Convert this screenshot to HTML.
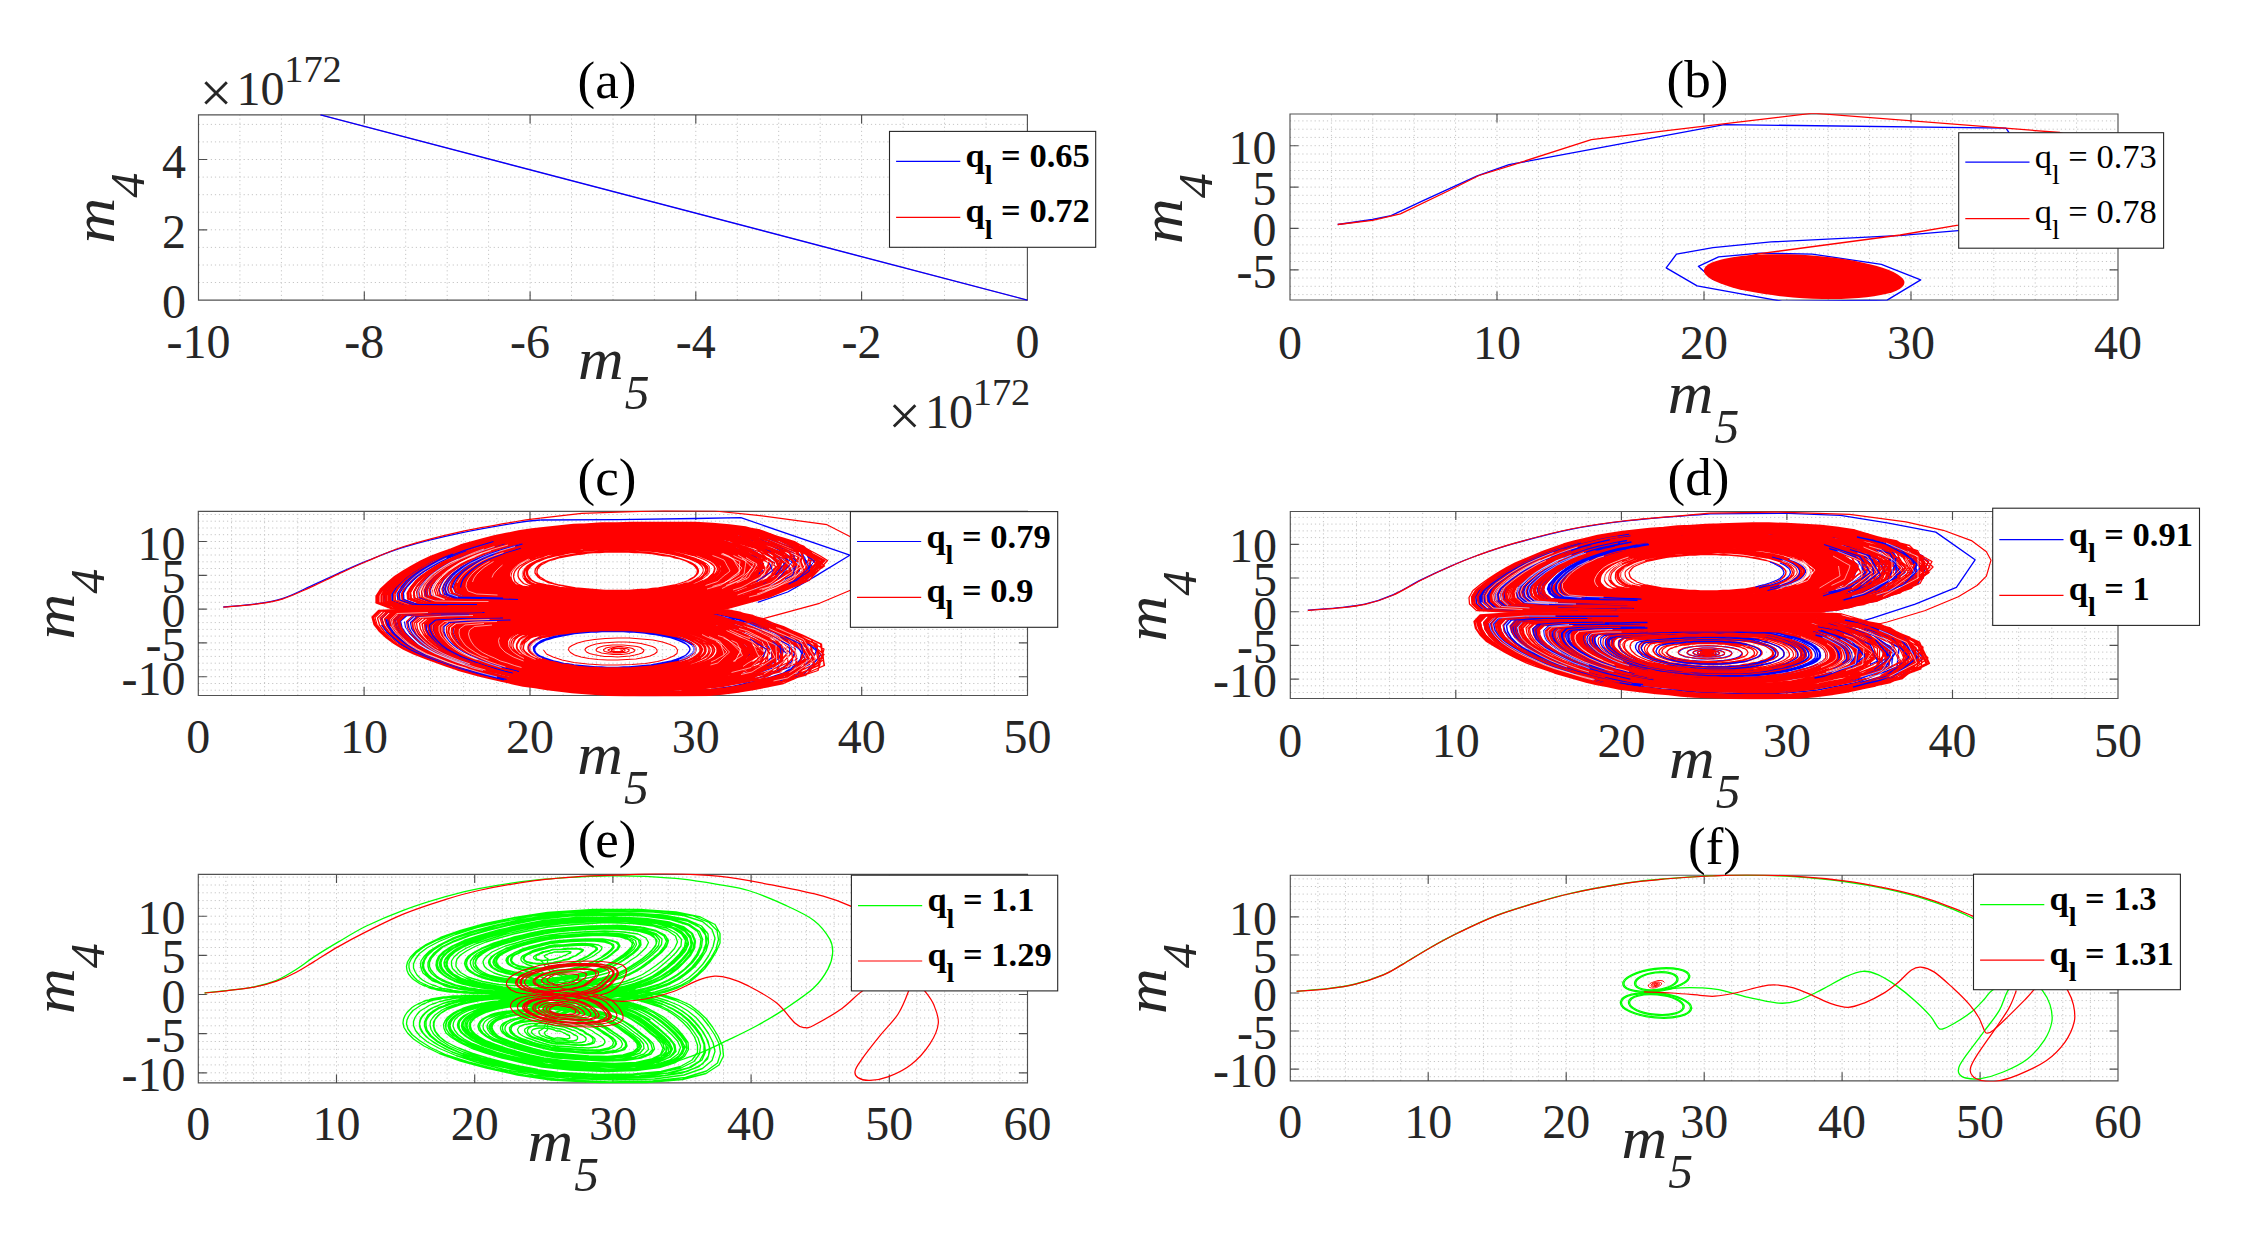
<!DOCTYPE html>
<html lang="en"><head><meta charset="utf-8"><title>Phase portraits m5-m4</title>
<style>html,body{margin:0;padding:0;background:#fff}svg{display:block}</style></head>
<body>
<svg width="2244" height="1252" viewBox="0 0 2244 1252" font-family="'Liberation Serif', serif">
<defs>
<clipPath id="cp-a"><rect x="198.5" y="114.1" width="829.7" height="186.8"/></clipPath>
<clipPath id="cp-b"><rect x="1290" y="113.2" width="828.8" height="187.6"/></clipPath>
<clipPath id="cp-c"><rect x="198.3" y="510.6" width="830" height="185.7"/></clipPath>
<clipPath id="cp-d"><rect x="1290.3" y="510.7" width="828.5" height="188.6"/></clipPath>
<clipPath id="cp-e"><rect x="198.3" y="873.6" width="830" height="210.1"/></clipPath>
<clipPath id="cp-f"><rect x="1290.3" y="874.4" width="828.5" height="207.2"/></clipPath>
</defs>
<rect width="2244" height="1252" fill="#fff"/>
<g id="ax-a">
<rect x="198.5" y="114.9" width="828.9" height="185.2" fill="#fff"/>
<path d="M239.9 300.1V114.9M281.4 300.1V114.9M322.8 300.1V114.9M364.3 300.1V114.9M405.7 300.1V114.9M447.2 300.1V114.9M488.6 300.1V114.9M530.1 300.1V114.9M571.5 300.1V114.9M613 300.1V114.9M654.4 300.1V114.9M695.8 300.1V114.9M737.3 300.1V114.9M778.7 300.1V114.9M820.2 300.1V114.9M861.6 300.1V114.9M903.1 300.1V114.9M944.5 300.1V114.9M986 300.1V114.9M198.5 282.5H1027.4M198.5 265H1027.4M198.5 247.4H1027.4M198.5 229.8H1027.4M198.5 212.2H1027.4M198.5 194.7H1027.4M198.5 177.1H1027.4M198.5 159.5H1027.4M198.5 141.9H1027.4M198.5 124.4H1027.4" stroke="#c6c6c6" stroke-width="1" stroke-dasharray="1.2 2.9" fill="none"/>
<path d="M198.5 114.9H1027.4V300.1H198.5ZM364.3 300.1v-8.5M364.3 114.9v8.5M530.1 300.1v-8.5M530.1 114.9v8.5M695.8 300.1v-8.5M695.8 114.9v8.5M861.6 300.1v-8.5M861.6 114.9v8.5M198.5 229.8h8.5M1027.4 229.8h-8.5M198.5 159.5h8.5M1027.4 159.5h-8.5" stroke="#262626" stroke-width="1.15" fill="none" stroke-opacity="0.8"/>
</g>
<g clip-path="url(#cp-a)">
<path d="M320.5 114.9L1027.4 300.1" stroke="#ff0000" stroke-width="0.6" fill="none" stroke-linejoin="round" />
<path d="M320.5 114.9L1027.4 300.1" stroke="#0000ff" stroke-width="1.4" fill="none" stroke-linejoin="round" />
</g>
<g font-size="48" fill="#262626">
<text x="198.5" y="358.2" text-anchor="middle">-10</text>
<text x="364.3" y="358.2" text-anchor="middle">-8</text>
<text x="530.1" y="358.2" text-anchor="middle">-6</text>
<text x="695.8" y="358.2" text-anchor="middle">-4</text>
<text x="861.6" y="358.2" text-anchor="middle">-2</text>
<text x="1027.4" y="358.2" text-anchor="middle">0</text>
<text x="186" y="318.1" text-anchor="end">0</text>
<text x="186" y="247.8" text-anchor="end">2</text>
<text x="186" y="177.5" text-anchor="end">4</text>
</g>
<g id="ax-b">
<rect x="1290" y="114" width="828" height="186" fill="#fff"/>
<path d="M1331.4 300V114M1372.8 300V114M1414.2 300V114M1455.6 300V114M1497 300V114M1538.4 300V114M1579.8 300V114M1621.2 300V114M1662.6 300V114M1704 300V114M1745.4 300V114M1786.8 300V114M1828.2 300V114M1869.6 300V114M1911 300V114M1952.4 300V114M1993.8 300V114M2035.2 300V114M2076.6 300V114M1290 294.6H2118M1290 286.3H2118M1290 278H2118M1290 269.8H2118M1290 261.5H2118M1290 253.2H2118M1290 244.9H2118M1290 236.7H2118M1290 228.4H2118M1290 220.1H2118M1290 211.9H2118M1290 203.6H2118M1290 195.3H2118M1290 187.1H2118M1290 178.8H2118M1290 170.5H2118M1290 162.2H2118M1290 154H2118M1290 145.7H2118M1290 137.4H2118M1290 129.2H2118M1290 120.9H2118" stroke="#c6c6c6" stroke-width="1" stroke-dasharray="1.2 2.9" fill="none"/>
<path d="M1290 114H2118V300H1290ZM1497 300v-8.5M1497 114v8.5M1704 300v-8.5M1704 114v8.5M1911 300v-8.5M1911 114v8.5M1290 269.8h8.5M2118 269.8h-8.5M1290 228.4h8.5M2118 228.4h-8.5M1290 187.1h8.5M2118 187.1h-8.5M1290 145.7h8.5M2118 145.7h-8.5" stroke="#262626" stroke-width="1.15" fill="none" stroke-opacity="0.8"/>
</g>
<g clip-path="url(#cp-b)">
<path d="M1337.7 224.5L1372.4 219.5L1391.1 215.7L1421 201.7L1477.2 175.9L1509 164.7L1533.3 160.2L1724.2 124.6L2005.9 128.2L2011.5 136.2L2070.5 184.9L2042.4 222.3L1958.2 230.7L1902 235.4L1771 241.9L1713 247.6L1676.5 254.1L1666.2 267.8L1697.1 285.9L1782.2 301.3L1887.1 300.2L1920.7 279.9L1881.4 264.4L1812.2 254.1L1759.8 253.2L1718.6 256.9L1698.4 266.3L1713 279.4L1752.3 289.7L1808.4 295.3" stroke="#0000ff" stroke-width="1.35" fill="none" stroke-linejoin="round" />
<ellipse cx="1804.1" cy="276.6" rx="100.5" ry="21.6" transform="rotate(3.6 1804.1 276.6)" fill="#ff0000"/>
<path d="M1337.7 224.5L1372.4 220.4L1400.4 213.9L1449.1 190.5L1479 175.5L1514.6 164.3L1591.3 139.6L1813.1 113.2L2060 132.5L2107.9 147.4L2098.5 194.2L1958.2 225.1L1900.2 235L1759.8 253.7L1733.6 259.7" stroke="#ff0000" stroke-width="1.3" fill="none" stroke-linejoin="round" />
</g>
<g font-size="48" fill="#262626">
<text x="1290" y="358.6" text-anchor="middle">0</text>
<text x="1497" y="358.6" text-anchor="middle">10</text>
<text x="1704" y="358.6" text-anchor="middle">20</text>
<text x="1911" y="358.6" text-anchor="middle">30</text>
<text x="2118" y="358.6" text-anchor="middle">40</text>
<text x="1276.5" y="287.8" text-anchor="end">-5</text>
<text x="1276.5" y="246.4" text-anchor="end">0</text>
<text x="1276.5" y="205.1" text-anchor="end">5</text>
<text x="1276.5" y="163.7" text-anchor="end">10</text>
</g>
<g id="ax-c">
<rect x="198.3" y="511.4" width="829.2" height="184.1" fill="#fff"/>
<path d="M231.5 695.5V511.4M264.6 695.5V511.4M297.8 695.5V511.4M331 695.5V511.4M364.1 695.5V511.4M397.3 695.5V511.4M430.5 695.5V511.4M463.6 695.5V511.4M496.8 695.5V511.4M530 695.5V511.4M563.1 695.5V511.4M596.3 695.5V511.4M629.5 695.5V511.4M662.7 695.5V511.4M695.8 695.5V511.4M729 695.5V511.4M762.2 695.5V511.4M795.3 695.5V511.4M828.5 695.5V511.4M861.7 695.5V511.4M894.8 695.5V511.4M928 695.5V511.4M961.2 695.5V511.4M994.3 695.5V511.4M198.3 690.2H1027.5M198.3 683.5H1027.5M198.3 676.7H1027.5M198.3 669.9H1027.5M198.3 663.2H1027.5M198.3 656.4H1027.5M198.3 649.7H1027.5M198.3 642.9H1027.5M198.3 636.1H1027.5M198.3 629.4H1027.5M198.3 622.6H1027.5M198.3 615.9H1027.5M198.3 609.1H1027.5M198.3 602.3H1027.5M198.3 595.6H1027.5M198.3 588.8H1027.5M198.3 582.1H1027.5M198.3 575.3H1027.5M198.3 568.5H1027.5M198.3 561.8H1027.5M198.3 555H1027.5M198.3 548.3H1027.5M198.3 541.5H1027.5M198.3 534.7H1027.5M198.3 528H1027.5M198.3 521.2H1027.5M198.3 514.5H1027.5" stroke="#c6c6c6" stroke-width="1" stroke-dasharray="1.2 2.9" fill="none"/>
<path d="M198.3 511.4H1027.5V695.5H198.3ZM364.1 695.5v-8.5M364.1 511.4v8.5M530 695.5v-8.5M530 511.4v8.5M695.8 695.5v-8.5M695.8 511.4v8.5M861.7 695.5v-8.5M861.7 511.4v8.5M198.3 676.7h8.5M1027.5 676.7h-8.5M198.3 642.9h8.5M1027.5 642.9h-8.5M198.3 609.1h8.5M1027.5 609.1h-8.5M198.3 575.3h8.5M1027.5 575.3h-8.5M198.3 541.5h8.5M1027.5 541.5h-8.5" stroke="#262626" stroke-width="1.15" fill="none" stroke-opacity="0.8"/>
</g>
<g clip-path="url(#cp-c)">
<path d="M223.3 607C228.4 606.5 244.3 605.6 254.1 604.2C264 602.8 272.9 601.5 282.2 598.6C291.6 595.6 300.9 590.6 310.3 586.4C319.7 582.2 329 577.5 338.4 573.3C347.7 569.1 355.5 565.5 366.4 561.1C377.4 556.8 388.3 551.8 403.9 547.1C419.5 542.4 441.3 537.1 460 533.1C478.7 529 502.8 525 516.2 522.8C529.6 520.6 536.4 520.4 540.5 520" stroke="#0000ff" stroke-width="1.3" fill="none" stroke-linejoin="round" />
<path d="M540.5 520L618 519.6L696 518.5L740.9 517.7L849.8 555.2L813.9 577.1L787.7 592L757.7 602.3" stroke="#0000ff" stroke-width="1.3" fill="none" stroke-linejoin="round" />
<path transform="scale(0.5)" d="M1519 1142l-1 7-11 6-11 7-11 6-11 6-16 5-15 4-16 5-16 5-17 4-24 1-23 0-20 1-20 0-19 1-19 0-18 0-17 0-18 0-18 0-19 0-19 0-20-1-21 0-23-1-25-1-28-1-33-1-38-1-48-1-20-7-3-9 3-10 6-9 7-8 8-8 11-7 11-7 12-7 14-6 15-6 14-5 16-5 17-5 17-4 18-4 19-3 20-3 20-2 21-2 20-2 21-1 21 0 22-1 21 0 22 0 22 0 23 1 23 1 23 1 23 3 23 3 18 4 18 5 19 5 13 6 14 6 13 7 14 6-1 7-2 7zM1504 1142l-7 6-6 7-7 6-13 5-14 5-13 5-13 5-16 4-15 4-16 4-22 1-21 1-20 1-18 0-18 1-18 0-17 0-16 0-17 0-17 0-18 0-17-1-19 0-19-1-21-1-23-1-25-1-28-1-33-2-42-1-17-7-4-8 2-8 4-8 5-8 7-7 8-7 10-6 11-6 12-6 13-5 14-5 14-5 16-4 15-4 17-4 18-3 18-2 19-2 19-2 19-2 19-1 20-1 20 0 20 0 20 0 21 0 21 0 22 1 21 2 22 2 21 3 19 3 15 6 15 5 15 5 15 5 8 7 7 6 7 7 8 6zM1558 1142l-2 8-13 7-13 7-13 7-13 7-18 5-18 5-18 6-17 5-19 4-29 1-25 0-24 1-22 0-21 0-20 0-20 1-19 0-20 0-20-1-20 0-21 0-22 0-24-1-25 0-29-1-32 0-38-1-46-1-58 0-23-9-2-11 5-10 8-11 9-9 11-9 13-8 13-8 15-7 15-7 17-7 16-5 18-6 18-5 19-5 20-4 21-4 22-3 22-3 23-2 23-2 24-2 24 0 24-1 24 0 25 0 25 0 26 0 27 1 27 2 26 2 26 4 21 5 21 6 21 5 15 7 16 7 15 8 15 7-2 8-2 8zM1598 1142l-13 8-13 8-13 8-12 9-19 6-19 6-19 6-19 6-20 5-20 5-32 1-28 0-26 0-24 0-23 0-22 1-21 0-21 0-21 0-22 0-22 0-23-1-24 0-26 0-29 0-32 0-37-1-44 0-53 0-69-1-25-9-2-12 7-13 11-11 12-11 13-10 15-9 16-9 17-8 18-7 18-7 18-7 20-6 20-5 21-6 22-4 23-5 24-3 25-3 25-3 25-2 26-1 26-1 27-1 26 0 27 0 29 0 29 0 29 1 30 2 30 2 28 4 25 6 25 5 18 8 18 7 19 8 18 7 3 10 3 9 3 9zM1555 1141l-9 8-9 8-9 8-16 5-16 6-15 6-16 6-18 5-18 5-18 4-28 1-25 1-23 0-22 0-21 1-20 0-19 0-19 0-20 0-19 0-20 0-21-1-22 0-23 0-25-1-29 0-32-1-37-1-45-1-56 0-23-9-2-10 5-11 7-10 10-9 11-9 12-8 13-8 14-7 16-7 16-6 16-6 18-5 18-5 18-5 20-4 21-4 21-3 23-3 22-2 23-2 23-1 23-1 24 0 23 0 25-1 24 0 26 1 26 1 26 1 26 3 26 3 23 5 18 6 17 6 18 6 18 7 8 7 9 8 8 8 9 8zM1566 1141l-9 8-10 8-9 8-16 6-17 7-16 6-17 6-18 5-18 5-19 4-29 1-26 0-24 1-23 0-21 0-21 0-20 0-19 0-20 0-20 0-21 0-21 0-22 0-24-1-26 0-29-1-33 0-38-1-47-1-58-1-23-8-1-11 5-11 9-10 9-10 12-9 13-8 13-8 15-7 16-7 16-7 17-5 18-6 18-5 19-5 20-4 21-4 22-3 23-3 22-2 23-2 24-1 24-1 24-1 24 0 25 0 25 0 26 0 27 1 27 2 27 2 26 3 25 5 18 6 19 6 18 7 18 6 9 8 9 8 9 8 9 8zM1502 1142l-6 6-7 7-6 6-13 5-13 5-13 5-13 5-15 4-16 5-15 4-23 0-21 1-19 1-19 1-18 0-17 0-17 0-17 0-17 0-17 0-18 0-18 0-19-1-19-1-21 0-23-1-25-2-29-1-33-1-42-2-17-6-3-9 1-8 5-8 5-8 8-7 9-7 9-6 12-6 12-6 13-5 14-5 15-5 15-4 16-4 17-3 17-3 18-3 19-2 19-2 18-1 20-1 19-1 20 0 19 0 20 0 21 0 21 0 21 1 21 2 21 2 21 3 19 3 15 5 15 5 15 5 15 5 8 7 7 6 8 7 7 6zM1563 1141l-7 9-7 8-15 6-15 7-15 7-15 6-19 5-18 5-18 5-19 5-29 0-26 1-23 0-23 0-21 1-20 0-20 0-19 0-20 0-20 0-20 0-21-1-22 0-24 0-26-1-29 0-32-1-38-1-47 0-58-1-23-8-2-11 5-11 8-10 9-10 11-9 13-8 13-8 14-8 16-6 16-7 17-6 18-5 18-6 19-4 20-5 21-4 22-3 23-3 23-2 23-2 24-2 24 0 25-1 24 0 25 0 26 0 27 0 27 1 27 2 27 2 27 3 20 6 20 6 20 6 20 6 13 8 13 7 13 8 13 8-6 8zM1621 1141l-9 10-9 10-18 7-18 8-18 7-18 8-21 6-21 6-22 6-21 5-35 1-31 0-28 0-26 0-24 0-24 0-22 0-22 0-23 0-22 0-24 0-24 0-26 0-28 0-31-1-35 0-40 0-48 0-59 0-76 0-28-10-1-14 9-13 12-13 14-11 15-11 17-10 17-9 18-9 20-8 20-7 19-7 21-7 22-6 22-5 23-5 25-5 25-4 27-3 27-3 27-2 28-2 28-1 29 0 28-1 30 0 30-1 32 1 32 1 32 2 33 2 31 4 24 7 23 7 24 7 23 7 16 10 16 9 15 9 16 9-9 9zM1613 1141l-12 9-11 9-11 9-19 7-19 7-19 7-19 7-21 5-20 6-21 6-34 0-30 0-27 0-26 0-24 0-22 0-23 0-21 0-22 0-22 0-23 0-24 0-25 0-28 0-30 0-33 0-39-1-47 0-56 0-73-1-26-9-1-13 8-13 12-12 13-12 15-10 16-10 16-9 18-8 19-8 19-7 19-6 20-7 21-6 22-5 22-5 24-4 25-4 26-3 26-3 26-2 27-2 27-1 28 0 27-1 29 0 29 0 31 0 31 1 31 2 31 2 31 4 28 5 21 8 20 7 21 8 20 7 10 9 10 10 10 9 10 9zM1599 1142l-13 8-13 8-12 9-13 8-19 6-19 6-19 6-19 6-20 5-20 5-32 1-29 0-26 0-24 0-23 1-22 0-21 0-21 0-21 0-22 0-22 0-23 0-24-1-26 0-29 0-32 0-37-1-44 0-53 0-69-1-25-9-2-12 7-13 11-11 12-11 13-10 15-9 16-9 17-8 18-7 18-7 18-7 20-6 20-5 21-6 21-4 24-5 24-3 24-3 26-3 25-2 26-2 26 0 27-1 26 0 28-1 28 0 29 1 30 1 29 1 30 3 29 4 25 5 25 6 18 8 19 7 18 8 18 7 3 10 4 9 3 9zM1516 1142l-8 6-7 7-8 7-14 5-14 5-14 6-14 5-16 4-16 4-16 4-24 1-21 0-21 1-19 0-18 1-18 0-17 0-17 0-18 0-17 0-18 0-18-1-19 0-20-1-22 0-23-1-26-1-31-1-35-2-44-1-19-7-4-8 2-9 4-9 6-7 7-8 9-7 10-7 12-6 12-6 14-6 14-5 15-5 16-4 16-4 17-4 19-4 19-2 19-3 20-2 20-1 21-2 21 0 21-1 21 0 21 0 22 0 23 1 23 1 23 1 22 2 22 3 21 4 16 6 15 5 16 6 15 5 7 7 8 7 7 7 7 7zM1615 1142l-3 9-16 9-16 8-16 8-16 8-21 6-21 6-20 6-21 6-22 5-34 0-31 0-28 1-25 0-24 0-23 0-22 0-22 0-22 0-23 0-22 0-24-1-26 0-27 0-31 0-34 0-39 0-47 0-57-1-73 0-28-10 0-13 8-13 11-12 13-11 15-11 16-10 16-9 18-8 19-8 19-7 19-7 21-7 21-6 22-5 22-5 25-5 25-4 26-3 26-2 27-3 28-2 27-1 29 0 28-1 29 0 30 0 31 0 32 1 32 2 32 2 32 4 24 7 25 6 24 7 18 9 19 8 18 8 18 9-4 10-3 10zM1617 1142l-14 9-13 8-14 9-14 8-20 7-20 6-19 6-20 7-21 5-21 6-34 0-30 0-27 0-26 0-24 0-22 0-23 0-21 0-22 0-22 0-23 0-24 0-25 0-28 0-30 0-34 0-39-1-46 0-57 0-73 0-27-10 0-13 8-13 11-12 13-12 15-10 16-10 16-9 18-8 19-8 19-7 20-7 20-6 21-6 22-5 22-5 24-5 25-3 26-3 26-3 27-2 27-2 27-1 28-1 27 0 29 0 29-1 31 1 31 1 31 1 32 3 30 4 26 6 27 6 19 8 19 8 19 8 20 8 3 9 3 10 3 9zM1525 1142l-9 7-9 6-10 7-9 6-15 5-15 5-16 5-15 5-16 4-17 5-25 0-22 1-21 1-20 0-19 0-18 1-18 0-17 0-18 0-18 0-18-1-19 0-20 0-21-1-22-1-25 0-27-1-32-1-37-2-47-1-19-7-4-9 3-9 5-9 7-8 8-8 10-7 11-7 12-7 14-6 14-5 14-6 16-5 16-4 17-4 18-4 19-3 19-3 20-3 20-1 21-2 20-1 21-1 22-1 21 0 22 0 22 0 23 1 23 1 23 1 24 3 22 3 20 4 20 4 14 6 15 6 15 6 15 6 3 7 3 7 3 8zM1583 1141l-7 9-7 9-17 7-16 7-16 7-16 7-19 5-20 5-19 5-19 6-32 0-27 0-26 1-23 0-23 0-21 0-21 0-20 0-21 0-21 0-21 0-22-1-23 0-25 0-28-1-31 0-34 0-42-1-49-1-64 0-24-9-1-12 6-11 9-11 11-11 13-9 13-9 15-8 16-8 17-7 17-7 17-6 19-6 19-5 20-5 21-5 22-4 23-3 24-3 24-2 24-3 25-1 25-1 26-1 25 0 27-1 27 0 28 1 29 0 29 2 29 3 28 3 21 6 22 7 21 6 21 6 15 8 14 8 14 9 14 8-7 8zM1505 1142l-8 6-8 6-9 7-8 6-14 5-14 4-14 5-14 5-16 4-15 3-23 1-21 1-19 1-19 0-18 1-17 0-17 0-17 0-17 0-18 0-17 0-18 0-19-1-19-1-21 0-23-1-26-1-28-2-34-1-42-2-18-6-3-9 1-8 5-8 5-8 8-7 9-7 9-6 12-6 12-6 13-5 14-5 15-5 16-4 16-4 16-3 18-4 18-2 19-2 19-2 19-2 19-1 20 0 20-1 19 0 21 0 20 1 21 0 21 1 22 2 21 2 21 2 18 4 18 4 14 6 14 5 14 6 14 5 3 7 3 7 4 6zM1521 1142l-9 7-10 6-9 7-9 6-15 5-16 5-15 5-15 4-16 4-17 4-23 1-22 1-21 0-19 1-19 0-18 1-17 0-17 0-18 0-17-1-18 0-18 0-20-1-20 0-21-1-24-1-26-1-30-1-36-1-44-2-19-7-4-8 2-9 5-8 6-8 7-8 9-7 10-7 12-6 13-6 13-6 14-5 15-5 16-4 17-4 17-4 18-3 19-3 20-2 20-2 20-2 20-1 21-1 21-1 21 0 21 0 22 0 23 1 23 1 23 1 22 2 23 3 19 5 20 4 14 6 15 6 14 6 15 5 3 8 3 7 3 7zM1537 1141l-5 8-6 8-14 6-14 6-13 6-14 6-17 5-17 4-17 5-17 5-27 0-23 1-23 0-20 1-20 0-19 0-19 0-18 1-19 0-19-1-19 0-20 0-21 0-22-1-24 0-27-1-30-1-35 0-42-1-53-1-22-8-3-10 4-10 6-10 8-9 10-8 11-8 12-7 14-7 15-7 15-6 15-5 17-6 18-5 18-4 19-4 20-4 21-3 21-2 22-2 22-2 22-2 23 0 23-1 23 0 23 0 24 0 24 1 25 1 25 1 25 3 24 3 19 5 18 6 19 5 18 6 12 7 12 7 12 7 12 7-6 8zM1525 1142l-10 7-9 6-9 7-10 6-15 5-15 5-15 5-15 5-17 4-17 4-24 1-22 1-21 0-20 1-19 0-18 1-18 0-17 0-18 0-18 0-18-1-19 0-20-1-20 0-23-1-24-1-27-1-32-1-37-1-47-1-19-7-3-9 2-9 6-9 6-8 9-8 9-7 11-7 12-7 13-6 14-5 15-6 15-4 17-5 17-4 17-4 19-3 19-3 20-2 20-2 21-2 20-1 21-1 22 0 21-1 22 0 22 0 23 1 23 1 23 1 23 3 23 3 19 4 20 4 15 6 14 6 15 6 15 6 3 7 3 8 3 7z" stroke="#0000ff" stroke-width="2.6" fill="none" stroke-linejoin="round"/>
<path transform="scale(0.5)" d="M1543 1299l0 8 1 8 0 8-15 7-16 6-15 7-16 7-22 4-23 5-22 4-25 3-24 2-25 1-24 1-24 1-23 0-23 0-22-1-21-1-21-2-21-2-19-2-20-2-20-2-18-3-19-4-17-3-17-4-17-4-18-5-17-5-16-5-15-6-16-7-16-7-14-8-11-8-8-9-8-9-4-10-1-11 12-9 46-3 46-1 37 0 33-1 28-1 26 0 24-1 22 0 21 0 20 0 20 0 19 0 20 0 19 0 21 0 21 0 22 1 23 0 26 1 25 1 19 4 17 6 17 5 17 5 16 5 14 7 14 7 13 7 14 6zM1599 1299l11 9-8 9-8 10-9 9-8 9-24 7-25 6-24 7-24 6-29 4-29 4-30 2-29 2-29 1-29 0-27 0-27-1-26-1-25-2-24-2-24-2-23-2-22-3-22-3-22-4-20-3-20-5-19-4-20-5-20-6-19-5-19-6-19-7-20-8-19-8-18-9-15-9-12-11-12-11-8-12-3-13 12-12 59-2 57-1 47 0 39-1 34 0 31 0 28 0 25 0 25-1 23 0 23 0 22 0 23 0 22 0 24 0 24 0 26 1 28 0 31 0 30 2 23 5 23 5 22 5 17 7 16 8 16 7 17 7 11 9 10 9zM1630 1299l12 10-8 10-9 10-9 10-9 10-26 7-27 7-26 7-27 7-31 5-32 3-32 3-32 2-32 0-30 1-30 0-29-1-28-2-27-2-26-2-25-2-24-3-24-3-24-3-23-4-22-4-21-5-20-5-21-5-21-6-21-6-20-6-21-8-21-7-22-9-20-10-17-10-14-11-14-13-9-13-5-14 13-13 65-2 63-1 51 0 43 0 37 0 33 0 30 0 28 0 26-1 25 0 24 0 24 0 24 0 24 0 26 0 26 0 28 0 30 0 34 0 33 2 24 5 25 6 24 6 18 8 18 7 17 8 18 8 12 10 12 10zM1542 1299l9 8-7 7-8 8-7 8-7 8-21 5-20 6-21 5-20 6-24 3-24 3-25 2-25 2-25 1-23 0-24 0-23 0-22-1-21-1-21-2-21-2-20-2-19-2-20-2-18-3-19-4-17-3-17-4-17-5-17-4-17-5-16-6-15-5-16-7-15-7-14-8-11-8-8-9-7-9-5-10 0-10 11-10 47-2 45-1 37-1 32-1 28 0 26-1 23 0 22 0 21-1 20 0 20 0 19 0 20 0 19 0 20 0 21 0 22 1 24 0 26 1 25 1 19 5 20 4 19 4 14 7 14 6 14 6 15 6 8 8 9 7zM1591 1298l-3 10-3 9-3 9-4 9-21 7-21 7-21 7-21 7-26 4-27 5-28 3-28 2-28 2-28 1-27 0-26 0-26-1-25-1-24-1-23-2-23-2-22-3-21-2-21-3-21-3-20-4-19-4-18-5-19-4-19-5-18-6-18-6-18-6-18-7-18-8-17-9-13-9-11-10-10-11-7-11-2-12 12-11 55-2 53-1 43 0 37-1 32 0 29-1 26 0 25 0 23 0 22 0 22-1 21 0 22 0 21 0 23 0 23 1 25 0 27 0 29 0 29 2 22 4 22 5 17 7 17 6 16 7 17 6 14 8 14 8 14 8zM1545 1299l4 8 4 8-11 7-12 8-11 7-12 8-22 5-22 5-22 5-22 4-25 3-25 3-25 1-25 1-24 1-24 0-23-1-23-1-22-1-21-1-21-2-20-2-20-3-20-2-19-3-19-3-17-4-18-4-17-5-18-4-16-5-17-6-16-6-16-7-15-7-14-8-11-8-9-9-7-10-5-10 0-10 12-10 48-2 46-1 38-1 33 0 28-1 26 0 24-1 22 0 22 0 20 0 20 0 19 0 20 0 19 0 21 0 21 0 22 0 24 1 25 0 26 2 18 5 19 4 19 5 18 5 15 6 14 7 15 6 15 7 4 8zM1568 1298l-3 9-3 9-3 8-3 9-20 6-20 7-19 6-20 7-25 4-25 4-26 3-26 2-27 2-25 1-26 0-24 0-24 0-24-1-22-2-22-1-22-2-21-2-20-3-20-2-20-4-19-3-18-4-18-4-17-5-18-4-18-6-17-5-16-7-17-6-17-8-15-8-12-8-9-10-9-10-5-10-2-11 12-10 50-3 49-1 40 0 34-1 30-1 27 0 25 0 23-1 22 0 21 0 21 0 20 0 21 0 20 0 21 0 23 0 23 0 25 1 27 0 27 2 21 4 21 5 16 6 16 6 16 6 15 6 13 8 13 7 13 8zM1507 1299l3 7 3 7-10 6-11 7-10 6-11 7-19 4-20 4-19 5-19 4-22 2-22 2-22 2-21 1-21 0-21 0-20 0-20-1-19-1-19-1-18-2-18-1-18-2-17-2-17-3-17-3-15-3-16-4-15-4-16-4-14-4-14-5-14-6-13-6-12-6-11-7-8-7-6-8-5-8-2-8 2-9 10-8 38-2 37-2 31-1 27-1 25 0 22-1 21-1 19 0 19-1 18 0 18 0 17 0 18 0 18 0 18 0 18 1 20 0 21 1 22 0 23 2 16 4 17 4 17 4 16 4 13 6 13 6 13 6 12 6 4 7zM1496 1299l7 6-7 7-7 7-7 6-7 7-17 4-17 5-18 4-17 5-20 3-20 3-21 2-21 1-21 1-20 0-19 1-20-1-19 0-18-1-18-1-18-2-18-1-17-2-17-2-17-2-16-3-16-3-15-4-15-3-16-4-14-5-14-5-13-5-13-6-13-6-10-7-8-7-6-7-5-8-2-9 1-8 11-8 37-3 36-1 30-1 27-1 24-1 22-1 21 0 19-1 18 0 18 0 18 0 17 0 18 0 17 0 18 0 18 1 19 0 21 1 21 1 22 1 16 4 17 4 17 4 12 5 12 5 12 6 12 5 6 7 7 6zM1602 1299l5 9 6 10-14 9-13 9-14 9-13 8-26 6-27 6-26 5-26 6-30 4-30 2-30 2-29 1-29 0-27 0-28-1-26-1-25-2-25-2-24-2-23-2-23-3-22-3-22-4-20-4-20-4-20-5-19-5-20-5-20-6-19-6-19-7-20-7-20-9-18-9-15-9-12-11-12-12-7-12-3-13 12-11 60-3 57 0 47-1 40 0 34 0 31 0 28-1 26 0 25 0 23 0 23 0 22 0 23 0 22 0 24 0 24 0 26 0 29 0 31 1 30 1 22 6 21 5 22 6 22 6 17 7 17 8 18 7 17 8 6 9zM1562 1299l0 8 0 9 1 8-17 7-16 7-17 8-17 7-24 4-23 5-24 4-26 3-26 2-26 2-26 1-25 0-24 0-24 0-23-1-22-2-22-1-21-2-21-2-20-2-20-3-20-3-18-4-19-3-17-5-18-4-18-5-18-5-17-5-16-7-17-6-17-8-15-8-13-8-10-10-9-10-5-10-2-12 12-10 50-2 48-1 41-1 34 0 30-1 27 0 25-1 24 0 22 0 21 0 21 0 20 0 21 0 20 0 22 0 22 0 23 0 25 1 28 0 26 2 21 4 18 6 17 5 18 6 17 5 15 7 14 8 15 7 14 7zM1584 1299l5 9 5 9-14 8-13 9-13 8-14 8-25 6-25 5-25 5-25 6-28 3-28 2-28 2-28 0-26 1-27 0-25-1-25-1-24-2-23-1-22-2-22-3-22-2-21-3-21-3-19-4-19-4-19-5-19-4-19-5-19-6-18-6-18-6-18-7-19-8-17-9-13-9-12-10-10-11-8-11-2-12 12-11 55-3 53-1 44 0 37-1 33 0 29 0 27-1 25 0 23 0 23 0 22 0 21 0 22 0 22 0 23 0 23 0 25 0 27 0 30 0 29 2 21 5 20 6 21 5 21 6 16 7 16 7 17 8 16 7 5 9zM1599 1299l5 9 6 10-14 9-13 8-13 9-14 9-26 6-26 5-26 6-26 6-29 3-30 2-30 2-29 1-28 1-28-1-27 0-26-1-25-2-24-2-24-2-23-3-23-3-22-3-22-3-21-4-19-4-20-5-19-5-20-5-20-6-19-6-19-7-19-8-20-8-18-9-14-9-12-11-12-11-7-13-3-12 13-12 59-2 57-1 46 0 40 0 34-1 30 0 28 0 26 0 24 0 23 0 23 0 22 0 22 0 23 0 23 0 25 0 25 0 28 0 31 0 30 2 22 5 21 6 21 6 22 5 17 8 18 7 17 8 17 7 6 10zM1551 1299l5 8 4 8-11 8-12 8-12 7-12 8-22 5-23 5-22 5-23 5-25 3-26 2-26 2-25 1-25 0-24 0-24 0-23-1-22-1-22-2-21-2-21-2-20-2-20-3-20-3-19-3-18-4-18-4-17-5-18-5-18-5-16-5-17-7-16-6-16-8-15-8-12-8-9-9-8-10-5-11-1-11 12-9 50-3 48-1 39 0 34-1 30 0 26-1 25 0 23 0 21-1 21 0 20 0 20 0 20 0 20 0 21 1 21 0 23 0 24 0 27 1 26 2 19 4 19 5 19 5 19 5 15 7 14 6 15 7 15 6 5 9zM1551 1299l0 8 1 8 0 8-16 7-16 7-16 7-16 7-24 4-23 5-23 4-25 3-25 2-25 1-25 1-24 1-24 0-22-1-23-1-21-1-21-1-21-2-20-2-20-3-19-2-19-3-18-3-18-4-17-4-17-4-17-5-17-5-16-5-16-6-16-7-16-7-14-8-11-8-9-9-8-10-5-10-1-10 11-10 47-2 46-1 38-1 32-1 29 0 26-1 24 0 23-1 21 0 20 0 20 0 20 0 20 0 20 0 21 0 21 0 23 0 24 1 26 0 26 2 20 4 18 5 17 6 17 5 17 5 14 7 14 7 14 7 14 7zM1525 1299l0 7 0 8 0 7-15 7-15 6-15 6-14 6-22 5-21 4-21 4-23 2-23 2-23 2-22 0-23 1-21 0-21-1-21 0-20-1-19-2-19-1-19-2-18-2-18-3-17-2-17-3-16-4-16-4-16-4-16-4-15-4-15-6-14-5-14-6-13-7-12-7-9-7-7-8-5-9-4-9 1-9 11-8 40-3 39-1 33-1 29-1 26-1 23-1 22 0 20-1 20 0 18 0 19 0 18 0 19 0 18 0 19 0 20 0 21 0 22 1 24 0 23 2 19 4 16 5 16 4 16 5 16 5 13 7 12 6 13 6 13 7zM1613 1299l2 10 1 10 2 9-19 9-19 8-19 8-19 9-28 5-28 5-28 6-30 3-30 3-31 1-30 1-29 1-29-1-27 0-27-2-26-1-24-3-24-2-24-3-23-2-22-4-22-3-21-4-20-5-20-4-19-6-20-5-20-6-19-6-19-7-20-7-19-9-19-9-15-9-12-11-12-12-8-12-3-13 13-12 60-2 58-1 47 0 40 0 34-1 31 0 28 0 27 0 24 0 24 0 23 0 22-1 23 0 23 0 24 0 24 0 27 0 29 1 31 0 31 1 24 5 20 6 20 7 20 6 20 6 18 8 17 9 18 8 18 8zM1615 1299l1 10 1 10 2 10-19 8-19 8-19 9-19 8-28 5-28 6-28 5-30 3-31 3-30 2-30 1-30 0-28 0-28-1-27-1-26-2-25-2-24-2-24-3-23-3-23-3-22-3-22-4-20-5-20-5-20-5-21-5-20-6-20-6-20-7-20-8-21-8-19-10-16-10-13-11-13-12-8-12-4-14 13-12 62-2 60-1 49 0 41 0 36 0 32 0 29-1 27 0 25 0 24 0 23 0 23 0 23 0 24 0 24 0 25 0 27 0 29 1 31 0 32 1 23 5 20 7 21 6 20 7 20 6 17 8 17 8 18 9 17 8zM1606 1298l-3 10-2 10-3 9-3 10-22 7-22 7-22 8-22 7-28 5-28 4-29 4-29 2-30 2-29 1-28 0-28 0-27-1-26-1-25-1-24-2-24-3-23-2-23-3-22-3-21-3-21-4-20-5-19-4-19-5-20-5-20-6-19-6-19-7-19-8-19-8-18-9-15-9-12-11-11-11-8-12-3-13 13-11 59-3 56-1 47 0 39 0 34 0 31-1 27 0 26 0 24 0 23 0 23 0 22 0 22 0 23 0 23 0 25 0 25 0 28 0 31 0 30 2 23 5 23 5 17 7 18 6 17 7 18 7 14 8 15 9 15 8zM1618 1299l11 10-8 9-9 10-8 10-9 10-25 7-26 6-25 7-26 7-30 4-31 4-31 2-31 2-31 1-29 0-29 0-29-1-27-1-26-2-26-2-24-2-24-3-24-3-23-3-22-3-22-5-21-4-20-5-20-5-21-6-20-5-20-7-21-7-20-8-21-8-20-10-16-10-14-11-13-12-9-13-3-14 12-12 64-3 61 0 49 0 42 0 37 0 32 0 29-1 27 0 26 0 24 0 24 0 23 0 24 0 23 0 25 0 25 0 28 0 29 0 32 0 32 2 24 6 24 5 23 6 17 7 18 8 17 7 17 8 12 9 11 10z" stroke="#0000ff" stroke-width="2.6" fill="none" stroke-linejoin="round"/>
<path transform="scale(0.5)" d="M1380 1298l-1 4-3 4-4 4-5 3-7 3-8 3-9 3-10 2-10 2-10 2-11 2-11 1-11 1-11 1-11 1-11 0-11 1-11 0-11 0-11-1-11 0-11-1-11-1-11-1-11-1-11-2-10-1-11-3-9-2-9-3-9-3-7-3-5-3-5-4-2-4-1-4 1-3 3-4 4-4 6-3 8-4 8-2 9-3 10-2 10-2 11-2 10-2 11-1 11-1 11-1 11 0 11-1 10 0 11 0 11 0 11 0 11 1 10 0 11 1 11 1 11 2 10 1 10 2 10 2 10 2 9 3 8 3 7 3 6 3 5 4 3 4zM1388 1298l-1 4-2 4-5 4-6 4-7 3-9 3-9 3-11 3-10 2-11 2-12 1-11 1-12 1-11 1-12 1-11 0-11 0-12 0-11 0-11 0-12-1-11 0-11-1-11-1-11-2-11-1-10-2-10-2-10-3-9-2-9-3-7-4-6-3-4-4-3-4-1-4 0-4 3-3 4-4 6-4 6-3 9-3 9-3 11-2 10-2 11-2 11-1 11-2 11-1 11-1 12 0 11-1 11 0 11 0 11 0 12 0 11 0 11 1 12 1 11 1 11 1 12 2 11 1 10 3 10 2 10 3 8 3 8 3 6 4 5 3 3 4zM1392 1298l-1 5-2 4-5 4-6 3-8 4-9 3-10 3-10 2-11 2-12 2-11 2-12 1-12 1-11 1-12 0-12 1-11 0-12 0-11 0-12 0-11-1-12-1-11 0-12-2-11-1-11-1-11-2-11-3-10-2-10-3-9-3-7-3-7-4-5-3-4-4-2-5-1-4 2-4 3-4 5-4 6-4 8-3 12-3 13-2 12-2 12-2 12-1 12-2 12-1 12 0 12-1 12-1 12 0 11 0 12 0 12 0 11 1 12 1 12 0 12 1 12 2 12 1 11 2 11 2 10 3 9 3 9 3 7 4 6 3 5 4 3 4z" stroke="#0000ff" stroke-width="2.8" fill="none" stroke-linejoin="round"/>
<path transform="scale(0.5)" d="M1441 1142l-3 5-5 5-7 5-8 4-10 4-11 4-12 3-13 3-12 3-14 2-15 2-15 1-15 1-14 0-13 1-14 0-13 0-13 0-14 0-13 0-14 0-13-1-14 0-15-1-15-1-15-2-17-1-18-2-20-2-23-2-13-4-7-5-3-6-1-5 0-6 3-5 4-5 6-5 7-5 9-4 10-4 11-4 12-4 13-3 13-2 13-3 14-2 14-1 15-2 14-1 14 0 14-1 14 0 15-1 14 0 14 1 15 0 15 0 15 1 15 1 15 2 16 1 14 3 14 3 13 3 12 4 11 4 10 4 8 5 6 5 1 5zM1496 1142l-5 6-6 7-7 6-9 6-10 5-11 5-12 5-13 5-13 5-15 5-23 2-21 1-21 1-20 1-19 1-20 0-19 0-18 1-19 0-19-1-20 0-19-1-21 0-21-1-23-1-24-1-27-2-31-1-35-2-44-2-16-8 0-9 4-9 6-8 7-8 9-8 8-7 10-7 10-6 12-6 12-6 13-6 13-5 15-5 15-5 17-4 18-4 19-4 20-3 21-2 22-2 22-2 23-1 23-1 23 0 23 0 24 1 24 1 23 2 23 2 22 4 20 4 18 5 14 6 12 6 10 6 11 6 9 6 7 7 4 7-1 6z" fill="#ff0000" fill-rule="evenodd" stroke="none"/>
<path transform="scale(0.5)" d="M1561 1142l-12 7-11 8-11 7-11 7-17 6-17 5-17 6-17 5-18 5-19 5-28 0-25 1-23 0-22 0-21 1-20 0-19 0-19 0-20 0-19 0-20 0-21-1-22 0-23 0-26-1-28 0-32-1-37-1-46 0-57-1-23-8-2-11 4-11 8-10 9-9 11-9 12-8 13-8 14-7 16-7 16-6 16-6 18-6 18-5 19-5 20-4 20-4 22-3 23-3 23-2 23-2 23-1 24-1 24 0 24-1 24 0 26 0 26 1 26 0 27 2 26 3 26 3 22 5 22 5 16 7 17 7 16 6 17 7 3 8 3 9 3 8zM1502 1142l-1 7-10 6-10 5-10 6-11 6-14 5-15 4-15 4-15 5-16 4-23 0-21 1-19 1-19 0-18 1-17 0-17 0-17 0-17 0-17 0-18 0-18 0-19-1-19-1-21 0-23-1-26-1-29-2-34-1-42-1-18-7-3-8 1-9 5-8 5-8 8-7 8-7 10-6 11-7 13-5 13-6 14-5 15-4 15-4 16-4 17-4 18-3 18-3 19-2 19-2 19-1 20-1 20-1 20 0 20 0 20 0 21 0 21 0 22 1 21 2 22 2 21 3 17 4 17 5 18 4 12 6 13 6 13 5 12 6 0 7-1 7zM1508 1142l-7 6-6 7-7 6-14 6-14 5-13 5-14 5-15 4-16 4-16 4-23 1-21 1-20 0-19 1-18 0-17 0-17 0-17 0-17 0-17 0-18 0-18-1-18 0-20-1-21-1-22-1-25-1-29-1-34-1-41-2-17-6-4-9 1-8 4-8 6-8 7-7 8-7 10-6 11-6 12-6 13-5 13-5 15-5 15-4 16-4 17-4 17-3 19-3 19-2 19-2 19-2 20-1 20-1 20 0 20 0 20 0 22 0 21 0 22 1 22 2 22 2 22 3 20 3 15 6 15 5 15 5 16 5 7 7 8 7 7 6 7 7zM1625 1141l-12 10-12 9-12 9-20 7-19 7-20 7-20 7-21 6-21 6-21 6-35 0-31 0-29 0-26 0-24 0-23 0-23 0-22 0-23 0-22 0-24 0-24 0-26 0-29 0-31 0-35 0-41 0-48 0-59-1-77 0-28-10 0-13 8-14 13-13 14-11 15-11 17-10 17-9 19-9 20-8 19-7 20-7 21-7 22-6 22-5 23-6 25-4 26-4 27-3 27-3 27-2 28-2 28-1 29-1 28 0 30-1 30 0 32 1 32 0 33 2 32 3 32 4 29 5 21 8 21 8 22 8 21 8 10 9 10 10 10 9 10 10zM1629 1141l-12 10-13 9-12 9-20 7-20 8-20 7-20 7-22 5-21 6-21 6-36 0-31 0-28 0-26 0-25 0-23 0-23 0-22 0-23 0-23 0-23 0-25 0-26 0-28 0-32 0-35 0-41 0-49 0-60 0-78 0-28-10-1-14 9-14 12-12 14-12 15-11 17-10 17-10 19-8 20-8 20-8 20-7 21-7 22-6 22-6 24-5 25-5 26-3 27-4 28-2 27-3 29-2 29-1 29 0 29-1 30 0 31 0 32 0 33 1 33 2 33 3 32 4 30 5 21 8 21 8 22 8 21 8 10 10 10 9 10 10 9 10zM1631 1141l-13 10-12 9-12 10-20 7-20 7-19 7-20 7-22 6-21 6-22 6-35 0-32 0-29 0-26 0-25 0-24 0-23 0-22 0-23 0-23 0-24 0-25 0-26 0-29 0-32 0-36 0-41 0-50 0-60 0-79 0-28-11 0-14 9-13 13-13 14-12 17-11 17-10 17-10 20-8 20-8 20-8 20-7 22-6 22-7 22-5 24-6 25-4 26-4 27-3 27-3 28-2 28-2 29-1 29-1 29 0 30-1 30 0 32 0 33 1 33 2 33 3 32 4 30 5 21 8 22 8 21 8 22 8 10 10 10 9 10 10 11 10zM1536 1141l-8 8-8 7-9 7-15 6-15 5-15 6-15 6-17 4-17 4-17 5-26 0-23 1-22 0-20 1-20 0-19 0-18 0-18 0-19 0-18 0-19 0-19 0-21-1-21 0-24-1-26 0-29-1-33-1-41-1-50-1-21-8-3-9 3-10 6-9 7-9 9-8 11-8 11-7 13-7 14-6 15-6 15-6 16-5 17-4 18-5 18-4 20-4 20-3 21-2 22-2 21-2 22-1 22-1 23-1 22 0 23 0 24 0 24 1 25 1 25 1 24 3 24 3 22 4 17 6 16 6 17 6 17 6 7 7 8 7 8 8 8 7zM1489 1142l-1 6-10 6-9 6-10 5-10 6-14 4-14 4-14 4-15 4-15 4-21 1-20 1-18 0-18 1-17 1-17 0-16 0-16 0-17 0-16 0-17 0-17-1-18 0-19-1-20-1-21-1-24-1-27-1-32-1-39-2-17-6-5-8 1-8 3-8 4-7 7-7 7-7 9-6 11-6 11-5 13-6 13-5 14-4 15-4 16-4 16-4 17-3 18-2 19-2 18-2 19-1 19-2 19 0 20 0 19-1 20 1 20 0 20 0 21 1 21 2 20 2 20 3 17 4 16 5 16 4 12 5 12 6 12 6 12 5-1 7-1 6zM1566 1141l-9 8-10 8-9 8-17 6-17 6-16 6-17 7-18 4-19 5-18 5-29 1-26 0-24 0-22 1-22 0-20 0-20 0-19 0-20 0-20 0-20 0-21 0-23-1-24 0-26 0-29-1-33-1-38 0-47-1-59-1-23-8-2-11 5-11 8-10 10-10 11-9 13-8 13-8 15-8 16-7 16-6 17-6 18-6 18-5 19-5 20-4 22-4 22-3 23-3 23-2 23-2 24-2 24-1 25 0 24 0 25-1 26 0 27 1 27 1 27 1 27 3 27 3 25 5 18 6 18 7 18 6 18 7 9 8 8 8 9 8 9 8zM1587 1142l-2 9-15 7-14 8-14 8-15 7-19 6-19 6-19 5-19 6-21 5-31 0-29 1-26 0-24 0-22 0-22 0-21 1-21 0-21 0-22 0-22 0-23-1-24 0-26 0-29 0-32 0-37-1-44 0-54 0-68-1-26-9-1-12 7-13 10-11 12-11 14-10 15-9 16-9 17-8 18-7 18-7 19-7 19-6 21-5 20-5 22-5 23-4 24-4 25-3 25-2 26-2 25-2 26-1 27 0 26 0 27-1 28 0 29 1 29 1 29 1 30 3 28 4 23 6 23 6 22 6 17 8 17 8 17 7 17 8-3 9-3 10zM1582 1142l-12 8-12 8-12 7-12 8-18 6-18 6-19 6-18 6-19 5-19 4-30 1-28 0-24 1-24 0-22 0-21 0-20 0-20 0-21 0-20 0-21 0-22 0-24 0-25 0-27-1-31 0-35-1-41 0-50-1-64 0-25-9-1-12 6-11 9-11 10-10 13-10 14-9 14-8 16-8 17-7 17-7 18-6 19-6 19-5 20-5 21-5 22-4 24-3 23-3 25-2 24-3 25-1 25-1 26 0 25-1 26 0 27 0 28 0 28 1 29 2 28 3 28 3 23 6 24 5 17 7 18 8 17 7 18 7 3 9 3 9 3 8zM1495 1142l-4 6-4 7-11 5-12 6-11 5-12 5-15 4-15 4-15 4-15 4-22 1-20 1-20 1-18 0-17 1-17 0-17 0-16 0-17 0-17 0-16-1-18 0-18-1-18-1-20 0-22-2-23-1-27-1-31-2-38-1-16-7-4-7 1-8 4-8 4-7 7-7 7-7 9-6 11-6 11-5 12-5 13-5 14-4 15-4 15-4 16-3 17-3 18-3 17-2 19-2 18-1 19-2 19 0 19-1 19 0 19 0 20 0 21 1 21 1 21 1 21 2 20 3 16 4 16 5 17 4 16 5 10 6 11 5 11 6 10 6-4 7zM1517 1141l-5 8-5 7-13 6-12 5-13 6-13 6-16 4-16 4-16 5-16 4-25 1-22 0-20 1-20 0-18 1-18 0-18 0-17 0-18 0-17 0-18 0-19-1-19 0-21-1-22-1-24 0-26-1-31-2-36-1-45-1-19-7-4-9 3-9 4-8 6-8 8-8 10-7 10-7 12-6 13-6 13-6 14-5 16-5 16-4 16-5 18-3 18-4 19-3 20-2 20-2 20-2 21-1 21-1 21 0 21 0 21 0 22 0 23 0 23 1 23 2 23 2 23 3 17 5 17 5 18 5 17 5 11 7 12 6 11 7 11 6-5 7zM1589 1141l-10 9-10 8-11 9-17 6-18 7-18 6-17 7-20 5-19 5-20 6-31 0-29 0-25 0-24 1-23 0-21 0-22 0-20 0-21 0-21 0-22 0-23 0-24 0-25-1-29 0-31 0-36-1-43 0-52-1-66 0-25-9-1-12 7-12 10-12 11-10 14-10 14-9 15-9 17-7 17-8 18-6 18-7 19-6 20-5 21-5 21-5 23-4 23-3 25-3 24-3 25-2 25-1 26-1 26-1 26 0 26 0 28-1 28 1 29 1 29 1 30 3 28 4 26 4 20 7 19 7 20 7 19 7 9 9 10 9 9 8 10 9zM1495 1142l-6 6-7 6-6 7-13 5-12 4-13 5-13 5-15 4-15 4-15 4-22 1-20 1-19 0-18 1-17 0-17 1-17 0-16 0-17 0-16 0-17-1-18 0-18-1-18-1-20 0-22-1-24-2-27-1-32-1-38-2-17-6-4-8 1-8 3-8 5-7 7-7 7-7 9-6 11-6 12-5 12-5 13-5 14-5 15-4 16-4 16-3 17-3 17-3 19-2 18-1 18-2 19-1 19-1 20 0 19 0 20 0 20 0 20 1 21 0 21 2 21 2 20 3 19 3 14 5 15 5 14 5 15 5 7 6 7 7 7 6 7 6zM1609 1142l-3 9-15 8-16 8-15 8-16 8-20 6-21 6-20 6-20 6-22 6-34 0-30 0-27 0-26 0-24 0-22 0-23 0-21 0-22 0-22 0-23 0-24 0-25 0-27 0-30-1-34 0-38 0-46 0-57-1-71 0-27-10-1-13 8-12 12-13 13-11 15-10 15-10 17-8 17-9 19-7 19-8 19-6 20-7 21-5 21-6 23-5 23-4 25-4 26-3 26-3 26-2 27-2 27-1 28 0 27-1 29 0 29 0 31 0 31 1 31 2 32 2 30 4 24 7 24 6 25 6 18 9 18 8 18 8 18 8-3 10-3 10zM1636 1141l-12 10-13 9-12 10-21 7-20 7-20 8-20 7-22 6-22 6-22 5-36 0-32 0-29 0-27 0-25 0-23 0-24 0-22 0-23 0-23 0-24 0-25 0-27 0-29 0-31 0-36 0-42 0-50 0-61 0-78 0-29-10 0-14 9-14 13-13 14-12 17-11 17-10 17-10 20-8 20-8 20-8 20-7 21-7 22-6 23-6 24-5 25-5 26-4 28-3 27-3 28-2 28-2 29-1 30-1 29 0 30-1 32 0 32 0 33 1 34 2 33 3 33 4 30 5 22 8 22 8 22 8 21 8 11 10 10 10 10 10 11 10zM1520 1142l-7 6-8 7-7 7-14 6-14 5-14 5-14 6-17 4-16 4-16 4-25 1-22 1-21 0-19 1-19 0-18 0-18 1-17 0-18 0-18-1-18 0-19 0-19-1-21 0-22-1-25-1-27-1-31-1-38-1-46-1-19-7-3-9 2-9 5-9 7-8 8-8 10-7 11-7 12-7 13-6 14-5 15-5 15-5 16-5 17-4 18-4 18-3 20-3 20-2 20-2 20-2 21-1 21-1 21 0 21 0 21 0 23 0 22 0 23 1 23 2 23 2 23 3 21 4 15 5 16 6 16 5 16 6 8 7 7 7 8 7 8 7zM1495 1142l-6 6-6 6-6 7-13 5-13 5-12 5-13 5-15 3-15 4-15 4-22 1-20 1-19 1-19 0-17 1-17 0-17 0-16 0-17 0-17 0-17 0-17-1-18 0-19-1-20-1-22-1-24-1-27-2-32-1-39-2-16-6-4-8 1-8 4-8 5-7 7-7 8-7 9-6 11-6 12-5 12-5 13-5 14-4 15-4 16-4 16-4 17-3 18-2 18-2 18-2 18-1 19-1 19-1 19 0 19 0 19 0 20 0 20 0 21 1 21 2 20 2 20 2 19 4 15 5 14 4 15 5 15 5 7 7 7 6 8 6 7 6zM1628 1141l-9 10-9 10-19 8-18 7-18 8-19 8-21 6-22 6-21 6-22 6-36 0-31 0-29 0-26 0-25 0-24 0-23 0-22 0-23 0-23 0-24 0-25 0-26 0-29 0-32 0-36 0-42 0-50 0-61 0-79 0-30-10 0-14 9-14 13-13 15-12 16-11 17-10 18-10 19-9 20-8 21-7 20-7 22-7 22-6 23-6 23-5 26-5 26-4 27-3 28-3 28-2 28-2 29-1 30-1 29 0 30-1 31 0 33 0 33 1 33 2 33 3 32 4 24 8 23 7 24 7 24 7 16 10 16 9 16 9 16 9-10 10zM1596 1142l-3 9-15 8-15 7-15 8-15 8-20 6-19 5-20 6-20 6-20 5-33 0-29 1-26 0-25 0-23 0-22 0-21 0-21 0-22 0-21 0-22 0-23 0-25 0-26 0-29-1-32 0-38 0-44-1-53 0-69 0-26-10-1-12 7-13 11-11 12-11 14-10 15-9 15-9 17-8 18-7 18-7 19-7 19-6 21-6 21-5 21-5 24-4 24-4 25-3 25-2 26-2 25-2 27-1 27-1 27 0 27 0 28 0 30 0 30 1 30 2 30 2 30 4 23 6 23 6 23 7 18 8 17 8 17 8 17 8-2 9-3 9zM1548 1141l-6 8-7 8-14 7-14 6-14 6-15 6-17 5-18 5-17 5-18 4-27 1-25 1-23 0-21 0-21 1-19 0-19 0-19 0-19 0-20 0-19 0-21-1-21 0-23 0-25-1-27-1-31 0-36-1-44-1-55-1-21-8-3-10 4-10 7-10 9-9 10-9 12-8 12-8 14-7 15-6 16-6 16-6 17-6 18-4 18-5 20-4 20-4 21-3 22-3 22-2 22-2 23-1 23-1 24 0 23-1 24 0 25 0 25 1 26 1 26 1 25 3 25 3 19 6 20 5 19 6 19 5 12 8 13 7 13 7 12 8-6 7zM1554 1141l-9 8-9 8-9 7-16 6-16 6-16 6-16 6-17 5-18 4-18 5-28 1-25 0-23 1-22 0-20 0-20 0-19 0-19 0-20 0-19 0-20 0-20 0-22 0-23-1-25 0-28-1-32 0-37-1-44-1-56-1-22-8-3-10 5-11 7-10 9-9 11-9 12-8 12-8 15-7 15-7 16-6 16-6 17-5 18-5 19-5 19-4 21-4 22-3 22-2 22-3 23-2 23-1 23-1 24 0 23 0 24-1 25 0 26 1 26 1 26 2 26 2 25 3 24 5 18 6 17 6 18 6 17 7 8 7 9 8 8 8 9 8zM1621 1141l-9 10-9 10-18 7-18 8-19 7-18 8-21 6-21 5-22 6-21 6-35 0-31 0-28 0-25 0-25 0-23 0-22 0-22 0-23 0-22 0-23 0-24 0-26 0-28 0-30 0-35 0-40 0-48-1-58 0-75 0-28-10 0-13 8-13 12-13 13-11 15-11 16-10 17-9 18-9 19-7 20-8 19-7 21-6 21-6 22-6 23-5 25-5 25-4 27-3 27-3 27-2 28-2 28-1 29-1 28 0 30-1 31 0 31 0 33 1 32 2 33 3 31 4 24 7 23 7 24 7 23 7 16 9 15 9 16 9 15 10-9 9zM1533 1141l-5 8-6 8-13 6-14 6-13 6-14 6-17 4-17 5-16 4-17 5-26 1-24 0-22 1-20 0-20 0-19 1-18 0-18 0-19 0-18 0-19-1-20 0-20 0-22-1-24 0-26-1-29-1-34-1-40-1-51-1-20-7-3-10 3-10 6-9 8-9 9-8 11-8 11-7 14-7 14-6 15-6 15-5 16-5 17-5 18-5 18-4 20-3 20-3 21-2 21-3 22-1 21-2 22 0 23-1 22 0 23 0 23 0 24 0 25 1 24 2 25 2 23 3 19 6 18 5 18 5 18 6 12 7 12 6 12 7 12 7-5 8zM1494 1142l-4 6-5 7-11 5-12 5-11 6-12 5-15 4-15 4-15 4-15 4-22 0-20 1-19 1-17 1-18 0-17 0-16 0-16 0-17 0-16 0-17 0-17-1-18 0-18-1-20-1-22-1-23-1-27-1-31-2-38-2-17-6-4-7 1-8 3-8 4-7 6-7 8-7 8-6 11-6 11-5 12-5 13-5 14-5 15-4 15-4 16-3 17-3 18-3 18-2 18-2 19-1 19-2 19 0 20-1 19 0 20 0 20 0 21 1 21 1 21 1 21 2 20 3 16 5 16 4 16 5 16 4 11 6 10 6 10 6 11 6-5 7zM1580 1142l-12 8-12 8-12 7-11 8-18 6-18 6-18 6-18 5-20 5-19 5-30 1-27 0-25 0-23 1-22 0-21 0-20 0-20 0-21 0-20 0-21 0-22-1-23 0-24 0-27-1-30 0-35-1-40 0-48-1-62-1-23-8-2-12 6-11 9-11 11-10 12-9 14-9 14-8 15-7 17-7 17-7 17-6 18-5 19-6 20-5 20-4 22-4 22-3 24-3 23-2 24-2 24-2 25-1 25 0 25-1 25 0 27 0 27 0 28 1 28 2 28 2 27 4 23 5 24 5 17 7 18 7 18 7 17 7 4 9 3 9 3 8zM1532 1142l-10 7-9 7-10 6-10 7-15 5-16 5-15 5-16 5-17 5-16 4-26 1-23 0-21 1-20 0-19 1-19 0-18 0-18 0-18 0-19 0-18 0-20-1-20 0-21-1-23 0-26-1-28-1-33-1-40-1-49-1-20-7-3-10 3-9 6-9 7-9 10-8 10-8 11-7 13-6 14-6 14-6 15-6 16-5 17-4 18-5 18-3 19-4 20-3 20-2 21-2 21-2 21-1 22-1 22 0 21 0 23 0 23 0 23 0 24 1 24 2 23 2 24 3 20 5 20 4 15 6 15 6 15 6 15 6 3 8 4 7 3 8zM1586 1141l-10 9-11 8-10 9-18 6-17 6-18 7-17 6-20 5-19 6-19 5-32 0-27 0-26 1-23 0-23 0-21 0-21 0-20 0-21 0-21 0-21 0-23 0-23 0-25-1-28 0-31 0-36-1-42 0-51-1-64 0-25-9-2-12 7-12 9-11 11-10 13-10 14-9 15-8 16-8 17-7 18-7 18-6 19-6 19-6 20-5 21-4 23-5 23-3 24-3 25-2 24-2 25-2 26-1 26 0 26-1 26 0 27 0 29 0 29 1 28 2 29 3 28 3 27 5 19 7 19 7 19 7 19 7 10 8 9 9 9 8 9 9zM1625 1141l-10 10-9 10-18 7-18 8-18 8-19 7-21 6-21 6-22 6-21 6-35 0-32 0-28 0-26 0-25 0-23 0-23 0-22 0-23 0-23 0-23 0-25 0-26 0-28 0-32 0-35 0-41 0-49 0-60 0-77 0-28-10-1-14 9-14 13-12 13-12 16-11 17-10 17-9 19-9 20-8 20-8 20-7 21-6 22-6 22-6 23-5 25-5 26-4 27-3 28-3 27-2 28-2 29-1 29-1 29 0 30 0 30-1 32 1 33 0 33 2 32 3 32 4 24 7 24 8 23 7 24 7 16 9 15 9 16 9 16 9-9 10zM1535 1142l-2 7-12 7-12 6-12 7-12 6-17 5-16 5-17 5-17 5-17 4-26 1-24 0-22 1-20 0-20 0-19 0-18 1-18 0-19 0-18-1-19 0-19 0-21-1-22 0-23-1-26 0-29-1-34-1-40-1-50-1-21-8-3-9 3-10 6-9 7-9 10-8 10-8 11-7 13-7 15-6 14-6 15-5 16-6 17-4 18-5 19-4 19-3 20-3 21-3 22-2 21-2 22-1 22-1 23 0 22-1 23 0 24 0 24 1 25 1 25 1 24 3 24 3 20 5 19 5 19 5 15 7 14 6 14 7 14 7-2 7-2 8zM1517 1142l-1 7-11 6-11 6-11 7-11 6-16 4-15 5-16 5-16 4-16 4-25 1-22 1-21 0-19 1-19 0-18 0-18 0-17 1-18-1-18 0-18 0-19 0-19-1-21 0-22-1-24-1-28-1-31-1-37-1-46-1-19-7-4-9 3-9 5-9 6-8 9-8 9-7 11-7 12-7 13-6 14-5 14-5 16-5 16-5 17-4 18-4 18-3 20-3 19-2 21-2 20-2 21-1 21-1 21 0 21 0 21 0 23 0 22 0 23 1 24 2 23 2 22 3 18 5 18 4 19 5 13 6 14 7 13 6 13 6-1 7-1 8zM1491 1142l-4 6-4 7-11 5-11 5-11 5-12 6-14 4-15 4-15 4-15 4-21 1-20 1-19 0-18 1-17 0-17 1-17 0-16 0-17 0-17 0-17-1-17 0-18-1-19 0-20-1-22-1-24-1-27-2-32-1-40-2-16-6-4-8 1-8 3-8 5-7 7-7 8-7 9-6 11-6 12-5 12-5 14-5 14-5 15-4 15-4 17-3 17-3 18-2 18-3 18-1 19-2 18-1 19 0 20-1 19 0 19 0 20 0 21 1 20 1 21 2 20 2 20 2 16 5 16 4 16 5 15 4 11 6 10 6 10 6 11 6-4 6zM1614 1142l-13 8-14 9-14 8-13 9-20 6-20 7-20 6-20 6-20 5-21 6-34 0-30 0-27 0-25 0-23 0-23 1-22 0-21 0-22 0-22-1-22 0-24 0-25 0-27 0-30 0-33 0-38-1-46 0-56 0-71 0-27-10-1-13 8-13 11-12 13-11 14-10 16-10 16-8 17-9 19-7 18-7 19-7 20-6 21-6 22-6 22-5 24-4 24-4 26-3 26-3 26-2 27-2 27-1 28 0 27-1 29 0 29 0 30 0 32 1 31 2 31 3 30 3 26 6 26 6 19 8 19 8 19 8 19 8 4 9 3 10 3 9zM1500 1142l-6 6-7 6-7 7-13 5-13 5-13 5-13 5-16 4-15 4-15 3-23 1-20 1-19 1-19 0-17 1-17 0-17 0-16 0-17 0-17 0-17-1-17 0-18-1-19 0-20-1-22-1-23-1-27-2-32-1-39-2-17-6-3-8 0-8 4-8 4-7 7-7 8-7 9-6 10-6 12-5 12-6 13-4 14-5 15-4 15-4 17-3 17-3 17-3 19-2 18-2 19-2 19-1 19-1 20 0 19 0 20 0 21 0 21 0 21 1 21 2 21 2 21 3 20 3 15 5 14 5 15 5 15 5 7 7 7 6 8 7 7 6zM1628 1141l-9 10-9 10-19 8-18 7-18 8-19 8-21 6-22 6-21 6-22 6-36 0-31 0-29 0-26 0-25 0-24 0-23 0-22 0-23 0-23 0-23 0-25 0-26 0-29-1-31 0-36 0-40 0-49 0-60 0-76 0-29-10 0-14 9-14 13-12 14-12 16-11 17-10 17-9 19-9 20-8 20-7 20-7 21-7 21-6 23-6 23-5 25-4 26-4 26-3 27-3 28-3 27-2 29-1 29 0 29-1 29 0 31 0 32 0 33 1 33 2 32 2 32 4 24 7 24 7 24 8 24 7 16 9 16 9 17 9 16 9-9 10zM1594 1142l-12 8-13 8-13 8-12 8-19 6-19 6-19 6-18 6-20 5-20 6-32 0-28 0-25 0-24 1-23 0-22 0-21 0-20 0-21 0-21 0-22 0-22-1-24 0-26 0-28 0-31-1-36 0-42-1-52 0-66-1-25-9-1-12 7-12 10-11 11-10 13-10 14-9 15-8 17-8 17-8 18-6 18-7 19-6 19-5 21-5 21-5 22-4 24-4 24-2 25-3 25-2 25-2 26-1 26 0 26-1 27 0 27 0 29 0 29 1 29 2 30 3 28 3 25 6 24 5 19 8 18 7 18 7 18 8 3 9 4 9 3 9zM1618 1141l-8 10-9 9-18 8-18 8-18 7-18 8-21 6-21 5-21 6-21 6-34 0-31 0-28 0-26 0-24 1-24 0-22 0-22 0-23 0-22 0-23 0-25 0-26-1-28 0-31 0-35 0-40 0-48 0-59 0-75 0-28-10-1-14 9-13 12-13 14-11 15-11 17-10 17-9 18-9 20-8 19-7 20-7 21-6 22-6 22-6 23-5 24-5 26-3 27-4 26-2 28-3 27-1 28-1 29-1 28 0 29-1 31 0 31 0 32 1 32 2 32 3 32 4 23 7 23 7 23 7 24 7 15 9 16 9 15 9 16 9-9 9zM1609 1142l-13 8-13 9-13 8-13 9-20 6-20 6-19 6-20 7-20 5-20 5-34 1-29 0-27 0-25 0-23 0-23 0-22 0-21 1-22 0-22-1-22 0-24 0-25 0-27 0-30 0-33 0-39 0-45-1-56 0-72 0-26-10-1-13 8-13 11-12 13-11 15-10 15-10 16-8 18-9 19-7 19-7 19-7 20-6 21-6 21-5 23-5 23-4 25-4 25-3 26-3 26-2 27-2 27 0 27-1 27 0 28-1 29 0 30 1 30 0 31 2 30 3 30 4 26 6 25 5 19 8 19 8 19 8 19 7 3 10 3 9 4 10zM1507 1142l-1 7-10 6-11 6-11 6-10 6-15 4-15 5-16 4-15 5-16 3-23 1-21 1-20 1-19 0-18 1-18 0-17 0-17 0-18 0-17 0-18 0-18-1-19 0-20-1-22 0-24-1-26-1-30-1-36-1-45-2-19-7-3-8 1-9 5-8 6-8 7-8 10-7 10-7 11-6 13-6 14-6 14-5 15-5 16-4 17-4 17-4 19-3 19-3 19-2 20-2 20-2 20-1 21 0 21-1 20 0 21 0 22 0 22 1 22 1 23 2 22 2 21 3 18 4 17 5 18 5 13 6 12 6 13 6 13 6-1 7-1 7zM1508 1142l-1 7-11 6-10 6-10 6-11 6-15 4-15 5-15 4-15 5-17 4-23 1-22 0-20 1-19 0-18 1-18 0-17 0-17 0-18 0-17 0-18 0-18 0-19-1-20-1-22 0-23-1-26-1-30-1-35-2-44-1-18-7-3-9 2-8 4-9 6-8 8-7 9-7 10-7 12-6 13-6 13-5 15-5 15-5 15-4 17-4 17-4 18-3 18-2 20-3 19-2 19-1 20-1 20-1 21 0 20 0 21 0 21 0 22 0 22 1 22 2 22 2 21 3 18 4 17 5 18 4 13 6 13 6 13 6 13 6-1 7-1 7zM1635 1142l-15 9-14 9-15 9-14 9-21 6-21 7-21 7-21 6-22 6-22 5-35 0-32 1-28 0-27 0-24 0-24 0-23 0-22 0-23 0-23 0-23 0-25 0-26-1-29 0-31 0-36 0-41 0-49 0-60 0-77 0-29-10 0-14 8-14 13-12 14-12 16-11 17-10 17-9 19-9 20-8 20-8 20-7 21-6 22-7 22-5 24-6 25-4 26-4 27-3 27-3 28-3 28-2 29-1 29 0 29-1 30 0 31 0 32 0 33 1 33 2 33 3 32 4 28 6 27 6 20 8 20 9 20 8 20 9 3 10 4 10 3 10zM1522 1142l-1 7-11 6-12 7-11 6-11 6-16 5-16 5-16 4-16 5-17 4-25 1-22 1-21 0-20 1-19 0-18 0-19 0-17 0-18 0-18 0-19 0-19 0-20-1-21 0-23-1-25-1-28 0-33-1-39-2-48-1-20-7-3-9 3-10 5-9 7-8 9-8 10-7 11-8 13-6 14-6 14-6 15-5 16-5 16-5 18-4 18-4 19-3 20-3 20-3 21-2 21-1 21-2 21 0 22-1 21 0 22 0 23 0 23 1 24 1 23 1 24 3 22 3 19 5 18 4 19 5 14 7 13 6 14 6 13 7-1 7-1 7zM1607 1142l-14 8-13 9-13 8-13 8-20 7-19 6-19 6-20 6-20 5-21 6-32 0-30 0-26 0-25 0-23 1-22 0-22 0-21 0-22 0-21 0-23 0-23-1-25 0-26 0-29 0-33 0-38-1-45 0-54 0-70-1-26-9-1-13 7-12 11-12 12-11 14-10 16-9 15-9 17-8 19-8 18-7 19-6 20-7 20-5 21-6 22-5 24-4 24-3 25-3 26-3 26-2 26-2 27-1 27 0 27-1 28 0 28 0 30 0 30 1 31 2 30 2 30 4 25 6 26 6 19 7 18 8 19 8 19 8 3 9 3 9 3 10zM1513 1142l-9 6-9 7-9 6-9 6-14 5-15 5-15 5-14 4-16 4-16 4-23 1-22 1-20 0-18 1-19 0-17 1-17 0-17 0-17 0-18-1-17 0-18 0-19-1-20 0-21-1-23-1-26-1-29-1-35-1-43-2-18-7-4-8 2-9 4-8 6-8 7-7 9-7 9-7 12-6 12-6 13-5 14-5 15-5 16-4 16-4 17-4 18-3 19-3 19-2 19-2 20-2 20-1 20-1 21 0 20 0 21 0 22 0 22 0 22 1 22 2 22 2 22 3 19 4 19 4 14 6 14 6 14 6 14 5 3 7 3 7 3 7zM1532 1142l-10 7-10 6-10 7-10 7-15 5-16 5-16 5-15 5-17 4-17 4-25 1-23 1-21 0-20 1-19 0-18 0-19 0-17 0-18 0-18 0-19 0-19 0-20-1-21 0-22-1-25-1-28-1-32-1-39-1-48-1-19-7-4-10 3-9 5-9 7-8 9-8 9-7 11-7 13-7 13-6 14-6 15-5 16-5 16-5 17-4 18-4 19-4 20-3 21-2 20-2 21-2 21-1 22-1 22 0 22-1 22 0 23 0 23 1 24 1 24 1 24 3 23 3 20 4 21 5 15 6 15 6 15 6 15 6 3 8 3 7 3 8zM1591 1142l-12 8-13 8-13 8-12 8-19 6-19 6-18 6-19 6-20 5-20 5-31 0-28 0-25 0-24 1-22 0-21 0-21 0-20 0-21 0-20 0-22-1-22 0-23 0-25 0-27-1-31 0-35-1-41 0-50-1-63 0-24-9-2-12 6-11 9-11 11-11 12-9 14-9 14-8 16-8 17-7 17-7 17-6 19-6 19-5 20-5 21-5 22-4 23-4 24-3 24-2 24-2 25-2 26-1 26 0 26-1 26 0 28 0 28 0 29 1 29 1 29 3 29 4 24 5 25 6 18 7 18 7 18 8 18 7 3 9 3 9 3 9zM1516 1141l-5 8-5 7-12 5-13 6-12 6-13 6-16 4-16 4-16 5-16 4-24 1-22 0-21 1-19 1-19 0-18 0-18 0-17 0-18 0-18 0-18 0-19 0-19-1-21 0-22-1-25-1-27-1-32-1-37-1-47-1-19-7-4-9 3-9 5-9 6-8 9-8 9-7 11-7 12-7 13-6 14-5 15-6 16-5 16-4 17-4 18-4 18-3 20-3 20-2 20-2 21-2 20-1 21-1 22 0 21-1 22 0 22 1 22 0 23 1 23 2 23 2 23 3 17 5 17 5 17 5 17 5 12 7 11 6 11 7 11 6-5 7zM1596 1141l-10 9-11 9-10 8-18 7-18 7-19 6-18 7-19 5-20 6-20 5-32 0-29 0-26 1-25 0-23 0-22 0-21 0-21 0-22 0-21 0-22 0-23 0-25 0-26 0-29-1-32 0-37 0-44-1-54 0-68-1-26-9-1-12 8-13 10-11 12-11 14-10 15-9 16-9 17-8 18-7 18-7 19-7 19-6 21-5 21-5 21-5 23-4 24-4 25-3 25-2 25-2 26-2 26-1 27 0 26-1 27 0 28 0 29 0 30 1 30 2 29 2 29 4 27 5 20 7 20 7 20 7 19 7 10 9 10 9 9 9 10 9zM1613 1142l-3 9-16 8-16 9-15 8-16 8-21 6-21 6-20 6-21 6-21 5-35 0-30 0-28 0-25 1-24 0-23 0-22 0-22 0-22 0-23 0-22 0-24-1-26 0-27 0-31 0-34 0-39 0-47 0-58-1-73 0-27-10-1-13 8-13 12-12 13-11 15-11 16-10 16-9 18-8 19-8 19-7 20-7 20-7 21-6 22-5 23-5 24-5 25-3 26-4 27-2 27-3 27-1 28-2 28 0 28 0 29-1 30 0 31 0 32 1 31 2 32 3 31 4 25 6 24 7 25 6 18 9 18 8 18 9 18 8-3 10-4 10zM1528 1141l-6 8-5 7-13 6-14 6-13 6-13 6-17 4-16 5-17 4-16 5-26 1-23 0-21 1-20 0-20 1-18 0-18 0-18 0-18 0-19 0-18 0-20-1-20 0-21-1-23 0-26-1-28-1-33-1-40-1-49-1-20-7-3-10 3-9 5-9 8-9 9-8 10-8 11-7 13-6 14-7 14-5 15-6 16-5 17-5 18-4 18-4 19-3 20-3 21-3 20-2 22-1 21-2 22 0 22-1 22 0 22 0 23 0 24 0 24 1 24 2 24 2 23 4 18 5 18 5 18 5 18 5 11 7 12 7 12 7 12 7-6 7zM1531 1142l-10 7-10 6-9 7-10 7-15 5-16 5-15 5-16 5-17 4-17 4-25 1-22 1-22 0-20 1-19 0-18 0-18 1-18 0-18 0-18-1-19 0-19 0-20-1-21 0-23-1-25-1-29 0-32-1-39-2-48-1-20-7-3-9 3-10 6-9 7-8 8-8 11-7 11-8 12-6 14-6 14-6 15-5 16-5 17-5 17-4 18-4 19-3 20-3 20-3 21-2 20-1 22-2 21-1 22 0 21 0 23 0 22 0 24 0 23 1 24 2 24 2 23 3 20 5 20 4 15 6 15 6 15 6 15 6 3 8 3 7 3 8zM1490 1142l-4 6-4 7-11 5-12 5-11 5-11 6-15 3-15 4-14 4-15 4-21 1-20 1-19 1-18 0-17 1-17 0-16 0-16 0-17 0-16 0-17 0-17-1-18 0-18-1-20-1-22-1-23-1-27-1-30-2-38-2-17-6-4-8 1-7 3-8 5-7 6-7 7-7 9-6 11-6 11-5 12-5 13-5 14-4 15-4 15-4 16-3 17-3 18-3 18-2 18-2 18-1 19-1 19-1 19 0 19 0 19 0 20 0 20 0 21 1 20 2 21 2 20 3 15 4 16 4 16 5 15 4 11 6 10 6 10 6 10 6-4 6zM1544 1141l-9 8-8 7-9 8-15 6-15 5-16 6-15 6-17 4-18 5-17 4-27 1-24 1-22 0-21 0-20 1-20 0-19 0-18 0-19 0-19 0-20 0-20 0-21-1-22 0-25-1-27 0-31-1-35-1-43-1-54-1-22-7-3-11 4-10 7-9 8-9 11-9 11-8 12-7 14-7 15-7 15-6 16-6 17-5 18-5 18-5 19-4 20-3 22-3 21-3 22-2 22-2 23-1 23-1 23 0 23-1 23 0 24 0 25 1 26 1 25 2 25 2 25 3 22 4 17 7 17 6 17 6 17 6 8 7 8 8 8 7 8 8zM1498 1142l-8 6-8 6-8 6-9 6-13 5-14 4-14 5-14 4-15 4-15 4-22 1-20 1-19 0-18 1-17 0-17 1-17 0-16 0-17 0-16 0-17-1-18 0-18-1-19 0-20-1-22-1-24-1-27-2-32-1-39-2-17-6-4-8 1-8 3-8 5-7 6-7 8-7 9-6 11-6 11-5 13-6 13-5 14-4 15-4 16-4 16-4 17-3 18-2 19-2 18-2 19-2 19-1 19 0 20-1 19 0 20 0 20 0 21 1 21 1 21 2 21 2 20 2 18 4 17 4 14 6 13 5 14 5 13 6 3 6 3 7 3 6zM1565 1142l-2 8-13 7-14 7-13 8-14 7-18 5-18 5-18 6-18 5-19 5-30 0-26 1-24 0-23 0-21 0-21 1-20 0-19 0-20 0-20 0-21-1-21 0-23 0-24 0-26-1-30 0-33-1-39 0-48-1-60-1-23-8-2-11 5-12 9-10 9-10 12-9 13-9 13-8 16-7 16-7 16-6 17-6 18-6 19-5 20-5 20-5 21-3 23-4 23-2 23-3 24-2 24-1 24-1 25-1 24 0 26 0 26 0 27 0 27 1 27 2 28 2 27 4 21 6 21 5 21 6 16 7 16 7 16 8 15 7-2 9-2 8zM1586 1141l-10 9-11 8-10 9-18 6-17 6-18 7-18 6-19 5-19 5-20 6-31 0-28 0-25 1-23 0-23 0-21 0-21 0-20 0-21 0-21 0-21 0-22 0-24 0-25-1-28 0-31 0-36-1-42 0-51-1-66 0-25-9-1-12 6-12 10-11 11-10 12-10 14-9 15-8 16-8 18-7 17-7 18-7 19-6 20-5 20-5 21-5 23-4 23-3 24-3 25-3 25-2 25-2 26-1 26 0 26 0 26-1 28 0 28 1 29 1 29 1 29 3 29 4 26 4 19 7 19 7 19 7 19 7 9 9 10 9 9 8 9 9zM1567 1142l-2 8-14 7-13 8-14 7-13 7-19 5-18 6-18 5-19 5-19 5-29 0-27 1-24 0-23 0-21 0-21 0-20 1-19 0-20-1-20 0-21 0-21 0-22 0-24-1-26 0-29-1-33 0-39-1-47-1-59-1-23-8-2-11 6-11 8-10 10-10 11-9 13-8 13-8 15-8 16-7 16-6 17-6 18-6 18-5 19-5 20-4 22-4 22-3 23-3 23-2 23-2 24-2 24-1 25 0 24-1 26 0 26 0 26 0 28 1 28 2 27 2 27 4 21 5 22 6 21 6 16 7 16 7 16 8 16 7-2 9-3 8zM1570 1142l-3 8-13 8-14 7-13 7-13 7-19 6-18 5-18 6-19 5-19 5-30 0-27 1-24 0-23 0-22 0-21 1-20 0-20 0-20 0-21 0-21-1-22 0-22 0-25 0-27-1-30 0-34-1-40 0-49-1-61-1-24-8-2-12 6-11 9-11 11-10 12-9 13-9 14-8 16-7 17-7 17-7 17-6 18-5 19-6 20-5 20-4 22-4 23-3 23-3 23-2 24-2 24-2 25-1 25 0 25 0 25-1 26 0 27 1 28 1 28 1 27 3 27 3 22 6 21 6 22 5 16 8 16 7 16 7 16 8-2 8-2 9zM1572 1142l-2 8-14 8-14 7-14 7-13 7-19 6-19 5-18 6-19 5-19 5-30 0-27 0-25 1-23 0-21 0-21 0-20 0-20 0-20 0-21 0-20 0-22 0-22-1-25 0-26 0-30-1-33-1-39 0-48-1-60-1-24-8-1-11 5-11 9-11 10-10 11-9 13-9 14-8 15-7 16-7 17-6 17-7 18-5 18-5 20-5 20-5 21-4 23-3 23-3 23-2 24-2 24-2 25-1 25-1 25 0 25 0 27 0 27 0 28 1 28 2 28 2 27 3 22 6 22 6 22 6 16 7 16 8 17 7 16 8-3 8-2 9zM1624 1141l-12 10-12 9-12 9-20 7-20 7-20 7-19 7-22 6-21 5-21 6-35 0-31 0-28 0-26 0-24 0-23 0-22 0-22 0-22 0-23 0-23 0-24 0-25 0-28 0-30-1-35 0-39 0-47 0-58 0-73-1-28-9-1-14 8-13 12-12 13-11 15-11 16-10 16-9 18-8 19-8 19-8 20-6 20-7 21-6 22-6 23-5 24-4 26-4 26-3 27-3 27-3 27-2 28-1 29 0 28-1 30 0 30 0 32 0 32 1 32 2 33 2 32 4 29 5 21 8 21 8 21 8 22 8 10 9 9 10 10 9 10 10zM1559 1141l-7 9-7 8-15 6-15 7-14 6-15 7-18 4-18 5-19 5-18 5-28 1-26 0-23 1-22 0-21 0-20 0-20 0-19 0-20 0-19 0-21 0-21 0-22 0-23-1-26 0-29-1-32 0-39-1-46-1-58 0-23-9-2-10 4-11 8-10 9-10 12-9 12-8 13-8 15-8 16-6 16-7 16-6 18-5 18-5 20-5 20-5 21-4 22-3 22-2 23-3 24-2 23-1 24-1 25 0 24-1 25 0 25 0 27 1 27 0 27 2 26 3 26 3 20 6 20 6 20 6 19 6 13 7 13 8 13 7 13 8-7 8zM1615 1142l-14 9-13 8-14 9-13 8-20 6-20 7-20 6-20 6-21 6-20 5-34 0-30 1-27 0-25 0-24 0-23 0-22 0-21 0-22 0-22 0-23 0-24 0-26 0-27 0-30 0-35 0-39 0-47 0-58-1-73 0-28-10-1-13 8-13 12-12 13-11 15-11 16-10 16-9 18-8 20-8 19-7 19-7 21-7 21-6 22-5 23-5 24-5 26-3 26-3 26-3 27-2 27-2 28-1 28 0 28-1 28 0 30 0 31 0 31 1 31 2 32 3 30 4 26 6 26 6 19 8 19 8 19 8 19 8 3 9 3 10 3 9zM1533 1142l-2 7-12 7-11 6-12 7-12 6-17 5-16 5-17 5-16 5-18 4-26 0-23 1-22 0-20 1-20 0-19 0-18 0-18 1-19-1-18 0-19 0-19 0-21-1-21 0-24-1-25 0-29-1-34-1-40-1-50-1-21-8-3-9 3-10 6-9 8-9 9-8 10-8 12-7 12-7 15-6 14-6 15-5 16-5 17-5 18-5 18-4 20-3 20-3 21-3 21-2 21-2 22-1 22-1 23 0 22 0 23 0 23 0 25 0 24 1 25 2 24 2 24 3 19 5 20 5 19 5 14 7 14 6 14 7 15 7-2 7-2 8zM1506 1142l-7 6-7 7-7 6-13 5-13 5-14 6-13 5-16 4-16 4-15 3-23 1-21 1-20 1-18 0-18 1-17 0-18 0-16 0-17 0-17 0-18 0-17-1-19 0-20-1-20-1-23-1-25-1-29-1-34-1-41-2-18-6-4-9 1-8 4-8 5-8 8-7 8-7 9-6 12-7 12-5 13-6 13-5 15-4 15-5 16-4 17-3 18-3 18-3 19-2 19-2 20-2 19-1 20-1 21 0 20 0 20 0 22 0 21 0 22 1 22 2 22 2 21 3 20 4 15 5 15 5 15 5 15 6 7 6 8 7 7 6 7 7zM1515 1142l-1 7-11 6-11 6-11 6-11 6-16 5-15 5-16 4-15 5-17 4-24 0-22 1-21 1-19 0-18 0-18 1-18 0-17 0-18 0-17 0-18-1-19 0-19 0-20-1-22-1-24-1-27-1-30-1-36-1-45-1-19-7-3-9 2-9 5-8 6-8 8-8 9-7 10-7 12-6 13-6 13-6 15-5 15-5 16-4 16-4 18-4 18-3 19-3 20-2 19-2 21-2 20-1 21-1 21 0 21-1 21 0 22 0 23 1 22 1 23 1 23 3 22 2 18 5 19 5 18 5 13 6 13 6 14 6 13 6-1 7-2 8zM1606 1142l-13 8-13 9-13 8-13 8-20 7-19 6-19 6-20 6-20 5-20 6-33 0-29 0-27 0-25 1-23 0-22 0-22 0-21 0-22 0-22 0-22 0-23 0-25 0-27-1-29 0-33 0-38 0-45-1-55 0-70 0-27-10 0-12 7-13 11-12 13-11 14-10 15-9 16-9 17-8 19-8 18-7 19-7 20-6 21-5 21-6 22-5 24-4 24-3 25-3 26-3 26-2 26-2 27-1 27 0 27-1 28 0 28 0 30 0 30 1 30 2 31 3 29 3 26 6 25 6 19 8 19 7 18 8 19 8 3 9 3 9 4 10zM1515 1142l-5 7-5 7-12 5-13 6-12 6-13 6-16 4-16 4-16 4-16 5-24 1-22 0-20 1-20 0-18 1-18 0-18 0-17 0-18 0-18 0-18 0-18-1-20 0-20-1-22 0-24-1-27-1-31-1-37-2-45-1-19-7-3-9 2-9 5-8 6-8 8-8 10-7 10-7 12-6 13-6 14-6 14-5 16-5 16-4 16-5 18-3 18-4 20-2 19-3 20-2 20-1 21-2 21 0 21-1 21 0 21 0 22 0 23 1 22 1 23 1 23 3 22 3 17 4 18 5 17 5 17 5 11 7 12 6 11 7 11 6-5 7zM1605 1142l-14 8-13 9-13 8-14 8-19 6-20 6-19 6-19 7-21 5-20 5-32 0-29 0-27 0-24 1-23 0-22 0-21 0-21 0-21 0-22 0-22 0-23 0-24-1-26 0-29 0-32 0-37-1-44 0-54 0-68-1-26-9-2-12 7-13 10-11 12-11 13-10 15-9 15-9 17-8 18-8 18-7 18-6 20-6 20-6 21-5 22-5 23-5 24-3 25-3 26-3 26-2 26-2 27-1 27 0 27-1 28 0 28 0 30 0 31 1 30 2 30 2 30 4 25 6 26 6 18 7 19 8 18 8 19 8 3 9 3 9 3 10zM1620 1141l-9 10-8 10-19 7-18 8-18 7-18 8-21 6-21 6-21 5-22 6-34 0-31 0-28 0-26 0-25 0-23 0-22 0-22 0-23 0-22 0-23 0-24 0-26 0-28 0-30 0-34 0-40-1-47 0-58 0-74 0-28-10 0-14 8-13 12-12 13-11 16-11 16-10 16-9 19-8 19-8 19-7 19-7 21-7 21-6 22-5 23-6 24-4 25-4 26-3 27-3 27-2 27-2 28-1 29-1 28 0 29-1 31 0 31 0 32 1 33 2 32 3 31 4 24 7 23 7 24 7 23 7 16 9 16 9 16 9 15 9-9 9zM1558 1142l-2 8-13 7-13 7-13 7-13 7-18 5-18 5-18 6-17 5-19 4-29 1-25 0-24 1-22 0-21 0-20 1-20 0-19 0-20 0-20 0-20 0-21-1-22 0-24 0-26-1-29 0-33-1-39 0-47-1-59-1-24-8-2-11 5-11 8-10 9-10 12-9 12-8 13-8 15-8 16-7 17-6 17-6 18-6 18-5 20-5 20-4 21-4 22-3 23-3 24-2 23-2 24-2 24-1 25 0 24 0 25 0 26 0 26 0 27 1 27 2 27 2 26 4 21 6 21 5 21 6 15 7 15 7 15 7 16 8-3 8-2 8zM1504 1142l-7 6-7 7-6 6-14 5-13 5-13 5-14 5-15 4-16 4-15 4-23 1-21 1-19 1-18 0-18 1-18 0-17 0-16 0-17 0-17 0-18 0-18-1-18 0-20-1-21-1-23 0-25-2-29-1-34-1-43-1-18-7-4-8 1-9 4-8 5-8 8-7 8-7 10-7 11-6 12-5 13-6 14-5 15-5 16-4 16-4 17-4 18-3 18-3 19-2 20-2 19-1 20-1 20-1 21 0 20 0 21 0 21 0 21 0 22 1 22 2 22 2 21 3 20 4 14 5 15 5 15 6 15 5 7 6 7 7 7 6 7 7zM1576 1141l-10 9-10 8-10 8-17 6-17 6-17 7-17 6-19 5-19 5-19 5-30 0-27 1-24 0-23 0-22 0-21 1-20 0-20 0-20 0-21 0-21-1-22 0-23 0-24 0-27-1-30 0-35 0-40-1-49-1-63 0-24-9-2-11 6-12 9-11 10-10 12-9 14-9 14-8 15-8 17-7 17-6 17-6 19-6 19-6 20-5 20-4 22-4 23-3 24-3 24-3 24-2 24-1 25-1 26-1 25 0 26 0 27 0 27 0 28 1 28 2 28 3 28 3 25 5 19 6 18 7 19 7 19 7 8 8 9 8 9 9 9 8zM1537 1141l-5 8-6 8-13 6-14 6-13 6-14 6-17 5-17 5-17 4-17 5-27 1-24 0-22 1-21 0-20 0-19 1-19 0-18 0-19 0-19 0-19-1-20 0-21 0-22-1-24 0-26-1-30-1-35-1-41-1-51-1-21-8-2-10 4-10 6-9 8-9 10-8 11-8 12-7 14-7 14-6 15-6 16-6 16-5 18-4 17-5 19-4 20-3 20-3 21-3 21-2 22-1 21-2 22-1 23 0 22 0 23 0 23 0 25 0 24 1 25 2 25 2 24 3 18 5 19 6 18 5 19 5 12 7 13 7 12 7 13 7-6 8zM1625 1142l-14 9-14 8-14 9-14 9-21 6-20 7-21 6-20 7-21 5-22 6-34 0-31 0-28 0-26 0-24 0-23 0-22 0-22 0-23 0-22 0-23 0-24 0-26 0-28 0-31 0-34 0-40 0-48 0-58-1-76 0-28-10 0-13 8-13 12-13 13-11 16-11 16-10 17-9 18-9 19-7 20-8 19-7 21-6 21-6 22-6 24-5 24-5 26-4 26-3 27-3 27-2 28-2 28-1 29 0 28-1 30 0 30 0 31 0 33 1 32 2 32 3 32 4 26 6 27 6 20 8 19 8 20 8 19 9 3 9 3 10 3 10zM1518 1142l-8 6-7 7-7 7-14 5-14 6-14 5-14 5-17 4-16 4-16 5-24 0-22 1-20 1-20 0-18 1-18 0-18 0-17 0-18 0-17 0-18 0-19-1-19 0-21-1-22-1-24-1-26 0-31-2-36-1-45-1-19-7-3-9 2-9 5-8 6-8 8-8 9-7 11-7 11-6 13-6 14-6 14-5 16-5 16-4 16-4 18-4 18-3 19-3 20-2 20-2 20-2 20-1 21-1 21 0 21-1 21 0 22 0 22 1 23 1 23 1 23 3 22 3 21 3 16 6 15 5 16 6 15 5 8 7 8 7 7 7 8 7zM1517 1142l-5 7-4 7-13 6-13 5-12 6-13 6-16 4-16 4-16 5-17 4-24 1-22 1-21 0-19 1-19 0-18 0-18 0-17 0-18 0-18 0-18 0-18-1-20 0-20-1-22 0-24-1-27-1-31-1-37-2-45-1-19-7-3-9 3-9 5-8 6-8 8-8 10-7 10-7 12-6 13-6 14-6 14-5 15-5 16-4 17-4 17-4 19-3 19-3 20-3 19-1 21-2 20-1 21-1 21-1 21 0 21 0 22 0 23 1 23 1 23 1 23 2 22 3 17 5 18 5 17 5 17 5 12 7 11 6 12 7 11 6-5 7zM1559 1142l-11 7-11 8-11 7-11 7-17 6-17 5-17 6-17 5-18 5-18 4-28 1-25 0-24 1-21 0-21 0-20 0-19 1-19 0-20 0-19-1-20 0-20 0-22 0-23-1-25 0-28-1-32-1-36 0-44-1-56-1-22-8-2-11 4-10 7-10 9-9 11-9 12-8 12-8 15-7 15-7 16-6 16-6 17-5 18-5 18-5 20-4 20-4 22-3 22-2 22-3 23-1 23-2 23-1 24 0 23-1 25 0 25 0 25 1 26 1 27 1 26 3 25 3 23 5 22 5 16 6 17 7 16 7 16 6 4 9 3 8 3 8zM1552 1141l-6 8-6 8-15 7-14 6-14 7-15 6-17 5-18 5-18 5-18 5-28 0-25 1-23 0-22 0-21 1-20 0-19 0-19 0-20 0-19 0-20 0-21 0-22-1-24 0-25 0-28-1-33-1-37 0-45-1-58-1-22-8-2-11 5-11 8-10 9-9 11-9 12-8 13-8 15-7 16-7 16-6 16-6 18-5 18-5 19-5 20-4 20-4 22-3 22-3 23-2 23-2 23-1 23-1 24 0 23-1 25 0 24 0 26 1 26 1 26 1 26 3 26 3 19 6 19 6 20 5 19 6 13 7 13 8 13 7 12 7-6 8zM1513 1142l-7 6-7 7-7 7-14 5-14 5-14 5-14 6-16 4-16 4-16 4-23 1-22 0-20 1-19 0-18 1-18 0-17 0-17 0-18 0-17 0-18 0-18-1-19 0-20-1-21-1-23-1-26-1-30-1-35-1-43-2-18-6-4-9 2-8 4-9 6-8 7-7 9-7 10-7 11-6 13-6 13-5 14-5 15-5 16-5 16-4 17-3 18-4 19-2 19-3 20-1 20-2 20-1 20-1 21 0 20-1 21 0 22 0 22 1 23 1 22 1 23 3 22 2 20 4 16 6 15 5 15 5 16 6 7 7 8 6 7 7 7 7zM1414 1142l-2 4-3 5-5 4-6 4-8 4-9 3-10 3-10 3-12 3-11 2-14 2-13 1-13 2-13 0-13 1-13 1-13 0-12 0-13 0-13 0-13-1-13 0-13-1-13-1-14-2-13-1-14-2-14-2-14-3-16-2-9-4-6-5-4-4-2-5-1-4 1-5 3-5 4-4 6-4 7-4 8-4 9-3 10-3 11-3 11-3 12-2 12-2 13-2 12-1 13-1 13-1 13-1 13 0 14 0 13 0 13 0 13 1 14 0 13 1 13 2 13 1 13 2 12 2 12 3 10 3 10 3 9 4 8 4 7 4 4 4 3 5zM1428 1142l-2 5-5 4-5 5-8 4-9 4-9 4-11 3-12 3-11 3-13 2-14 2-14 1-14 1-14 1-13 1-14 0-13 0-13 0-14 0-13 0-13 0-14-1-13-1-14-1-14-1-15-2-15-2-15-1-17-3-19-2-11-4-5-5-4-5-2-5 0-5 1-5 3-5 5-5 6-4 7-4 9-4 9-4 11-3 11-4 12-2 12-3 13-2 14-2 14-2 14-1 14-1 14-1 14 0 15 0 14 0 15 0 14 0 15 1 15 1 15 1 14 2 15 2 13 3 13 3 11 3 10 4 10 4 8 4 7 4 5 5 1 5zM1419 1142l-2 5-4 4-5 4-6 4-8 4-10 4-10 3-11 3-11 3-12 2-14 2-13 1-14 1-13 1-13 1-13 0-13 1-13 0-13 0-13-1-14 0-13-1-13-1-13-1-14-1-14-2-14-2-15-2-15-2-17-2-10-4-5-5-4-5-2-5 0-4 1-5 3-5 4-4 6-4 7-4 8-4 10-4 10-3 11-3 11-2 12-3 13-2 13-2 13-1 13-1 13-1 14-1 13 0 14 0 13 0 14 0 13 0 14 1 14 1 14 1 13 2 13 2 13 2 12 3 11 3 10 4 9 3 8 4 7 4 5 5 2 4zM1397 1142l-1 4-3 4-4 4-6 4-7 3-8 3-9 3-10 3-10 2-11 2-11 2-12 1-12 2-12 0-12 1-11 1-12 0-12 0-12 0-12 0-12-1-12-1-12 0-12-2-11-1-12-2-11-2-11-2-11-3-10-2-8-4-7-3-5-4-3-4-3-4 0-4 1-4 3-4 4-4 6-4 7-3 8-3 9-3 10-3 10-2 11-2 11-2 12-2 12-1 11-1 12-1 12 0 13-1 12 0 12 0 12 1 12 0 12 1 12 1 12 1 11 2 12 2 11 2 10 2 10 3 9 3 8 3 7 3 6 4 4 4 2 4zM1417 1142l-2 5-3 4-5 4-7 4-8 4-9 4-10 3-11 3-11 2-12 3-14 1-13 2-14 1-13 1-13 0-13 1-13 0-12 0-13 0-13 0-13-1-13 0-13-1-13-2-13-1-14-1-13-2-14-2-15-3-15-2-10-4-6-5-4-4-2-5-1-4 1-5 2-5 4-4 6-4 7-4 8-4 9-3 10-4 11-2 11-3 12-2 12-2 13-2 12-2 13-1 14-1 13 0 13-1 14 0 13 0 14 0 13 1 14 0 14 1 13 2 14 1 13 2 12 2 12 3 11 3 10 4 9 3 8 4 7 4 4 5 2 4zM1415 1142l-2 4-3 5-5 4-7 4-8 4-9 3-10 3-11 3-11 3-12 2-13 2-13 1-13 1-13 1-13 1-13 0-13 1-12 0-13 0-13 0-13-1-13-1-13 0-13-2-13-1-14-1-14-2-14-2-15-3-16-2-10-4-6-4-4-5-2-5-1-4 1-5 2-5 4-4 6-4 7-4 8-4 9-4 10-3 11-3 11-3 12-2 13-2 12-2 14-1 13-1 13-1 14-1 13 0 14 0 13 0 14 0 13 0 14 1 14 1 13 2 14 1 13 2 12 3 12 2 10 3 10 4 9 3 8 4 6 5 5 4 1 4zM1419 1142l-2 5-4 4-5 4-7 4-9 4-9 4-10 3-11 3-12 2-11 3-14 1-13 2-14 1-13 1-13 0-13 1-13 0-12 0-13 0-13 0-13-1-13-1-13-1-13-1-13-1-14-2-13-1-14-2-15-3-16-2-10-4-6-4-4-5-2-5-1-4 0-5 3-5 4-4 5-4 7-4 8-4 9-4 10-3 11-3 11-3 12-2 12-2 13-2 13-1 13-2 14-1 13 0 14-1 14 0 13 0 14 0 14 1 14 0 14 1 14 2 14 1 13 2 13 3 12 3 10 3 10 3 10 4 8 4 6 4 5 5 1 4zM1395 1142l-1 4-2 4-4 4-6 3-6 4-8 3-9 3-10 3-10 2-11 2-11 2-12 1-12 2-12 1-12 0-11 1-12 0-12 0-12 0-12 0-12-1-12-1-12-1-11-1-12-1-11-2-11-2-11-2-10-3-9-3-8-3-6-4-5-3-4-4-2-4 0-4 1-4 3-4 4-4 6-3 7-4 8-3 8-2 10-3 10-2 11-2 11-2 11-1 11-2 12-1 12 0 11-1 12 0 12 0 11 0 12 0 12 1 11 0 12 1 12 1 11 2 11 2 11 1 10 3 10 2 9 3 8 3 7 4 6 3 4 4 3 4zM1406 1142l-1 4-4 4-4 4-6 4-8 4-9 3-9 3-10 3-11 3-11 2-12 1-13 2-12 1-13 1-12 1-13 0-12 1-12 0-13 0-12-1-13 0-12-1-13-1-13-1-13-1-13-2-13-1-13-2-14-3-14-2-10-4-7-4-4-4-3-5-1-4 0-5 2-4 4-5 5-4 7-4 8-4 9-3 9-3 11-3 11-3 12-2 12-2 13-2 12-1 13-1 13-1 13 0 14-1 13 0 13 0 13 1 13 0 13 1 13 1 13 1 12 2 13 2 11 2 11 3 10 3 9 3 9 4 7 3 6 4 4 4 2 5zM1438 1142l-3 5-5 5-6 5-7 4-10 4-10 4-11 3-12 4-12 3-13 2-15 2-16 1-14 1-15 1-14 0-14 1-14 0-13 0-14 0-14 0-14 0-14-1-15-1-15-1-15-1-16-1-17-2-18-2-19-2-23-2-12-5-6-5-2-6-1-5 1-6 2-5 4-5 6-5 7-5 8-4 9-5 11-4 11-3 12-3 13-3 13-3 14-2 14-2 15-2 14-1 15-1 15-1 15-1 16 0 15 0 15 1 16 0 15 1 16 1 15 1 16 2 15 2 14 3 13 3 12 4 10 4 10 4 9 4 8 5 5 5 1 5zM1434 1142l-3 5-5 5-6 4-7 5-9 4-10 3-11 4-12 3-12 3-12 3-15 1-15 1-14 1-14 1-14 1-14 0-14 1-13 0-14 0-14-1-14 0-14-1-14 0-15-1-15-1-15-2-17-1-18-2-19-2-22-3-13-4-5-5-3-6-1-5 0-6 3-5 3-5 6-5 7-5 8-4 9-5 10-3 12-4 12-3 12-3 13-3 14-2 14-2 15-2 15-1 15-1 14-1 16 0 15 0 15 0 15 0 15 0 16 1 15 1 15 2 15 1 15 3 14 2 13 4 11 3 10 4 10 4 9 4 7 5 4 5 2 5zM1437 1142l-3 5-5 5-6 5-8 4-9 4-10 4-11 3-12 4-12 2-12 3-16 2-15 1-14 1-15 1-14 0-14 1-14 0-13 0-14 0-14 0-14 0-14-1-15-1-15-1-15-1-16-1-17-2-18-2-20-2-23-2-12-5-5-5-3-6-1-5 1-6 3-5 4-5 5-5 7-5 9-4 9-5 10-4 12-3 12-3 13-3 13-3 14-2 14-2 15-2 14-1 15-1 15-1 15 0 16-1 15 0 15 1 15 0 16 1 16 1 15 1 15 2 15 2 14 3 13 3 12 4 10 4 10 4 9 4 8 5 4 5 2 5zM1429 1142l-2 5-4 5-5 4-8 4-8 4-10 4-11 4-11 3-12 3-12 2-15 2-14 1-15 1-14 1-13 1-14 0-14 0-13 1-14 0-14-1-14 0-14-1-14-1-14-1-15-1-15-1-16-2-17-2-19-2-21-2-11-5-6-5-2-5-1-6 1-5 2-5 4-5 5-5 7-4 8-5 9-4 10-3 11-4 12-3 12-3 13-2 14-2 13-2 14-2 14-1 15-1 14-1 14 0 15 0 14 0 14 0 15 1 15 0 14 1 15 2 15 1 14 2 13 3 12 3 12 3 10 4 10 4 9 4 7 5 5 4 2 5zM1417 1142l-2 5-3 4-5 4-7 4-8 4-9 4-10 3-11 3-11 2-12 3-14 1-13 2-13 1-14 1-13 0-13 1-12 0-13 0-13 0-13 0-13-1-13 0-13-1-14-1-13-2-14-1-13-2-15-2-15-2-16-3-10-4-5-4-4-5-2-5-1-4 1-5 3-5 4-4 5-4 7-4 9-4 9-4 10-3 11-3 11-2 12-3 12-2 13-1 13-2 13-1 13-1 14-1 13 0 14 0 13 0 14 0 13 1 14 0 14 1 13 2 14 1 13 2 12 2 12 3 11 3 10 4 9 3 8 4 7 4 4 5 2 4zM1440 1142l-3 5-5 5-6 5-8 4-10 4-10 4-11 4-12 3-13 3-12 2-16 2-15 1-15 1-15 1-14 0-14 1-14 0-13 0-14 0-14 0-14-1-14 0-14-1-15-1-15-1-16-2-16-1-18-2-19-2-22-3-12-4-5-5-3-6-1-5 1-6 2-5 4-5 5-5 7-5 8-4 9-4 11-4 11-4 12-3 12-3 13-3 14-2 14-2 14-2 15-1 15-1 14-1 15 0 16-1 15 0 15 1 16 0 15 1 16 1 16 1 15 2 15 2 15 2 13 4 12 3 11 4 10 4 9 5 8 5 4 5 2 5zM1411 1142l-2 4-3 5-5 4-7 4-7 3-9 4-10 3-11 3-11 2-11 2-13 2-13 1-12 2-13 0-13 1-12 1-13 0-12 0-13 0-12 0-13-1-13-1-12 0-13-2-13-1-13-2-12-1-13-3-14-2-14-3-9-3-7-4-4-5-3-4-1-5 0-4 2-4 4-5 5-4 6-4 8-3 9-4 9-3 11-3 11-2 12-3 12-2 12-1 13-2 12-1 13-1 13-1 13 0 14 0 13 0 13 0 13 1 14 0 13 1 13 2 13 1 13 2 12 3 11 2 10 3 10 4 9 3 7 4 7 4 4 4 2 5zM1637 1141l-10 10-9 10-19 8-19 8-19 8-19 8-22 6-22 6-22 6-22 6-36 0-33 0-29 0-27 0-25 0-24 0-23 0-23 0-23 0-24 0-23 0-25 0-27 0-29 0-32-1-36 0-42 0-49 0-61 0-79 0-29-10 1-14 9-14 13-13 15-12 16-11 17-10 18-10 19-8 20-8 20-8 21-7 21-7 22-6 22-6 24-5 25-5 26-4 28-3 27-3 28-2 28-2 29-2 30 0 29-1 31 0 31 0 33 0 33 0 34 2 34 3 32 4 25 7 24 8 25 7 24 7 17 10 16 9 17 9 16 10-9 10zM1631 1141l-9 10-10 10-18 8-19 8-18 7-18 8-22 6-22 6-21 6-22 6-36 0-32 0-29 0-27 0-25 0-23 0-24 0-22 0-23 1-23 0-24 0-25 0-27 0-29 0-32 0-36 0-42 0-51 0-61 0-80 0-29-11 0-14 9-14 14-13 14-12 17-11 17-10 18-10 19-9 21-8 20-7 20-8 22-6 22-6 23-6 24-5 25-5 27-4 27-3 28-3 28-3 28-1 29-2 30 0 29 0 30-1 32 0 32 0 33 1 34 2 33 3 32 4 24 7 24 7 24 8 24 7 16 9 16 10 17 9 16 9-10 10z" stroke="#ff0000" stroke-width="2.6" fill="none" stroke-linejoin="round"/>
<path transform="scale(0.5)" d="M1435 1298l-1 6-2 5-5 5-8 5-10 4-12 4-14 3-14 3-14 2-15 2-16 2-14 1-15 1-15 1-14 0-14 0-13 0-14 0-13 0-13-1-13 0-14-1-13-1-13-1-13-2-14-2-13-2-12-2-13-3-12-3-11-3-11-4-9-4-8-5-7-5-6-5-2-5-1-5 2-6 3-5 6-5 11-5 21-2 21-2 19-1 17-2 16-1 15 0 14-1 14-1 13 0 13 0 13-1 13 0 13 0 13 1 13 0 14 0 13 1 15 1 15 0 15 2 14 2 13 2 13 3 12 3 11 4 10 4 9 5 9 4 5 5zM1494 1298l1 7 0 7-2 7-5 7-9 6-12 6-13 6-15 6-17 5-19 4-20 4-21 3-23 2-23 2-23 1-23 1-22-1-23 0-22-2-20-1-21-2-19-3-19-2-18-3-18-4-16-3-16-4-14-5-15-4-14-5-14-5-12-5-13-5-12-6-12-7-11-7-9-7-7-8-7-8-4-9-2-10 7-8 38-4 37-1 32-2 28-1 26-2 24-1 22-1 21 0 21-1 20 0 20-1 19 0 20 0 20 1 19 0 21 1 21 1 21 1 23 1 21 3 16 5 15 4 13 5 11 6 9 6 8 6 10 5 11 6 7 7z" fill="#ff0000" fill-rule="evenodd" stroke="none"/>
<path transform="scale(0.5)" d="M1532 1299l8 7-7 8-7 7-7 8-7 8-20 5-19 5-20 6-20 5-23 3-24 3-24 2-24 2-23 1-23 0-23 0-22 0-22-1-21-1-20-2-20-1-20-2-19-2-19-3-18-3-18-3-17-3-17-4-16-5-17-4-16-5-15-5-15-6-15-6-15-7-13-8-10-8-8-8-6-9-4-10 0-10 12-9 44-2 43-1 36-1 30-1 28 0 24-1 23 0 21-1 21 0 19 0 19 0 19 0 19 0 19 0 20 0 20 0 21 1 23 0 25 1 24 1 19 4 19 5 18 4 14 6 14 6 14 6 14 6 8 7 8 8zM1565 1299l10 8-8 9-8 8-8 8-8 9-22 6-22 5-22 6-22 6-25 4-27 3-26 2-27 2-26 1-26 0-25 0-24 0-24-1-23-2-22-2-21-2-22-2-20-2-21-3-19-3-20-3-18-4-18-5-18-4-18-5-18-5-17-6-17-6-17-7-17-7-15-9-13-8-10-10-9-10-6-11-1-11 12-10 51-3 49-1 41 0 35-1 31 0 27-1 25 0 24 0 22-1 22 0 21 0 20 0 21 0 21 0 21 0 23 0 23 1 26 0 27 0 28 2 20 5 21 4 21 5 15 7 15 6 15 7 15 7 9 8 10 8zM1602 1299l11 9-9 9-8 10-9 9-8 10-25 6-24 6-25 7-24 6-29 5-30 3-29 2-30 2-29 1-28 0-28 0-27-1-26-1-25-2-24-2-24-2-23-2-22-3-22-3-22-3-21-4-20-5-19-4-19-5-20-5-20-6-19-6-19-7-20-8-20-8-18-9-15-9-13-11-12-12-8-12-3-13 12-11 59-3 58 0 46-1 40 0 35 0 31-1 28 0 26 0 24 0 24 0 23 0 22 0 23 0 23 0 23 0 25 0 26 0 29 0 31 0 30 2 23 5 23 5 23 6 16 7 16 7 17 8 16 7 11 9 11 9zM1622 1299l2 10 1 10 2 10-19 9-20 8-19 9-19 8-29 6-28 5-29 6-31 3-31 3-31 2-31 0-30 1-29 0-28-1-28-1-26-2-26-2-24-3-24-3-24-3-23-3-22-3-22-5-20-4-20-5-20-5-21-6-20-6-20-6-20-7-20-8-21-8-19-10-16-10-13-11-12-12-9-13-3-13 13-12 62-3 60 0 49 0 42 0 36-1 31 0 29 0 27 0 25 0 25 0 23 0 23 0 23 0 24 0 24 0 26 0 27 0 29 0 32 0 32 1 24 5 21 7 20 6 21 7 20 6 18 9 18 8 19 8 18 9zM1517 1299l4 7 3 7-11 7-10 7-11 7-11 7-20 4-20 4-21 5-20 4-22 3-23 2-22 1-23 1-22 1-21 0-21-1-21 0-20-1-19-2-19-1-19-2-18-2-18-2-18-3-17-3-16-4-16-3-16-4-16-5-16-4-14-5-15-6-14-6-13-6-12-8-9-7-7-8-5-9-3-9 1-9 11-9 40-2 40-1 33-1 29-1 26-1 23 0 22-1 20 0 20-1 19 0 18 0 18 0 18 0 19 0 19 0 19 1 20 0 22 1 23 0 24 2 17 4 17 4 17 5 17 4 13 6 14 6 13 6 13 6 4 7zM1635 1299l2 10 2 11 1 10-20 9-20 9-20 9-20 8-29 6-30 6-29 5-32 4-32 3-33 1-31 1-31 1-30 0-30-1-28-2-27-1-26-3-26-2-25-3-24-3-24-3-23-4-23-4-21-5-21-5-21-5-21-6-22-6-20-7-21-7-22-8-22-9-21-10-17-10-15-12-14-12-10-14-4-14 13-13 67-3 64 0 52 0 44 0 38 0 34 0 30 0 28 0 27 0 25 0 24 0 24 0 24 0 25 0 25 0 26 0 28 0 31 0 34 0 33 2 25 5 21 7 21 6 21 7 21 7 18 8 19 9 18 9 19 8zM1548 1299l8 8-7 8-8 8-8 7-7 8-21 6-21 5-21 6-21 5-24 4-25 3-25 2-26 1-24 1-24 1-24 0-23-1-22-1-21-1-21-2-21-2-20-2-19-2-20-2-18-3-18-4-18-3-17-4-17-5-17-4-17-5-16-6-16-5-16-7-15-7-14-8-11-8-9-9-8-9-5-10-1-11 12-9 46-3 45-1 38-1 32 0 29-1 26-1 24 0 22 0 21-1 21 0 19 0 20 0 20 0 20 0 21 0 21 0 22 1 25 0 26 0 26 2 19 4 20 5 20 4 14 7 14 6 15 6 14 7 9 7 8 8zM1499 1299l3 7 3 6-10 7-11 6-10 6-10 7-19 4-19 4-19 4-18 4-21 3-21 1-22 2-20 1-21 0-20 0-20 0-19 0-19-1-18-2-18-1-17-2-18-2-17-2-17-2-16-3-15-3-16-4-15-3-15-4-14-5-14-5-13-5-13-6-12-6-10-7-8-7-6-7-4-8-2-8 2-9 10-8 37-2 36-2 30-1 26-1 24 0 22-1 20-1 19 0 19-1 18 0 17 0 17 0 17 0 18 0 18 0 18 1 19 0 21 1 21 0 22 2 16 4 16 4 17 4 16 4 12 6 12 6 13 5 12 6 3 7zM1510 1298l-3 7-3 8-3 7-3 7-17 5-16 5-16 6-16 5-21 4-20 3-21 3-22 2-22 1-21 1-21 0-20 1-20-1-20 0-19-1-18-2-19-1-17-2-18-2-17-2-17-2-17-3-15-4-16-3-15-4-15-4-15-5-14-5-13-5-13-6-12-6-10-7-8-7-6-7-5-8-1-9 1-8 11-8 37-3 36-1 31-1 27-1 24-1 22-1 20 0 20-1 18 0 18 0 18 0 17 0 18 0 17 0 18 0 19 0 19 1 21 0 22 1 22 1 17 4 18 4 14 5 13 5 14 5 14 5 9 6 10 7 10 6zM1555 1298l-4 9-3 8-3 8-4 8-19 6-19 7-18 6-19 6-24 4-24 4-25 3-25 2-25 1-25 1-24 1-24 0-22-1-23-1-21-1-21-1-21-2-20-2-20-3-19-2-19-3-18-3-18-4-17-4-17-4-17-5-17-5-16-5-16-6-16-7-15-7-14-8-11-8-9-9-8-9-5-11 0-10 11-9 47-3 45-1 38-1 32-1 29 0 26-1 24 0 22 0 21-1 21 0 19 0 20 0 20 0 20 0 20 0 22 0 22 1 24 0 27 0 25 2 20 4 20 5 16 5 15 6 15 6 16 6 12 7 12 8 12 7zM1609 1299l6 10 5 9-13 9-14 9-14 9-14 9-27 6-27 6-26 6-27 6-30 3-31 2-30 2-30 1-29 0-29 0-27 0-27-2-26-1-24-2-25-3-23-2-23-3-23-3-22-4-21-4-20-4-20-5-20-5-20-6-20-5-19-7-20-7-20-7-20-8-19-10-15-10-13-10-12-12-8-13-3-13 12-12 61-2 59-1 48 0 40 0 36 0 31-1 28 0 27 0 25 0 23 0 23 0 23 0 23 0 23 0 24 0 25 0 27 0 28 0 32 0 31 2 22 6 22 5 22 6 22 6 18 7 18 8 17 8 18 8 6 9zM1491 1299l7 6-7 7-6 6-7 7-7 6-17 5-17 4-16 5-17 4-20 3-20 3-21 2-20 1-21 1-20 0-19 1-19-1-19 0-18-1-18-1-17-2-17-1-17-2-17-2-16-2-16-3-15-3-15-4-15-3-15-4-14-5-13-4-12-6-12-5-12-6-9-7-7-6-5-8-4-7-1-8 2-8 10-8 35-2 34-2 28-1 26-1 22-1 21 0 20-1 18-1 18 0 18 0 16 0 17 0 17 0 17 0 17 0 18 0 19 1 19 0 21 1 21 2 17 3 16 4 16 4 13 5 12 5 12 5 12 6 6 6 7 6zM1511 1299l8 7-7 7-7 7-7 7-6 7-19 5-18 5-18 5-19 5-21 3-22 3-22 2-22 1-22 1-22 1-21 0-21-1-20 0-19-1-20-2-18-1-19-2-18-2-18-2-17-3-17-3-16-3-16-4-16-4-16-4-15-5-14-5-14-5-13-6-13-7-12-7-8-7-7-8-5-8-2-9 1-9 11-8 40-3 38-1 33-1 28-1 25-1 23 0 21-1 20 0 19 0 18-1 18 0 18 0 18 0 18 0 18 1 19 0 20 0 21 1 23 1 23 1 17 4 18 4 17 4 13 6 13 5 13 6 13 5 7 7 8 7zM1608 1299l11 9-9 10-8 9-9 10-8 9-25 7-25 6-25 7-25 7-29 4-30 3-30 3-31 1-29 1-29 1-28-1-27 0-27-1-25-2-25-2-24-3-23-2-23-3-23-3-21-3-21-4-20-5-20-5-20-5-20-5-20-6-19-6-20-7-20-7-20-9-18-9-16-10-13-10-12-12-8-12-4-14 13-11 60-3 59 0 47-1 41 0 35 0 31 0 28-1 27 0 25 0 23 0 23 0 23 0 23 0 23 0 24 0 25 0 27 0 28 0 32 0 31 2 23 5 23 6 23 5 17 7 17 8 16 7 17 8 11 9 11 9zM1614 1299l2 10 1 10 1 9-19 9-19 8-19 9-18 8-28 5-28 6-28 5-30 3-31 3-31 2-30 0-29 1-28 0-28-1-27-1-26-2-25-2-24-2-24-3-23-3-23-3-22-4-21-4-20-4-20-5-20-5-20-5-20-6-20-7-19-7-21-7-20-8-19-10-15-10-13-11-12-11-9-13-3-13 13-12 61-3 59 0 48 0 41-1 36 0 31 0 29 0 26 0 25 0 24 0 23 0 23 0 23 0 23 0 24 0 25 0 27 0 29 0 32 0 31 2 24 5 20 6 20 6 20 7 20 6 17 8 18 8 17 9 18 8zM1515 1298l-3 8-4 7-3 7-3 7-17 6-16 5-17 5-17 6-20 3-21 4-21 3-22 1-22 2-22 1-21 0-21 0-20 0-20-1-19-1-19-1-18-1-18-2-18-2-18-2-17-3-17-3-16-3-16-3-15-4-16-4-15-5-14-5-14-5-13-6-13-7-12-7-8-7-7-8-5-8-3-9 1-9 11-8 39-3 38-1 32-1 28-1 25-1 23 0 21-1 20 0 19 0 18-1 18 0 18 0 18 0 18 0 18 1 19 0 20 0 22 1 22 0 23 2 17 4 18 4 14 5 14 5 13 5 14 5 10 7 10 6 10 7zM1487 1299l3 6 3 7-10 6-9 6-10 6-10 6-18 4-18 4-17 4-18 4-20 3-20 1-21 2-20 1-20 0-19 1-19-1-19 0-18-1-18-1-17-1-18-2-17-2-16-2-17-2-16-3-15-3-15-4-15-3-14-4-14-5-13-4-13-6-12-5-11-6-10-7-7-6-4-8-4-7-1-8 3-8 10-7 35-3 34-1 28-2 26-1 22 0 21-1 20-1 18 0 18 0 17-1 17 0 16 0 17 0 17 0 17 1 17 0 18 1 20 0 20 1 21 2 15 3 16 4 15 4 16 4 12 5 12 6 11 5 12 5 3 7zM1582 1299l11 9-8 8-8 9-8 9-7 9-24 6-23 7-23 6-23 6-27 4-28 3-28 3-29 1-28 1-27 1-26 0-26-1-25-1-24-2-23-2-23-2-22-2-22-3-21-3-21-3-20-4-19-4-18-4-19-5-19-5-19-6-18-6-17-6-19-7-18-8-16-9-13-9-11-10-10-11-7-11-2-12 13-11 55-2 53-1 43 0 37-1 32 0 29 0 26-1 25 0 23 0 22 0 22 0 21 0 22 0 21 0 23 0 23 0 24 0 27 0 29 0 29 2 22 5 21 5 22 5 16 7 16 7 15 7 16 6 11 9 10 9zM1606 1299l11 9-8 10-9 9-9 10-8 9-25 7-25 6-25 7-25 6-29 4-30 4-30 2-30 2-29 0-29 1-28 0-27-1-26-1-25-2-25-2-23-2-23-3-23-3-22-3-22-3-21-4-20-4-19-5-20-5-20-5-20-6-20-6-19-7-20-7-20-9-19-9-15-10-13-10-13-12-8-12-4-13 12-12 60-3 59 0 47-1 40 0 35 0 32-1 28 0 26 0 25 0 24 0 23 0 23 0 23 0 23 0 24 0 25 0 27 0 29 0 31 0 31 2 23 5 23 6 23 5 17 7 16 8 17 7 17 8 11 9 10 9zM1487 1298l0 7 0 7-1 6-12 6-13 5-13 6-13 5-18 4-18 4-19 3-19 3-20 2-20 1-20 1-19 1-20 0-18 0-19-1-18-1-17-1-18-1-17-2-17-1-16-2-17-3-16-2-15-3-15-4-15-3-14-4-15-5-13-4-12-6-13-5-11-6-10-7-7-7-5-7-4-7-1-8 2-8 10-8 35-2 34-2 29-1 26-1 22-1 21 0 20-1 19 0 17-1 18 0 16 0 17 0 17 0 17 0 17 0 17 1 19 0 19 1 21 1 20 1 17 4 14 4 14 4 14 5 14 4 11 6 11 5 10 6 11 6zM1564 1299l1 8 0 9 1 8-17 8-16 7-17 7-17 7-24 5-24 4-24 5-26 3-26 2-27 2-26 1-25 0-25 0-23 0-24-1-22-2-22-2-22-1-20-3-21-2-20-3-19-3-19-3-18-4-18-4-18-5-18-5-17-5-17-5-17-7-16-6-17-8-15-8-12-8-10-10-8-10-6-10-1-11 12-10 49-3 49-1 40 0 34-1 30-1 27 0 25 0 23-1 22 0 21 0 21 0 20 0 21 0 20 0 22 0 22 0 23 0 25 1 28 0 27 2 20 4 18 5 18 6 18 6 18 5 14 7 15 8 15 7 15 7zM1501 1299l4 7 3 7-11 6-10 6-10 7-11 6-19 4-19 4-19 5-18 4-22 2-21 2-21 2-22 0-20 1-21 0-19 0-20-1-19-1-18-1-18-2-18-1-17-2-18-2-16-3-17-3-15-3-15-3-16-4-15-4-14-5-14-5-13-5-13-6-12-6-10-7-8-7-5-7-5-8-1-9 1-8 11-8 37-2 36-2 30-1 26-1 24 0 22-1 20-1 19 0 19-1 17 0 18 0 17 0 17 0 18 0 18 0 18 1 20 0 20 1 22 0 22 2 16 4 16 4 17 4 16 4 13 6 12 5 13 6 12 6 3 7zM1572 1299l10 8-8 9-8 9-7 8-8 9-23 6-22 6-23 6-22 6-27 4-27 3-27 2-27 2-27 1-26 0-26 0-25-1-24-1-23-1-23-2-22-2-22-2-21-3-21-2-20-4-19-3-19-4-19-5-18-4-19-5-18-5-17-6-18-7-18-7-17-7-17-9-12-9-11-9-10-11-6-11-2-12 12-10 53-3 52-1 42 0 36-1 32 0 28 0 26-1 24 0 23 0 22 0 21 0 21 0 21 0 22 0 21 0 23 0 24 0 26 0 29 1 28 1 21 5 21 5 21 5 15 7 16 7 15 6 15 7 10 8 10 9zM1497 1299l3 7 3 6-10 7-11 6-10 6-10 6-19 5-18 4-19 4-19 4-20 2-21 2-21 1-21 1-20 1-20 0-20 0-19-1-18-1-19-1-17-1-18-2-17-2-17-2-17-3-16-2-15-4-15-3-15-4-15-4-14-4-14-5-13-5-12-6-12-6-10-7-8-7-5-7-4-8-2-8 2-8 11-8 35-3 36-1 29-1 26-1 24-1 21-1 20 0 19-1 18 0 18 0 17 0 17 0 17 0 18 0 17 0 18 0 19 1 21 0 21 1 22 2 16 4 16 4 16 4 16 4 12 5 13 6 12 5 12 6 3 7zM1506 1298l-3 7-4 7-3 7-4 7-16 5-16 6-16 5-16 5-20 4-20 3-21 2-21 2-21 2-21 1-20 0-20 0-20 0-19-1-18-1-19-1-18-1-17-2-17-2-17-2-17-2-16-3-16-3-15-4-15-4-15-4-15-4-13-5-13-5-13-6-12-6-11-7-8-7-5-7-5-8-2-8 2-9 10-8 37-2 35-2 31-1 26-1 24-1 22 0 20-1 19 0 19-1 17 0 18 0 17 0 18 0 17 0 18 0 18 1 20 0 20 0 22 1 22 2 17 3 17 4 14 5 13 5 13 5 14 5 9 6 10 7 9 6zM1565 1299l9 8-7 9-8 8-8 8-7 9-22 6-22 6-22 5-22 6-26 4-26 3-27 3-27 1-26 1-26 0-25 0-24 0-24-1-23-2-22-1-22-2-21-3-20-2-21-3-19-3-19-4-19-3-17-5-18-4-18-5-18-5-17-6-16-6-17-7-17-8-15-8-11-8-10-10-9-10-5-11-1-11 12-10 50-2 49-1 40-1 35 0 30-1 27 0 25 0 23-1 22 0 21 0 21 0 20 0 21 0 20 0 22 0 22 0 23 0 25 1 28 0 27 1 21 5 20 5 21 4 15 7 15 7 15 6 16 7 9 8 10 8zM1634 1299l7 10 6 11-15 9-15 10-14 10-15 9-29 6-29 6-28 7-29 6-32 3-33 3-33 1-31 1-31 1-30-1-30 0-28-2-27-2-26-2-26-3-24-2-24-3-24-4-23-4-22-4-21-5-21-5-20-5-22-5-21-7-20-6-21-7-21-8-22-9-20-10-17-10-15-12-13-12-10-13-5-15 13-12 66-3 63 0 52 0 43 0 37-1 34 0 30 0 28 0 26 0 25 0 24 0 24 0 24 0 25 0 25 0 26 0 29 0 30 0 34 0 34 1 23 6 24 6 23 6 23 7 19 8 19 8 20 8 19 8 6 11zM1485 1299l6 6-6 6-7 7-6 6-6 6-17 5-16 4-17 5-16 4-19 3-20 3-20 2-20 1-20 1-19 1-19 0-19 0-19-1-18-1-17-1-18-1-17-2-17-1-16-2-16-3-16-3-15-3-15-3-14-4-15-4-14-4-13-5-12-5-12-5-11-6-9-7-6-6-5-8-3-7-1-8 3-8 10-7 34-2 33-2 28-1 25-1 22-1 21 0 19-1 18 0 17-1 17 0 17 0 16 0 17 0 16 0 17 0 17 1 18 0 19 1 21 1 20 1 16 4 16 3 16 4 12 5 12 5 12 5 12 5 6 6 6 7zM1494 1299l6 6-6 7-7 6-6 7-7 7-17 4-17 5-17 4-17 5-20 3-20 3-21 2-21 1-20 1-20 1-20 0-20 0-19-1-18-1-19-1-17-1-18-2-17-2-17-2-17-2-16-3-15-3-16-4-15-4-15-4-14-4-13-5-13-5-13-6-11-6-10-7-8-7-5-7-4-8-1-8 2-8 11-8 36-2 35-2 29-1 26-1 24 0 21-1 20-1 19 0 18 0 17-1 17 0 17 0 17 0 17 0 18 1 18 0 18 0 20 1 21 1 21 1 17 4 16 4 17 3 12 6 12 5 12 5 13 5 6 7 7 6zM1507 1299l4 7 3 7-11 6-10 7-10 7-11 6-19 4-20 5-19 4-19 4-22 3-22 2-22 1-21 1-22 1-20 0-21 0-20-1-19-1-19-1-19-2-18-1-18-2-18-3-17-2-17-3-16-3-16-4-16-4-15-4-15-5-15-5-14-5-13-6-13-7-11-7-9-7-6-8-5-8-3-9 1-9 11-8 40-3 38-1 32-1 28-1 25 0 23-1 21-1 20 0 19 0 18 0 18-1 18 0 18 0 18 1 18 0 19 0 20 1 21 0 22 1 22 2 17 4 17 4 16 4 17 4 13 6 12 6 13 6 13 6 3 7zM1610 1299l11 9-8 10-8 10-9 9-8 10-25 6-25 7-25 7-25 6-30 5-30 3-31 3-30 1-30 1-29 1-29-1-27 0-27-2-26-1-24-2-25-3-23-2-23-3-23-3-22-4-21-4-20-4-20-5-20-5-20-6-20-5-19-7-20-7-20-7-20-8-19-10-15-10-13-10-12-12-8-13-3-13 12-12 61-2 59-1 48 0 40 0 35 0 32-1 28 0 27 0 24 0 24 0 23 0 23 0 23 0 23 0 24 0 25 0 27 0 29 0 31 0 32 2 23 5 23 5 23 6 17 7 17 8 17 7 17 8 11 9 12 9zM1524 1298l-3 8-4 7-3 8-4 7-17 6-17 5-17 6-17 5-22 4-21 4-22 2-23 2-23 1-22 1-22 1-21 0-21-1-20 0-19-1-20-2-18-1-19-2-18-2-17-2-18-3-17-3-16-3-16-4-15-4-16-4-15-5-15-5-13-5-14-6-13-7-12-7-9-7-7-8-5-9-3-8 1-10 10-8 40-2 39-2 32-1 29-1 25 0 23-1 22-1 20 0 19 0 19-1 18 0 18 0 18 0 19 0 19 0 19 1 21 0 21 0 24 1 23 2 18 3 19 4 14 6 14 5 14 5 14 6 11 6 10 7 10 7zM1520 1299l7 7-6 7-7 7-7 8-7 7-19 5-18 5-19 5-19 5-22 4-23 3-23 2-23 1-22 1-23 1-22 0-21-1-21 0-20-1-20-2-19-1-19-2-19-2-18-3-18-2-17-3-17-4-16-4-16-4-16-4-15-5-15-5-14-6-14-6-14-6-12-8-9-7-6-8-6-9-3-9 1-9 12-9 41-2 40-2 34 0 29-1 26-1 23 0 22-1 20 0 20-1 19 0 18 0 18 0 18 0 19 0 19 0 19 1 20 0 22 1 24 0 23 2 18 4 18 4 18 4 13 6 13 5 14 6 13 6 8 7 8 7zM1551 1298l-2 9-3 8-3 8-3 8-19 6-18 7-19 6-18 6-24 4-23 4-25 3-25 2-25 2-25 1-24 0-24 0-23 0-23-1-22-1-21-2-21-2-20-2-20-2-19-3-19-2-19-4-17-4-17-4-17-4-18-5-16-5-16-5-16-6-16-7-15-7-14-8-10-8-9-9-7-9-4-10 0-11 11-9 47-3 46 0 37-1 32-1 29 0 25-1 24 0 22-1 21 0 20 0 20 0 19 0 20 0 19 0 20 0 21 0 23 1 23 0 26 1 25 1 20 4 20 4 15 6 15 6 16 6 15 5 12 8 12 7 12 7zM1616 1299l6 10 6 10-14 9-14 9-14 9-14 10-28 5-27 6-27 6-28 6-31 4-31 2-31 2-30 1-30 0-29 0-28-1-27-1-26-2-25-2-25-2-24-3-23-3-23-3-23-4-21-4-20-4-21-5-20-5-20-6-21-6-20-6-20-7-20-8-21-8-19-10-16-10-14-11-12-12-9-13-4-13 13-12 63-3 60 0 49 0 42-1 36 0 32 0 29 0 27 0 25 0 24 0 24 0 23 0 23 0 24 0 24 0 26 0 27 0 29 0 33 0 31 1 23 6 22 6 23 6 22 6 18 8 18 8 18 7 19 8 5 10zM1519 1299l4 7 3 8-10 6-11 7-11 7-11 7-20 4-21 5-20 4-20 5-23 2-22 2-23 2-23 1-22 0-22 0-21 0-21-1-20-1-20-1-19-2-19-1-18-2-19-3-18-2-17-3-17-4-16-4-16-4-16-4-16-5-15-5-15-6-14-6-14-6-12-8-9-7-8-9-6-8-3-10 1-9 11-9 42-2 41-1 34-1 30-1 26-1 24 0 22-1 20 0 20 0 19-1 19 0 18 0 19 0 18 1 19 0 20 0 20 1 22 0 24 1 23 1 17 5 18 4 17 4 17 5 13 6 14 6 13 6 13 6 4 7zM1560 1298l-3 9-3 8-3 9-3 8-19 6-20 7-19 6-19 6-24 4-25 5-25 2-26 3-26 1-25 1-24 0-25 0-23 0-23-1-22-1-21-2-21-2-21-2-20-2-19-3-20-3-18-3-18-4-17-4-17-5-18-4-17-5-16-6-16-6-16-7-16-7-14-8-12-8-9-9-8-10-5-10 0-11 11-9 48-3 46-1 39-1 33 0 29-1 26 0 25-1 22 0 22 0 20-1 20 0 20 0 20 0 20 0 21 0 22 1 22 0 25 0 27 1 26 1 20 5 21 4 15 6 16 6 15 6 16 6 12 7 13 8 12 7zM1558 1298l-2 9-3 8-3 9-3 8-19 6-19 7-19 6-19 6-24 5-24 4-25 3-26 2-26 2-25 1-25 0-24 0-24 0-23-1-22-2-22-1-21-2-21-2-20-3-20-2-19-3-19-4-18-4-17-4-18-4-17-5-18-5-16-6-16-6-16-6-16-8-15-8-11-8-9-9-7-10-5-10 0-11 12-10 48-2 47-1 39-1 33 0 29-1 27 0 24-1 22 0 22 0 20 0 20 0 20 0 20 0 20 0 21 0 21 0 22 1 25 0 26 0 26 2 20 4 20 4 16 6 15 6 16 6 16 6 12 7 12 8 13 7zM1560 1299l1 8 0 9 1 8-16 7-17 7-16 8-16 7-24 4-24 5-24 5-25 3-26 2-27 1-25 1-25 1-25 0-24-1-23-1-22-1-22-2-21-2-21-2-20-2-20-3-20-3-19-4-18-3-17-5-18-4-17-5-18-5-16-6-17-6-16-6-16-8-15-8-11-8-10-9-8-10-5-11-1-11 12-9 49-3 48-1 39 0 34-1 29-1 27 0 24 0 23-1 22 0 21 0 20 0 20 0 20 0 21 0 21 0 21 0 23 0 25 1 27 0 26 2 21 4 18 5 17 6 18 5 18 6 14 7 15 7 15 7 14 7zM1548 1299l4 8 5 8-12 8-12 7-12 8-12 7-22 5-23 5-22 5-23 5-25 2-25 3-25 1-25 1-24 0-24 0-23 0-23-1-22-1-21-2-21-2-20-2-20-2-19-3-19-3-18-3-18-4-17-4-17-4-18-5-17-5-16-5-16-6-16-7-15-7-14-8-11-8-9-9-8-10-5-10 0-10 11-10 48-2 45-1 38-1 33-1 29 0 26-1 24 0 22 0 21-1 21 0 19 0 20 0 20 0 20 0 20 0 22 0 22 1 24 0 26 0 26 2 19 5 19 5 19 5 18 4 15 7 15 6 15 7 15 7 4 8zM1608 1299l11 9-8 10-9 9-8 10-8 9-25 7-25 7-25 6-25 7-29 4-30 4-31 2-30 2-30 1-29 0-28 0-27-1-27-1-25-2-25-2-24-2-24-3-23-2-22-4-22-3-21-4-20-5-20-4-20-5-20-6-20-5-19-7-20-7-20-7-20-8-19-10-15-10-12-10-12-12-9-13-3-13 13-11 60-3 59 0 47-1 41 0 35 0 31 0 29-1 26 0 25 0 23 0 23 0 23 0 23 0 23 0 24 0 25 0 26 0 29 0 31 0 32 2 23 5 23 6 23 5 16 7 17 8 17 7 17 8 11 9 11 9zM1508 1299l4 7 3 7-11 7-10 6-11 7-10 6-20 4-19 5-20 4-19 4-22 3-22 2-22 1-21 1-22 1-21 0-20-1-20 0-19-1-19-2-19-1-18-2-18-2-17-2-18-2-16-3-16-4-16-3-16-4-15-4-15-5-15-5-13-5-14-6-13-7-11-7-8-7-7-8-5-8-2-9 1-9 11-8 39-2 38-2 32-1 28-1 25 0 22-1 21-1 20 0 19 0 18 0 18-1 18 0 18 0 18 1 18 0 19 0 20 1 21 0 23 1 22 1 17 5 16 4 17 4 17 4 13 6 12 6 13 6 13 5 3 8zM1562 1299l0 8 1 9 0 8-17 7-16 7-17 8-17 7-24 4-24 5-24 4-25 3-26 2-26 2-26 1-25 0-24 0-24-1-23-1-22-1-22-2-21-1-20-3-20-2-20-3-20-3-18-3-18-4-18-4-17-4-18-5-17-5-17-6-17-6-16-6-17-8-14-8-12-8-10-9-9-10-5-11-2-11 12-10 49-2 48-1 39-1 34-1 30 0 27-1 24 0 23 0 22-1 21 0 21 0 20 0 21 0 20 0 21 0 22 0 24 0 25 1 27 0 27 2 21 4 17 6 18 5 18 6 17 5 15 8 14 7 15 7 14 7zM1503 1299l7 7-7 6-7 7-7 7-7 7-18 4-18 5-17 5-18 4-21 4-21 2-21 2-22 1-21 1-21 1-20 0-20-1-19 0-19-1-18-2-18-1-17-2-17-2-17-2-17-2-16-3-15-3-16-4-14-4-15-4-14-4-14-5-13-5-12-6-12-6-10-7-8-7-5-7-4-8-2-8 2-8 10-8 36-3 35-1 30-1 26-1 23-1 22-1 20 0 19-1 18 0 18-1 17 0 17 0 17 0 18 0 18 0 18 1 20 0 20 1 22 0 22 2 17 4 17 3 17 4 13 6 13 5 12 5 13 6 7 6 7 7zM1619 1299l6 10 6 10-14 9-15 9-14 10-14 9-28 6-27 6-28 6-27 6-31 3-31 3-32 1-30 1-30 1-29-1-28 0-28-2-26-1-26-3-24-2-24-3-24-2-23-4-23-3-21-4-21-5-20-5-20-5-21-6-21-5-20-7-20-7-21-8-20-8-20-10-16-10-14-11-12-12-9-13-4-14 13-12 63-2 61-1 49 0 42 0 37 0 32 0 29-1 27 0 26 0 24 0 24 0 23 0 24 0 23 0 25 0 25 0 28 0 29 0 33 0 32 2 22 6 23 6 22 6 23 6 18 7 18 8 18 8 19 8 6 10zM1548 1299l0 8 1 8 0 8-16 7-16 7-15 7-16 7-23 4-23 4-23 5-25 3-25 2-25 1-24 1-24 0-24 0-23 0-22-1-21-1-21-2-21-2-20-2-19-2-20-2-18-3-19-4-17-3-17-4-17-5-17-4-17-5-16-6-16-5-15-7-16-7-14-8-10-8-9-9-8-9-4-10-1-11 12-9 46-3 45-1 37 0 33-1 28-1 26 0 23-1 22 0 22 0 20 0 20-1 19 0 20 0 20 0 20 1 21 0 23 0 23 0 26 1 26 2 20 4 17 5 17 5 17 6 17 5 14 7 14 7 14 6 14 7zM1648 1298l-3 11-3 11-3 10-3 11-24 8-25 8-24 8-25 8-31 6-31 5-32 4-33 2-33 2-32 1-32 0-30 0-30-1-29-1-28-2-26-2-26-3-26-3-24-3-25-3-23-4-23-4-21-5-22-5-21-6-22-5-22-6-21-7-22-8-22-8-23-9-21-10-18-11-15-11-15-13-11-14-4-15 13-13 69-3 66 0 53 0 45 0 39 0 34 0 31 0 29 0 27 0 26 0 25 0 24 0 25 0 25 0 25 0 27 0 29 0 31 0 35 0 33 2 26 6 25 5 19 8 19 7 19 8 19 7 16 10 17 9 16 9zM1589 1299l1 9 1 9 1 10-17 7-18 8-18 8-17 8-27 5-26 5-26 5-28 3-28 2-29 2-28 1-27 0-27 0-26-1-25-1-24-1-24-2-22-2-22-3-22-3-22-2-20-4-20-4-19-4-19-4-18-5-19-5-19-6-18-6-17-6-18-7-18-8-17-9-13-9-11-10-10-11-7-11-2-12 13-11 54-2 53-1 44 0 37-1 32 0 29-1 26 0 25 0 23 0 22 0 22-1 21 0 22 0 21 0 23 0 23 0 25 1 27 0 29 0 29 2 23 4 19 6 19 6 19 6 19 6 16 7 16 8 16 8 17 7zM1515 1298l-4 8-3 7-3 7-4 7-16 6-17 5-16 5-17 6-20 3-21 4-22 2-22 2-21 2-22 1-21 0-21 0-20 0-20-1-19-1-19-1-18-1-19-2-17-2-18-2-17-3-17-3-16-3-16-3-16-4-15-4-15-5-15-5-14-5-13-6-13-7-12-7-9-7-6-8-6-8-3-9 1-9 11-8 39-3 39-1 32-1 28-1 25-1 23 0 22-1 20 0 19-1 18 0 18 0 18 0 18 0 18 0 19 0 19 1 20 0 21 1 23 0 22 2 18 4 18 4 13 5 14 5 14 5 13 5 10 7 10 6 10 7zM1633 1299l1 10 2 11 1 10-19 9-20 8-20 9-20 9-29 6-30 5-29 6-32 3-32 3-32 2-31 1-31 0-30 0-29-1-28-1-27-2-26-3-25-2-25-3-24-3-23-3-23-4-22-4-21-5-21-5-20-5-22-6-20-6-21-6-20-8-22-7-21-9-20-10-17-10-14-11-13-13-10-13-4-14 13-13 65-2 63 0 51-1 43 0 37 0 33 0 30 0 27 0 26 0 25 0 24 0 24 0 24 0 24 0 25 0 26 0 28 0 30 0 34 0 33 1 24 6 21 6 21 7 21 7 21 6 19 9 18 8 18 9 19 8zM1525 1299l0 7 0 8 0 7-14 7-15 6-15 6-14 7-22 4-21 4-21 4-23 3-23 2-23 1-23 1-22 1-22 0-21-1-21 0-20-1-20-2-19-1-19-2-19-2-18-3-18-2-17-3-17-4-16-4-17-4-16-4-16-5-15-5-14-6-15-6-14-6-12-8-10-7-7-9-6-9-4-9 1-9 11-9 42-3 41-1 35-1 29 0 27-1 24-1 22 0 21 0 20-1 19 0 19 0 18 0 19 0 18 0 20 0 19 1 21 0 22 0 24 1 24 2 19 3 15 5 16 5 16 5 16 5 13 7 13 6 12 6 13 7zM1583 1299l1 9 1 9 0 9-17 8-17 7-18 8-17 7-26 5-25 5-26 5-28 3-28 3-27 1-28 1-27 1-26 0-25-1-25-1-24-2-23-1-22-3-22-2-22-2-21-3-20-4-20-3-19-4-19-5-18-5-19-4-19-6-17-6-18-6-18-7-18-8-17-9-13-9-11-10-10-10-7-12-2-12 13-10 54-3 52-1 44 0 36-1 32 0 29 0 27-1 24 0 23 0 22 0 22 0 21 0 22 0 21 0 22 0 24 0 24 0 27 0 29 1 28 1 22 5 19 6 18 6 19 5 19 6 16 8 15 7 16 8 16 7zM1609 1298l-3 10-3 10-3 9-3 10-22 7-22 8-22 7-22 7-28 5-28 5-30 3-30 3-29 1-30 1-28 1-28-1-27 0-26-1-25-2-24-2-24-2-23-3-23-3-22-3-22-3-20-4-20-4-20-5-19-5-20-5-20-6-19-6-19-7-19-7-20-9-18-9-15-9-12-11-12-11-7-13-3-12 12-12 59-3 57 0 47 0 40-1 34 0 31 0 28 0 25 0 25-1 23 0 23 0 22 0 23 0 22 0 24 0 24 0 26 0 28 1 31 0 31 1 23 5 23 5 17 7 18 7 17 7 18 7 15 8 14 9 15 8zM1496 1298l0 7 0 7-1 7-13 6-13 5-13 6-14 6-19 4-18 3-19 4-21 3-21 1-20 2-21 1-20 0-20 0-19 0-19 0-18-1-18-1-18-2-18-1-17-2-17-2-16-3-16-2-16-4-15-3-15-4-15-4-15-4-13-5-13-5-13-6-12-6-10-7-7-7-6-7-4-8-2-8 2-9 11-7 36-3 35-1 30-1 26-1 24-1 21-1 20 0 19-1 18 0 18 0 17 0 17 0 17 0 17 0 18 0 18 1 19 0 20 1 21 0 21 2 17 3 15 5 15 4 14 5 15 4 11 6 11 6 11 6 11 6zM1504 1299l4 7 3 7-10 6-11 7-10 6-10 7-19 4-19 4-19 4-19 5-22 2-22 2-21 2-22 1-21 0-21 1-20-1-20 0-19-1-19-1-19-2-18-2-18-2-18-2-17-2-16-3-17-4-15-3-16-4-15-4-15-5-15-5-13-5-14-6-12-7-11-7-9-7-6-8-4-8-3-9 2-9 11-7 39-3 38-1 32-1 27-1 25-1 22 0 21-1 20 0 19-1 18 0 18 0 17 0 18 0 17 0 18 1 19 0 20 0 20 1 22 1 22 1 17 4 16 5 17 4 16 4 13 6 12 5 13 6 13 6 3 7zM1548 1299l5 8 4 8-12 8-12 7-12 8-12 7-22 5-23 5-22 5-23 4-25 3-25 2-26 2-24 1-25 0-23 0-23 0-23-1-22-2-21-1-20-2-20-2-20-3-19-2-19-3-18-4-17-3-17-4-17-5-17-4-16-5-16-6-15-6-16-6-15-7-13-8-10-8-9-9-7-9-4-10-1-10 12-9 45-3 45-1 37-1 31-1 28 0 26-1 23 0 22-1 21 0 20 0 20 0 19 0 20 0 20 0 20 0 21 0 22 0 24 0 26 1 26 1 19 5 19 5 19 5 19 4 15 7 15 6 15 7 15 7 4 8zM1535 1299l0 7 0 8 1 8-15 7-15 6-15 7-15 7-22 4-22 4-22 4-23 3-24 2-24 2-24 1-23 0-23 0-22 0-22-1-21-1-20-1-20-2-20-2-19-2-19-3-19-2-17-4-18-3-16-4-17-4-17-5-16-5-16-5-15-6-15-6-15-7-13-8-10-8-8-8-6-9-4-10 0-10 11-9 45-3 43-1 36 0 31-1 28-1 25 0 23-1 21 0 20 0 20 0 19 0 19 0 19 0 19 0 20 0 20 0 22 1 22 0 25 0 24 2 20 4 16 5 16 5 17 5 16 5 13 7 14 6 13 7 13 7zM1533 1298l-3 8-3 8-3 7-4 8-17 6-18 6-18 5-17 6-22 4-22 4-24 3-23 2-23 1-24 1-22 0-22 0-22 0-21-1-20-1-20-1-20-2-19-2-18-2-19-2-18-3-17-3-17-3-17-4-16-4-16-5-16-4-15-6-15-5-15-7-14-6-13-8-10-7-7-9-7-9-3-9 0-10 11-9 43-2 42-1 34-1 31-1 26-1 25 0 22-1 21 0 20 0 20-1 18 0 19 0 19 0 19 0 19 1 20 0 21 0 23 1 24 0 24 2 19 4 19 4 14 5 15 6 14 5 15 6 11 7 11 7 10 7zM1521 1299l8 7-7 7-6 8-7 7-7 7-19 5-19 5-19 6-19 5-22 3-23 3-23 2-24 1-22 1-23 1-22 0-21-1-21 0-20-1-20-2-19-2-19-1-18-3-18-2-18-3-17-3-17-3-16-4-16-4-15-4-16-5-14-5-15-6-13-6-14-6-11-8-9-7-7-8-5-9-3-9 1-9 11-8 41-3 40-1 33-1 29-1 25-1 24 0 21-1 21 0 19-1 19 0 18 0 18 0 18 0 19 0 19 0 19 1 21 0 21 0 24 1 23 2 19 4 18 4 18 4 13 5 14 6 13 6 14 6 8 7 8 7zM1539 1298l-3 8-2 8-3 8-3 8-18 6-18 6-18 6-18 6-22 4-23 4-24 3-24 2-24 1-24 1-23 1-23 0-22-1-22 0-21-2-20-1-21-2-19-2-19-2-19-2-19-3-18-3-17-4-17-4-16-4-17-5-16-5-16-5-15-6-15-6-15-7-13-8-10-8-8-8-6-9-4-10 0-10 12-9 45-3 43 0 36-1 31-1 27-1 25 0 23-1 21 0 21 0 19 0 19 0 19 0 19 0 19 0 20 0 20 0 21 1 23 0 25 1 24 1 19 4 20 4 14 6 15 5 15 6 15 5 11 7 12 7 11 7zM1636 1299l12 10-9 10-9 10-9 11-9 10-27 7-26 7-27 7-27 7-31 5-33 4-32 2-33 2-32 1-31 0-30 0-29-1-29-1-27-2-27-2-25-3-25-2-25-3-24-4-24-3-22-5-22-5-21-5-21-5-22-6-22-6-21-6-21-8-23-8-22-9-22-10-18-10-15-12-14-13-11-14-5-14 13-13 68-3 66 0 53 0 45 0 39 0 34 0 31-1 28 0 27 0 26 0 25 0 24 0 25 0 25 0 25 1 27 0 29 0 31 0 34 0 33 1 25 6 25 6 24 6 18 8 18 8 17 8 18 8 12 10 12 9zM1556 1299l1 8 0 8 1 9-16 7-16 7-17 7-16 7-23 5-24 4-24 5-25 2-26 3-26 1-25 1-25 0-24 0-23 0-23-1-22-2-21-1-21-2-20-2-20-3-20-2-19-3-18-4-17-4-18-4-17-4-17-5-17-5-16-5-15-6-16-7-15-7-14-8-11-8-9-9-7-9-5-11-1-10 12-9 47-3 45-1 38-1 32 0 29-1 26-1 24 0 22 0 21-1 21 0 19 0 20 0 20 0 20 0 21 0 21 0 23 0 24 1 27 0 26 2 20 4 18 5 17 5 18 6 17 5 15 7 14 7 15 7 14 7zM1554 1298l-3 9-4 8-3 8-3 8-19 6-19 7-19 6-18 6-24 4-24 4-24 3-26 2-25 2-24 1-25 0-23 0-23 0-23-1-22-1-21-2-21-2-20-2-20-2-20-2-19-3-18-4-18-3-18-4-17-5-18-4-17-5-17-6-16-6-17-7-16-7-14-8-12-8-9-9-9-10-5-10-1-11 12-10 49-3 47 0 39-1 33-1 29 0 27-1 24 0 23 0 21 0 21-1 20 0 20 0 20 0 20 1 21 0 21 0 23 0 24 1 26 0 26 2 20 4 20 4 15 6 15 6 15 6 16 6 11 7 12 8 12 7zM1522 1299l0 7 0 8 0 7-15 6-14 7-15 6-15 6-21 4-21 4-21 4-22 3-23 2-23 1-22 1-22 0-22 0-20 0-21-1-20-1-19-1-19-2-18-2-18-2-18-2-17-3-17-3-16-3-16-4-16-4-15-4-16-5-14-5-14-5-14-6-13-7-12-7-9-7-6-8-6-9-3-8 1-10 10-8 40-3 39-1 33-1 28-1 26-1 23 0 21-1 20 0 20-1 19 0 18 0 18 0 18 0 19 0 19 0 19 0 21 1 22 0 24 1 23 1 19 4 16 5 15 5 16 5 16 4 13 7 12 6 13 7 12 6zM1507 1299l7 7-6 7-7 7-6 6-7 7-18 5-18 5-18 5-18 5-21 3-21 3-22 2-22 1-22 1-21 1-21 0-21 0-20-1-19-1-19-1-19-2-18-1-18-2-18-3-17-2-17-3-16-4-16-3-15-4-16-4-15-5-14-5-13-5-13-6-13-7-11-7-8-7-6-8-4-8-2-9 1-8 11-8 39-3 38-1 31-1 28-1 24-1 23 0 21-1 19 0 19 0 18-1 18 0 17 0 18 0 17 0 18 1 19 0 20 0 20 1 23 1 22 1 17 4 17 4 18 4 12 5 13 6 13 5 13 6 7 6 8 7zM1517 1299l3 7 4 7-11 7-10 7-11 7-11 7-20 4-20 4-20 5-20 4-22 3-23 2-23 1-22 1-22 1-22 0-21 0-21-1-20-1-19-1-20-2-18-2-19-2-18-2-18-3-17-3-16-3-16-4-16-4-16-4-16-5-14-5-15-6-14-6-13-6-12-8-9-7-6-8-6-9-2-9 0-9 12-8 41-3 39-1 34-1 29-1 25-1 24 0 21-1 21 0 19 0 19-1 18 0 18 0 18 0 19 0 18 1 20 0 20 0 22 1 23 0 23 2 17 4 17 5 17 4 17 4 14 6 13 6 13 6 14 6 3 7zM1624 1299l1 10 2 10 2 10-20 9-19 8-19 9-19 9-29 5-29 6-28 5-31 4-32 2-31 2-31 1-30 1-30-1-28 0-28-2-26-1-26-3-25-2-25-3-23-3-24-3-23-4-21-4-21-4-20-5-21-6-21-5-21-6-20-7-20-7-21-8-21-8-20-10-16-10-13-11-13-12-9-13-4-14 14-12 64-3 61 0 50 0 42 0 37-1 33 0 29 0 27 0 26 0 24 0 24 0 23 0 24 0 23 0 25 0 25 0 28 0 29 0 33 0 32 2 24 5 20 7 21 6 20 7 21 6 18 8 18 9 18 8 18 8zM1619 1299l11 10-8 9-8 10-8 10-9 10-25 7-26 7-25 7-26 6-30 5-31 4-31 2-32 2-31 1-30 0-29 0-28-1-28-1-26-2-26-2-25-2-25-3-23-3-24-3-23-4-21-4-21-4-21-5-20-5-21-6-21-6-20-7-21-7-21-8-21-8-20-10-16-10-14-11-13-13-9-13-4-13 13-13 65-2 62-1 50 0 42 0 37 0 33 0 29 0 28 0 25 0 25 0 24 0 23 0 24 0 23 0 25 0 25 0 28 0 29 0 33 0 32 2 23 6 24 5 23 6 18 7 17 8 17 7 17 8 12 9 12 10zM1504 1299l7 7-7 6-7 7-7 7-7 7-18 5-17 4-18 5-18 5-21 3-21 3-21 2-22 1-21 1-21 0-20 1-20-1-20 0-19-1-19-1-18-2-18-2-17-1-18-3-17-2-16-3-16-3-16-4-16-4-15-4-15-4-14-5-14-6-13-5-12-7-11-7-9-7-6-8-5-8-2-8 1-9 11-8 38-3 38-1 31-1 28-1 24-1 22 0 21-1 20 0 19-1 18 0 18 0 17 0 18 0 17 0 19 0 18 1 20 0 21 1 22 0 22 2 17 4 17 4 17 4 13 5 12 6 13 5 12 6 7 6 7 7zM1543 1299l4 8 4 8-12 7-12 8-12 7-12 7-22 5-22 5-22 4-22 5-24 3-25 2-25 1-24 1-24 1-23 0-23-1-22-1-21-1-21-2-20-1-19-2-20-3-19-2-18-3-18-3-17-4-17-4-17-4-16-5-17-5-15-5-16-6-15-6-15-7-13-8-10-8-9-8-7-10-4-9 0-10 11-10 45-2 43-1 37-1 31-1 28-1 25 0 23-1 22 0 20 0 20-1 20 0 19 0 20 0 19 0 20 0 21 1 22 0 24 0 26 1 25 1 19 5 18 5 19 4 18 5 15 6 15 7 14 6 15 7 4 8zM1573 1299l1 8 1 9 1 9-17 8-17 7-17 7-17 8-25 5-25 4-25 5-27 3-27 3-27 1-27 1-26 0-25 0-25 0-24-1-23-2-23-1-21-2-22-3-21-2-20-3-20-3-20-4-18-4-18-4-19-5-18-4-18-6-17-6-17-6-18-7-17-7-16-9-12-9-11-9-9-11-6-11-2-11 12-10 52-3 51-1 41 0 36-1 31 0 28-1 25 0 24 0 23 0 21-1 21 0 21 0 21 0 21 0 22 0 23 1 24 0 25 0 29 0 27 2 22 4 18 6 18 6 18 6 18 5 16 8 15 7 15 7 16 8zM1564 1299l10 8-8 9-7 8-8 8-7 9-22 6-22 6-22 6-22 5-25 4-27 4-26 2-27 1-27 1-25 1-25 0-25-1-24-1-23-1-22-2-22-2-21-2-21-2-21-3-20-3-19-4-19-4-18-4-18-5-18-5-18-5-17-6-17-6-17-7-17-7-15-9-12-8-10-10-9-10-5-11-2-11 13-10 51-3 50-1 41 0 35-1 30 0 28-1 25 0 23 0 23 0 21 0 21-1 20 0 21 0 20 1 22 0 22 0 23 0 26 0 27 1 27 1 21 5 20 5 21 4 15 7 15 7 15 6 15 7 10 8 10 8zM1510 1299l7 7-7 7-7 7-7 7-7 7-18 4-18 5-18 5-19 5-21 3-22 3-22 2-22 1-21 1-22 1-20 0-21-1-20 0-19-1-19-2-19-1-18-2-18-2-17-2-18-2-16-3-16-4-16-3-15-4-16-4-15-5-14-5-14-5-13-6-13-7-11-7-9-7-6-8-5-8-3-9 1-9 11-8 39-2 38-2 32-1 28-1 25 0 22-1 21-1 20 0 19 0 18-1 18 0 18 0 18 0 18 0 18 1 19 0 20 0 21 1 23 1 22 1 18 4 17 4 18 4 13 6 13 5 12 6 13 5 7 7 8 7zM1497 1298l-3 7-4 7-3 7-4 6-16 5-15 5-16 5-16 5-19 3-19 4-20 2-21 2-20 1-20 1-19 0-20 1-18-1-19 0-18-1-17-1-17-2-17-1-17-2-16-2-16-2-16-3-15-3-15-3-15-4-14-4-14-4-13-5-13-5-12-5-11-6-10-7-7-6-5-8-5-7-1-8 2-8 9-8 35-2 33-2 29-1 25-1 23-1 21-1 19 0 19-1 18 0 17-1 17 0 17 0 17 0 17 0 18 0 18 1 19 0 19 1 22 1 21 1 17 4 16 3 13 5 13 5 13 5 13 5 9 6 9 6 9 6zM1618 1298l-3 10-3 10-3 10-3 10-23 7-23 8-23 7-23 8-29 4-28 5-30 4-31 2-30 1-30 1-29 1-28-1-27 0-27-2-25-1-25-2-24-3-23-2-23-3-22-3-22-4-20-4-20-4-20-5-19-5-20-5-20-6-19-6-19-7-20-7-19-9-19-9-15-9-12-11-12-12-8-12-4-13 13-11 59-3 58-1 47 0 39 0 35-1 31 0 28 0 26 0 25-1 23 0 23 0 23 0 23 0 23 0 24 0 25 0 27 0 28 0 32 0 31 2 24 5 24 5 18 7 18 7 18 7 18 7 15 8 15 9 15 9zM1501 1299l7 6-7 7-7 7-7 7-7 6-18 5-17 5-18 4-18 5-20 3-21 3-21 2-21 1-21 1-21 0-20 0-20 0-19-1-19-1-18-1-18-1-17-2-17-2-17-2-17-2-16-3-16-3-15-4-15-4-15-4-14-4-14-5-13-5-12-6-12-6-11-7-7-7-6-7-4-8-2-8 2-9 10-7 36-3 36-1 30-1 26-1 24-1 21-1 20-1 19 0 19-1 18 0 17 0 17 0 17 0 18 0 18 0 18 1 20 0 20 1 22 0 21 2 18 4 17 3 17 4 12 6 13 5 12 5 12 6 7 7 7 6zM1543 1299l1 8 0 8 0 8-15 7-16 6-15 7-16 7-23 4-22 4-23 5-24 3-25 2-24 1-24 1-24 1-23 0-23-1-22-1-21-1-21-1-20-2-20-2-19-2-19-3-19-3-18-3-17-4-17-4-17-4-17-4-16-5-16-6-16-6-15-6-15-7-14-8-10-8-8-9-8-9-4-10 0-10 11-9 46-3 44-1 37 0 31-1 28-1 25 0 24-1 22 0 20 0 20-1 20 0 19 0 20 0 19 0 20 0 21 1 22 0 24 0 25 1 25 1 20 4 17 6 17 5 16 5 17 5 14 7 14 7 13 7 14 6zM1608 1298l-3 10-3 10-3 9-3 10-22 7-22 8-22 7-22 7-28 5-28 5-29 3-30 2-30 2-29 1-28 0-28 0-27 0-26-2-25-1-24-2-24-3-23-2-23-3-22-3-21-3-21-4-20-5-19-4-20-5-20-5-19-6-19-6-19-7-20-8-19-8-19-9-14-9-13-11-11-11-8-13-3-12 12-12 60-3 57 0 46 0 40-1 34 0 31 0 28 0 25 0 25-1 23 0 23 0 22 0 23 0 22 0 24 0 24 0 26 0 28 1 31 0 31 1 23 5 23 5 17 7 18 7 17 7 18 7 14 8 15 9 15 8zM1590 1299l2 9 1 9 1 10-18 7-18 8-18 8-17 8-27 5-26 5-26 5-28 3-29 3-28 1-28 1-28 1-27-1-26 0-25-1-24-2-24-2-23-2-22-2-22-3-22-3-21-3-20-4-19-4-19-5-19-5-19-5-19-5-18-6-19-7-18-7-19-8-17-9-13-9-12-10-10-11-7-12-3-12 13-11 56-3 54 0 45-1 37 0 33 0 30-1 26 0 25 0 24 0 23 0 22 0 21 0 22 0 22 0 23 0 23 0 25 0 27 0 30 0 29 2 22 5 19 6 19 6 19 6 19 6 17 7 16 8 16 8 16 7zM1545 1299l0 8 1 8 0 8-16 7-16 6-15 7-16 7-23 4-22 5-23 4-24 3-25 2-25 1-24 1-24 1-23 0-23-1-22-1-21-1-21-1-20-2-20-2-19-2-20-3-18-3-18-3-18-4-17-4-17-4-17-4-16-5-16-6-16-6-15-6-16-7-13-8-11-8-9-9-7-9-5-10 0-10 11-10 46-2 45-1 37-1 32-1 28 0 25-1 24 0 22-1 21 0 20 0 20 0 19 0 20 0 19 0 21 0 21 0 22 1 23 0 26 0 26 2 19 4 17 5 17 6 17 5 17 5 14 7 13 7 14 7 14 6zM1428 1298l0 5-2 5-5 5-7 5-9 4-11 4-12 4-13 3-14 2-14 3-15 2-15 1-14 1-15 1-14 1-15 0-14 0-14 0-14-1-13 0-13-1-14-1-13-2-13-1-13-2-12-2-12-2-12-3-12-2-11-4-10-3-9-4-8-4-8-4-5-5-5-5-2-5 0-5 1-5 3-5 5-5 9-4 19-3 18-2 17-2 16-1 15-2 15-1 14-1 14-1 13 0 14 0 13-1 13 0 13 0 14 0 13 1 14 0 14 1 14 1 15 1 15 1 13 3 13 2 13 3 11 4 9 4 9 4 8 4 8 5 5 4zM1434 1298l0 6-2 5-4 5-7 5-10 4-11 4-13 4-13 3-14 3-15 2-15 2-15 2-15 1-16 1-15 0-15 1-14 0-15 0-14-1-14-1-14 0-14-2-14-1-13-1-13-2-13-2-13-3-12-2-12-3-12-3-11-4-10-4-9-4-8-5-6-5-5-5-3-5-1-5 1-6 2-5 5-6 9-5 21-2 21-2 19-2 17-1 16-1 16-1 14-1 15-1 14-1 14 0 14 0 13 0 14 0 14 0 13 0 15 1 14 1 15 0 16 1 15 2 13 3 13 2 13 3 11 4 10 4 9 4 9 5 8 4 5 5zM1412 1298l-1 5-3 5-4 4-7 4-9 4-10 4-11 3-12 2-13 3-13 2-13 2-13 1-13 1-13 1-13 0-13 1-13 0-13 0-12-1-13 0-12-1-13-1-12-1-12-1-12-1-12-2-12-2-11-3-11-2-10-3-10-3-9-4-7-4-7-4-5-4-3-5-2-4 1-5 2-5 3-4 5-5 9-4 15-3 16-2 15-2 15-1 13-2 14-1 13-1 13-1 13 0 13-1 13 0 12 0 13 0 13 0 12 1 13 0 13 1 14 1 14 1 13 2 12 2 12 2 11 3 11 4 9 3 8 4 7 4 6 4 4 5zM1429 1298l0 5-3 6-4 4-7 5-9 4-11 4-12 4-13 3-14 3-14 2-15 2-15 2-14 1-15 1-15 0-14 1-15 0-14-1-14 0-14-1-13 0-14-1-13-2-14-1-13-2-13-2-12-2-12-3-12-3-12-3-10-3-10-4-9-4-7-5-7-5-4-5-3-5-1-5 1-5 3-6 5-5 9-5 20-2 20-2 18-2 17-1 16-2 15-1 15-1 14 0 14-1 13 0 14 0 13 0 14 0 13 0 14 0 14 1 14 0 14 1 15 1 15 2 13 2 13 3 12 3 11 4 10 4 9 4 8 4 8 4 5 5zM1409 1298l0 5-3 5-4 4-6 4-9 4-9 4-11 3-12 3-12 2-12 2-13 2-14 2-13 1-13 1-13 0-14 1-13 0-13 0-13 0-13-1-12 0-13-1-13-1-13-2-12-1-12-2-12-2-12-3-11-2-11-3-10-4-9-3-8-4-7-4-5-5-4-5-1-4 0-5 2-5 4-5 6-5 9-4 17-2 17-2 16-2 14-2 15-1 14-1 13-1 13-1 13 0 13 0 13-1 12 0 13 1 12 0 13 0 13 1 12 1 14 1 13 1 13 1 12 3 12 2 11 3 10 3 9 4 8 3 7 4 7 4 4 5zM1405 1298l-1 5-2 4-4 5-7 4-8 3-9 4-11 3-11 3-12 2-13 2-12 2-13 1-13 2-13 0-13 1-12 0-13 1-13 0-12-1-13 0-12-1-13-1-12-1-12-1-12-1-12-2-11-2-12-3-10-2-11-3-9-3-9-4-7-4-6-4-5-4-3-5-1-4 1-5 3-4 4-5 6-4 9-4 15-2 15-3 14-1 14-2 13-1 14-2 12-1 13 0 12-1 13 0 12 0 12-1 12 1 13 0 12 0 12 1 13 1 13 1 13 1 12 1 12 2 12 3 11 3 10 3 8 3 8 4 7 4 7 4 3 4zM1435 1298l0 6-3 5-4 5-8 5-10 4-11 4-13 4-13 3-14 3-15 2-15 2-15 1-15 1-15 1-15 1-15 0-15 0-14 0-14-1-14 0-14-1-13-1-14-1-13-2-13-2-13-2-13-2-12-3-12-3-12-3-11-3-9-4-9-4-8-5-7-5-5-5-3-5-1-5 0-6 2-5 5-6 8-5 21-2 21-2 19-2 17-2 16-1 16-1 15-1 14 0 15-1 14 0 13-1 14 0 14 0 14 1 14 0 14 0 15 1 15 1 16 1 15 2 14 2 13 3 13 3 11 4 9 4 9 4 9 5 8 4 5 5zM1425 1298l0 5-2 5-4 5-6 5-9 4-11 4-12 4-13 3-13 2-14 3-15 2-14 1-15 1-15 1-14 1-15 0-14 0-14 0-14 0-13-1-14-1-13-1-14-1-13-2-13-1-12-2-12-3-12-2-12-3-11-3-10-4-9-4-8-4-7-4-6-5-4-5-2-5 0-5 2-5 3-5 6-5 9-4 19-3 18-2 17-1 16-2 15-1 14-1 14-1 14-1 13 0 13-1 13 0 13 0 13 0 13 0 13 1 14 0 14 1 14 1 14 1 15 1 13 2 12 3 12 3 11 3 10 4 9 4 8 4 8 5 5 4zM1392 1298l-1 5-2 4-5 4-6 3-8 4-8 3-10 3-11 2-11 2-11 2-12 2-11 1-12 1-12 1-12 1-12 0-11 0-12 0-11 0-12 0-11-1-12 0-11-1-12-1-11-2-11-2-11-1-11-3-10-2-9-3-9-3-8-3-6-4-5-4-4-4-1-4 0-4 2-4 3-4 5-4 7-3 8-4 12-2 11-3 12-2 12-1 12-2 12-1 11-1 12-1 12 0 11-1 12 0 11 0 12 0 11 0 12 0 11 1 12 1 12 1 12 1 12 2 11 2 10 2 11 2 9 3 9 3 7 4 7 3 5 4 3 4zM1410 1298l0 5-3 5-4 4-7 4-8 4-10 4-11 3-11 3-13 2-12 2-13 2-14 2-13 1-13 1-14 0-13 1-13 0-13 0-13 0-13-1-12 0-13-1-13-1-13-2-12-1-12-2-12-2-12-3-11-2-11-3-10-4-9-3-8-4-7-4-6-5-4-5-1-4 0-5 2-5 3-5 6-5 9-4 17-3 17-2 16-1 15-2 15-1 14-1 14-1 13-1 13 0 13-1 13 0 12 0 13 0 13 0 12 1 13 0 13 1 13 1 14 1 13 2 12 2 12 3 11 3 10 3 9 3 8 4 7 4 7 4 4 5zM1403 1298l0 5-3 4-4 4-6 5-8 3-9 4-11 3-11 3-12 2-12 2-12 2-13 1-13 1-13 1-13 1-12 0-13 1-13 0-12-1-13 0-12-1-13 0-12-1-12-2-12-1-12-2-12-2-11-2-11-3-11-3-9-3-9-4-7-4-6-4-5-4-3-5 0-4 1-5 2-4 5-5 6-4 9-4 15-3 15-2 14-1 14-2 14-1 13-1 13-1 12-1 13-1 12 0 12 0 12 0 12 0 12 0 13 1 12 0 12 1 13 1 13 1 12 2 12 2 11 2 11 3 10 3 9 3 8 4 7 4 6 4 4 4zM1412 1298l0 5-2 5-4 4-6 5-9 4-10 3-11 3-12 3-12 3-13 2-14 2-13 1-14 1-13 1-14 1-13 0-14 0-13 0-13 0-13-1-12 0-13-1-13-1-12-2-12-1-12-2-12-3-11-2-11-3-11-3-9-3-9-4-7-4-6-4-5-4-3-5-1-4 1-5 3-4 4-5 6-4 9-4 15-3 16-2 15-2 14-1 13-2 14-1 13-1 12-1 13 0 12-1 13 0 12 0 13 0 12 0 12 1 13 0 13 1 13 1 14 1 13 1 12 3 12 2 12 3 10 3 9 3 9 4 7 4 7 4 5 5zM1420 1298l0 5-2 5-4 5-7 4-9 4-10 4-12 4-12 3-13 2-14 3-13 2-15 1-14 1-14 1-14 1-14 0-14 0-14 0-13 0-14 0-13-1-14-1-13-1-13-2-13-1-13-2-13-3-12-2-11-3-12-3-10-4-10-3-8-5-8-4-6-5-5-5-2-5 0-5 1-5 3-5 6-5 9-5 19-3 19-2 18-1 16-2 16-1 15-1 14-1 14 0 14-1 13 0 13 0 13 0 13 0 13 0 14 0 13 1 14 1 13 1 15 1 14 1 12 3 13 2 11 3 11 4 9 3 9 4 7 5 8 4 4 5zM1403 1298l-1 5-2 4-5 4-6 4-8 4-10 3-10 4-11 2-12 3-12 2-13 1-12 2-13 1-13 1-12 0-13 1-12 0-13 0-12 0-12-1-13 0-12-1-12-1-12-2-12-1-11-2-12-2-11-2-10-3-11-3-9-3-8-3-8-4-5-4-5-4-3-5 0-4 1-5 2-4 5-4 6-5 8-3 14-3 15-2 14-2 13-2 13-1 13-1 13-1 12-1 13-1 12 0 12 0 12 0 12 0 12 0 13 1 12 0 12 1 13 1 13 1 12 2 12 2 12 2 10 3 10 3 9 3 8 4 7 4 6 4 3 4zM1417 1298l0 5-2 5-5 5-6 4-9 4-10 4-11 3-12 3-13 3-14 2-13 2-14 1-14 1-14 1-14 1-14 0-13 0-14 0-13 0-13-1-13-1-13 0-13-2-13-1-12-2-13-2-11-2-12-2-11-3-11-3-10-4-9-3-7-4-7-4-5-5-4-5-1-4 0-5 3-5 3-5 6-4 9-5 17-2 17-2 16-2 14-2 15-1 13-1 14-1 13-1 13 0 13-1 13 0 12 0 13 0 13 0 12 1 13 0 14 1 13 1 14 1 14 1 12 3 12 2 12 3 11 3 9 4 8 4 8 4 7 4 5 5zM1400 1298l0 5-3 4-5 4-6 4-8 4-10 3-10 3-11 3-12 2-12 2-12 1-13 2-12 1-12 0-13 1-12 0-12 0-12 0-12 0-11 0-12-1-12-1-12-1-11-1-12-1-11-2-11-2-10-2-11-3-9-2-9-3-8-4-7-3-5-4-4-4-2-5 0-4 1-4 3-4 5-4 6-4 8-4 12-2 13-3 13-2 12-1 12-2 12-1 13-1 12-1 12-1 11 0 12 0 12-1 12 1 12 0 12 0 12 1 13 0 12 1 13 2 12 1 12 2 11 2 11 3 10 3 8 3 8 4 7 4 6 4 3 4zM1643 1299l2 10 2 11 1 11-20 9-20 9-20 9-21 9-30 6-30 5-30 6-32 4-33 3-33 1-33 1-31 1-31 0-30-1-29-2-28-2-27-2-26-2-25-3-25-3-24-4-24-3-23-5-21-5-22-5-21-5-22-6-22-6-21-7-22-8-22-8-23-9-21-10-18-11-15-11-14-13-11-14-4-15 13-13 69-2 66 0 54 0 45 0 38 0 35 0 31 0 28 0 27 0 26 0 25 0 24 0 25 0 24 0 26 0 27 0 29 0 31 0 34 0 34 1 25 6 21 6 22 7 21 7 21 7 19 9 19 9 19 8 19 9zM1644 1299l2 10 1 11 2 11-21 9-20 9-21 9-21 9-30 5-30 6-30 6-33 3-33 3-33 2-32 1-31 0-31 0-29-1-29-2-27-2-27-2-26-2-25-3-24-3-24-4-24-3-22-5-22-5-21-5-21-5-22-6-21-6-21-7-22-7-22-8-23-9-21-10-18-10-15-12-14-13-11-14-5-14 13-13 68-3 65 0 53 0 45 0 38 0 35-1 31 0 28 0 27 0 26 0 25 0 24 0 25 0 25 0 26 0 27 0 28 0 32 0 34 0 34 2 26 5 21 7 22 7 21 7 21 7 19 9 19 8 19 9 19 9z" stroke="#ff0000" stroke-width="2.6" fill="none" stroke-linejoin="round"/>
<path transform="scale(0.5)" d="M921 1175l2-9 4-9 6-7 8-8 9-7 10-7 11-6 13-6 14-5 14-6 15-4 15-5M904 1176l3-9 5-9 7-8 8-8 10-7 11-7 12-7 14-6 14-6M954 1209l-53 0-68-1-25-9-1-13 7-12 10-11 12-11 14-10 15-9 15-9 17-8 18-7 18-7M964 1196l-51-1-20-8-3-9 3-10 7-9 7-9 10-8 10-8 12-7 13-7 14-6 15-6 15-5M862 1203l-24-8-2-12 6-11 9-11 10-10 12-9 13-9 14-8 16-7 16-7 17-7 17-6M1006 1196l-39-1-50-1-20-7-3-10 3-9 6-9 7-9 10-8 10-8 11-7 13-6 14-7 15-5 15-6M796 1200l-2-12 8-13 10-12 13-11 14-10 15-9 16-9 17-9 19-7M1036 1199l-35-1-40-1-52-1-20-8-3-10 3-10 7-9 7-9 10-8 11-8 12-7 13-7 14-6 15-6 16-6 16-5 17-4 18-5M895 1210l-69-1-26-9-1-13 8-12 11-12 12-11 14-10 15-9 16-9 17-8 18-8 18-7 19-6 20-6 20-6M933 1202l-59-1-23-8-2-11 5-11 9-10 9-10 12-9 12-8 14-8 15-8 16-6 16-7 17-6 18-5 18-6" stroke="#0000ff" stroke-width="2.4" fill="none" stroke-linejoin="round"/>
<path transform="scale(0.5)" d="M1040 1208l-35-1-42 0-51-1-65 0-25-9-1-12 6-12 10-11 11-10 13-10 14-9 14-8 17-8 17-7 17-7 18-6 19-6 20-6 20-5 21-5M1025 1213l-39 0-47 0-57-1-73 0-27-10-1-13 8-13 12-12 13-12 15-10 16-10 17-9 18-8 19-8 19-7 20-7 20-6 21-6 22-6M973 1204l-48 0-61-1-24-9-2-11 6-11 9-11 10-10 12-9 13-9 14-8 15-7 17-7 17-7 17-6 18-6 19-5 20-5M934 1214l-58 0-75-1-28-10 0-13 8-13 12-13 14-11 15-11 17-10 17-9 18-9 20-7 19-8 20-7M936 1202l-59-1-22-9-2-10 5-11 8-10 9-10 11-9 13-8 13-8 15-7 16-7 16-7 17-6 17-5 19-5M796 1214l-28-10-1-14 9-13 12-13 14-11 16-11 16-10 17-9 19-9 20-8 19-7 20-7 21-7 22-6 22-5 23-6M907 1207l-67 0-25-9-1-12 7-12 10-12 11-10 14-10 14-9 15-9 16-7 18-8 18-7 18-6 19-6 20-5 20-6M874 1214l-75 0-28-10 0-14 8-13 12-13 14-11 15-11 17-10 17-9 18-9 20-8 19-7 20-7M980 1193l-46-2-19-7-3-9 2-9 5-8 7-8 8-8 10-7 10-7 12-6 13-6 14-6 15-5 15-5 16-5 17-4M986 1201l-45 0-57-1-23-8-2-11 4-11 8-10 9-9 11-9 12-8 13-8 15-7 15-7 16-6 17-6 17-5M1021 1214l-40 0-48 0-59 0-75 0-28-10-1-14 9-13 12-13 14-11 15-11 17-10 17-9 18-9 20-8 19-7 20-7 21-6 22-6 22-6 23-5M901 1197l-22-8-2-10 4-10 6-10 9-9 10-8 11-8 12-7 14-7 14-7 15-6 16-5 17-6 17-5M917 1205l-63 0-25-9-1-12 6-11 9-11 11-11 13-9 13-9 15-8 16-8 17-7 17-6 18-7 18-5 20-6M933 1202l-59-1-23-8-2-11 5-11 8-10 10-10 11-9 13-8 13-8 15-8 16-7 17-6" stroke="#ff0000" stroke-width="2.2" fill="none" stroke-linejoin="round"/>
<path transform="scale(0.5)" d="M888 1199l-22-8-3-10 4-11 8-10 9-9 10-9 12-8 13-8 14-7 15-7 16-6M809 1175l10-12 12-11 14-10 15-9 16-9 17-8M945 1164l3-8 5-7 7-7 8-7 9-6 10-6M995 1190l-42-2-17-6-4-9 1-8 4-8 6-8 7-7 9-7 9-6 11-6M837 1195l-1-12 5-11 10-11 10-10 12-9 14-9 14-8 16-7M839 1183l5-11 9-11 10-10 12-9 14-9 13-8 16-7 16-7 17-7 17-6M890 1199l-22-8-2-11 4-10 8-10 9-9 10-9 12-8 13-8 14-7 15-6M977 1203l-47 0-60-1-23-8-2-12 5-11 8-10 10-10 12-9 13-9 13-7 15-8 17-7 16-6 17-6 18-6M865 1191l-2-10 5-11 7-10 9-9 11-9 11-8 13-8 14-7 16-7 15-6 17-6 17-5 18-5M866 1180l5-10 7-10 9-9 10-9 12-8 12-8 14-7 16-6 15-7 16-5M916 1194l-20-7-3-10 3-9 6-9 7-9 10-8 10-8 11-7 13-6 14-7 15-6 15-5 16-5 17-5M914 1166l5-8 6-8 8-8 10-7 10-7 12-7 13-6 14-5 15-5" stroke="#fff" stroke-width="1.2" fill="none" stroke-linejoin="round"/>
<path transform="scale(0.5)" d="M1027 1163l-2-5-1-5 1-6 2-5 4-5 5-5 7-5 8-4 9-4M1048 1156l-3-5 0-4 1-5 2-5 4-4M1043 1152l-1-5 2-5 2-5 5-4M984 1155l3-7 5-6 6-6 7-6M1072 1159l-5-4-3-4-2-5 1-4 1-4 4-4 4-4 6-4M1021 1153l0-6 3-5 4-5 5-5 7-5 8-4 9-5" stroke="#fff" stroke-width="1.2" fill="none" stroke-linejoin="round"/>
<path transform="scale(0.5)" d="M1531 1120l12 6-5 8-6 7-6 8-5 7-14 6M1442 1108l13 5 12 5 3 6 3 6 4 6 3 6-7 6-8 5-7 6-7 6-13 4-13 4M1547 1126l-2 8-2 8-2 8-12 6-13 7M1484 1116l7 6 7 7 7 6-7 7-6 6-7 6-6 7-14 5-13 5M1583 1106l17 8-2 9-3 9-3 10-3 9-15 8-14 7-15 8-15 8M1445 1107l12 6 11 5 12 5-1 6 0 7-1 6 0 6-9 6-9 5-9 5-9 6-14 4-14 4M1563 1117l9 8 9 8-10 8-10 8-9 9-10 8-17 6-16 6-17 6-17 6M1445 1107l13 5 7 6 6 6 7 6 6 6-5 6-6 6-6 6-5 5-12 5M1492 1115l11 7 11 6-4 7-4 7-5 6-4 7-12 6-12 5M1476 1110l10 6 11 6 11 6-5 7-4 7-4 6-4 7-12 5-11 6-12 5-12 6M1467 1111l13 6 12 5-1 7-1 6-1 7-1 6-9 6-10 6-10 5M1576 1116l3 8 3 9 4 9-12 8-13 8-12 8-12 8-18 5M1592 1124l10 9-11 8-10 9-11 8-10 9-18 6-18 7M1619 1123l-8 9-9 9-8 9-8 10-17 7-17 7-17 8-17 7-20 5M1599 1123l3 10 4 9-13 8-14 9-13 8-13 8-19 6-20 7M1535 1119l-1 8-2 7-2 8-1 7-12 7-11 6-12 7-12 6-16 5" stroke="#fff" stroke-width="1.2" fill="none" stroke-linejoin="round"/>
<path transform="scale(0.5)" d="M1571 1125l-7 8-6 8-7 9M1591 1132l-3 10-3 9-15 7M1614 1113l15 9-8 10-9 9-9 10-8 9-18 8M1609 1113l3 10 4 9 3 10-13 9-14 8-14 9M1571 1117l13 7-7 9-7 8-7 9-7 8M1539 1126l3 8 3 8-11 7-10 7-11 7" stroke="#0000ff" stroke-width="2.0" fill="none" stroke-linejoin="round"/>
<path transform="scale(0.5)" d="M1391 1126l6 3 4 5 2 4 1 4-2 4-3 4-4 4M1425 1111l11 4 12 5 3 5 3 6 3 5 3 6-6 5-7 5-6 6-6 5-12 4-12 4M1376 1119l8 3 8 4 6 3 4 5 2 4 0 4-1 4-3 4-5 4-6 4-7 4-9 3M1412 1128l5 5 1 4 0 5-2 5-4 4-5 4M1394 1116l10 3 8 4 7 5 5 4 2 5-1 5-2 5-4 4-6 5-7 4M1401 1134l3 4 0 4-2 4-3 4-5 4-6 4" stroke="#fff" stroke-width="1.2" fill="none" stroke-linejoin="round"/>
<path transform="scale(0.5)" d="M941 1328l-18-6-18-7-17-8-17-9-13-9-11-10-10-10-6-12M1038 1343l-16-4-17-4-16-5-16-5-15-6-14-6-15-7-13-8-10-8-8-8-6-9-4-10 0-10 11-8 44-3 42-1 36-1M934 1329l-19-7-18-7-19-8-17-9-14-9-11-10-11-11-7-12-3-12 13-11 56-3 54 0M959 1342l-20-5-19-7-20-7-20-7-20-8-19-10-15-10-13-10-12-12-8-13-3-13 12-11 61-3 58 0 48-1M1013 1359l-20-5-21-5-21-5-20-6-20-7-20-7-21-8-21-8-19-10-16-10-13-11-13-12-9-13-3-14M953 1327l-17-6-16-7-17-8-15-8-12-8-9-10-9-10-5-10-1-11M949 1335l-18-6-19-7-19-7-19-8-18-9-14-9-12-11-11-11-8-12-2-12M1026 1346l-17-4-18-5-17-5-17-6-16-6-16-6-16-8-15-8-11-8-9-9-9-10-5-11-1-10 12-10 49-3 47-1 39 0M992 1354l-21-5-20-5-21-6-20-7-20-7-21-8-22-8-19-10-16-10-14-11-13-12-9-13-4-14M1008 1360l-21-5-21-5-21-5-21-6-21-7-21-7-21-8-22-9-21-10-17-10-14-12-14-12-10-14" stroke="#0000ff" stroke-width="2.4" fill="none" stroke-linejoin="round"/>
<path transform="scale(0.5)" d="M1031 1345l-17-4-17-5-17-5-16-5-15-6-16-7-15-7-14-8-10-8-9-9-7-9-4-10-1-10 12-10 47-2 44-1M957 1343l-20-6-20-7-20-6-20-8-21-8-19-10-16-10-13-11-13-12-9-12-4-14 13-12M1015 1349l-19-5-18-5-19-5-18-6-17-7-19-6-17-8-17-9-13-9-11-10-10-10-7-12-2-12 12-10M1034 1344l-17-4-17-4-16-5-16-6-15-6-16-6-14-7-14-8-10-8-8-8-7-10-4-10 0-10M979 1331l-16-5-16-6-16-7-15-7-14-8-11-8-8-9-8-9-4-10-1-11M956 1343l-20-6-20-6-19-7-21-8-20-8-20-10-15-10-13-11-13-12-9-12-4-14 13-12 62-2 59-1 49 0M1064 1345l-16-4-16-4-15-4-15-5-15-5-14-5-13-6-13-7-11-7-9-7-6-8-5-8-2-9 1-9 11-8M996 1344l-18-5-19-5-17-6-18-7-18-7-18-7-16-9-13-9-11-10-10-10-7-12-2-11 12-11M939 1336l-19-6-19-7-21-7-20-8-18-10-16-10-13-10-12-12-8-13-3-13 12-11 61-3M1004 1362l-21-6-21-5-22-6-21-6-21-7-21-7-23-8-22-9-21-10-17-10-15-12-14-13-11-14-4-14 13-13M933 1337l-20-6-20-7-20-8-21-8-20-10-16-10-13-11-13-12-9-13-4-13 13-12 63-3M961 1342l-20-6-19-6-19-7-20-7-20-9-18-9-15-9-13-11-11-12-8-12-3-13 12-12M987 1338l-18-6-17-5-16-6-17-7-17-8-15-8-12-8-10-10-9-10-6-11-1-11 11-10 51-3 48 0 41-1M989 1346l-19-5-19-6-19-6-18-7-19-7-19-8-17-9-14-9-12-10-11-11-7-12-2-13 12-11 57-2" stroke="#ff0000" stroke-width="2.2" fill="none" stroke-linejoin="round"/>
<path transform="scale(0.5)" d="M953 1319l-16-6-15-7-13-8-11-8-8-9-8-9-4-10 0-10 11-9 46-3 44-1M994 1354l-20-5-21-6-20-6-20-6-20-7-21-8-21-8-19-10-16-10-13-11-13-12-9-13M966 1341l-20-5-19-7-18-6-19-8-20-8-17-9-15-9-12-11-11-11M1011 1334l-16-5-15-5-14-6-14-6-14-6-12-8-9-7-8-9-6-8-3-9 1-10 11-8 41-3 41-1M1043 1335l-14-4-14-5-14-4-12-6-12-5-12-6-10-7-7-7-5-7-4-8-2-8 2-8 10-7 35-3M935 1337l-20-6-20-7-20-8-21-8-19-10-16-10-13-11-12-12-9-12-4-14 13-12 62-2M929 1329l-18-7-19-7-20-8-17-9-15-9-12-11-11-11-7-12M956 1319l-15-6-14-7-13-8-10-8-8-8-7-9M940 1328l-18-6-18-7-18-8-17-9-13-9-11-10-10-10-6-12-2-12 12-10 54-3 53-1M977 1317l-14-5-12-7-11-7-9-7-6-8-5-8-2-9 1-8 11-8 38-3M1003 1335l-16-5-15-5-16-6-15-6-14-7-14-8-10-8-8-8-7-9-4-10 0-10 12-9M971 1340l-19-5-18-6-18-7-18-7-19-8-17-9-13-9-12-10-10-11-7-12-2-12 12-11" stroke="#fff" stroke-width="1.2" fill="none" stroke-linejoin="round"/>
<path transform="scale(0.5)" d="M1047 1322l-10-4-10-4-9-5-8-5-6-6-4-5-2-6-1-6 2-6M1071 1314l-7-3-5-4-4-4-3-5 0-4 1-4 3-5 5-4 6-4 8-3M1051 1307l-5-4-3-5-1-4 0-5M1048 1317l-8-4-8-5-7-5-4-5-3-5-1-5 1-5 3-6M1084 1317l-8-3-6-4-5-4-3-4-2-4 0-4 2-4 4-4 5-4 7-3M1071 1319l-9-4-8-4-6-4-5-4-4-5-1-4 1-5 2-5 4-4 6-5" stroke="#fff" stroke-width="1.2" fill="none" stroke-linejoin="round"/>
<path transform="scale(0.5)" d="M1436 1271l13 4 8 6 9 6 8 6 8 5-3 7-3 6-3 6-4 7M1524 1259l16 7 17 7 10 9 11 8 10 9 10 9-7 9-8 9-8 9M1560 1282l5 8 4 9 5 9 5 8-13 8-12 8-13 8-13 8M1577 1281l6 9 5 9 5 9 6 9-14 9M1489 1246l17 6 16 7 17 7 14 8 14 8 14 8 14 8-3 10-3 9-3 9-4 10-21 7M1552 1255l18 8 19 8 18 8 6 10 6 10 6 10 6 10-14 9-14 9-14 10-14 9-28 6M1459 1260l13 6 14 6 13 5 8 8 8 7 7 7 8 7-7 7-7 8-7 7-7 7-19 5-20 5M1538 1257l18 8 17 7 17 8 6 9 6 10 5 9 6 10M1490 1264l15 6 14 6 15 7 4 8 4 8 4 8 4 8-11 7-12 8-12 7-11 7-22 5M1478 1257l17 5 14 7 14 7 14 7 15 7 0 9 1 8 0 8 1 9M1447 1276l11 5 6 6 6 6 6 6 6 6-7 6M1581 1272l18 8 6 9 5 10 6 10 5 9-14 9-14 9-14 9M1494 1254l18 6 15 8 15 7 15 7 16 8 0 9 1 8 1 9M1524 1283l4 8 4 8 4 8 3 7M1463 1281l11 5 3 6 3 7 2 6 3 6-10 6-9 6M1453 1261l13 6 12 6 13 5 13 6 4 8 3 7 3 7 4 7-11 7-11 6-10 7" stroke="#fff" stroke-width="1.2" fill="none" stroke-linejoin="round"/>
<path transform="scale(0.5)" d="M1617 1289l16 9-3 11M1560 1290l1 9 1 8M1562 1282l16 8 1 9 1 9M1500 1278l11 7 11 7 11 6-4 8-3 8M1545 1283l10 8 9 8 9 8M1569 1273l17 8 17 8 1 10 1 9" stroke="#0000ff" stroke-width="2.0" fill="none" stroke-linejoin="round"/>
<path transform="scale(0.5)" d="M1418 1273l11 5 10 4 5 6 5 5 5 6 5 5-6 6-6 5-6 6-6 5-14 4M1404 1269l10 5 10 4 11 4 4 6 5 5 5 6 5 5-6 5M1432 1283l10 4 1 6 2 6 2 5 1 6-9 5-8 5-9 4M1410 1289l4 5 2 4-1 5-2 5-4 4-7 5M1388 1290l3 4 1 4-1 5-2 4-4 4-6 3M1384 1290l3 4 1 4-1 4-2 4-4 4-6 4-8 3-9 3" stroke="#fff" stroke-width="1.2" fill="none" stroke-linejoin="round"/>
<path d="M428 607.6L470 606.5L520 605.5V612L470 611L428 610.2Z" fill="#ff0000"/>
<path d="M223.3 607.2C228.4 606.7 244.3 605.7 254.1 604.4C264 603 272.9 602 282.2 599.1C291.6 596.3 300.9 591.5 310.3 587.4C319.7 583.2 329 578.4 338.4 574.1C347.7 569.8 355.5 566.1 366.4 561.5C377.4 556.9 388.3 551.5 403.9 546.5C419.5 541.6 441.3 535.9 460 531.8C478.7 527.6 502.8 523.7 516.2 521.5C529.6 519.2 536.4 518.7 540.5 518.1" stroke="#ff0000" stroke-width="1.2" fill="none" stroke-linejoin="round" />
<path d="M540.5 518.1L581.7 513.4L618 512.1L664.1 510.6L714.7 511L757.7 515.3L827 524.7L850.4 536.8L907.5 561.1L888.7 579.9L850.4 590.2L819.5 603.3L765.2 618.2L739 624.8" stroke="#ff0000" stroke-width="1.2" fill="none" stroke-linejoin="round" />
<path transform="scale(0.5)" d="M1245 1300l0 1-1 0-1 1-1 0-2 1-3 0-2 0-3 0-2 0-2-1-2 0-2 0-1-1 0-1 1-1 1 0 2-1 2 0 3-1 3 0 3 0 3 1 3 0 2 0 2 1 2 1 0 1-1 1-2 1-2 0-3 1-3 0-4 0-4 0-4 0-3-1-3 0-2-1-2-1-1-1 1-1 1 0 2-1 3-1 3-1 4 0 5 0 5 0 4 0 4 1 4 0 3 1 2 1 1 1 0 2-2 1-2 1-4 1-4 0-5 1-6 0-6 0-5 0-6-1-4-1-4-1-2-1-1-2 0-1 2-1 3-2 4-1 6-1 6 0 7-1 7 0 7 1 6 1 6 1 4 1 3 2 2 1-1 2-2 2-4 1-5 2-7 1-8 1-8 0-9 0-8-1-8-1-7-1-5-2-4-1-2-3 1-2 2-2 5-2 7-2 8-1 10-1 10 0 11 0 10 1 10 1 8 1 7 2 4 3 3 2-1 3-3 3-6 2-8 2-10 2-12 1-13 1-13-1-13 0-12-2-10-2-8-2-6-3-3-4 1-3 4-3 7-3 10-3 13-2 14-1 16-1 16 0 16 1 15 2 12 3 11 3 6 3 3 4 0 4-5 4-9 4-12 3-16 3-18 1-19 1-20 0-19-1-18-2-16-3-13-4-8-5-4-5 1-5 6-4 11-5 15-4 19-3 22-2 24-1 24 0 24 2 23 2 19 4 15 5 11 5 4 6-1 7-7 5-14 6-18 5-24 4-27 2-29 1-30 0-30-2-27-3-24-5-18-6-13-6-6-8" stroke="#ff0000" stroke-width="2.2" fill="none" stroke-linejoin="round"/>
</g>
<g font-size="48" fill="#262626">
<text x="198.3" y="753.2" text-anchor="middle">0</text>
<text x="364.1" y="753.2" text-anchor="middle">10</text>
<text x="530" y="753.2" text-anchor="middle">20</text>
<text x="695.8" y="753.2" text-anchor="middle">30</text>
<text x="861.7" y="753.2" text-anchor="middle">40</text>
<text x="1027.5" y="753.2" text-anchor="middle">50</text>
<text x="185.5" y="694.7" text-anchor="end">-10</text>
<text x="185.5" y="660.9" text-anchor="end">-5</text>
<text x="185.5" y="627.1" text-anchor="end">0</text>
<text x="185.5" y="593.3" text-anchor="end">5</text>
<text x="185.5" y="559.5" text-anchor="end">10</text>
</g>
<g id="ax-d">
<rect x="1290.3" y="511.5" width="827.7" height="187" fill="#fff"/>
<path d="M1323.4 698.5V511.5M1356.5 698.5V511.5M1389.6 698.5V511.5M1422.7 698.5V511.5M1455.8 698.5V511.5M1488.9 698.5V511.5M1522.1 698.5V511.5M1555.2 698.5V511.5M1588.3 698.5V511.5M1621.4 698.5V511.5M1654.5 698.5V511.5M1687.6 698.5V511.5M1720.7 698.5V511.5M1753.8 698.5V511.5M1786.9 698.5V511.5M1820 698.5V511.5M1853.1 698.5V511.5M1886.2 698.5V511.5M1919.4 698.5V511.5M1952.5 698.5V511.5M1985.6 698.5V511.5M2018.7 698.5V511.5M2051.8 698.5V511.5M2084.9 698.5V511.5M1290.3 692.5H2118M1290.3 685.8H2118M1290.3 679.1H2118M1290.3 672.3H2118M1290.3 665.6H2118M1290.3 658.8H2118M1290.3 652.1H2118M1290.3 645.4H2118M1290.3 638.6H2118M1290.3 631.9H2118M1290.3 625.2H2118M1290.3 618.4H2118M1290.3 611.7H2118M1290.3 605H2118M1290.3 598.2H2118M1290.3 591.5H2118M1290.3 584.8H2118M1290.3 578H2118M1290.3 571.3H2118M1290.3 564.6H2118M1290.3 557.8H2118M1290.3 551.1H2118M1290.3 544.4H2118M1290.3 537.6H2118M1290.3 530.9H2118M1290.3 524.1H2118M1290.3 517.4H2118" stroke="#c6c6c6" stroke-width="1" stroke-dasharray="1.2 2.9" fill="none"/>
<path d="M1290.3 511.5H2118V698.5H1290.3ZM1455.8 698.5v-8.5M1455.8 511.5v8.5M1621.4 698.5v-8.5M1621.4 511.5v8.5M1786.9 698.5v-8.5M1786.9 511.5v8.5M1952.5 698.5v-8.5M1952.5 511.5v8.5M1290.3 679.1h8.5M2118 679.1h-8.5M1290.3 645.4h8.5M2118 645.4h-8.5M1290.3 611.7h8.5M2118 611.7h-8.5M1290.3 578h8.5M2118 578h-8.5M1290.3 544.4h8.5M2118 544.4h-8.5" stroke="#262626" stroke-width="1.15" fill="none" stroke-opacity="0.8"/>
</g>
<g clip-path="url(#cp-d)">
<path d="M1307.8 610.2C1312.6 609.8 1327.3 608.9 1336.8 607.9C1346.3 606.9 1355.5 606.4 1364.9 604.2C1374.2 602 1383.6 598.9 1392.9 594.8C1402.3 590.8 1411.7 584.5 1421 579.9C1430.4 575.2 1439.7 570.8 1449.1 566.8C1458.4 562.7 1466.2 559.4 1477.2 555.5C1488.1 551.6 1499 547.7 1514.6 543.4C1530.2 539 1552 533.1 1570.7 529.3C1589.5 525.6 1603.7 523.5 1626.9 520.9C1650.1 518.3 1696.1 515 1710 513.8" stroke="#0000ff" stroke-width="1.3" fill="none" stroke-linejoin="round" />
<path d="M1710 513.8L1788 513.4L1840.4 515.3L1887.2 522.8L1935.8 532.1L1975.1 559.8L1956.4 587.4L1915.2 604.2L1872.2 618.2L1849.7 624.8" stroke="#0000ff" stroke-width="1.3" fill="none" stroke-linejoin="round" />
<path transform="scale(0.5)" d="M3741 1145l-7 8-7 8-7 8-17 6-17 6-17 6-17 6-22 4-21 4-22 4-27 1-25 0-23 1-22 0-20 0-20 0-19 0-19 0-19 0-19 0-20 0-20 0-22 0-23-1-25 0-27-1-31-1-36-1-44 0-42-3-11-9-3-10 3-10 9-9 10-9 10-8 11-7 12-7 13-7 14-6 14-5 15-6 16-5 16-4 18-4 18-4 19-3 19-3 21-3 20-2 21-1 20-2 21-1 22-1 22-1 23 0 23 0 24 0 25 1 25 1 26 2 25 3 24 3 20 6 20 6 21 5 20 6 9 8 10 7 9 8 10 8zM3695 1145l-8 7-9 6-8 7-8 6-16 5-15 5-16 5-15 4-19 3-19 3-23 1-21 1-19 1-19 0-17 1-17 0-17 0-17 0-17 0-17 0-17 0-18 0-19-1-20 0-21-1-24-1-26 0-30-1-36-2-35-2-11-8-4-8 1-8 6-8 6-8 8-7 8-6 10-7 11-5 11-6 13-5 13-5 15-4 15-4 15-4 17-3 17-3 17-3 19-2 18-1 18-2 19-1 19-1 19-1 19 0 20 0 21 0 21 0 21 1 21 1 22 2 21 3 19 4 19 3 16 6 15 5 15 5 16 6 4 7 4 7 5 6zM3710 1145l-7 7-6 7-7 8-15 5-16 6-15 5-16 6-20 3-19 3-20 4-24 1-22 0-21 1-19 0-18 0-18 1-18 0-17 0-17 0-18 0-17-1-19 0-19-1-20 0-22-1-24 0-27-1-31-1-36-2-36-2-11-8-4-8 2-9 5-8 7-7 8-8 8-6 10-7 11-6 12-5 13-6 13-5 14-4 15-4 16-4 17-4 17-3 18-2 19-3 18-2 19-1 20-1 19-1 20-1 20-1 21 0 22-1 22 1 23 0 23 2 23 2 22 2 22 4 18 5 19 5 18 5 18 5 8 7 9 8 8 7 8 7zM3836 1145l-14 10-13 10-14 9-14 10-24 7-23 7-24 6-23 7-29 4-29 4-35 1-32 0-29 0-26 0-25 0-24 0-23 0-23 0-23 0-23 0-24 0-25 0-27 0-29 0-31 0-36 0-42 0-49 0-61-1-59-3-14-12-1-12 7-13 14-12 15-11 15-11 16-9 16-9 17-8 18-7 18-8 19-6 19-7 21-5 21-6 22-5 24-4 24-4 26-3 25-2 26-2 27-2 27-2 27-1 28-2 29-1 31 0 31 0 32 1 33 1 33 3 32 4 30 5 29 5 24 9 23 8 23 8 24 8 5 10 6 11 6 10zM3724 1145l1 8-12 7-12 7-12 7-13 7-18 5-18 4-18 5-18 5-25 2-26 1-23 1-22 0-21 1-19 0-19 0-19 0-18 0-18 0-19 0-19 0-20 0-21 0-22-1-24 0-27-1-30 0-36-1-42-1-41-3-11-9-4-9 3-9 8-9 9-9 10-8 10-7 11-7 13-6 13-6 14-6 15-5 16-5 16-5 17-4 18-3 19-4 19-2 20-3 20-1 21-2 20-1 21-1 21-1 22-1 22 0 22 0 24 0 24 1 24 1 24 2 24 3 21 5 21 4 20 5 16 6 15 7 16 6 15 7 1 8 1 7zM3771 1145l-12 9-11 8-11 8-12 8-19 6-20 6-20 6-20 6-24 3-24 4-30 0-27 0-24 1-23 0-21 0-21 0-20 1-20 0-20 0-20 0-21-1-22 0-22 0-25 0-27-1-30 0-34-1-40 0-48-1-48-3-12-9-3-11 4-10 11-11 10-9 12-9 12-8 13-7 14-7 15-7 15-6 16-6 17-5 18-5 18-5 20-4 20-4 21-3 22-2 22-2 23-2 23-2 23-1 23-1 24-1 25-1 25 0 27 0 27 1 28 1 27 3 27 3 25 4 25 5 20 7 19 7 20 6 20 7 5 9 5 9 5 9zM3683 1145l-8 7-8 6-7 6-8 6-15 5-14 5-15 4-15 5-18 3-18 3-22 1-20 0-19 1-18 0-17 1-16 0-17 0-16 0-16 0-17 0-16 0-17 0-18-1-19-1-20 0-22-1-24-1-28-1-32-2-31-3-10-7-4-7 0-8 5-7 5-7 7-7 8-6 9-6 10-5 11-5 12-5 12-5 14-4 14-4 15-3 15-3 16-3 17-2 17-2 17-2 17-1 17-1 18-1 18-1 18 0 19 0 19 0 20 0 20 1 20 1 20 2 20 2 19 4 18 3 15 5 15 5 15 5 15 5 4 7 5 6 4 7zM3768 1145l-8 9-8 8-8 9-18 6-19 7-19 6-18 7-24 4-23 4-23 4-30 1-27 0-25 0-23 1-22 0-20 0-21 0-20 0-20 0-21 0-20 0-22 0-23 0-25-1-27 0-30-1-34 0-41-1-49 0-47-3-12-10-3-11 5-10 10-11 11-9 12-9 12-8 13-7 14-7 16-7 15-6 16-6 17-5 18-5 18-5 20-4 20-4 22-3 21-2 23-2 22-2 23-2 23-1 23-1 24-1 25-1 26 0 26 0 27 1 28 1 28 2 27 4 26 4 22 6 22 6 22 6 22 6 10 9 10 8 10 9 9 8zM3846 1145l0 11-18 10-18 9-18 9-17 10-26 6-25 7-25 7-25 6-35 3-38 0-33 0-30 0-28 0-25 0-25 0-24 0-24 0-24 0-24 0-24 0-26 0-28 0-30 0-33-1-37 0-43 0-52 0-63 0-62-3-13-12-1-14 8-13 15-13 16-11 17-11 16-9 17-9 18-9 19-7 18-8 19-7 20-6 21-6 22-5 23-5 24-5 25-4 26-3 26-3 27-2 27-2 28-2 28-1 29-2 30 0 31-1 33 0 34 0 34 2 34 3 34 3 29 7 29 6 29 6 22 9 22 9 22 9 21 9 1 11 0 11zM3828 1145l0 11-17 9-17 9-18 9-17 9-24 6-24 6-24 7-24 6-34 2-35 0-32 1-29 0-26 0-25 0-24 0-23 0-23 0-23 0-23 0-24 0-25 0-26 0-29 0-32 0-36-1-41 0-49 0-60 0-59-3-13-12-2-13 7-12 14-12 15-11 15-11 16-9 16-9 17-8 18-7 18-7 18-7 19-6 21-6 21-5 22-5 24-5 24-3 25-3 26-3 26-2 26-2 27-2 27-1 28-1 29-1 30-1 32 0 32 1 33 1 33 3 32 4 28 6 28 6 28 6 20 9 21 8 21 9 21 9 0 10 0 11zM3728 1145l0 8-12 7-13 7-12 7-13 7-18 5-18 5-19 5-18 4-25 3-26 0-24 1-22 0-21 0-19 1-19 0-19 0-18 0-18 0-19 0-19 0-19-1-21 0-21 0-24-1-26-1-29 0-34-1-41-1-40-3-11-9-3-9 2-9 8-9 8-8 9-8 10-7 11-7 12-6 13-6 14-5 14-6 15-4 16-5 17-4 17-4 19-3 19-3 19-2 20-2 20-2 20-1 21-1 21-1 21-1 23 0 22 0 24 0 24 0 25 2 24 2 24 3 21 4 21 5 22 4 15 7 16 6 16 7 15 6 1 8 1 8zM3699 1145l-3 7-3 8-13 5-13 6-14 6-13 6-19 4-18 3-19 4-18 4-24 1-21 0-20 1-19 0-18 0-18 1-17 0-17 0-17 0-17 0-18-1-18 0-18 0-20-1-22-1-23-1-26 0-30-2-35-1-34-3-11-7-4-8 1-8 6-8 6-8 8-7 8-6 9-6 11-6 12-6 12-5 13-5 14-4 15-4 16-4 16-3 17-3 17-3 18-2 19-2 18-1 19-2 19-1 19 0 20-1 20 0 21 0 21 0 22 1 22 1 23 2 22 2 18 5 19 4 19 4 19 5 12 6 11 7 12 6 12 7-3 7zM3764 1145l-5 9-4 9-17 7-16 7-17 7-17 7-23 4-22 5-23 4-23 4-29 1-27 0-24 1-23 0-21 0-21 0-20 0-20 0-20 0-20 0-20 0-22 0-22-1-25 0-26 0-30-1-33 0-40-1-47-1-47-3-12-9-3-10 4-11 10-10 10-9 11-9 12-8 13-7 13-7 15-7 15-6 16-6 16-5 18-5 18-4 20-5 20-3 21-3 22-3 22-2 22-2 23-2 23-1 23-1 24-1 25-1 26 0 26 0 28 1 27 1 28 2 27 4 23 5 24 5 23 6 23 5 14 8 14 8 14 8 14 8-4 9zM3759 1145l1 9-14 8-14 7-14 8-13 7-21 6-20 5-20 6-20 5-28 2-29 1-26 0-24 0-23 1-21 0-21 0-20 0-20 0-20 0-20 0-21 0-21 0-23 0-24-1-27 0-30 0-33-1-40-1-48 0-47-3-11-10-3-10 4-11 11-10 10-9 12-9 12-8 13-7 14-7 15-6 15-7 16-5 17-6 17-4 19-5 19-4 20-3 21-3 21-3 22-2 22-2 22-1 23-2 23-1 24-1 24 0 25 0 26 0 27 0 27 2 26 2 27 3 23 5 24 5 23 5 17 7 17 8 18 7 17 7 1 9 0 9zM3810 1145l-12 9-13 10-12 9-13 9-21 6-22 7-22 6-22 7-28 4-27 4-33 0-30 0-27 0-26 0-23 1-23 0-22 0-22 0-22 0-22 0-23-1-23 0-25 0-27 0-30 0-33-1-38 0-45-1-55 0-53-3-12-11-2-12 6-12 13-11 13-10 15-10 14-8 14-8 16-8 17-7 17-7 17-6 18-6 19-5 20-5 21-4 22-4 23-4 23-2 24-3 24-2 24-2 25-1 25-1 26-1 27-1 28-1 29 0 30 1 30 1 30 3 31 3 27 5 28 5 22 7 22 8 22 7 23 7 6 10 5 10 6 10zM3666 1145l-7 6-7 6-7 6-7 6-14 4-14 5-14 4-14 4-17 3-17 3-20 1-19 1-17 0-17 1-16 0-16 1-16 0-15 0-15 0-16 0-16-1-16 0-17-1-18 0-19-1-20-1-22-1-25-1-30-2-28-3-10-6-4-7-1-7 4-7 4-6 6-7 6-6 8-5 10-5 10-5 11-5 12-4 13-4 13-4 14-3 15-3 16-3 15-2 17-2 16-1 17-1 16-1 17-1 17-1 17 0 18 0 18 0 19 0 19 1 19 1 19 2 18 2 18 4 17 3 14 5 14 4 14 5 13 5 5 6 4 6 4 6zM3797 1145l-12 9-13 9-12 9-12 8-21 7-22 6-21 6-21 7-26 3-26 4-32 0-29 1-26 0-24 0-23 0-22 0-22 1-21 0-21 0-22 0-22-1-23 0-24 0-27 0-29 0-32-1-37 0-44 0-53-1-53-3-12-10-2-12 5-11 12-11 13-10 13-10 13-8 14-8 16-8 16-7 17-6 17-6 18-6 19-5 19-5 21-5 22-4 22-3 23-3 24-2 24-2 24-2 24-1 25-1 26-1 26-1 27 0 29 0 29 0 30 2 29 2 29 4 27 5 26 5 22 7 21 7 21 7 21 8 5 9 6 10 5 9zM3847 1145l-6 11-5 11-21 8-21 9-21 9-21 9-28 5-28 5-28 6-28 5-37 0-34 0-30 0-28 0-26 0-25 0-24 0-24 0-24 0-24 0-25 0-26 0-28 0-30 0-33 0-38 0-43 0-52 0-64 0-62-3-14-13 0-13 8-14 16-12 16-12 17-11 16-9 17-9 19-9 18-8 19-7 19-7 20-6 22-6 22-6 23-5 24-4 25-4 26-3 26-3 27-2 27-2 28-2 28-1 29-2 30-1 32 0 32 0 34 0 34 2 34 3 34 3 29 7 29 6 28 7 29 7 18 9 18 10 18 10 17 10-5 11zM3682 1145l-3 7-2 7-13 5-12 6-13 5-12 6-18 3-17 4-17 3-18 4-22 1-20 0-19 1-18 0-17 1-16 0-17 0-16 0-16 0-16 0-17 0-17-1-18 0-19-1-20-1-21 0-24-1-28-2-32-1-31-3-10-7-5-7 1-8 4-7 5-7 7-7 7-6 8-6 10-5 11-6 12-4 12-5 14-4 14-4 15-4 15-3 16-3 17-2 17-2 17-2 18-1 18-1 18-1 18-1 19-1 19 0 19 0 21 0 20 1 21 1 21 2 20 3 18 4 18 4 18 4 17 4 11 6 11 6 11 6 11 7-3 6zM3727 1145l1 8-13 7-12 7-12 7-12 7-18 5-19 5-18 5-18 5-25 2-26 1-24 0-22 1-21 0-20 1-19 0-18 0-19 0-19 0-18 0-20 0-20 0-21-1-22 0-25 0-27-1-31-1-35 0-43-1-42-3-11-9-3-10 3-9 8-9 9-9 10-8 11-7 11-7 13-6 14-6 14-6 15-5 16-5 16-5 18-4 18-4 18-3 20-3 20-2 20-2 21-1 20-2 21-1 21-1 22 0 22-1 23 0 23 1 24 0 25 2 24 2 24 3 21 4 21 5 21 4 15 7 16 6 15 7 16 7 1 7 1 8zM3745 1145l-7 8-7 8-7 8-18 6-17 7-17 6-17 6-22 4-22 4-22 4-28 0-25 1-23 0-22 1-20 0-20 0-20 0-19 0-19 0-20 0-20 0-20 0-22-1-24 0-25 0-28-1-32 0-38-1-45-1-44-3-11-9-3-10 4-10 9-10 10-8 10-9 12-7 12-7 13-7 14-6 15-6 15-6 16-5 18-4 17-5 19-4 19-3 20-3 21-2 21-2 21-2 21-1 22-1 22-1 23-1 23-1 24 0 24 0 26 1 25 1 26 3 25 3 25 3 21 6 20 6 21 5 20 6 9 8 10 8 9 8 9 8zM3825 1145l-6 10-5 11-20 8-19 8-20 8-20 9-27 5-26 5-27 5-27 5-35 0-32 0-28 0-27 0-25 0-23 1-23 0-23-1-23 0-23 0-23 0-25 0-26 0-29 0-31 0-35 0-41-1-48 0-58 0-58-3-13-12-1-12 7-13 14-12 14-11 15-10 15-9 16-8 17-8 17-8 18-7 18-6 19-6 20-6 21-5 22-5 23-4 24-4 24-3 26-3 25-2 26-2 26-1 27-2 28-1 28-1 30-1 31 0 32 1 33 1 32 3 32 4 28 6 27 6 27 6 28 7 17 9 16 9 17 10 17 9-5 10zM3675 1145l1 7-10 6-10 6-10 5-10 6-15 4-15 5-16 4-15 4-20 2-22 1-19 1-19 0-18 1-16 0-17 0-16 1-16 0-16 0-16-1-17 0-16 0-18-1-18 0-20-1-22-1-23-1-27-1-31-2-31-3-9-6-5-8 1-7 4-7 5-7 6-7 8-6 8-6 10-5 11-5 11-5 13-4 13-4 14-4 14-4 16-3 15-2 17-3 16-2 17-1 18-2 17-1 17 0 18-1 18-1 19 0 19 0 19 1 20 0 20 2 20 1 20 3 17 3 18 4 17 4 13 5 13 6 14 5 13 6 1 6 1 7zM3652 1145l-4 6-5 6-5 6-12 4-12 5-13 4-12 5-16 3-16 3-16 2-18 1-18 1-17 1-16 1-15 0-15 0-15 0-15 1-15-1-15 0-15 0-15-1-16 0-16-1-18-1-19-1-20-1-23-1-26-2-26-3-9-6-5-6-1-6 2-7 3-6 4-6 6-5 7-6 8-5 10-4 10-5 11-4 12-4 13-3 13-3 15-3 14-3 15-2 16-2 16-1 15-1 16-1 17-1 16-1 17 0 17 0 17 0 18 0 18 1 19 1 18 2 18 2 17 3 15 4 15 4 14 4 15 4 7 6 7 6 6 6 7 5zM3711 1145l-3 8-3 7-14 6-13 6-14 7-14 6-19 4-19 3-20 4-19 4-25 1-22 1-21 0-20 1-19 0-18 0-18 0-18 0-18 0-18 0-18 0-19 0-20-1-21 0-23-1-25 0-29-1-32-1-39-1-39-3-10-8-4-9 2-9 7-8 8-8 9-8 9-7 11-6 11-6 13-6 14-5 13-5 15-5 16-4 16-4 18-4 17-3 19-3 19-2 19-2 19-1 20-1 20-1 20-1 21-1 21 0 21 0 23 0 23 1 23 1 23 2 23 3 19 4 20 5 20 5 19 4 12 7 13 7 12 6 12 7-3 8zM3820 1145l-5 10-5 10-19 9-20 8-19 8-20 8-26 5-27 5-26 5-26 6-35 0-31 0-29 0-26 0-25 0-23 0-23 0-23 1-23 0-23 0-24 0-24 0-27-1-29 0-31 0-36 0-41 0-49 0-60 0-59-3-13-12-2-13 7-12 15-12 14-11 16-11 15-9 16-9 17-8 18-7 18-7 19-7 19-6 20-6 21-5 23-5 23-4 24-4 25-3 26-2 26-2 26-2 26-2 27-1 28-1 28-1 30-1 31 0 32 1 32 2 32 2 32 4 27 6 27 7 27 6 27 6 16 9 17 10 16 9 17 9-5 11zM3694 1145l-6 7-6 7-5 7-15 5-14 5-15 5-14 6-19 3-18 4-19 3-23 1-21 1-19 0-19 1-18 0-17 0-17 0-17 1-17 0-17-1-17 0-18 0-19 0-20-1-22-1-23 0-27-1-30-1-35-2-35-2-11-8-4-8 1-8 6-8 7-8 7-7 9-6 9-6 11-6 12-6 13-5 13-5 14-4 15-4 16-4 16-3 17-3 18-3 18-2 18-1 19-2 18-1 19-1 19-1 19 0 20 0 21 0 21 0 21 1 22 1 21 2 21 3 21 3 17 5 17 5 18 4 17 5 8 7 8 7 7 6 8 7zM3679 1145l-3 7-2 7-12 5-12 6-12 5-13 6-17 3-17 4-17 3-17 4-22 1-20 0-19 1-18 0-17 1-16 0-17 0-16 0-16 0-17 0-16 0-17-1-18 0-19-1-20 0-22-1-24-1-27-2-33-1-31-3-10-7-4-7 0-8 5-7 5-7 7-7 7-6 9-6 10-5 11-5 12-5 12-5 14-4 14-4 15-3 15-4 16-2 17-3 17-2 17-1 18-1 17-2 18 0 18-1 18-1 19 0 20 0 19 0 21 1 20 1 21 2 20 3 17 4 18 4 17 4 18 4 11 6 10 6 11 6 11 6-2 6z" stroke="#0000ff" stroke-width="3.0" fill="none" stroke-linejoin="round"/>
<path transform="scale(0.5)" d="M3828 1305l9 11-13 9-12 10-13 10-13 9-26 7-26 7-27 6-26 7-30 4-30 4-31 2-31 2-31 0-29 0-29-1-27 0-27-1-26-2-25-2-24-2-24-3-23-2-24-3-23-3-22-4-21-4-20-5-20-6-20-5-20-6-20-7-20-7-19-7-18-9-19-9-18-10-16-11-13-12-9-13-3-14 11-12 57-4 62 0 51 0 43 0 36 0 33 0 30 0 27 0 26 0 24 0 24 0 23 0 23 0 24 0 24 0 26 0 27 0 29 0 32 0 37 0 28 5 27 5 28 5 20 8 21 8 20 8 21 7 8 10 9 10zM3678 1305l1 7-1 6-7 7-10 5-13 6-14 5-16 4-17 4-18 4-19 2-19 3-19 1-19 2-20 0-18 0-18 0-18 0-17-1-17-1-16-1-15-1-16-2-15-1-16-2-15-2-14-3-14-3-13-3-13-3-13-4-13-4-12-4-12-5-11-5-11-5-10-6-9-6-8-7-5-8-3-7 0-8 8-7 33-3 36-1 29 0 26 0 22-1 20 0 18 0 17 0 16-1 16 0 15 0 15 0 15 0 15 0 15 1 17 0 16 0 19 0 19 0 22 1 22 1 15 4 15 4 15 4 14 5 12 5 11 5 10 6 6 7zM3773 1305l0 9-1 9-1 9-19 7-19 8-18 7-19 7-25 5-25 4-25 5-26 3-27 2-27 2-27 0-26 0-25 0-24-1-23-1-23-1-22-2-21-2-21-2-20-2-21-3-20-3-20-3-18-4-18-4-17-5-17-5-18-5-17-6-17-6-16-7-15-7-16-8-14-9-14-9-10-11-6-11-2-11 10-11 48-3 53 0 43 0 36-1 32 0 28 0 25 0 24 0 22 0 21 0 21 0 20 0 20 0 21 0 21 0 22 0 23 0 26 0 28 0 31 1 31 1 20 6 20 6 20 6 20 6 14 7 14 8 13 8 14 8zM3720 1305l-1 8 0 7-1 8-16 6-16 6-16 7-16 6-21 4-21 4-21 4-23 2-22 2-23 1-23 1-22 0-22-1-20 0-20-1-19-1-19-1-18-2-18-2-18-2-17-2-18-2-16-3-16-4-15-3-15-4-15-4-14-5-15-5-14-5-13-6-13-6-12-7-11-7-10-8-8-9-4-9-1-9 9-9 39-3 44-1 35 0 30 0 26 0 23-1 22 0 20 0 18 0 18 0 18 0 17 0 17 0 18 0 18 0 19 0 19 0 22 0 23 0 27 1 26 1 17 5 17 5 17 5 18 5 12 6 11 7 12 7 12 6zM3716 1305l-5 7-5 8-5 7-4 7-18 6-17 5-17 5-17 6-21 3-21 4-21 3-22 2-23 1-22 0-22 0-20 0-20 0-20-1-19-1-19-1-18-2-17-1-18-2-18-2-17-3-16-3-16-3-16-3-15-4-14-4-15-5-15-5-14-5-13-6-13-6-12-7-11-7-11-8-7-9-4-9-1-10 9-8 40-3 43 0 35-1 30 0 26 0 24 0 21-1 20 0 19 0 18 0 17 0 17 0 17 0 17 0 18 1 18 0 20 0 21 0 23 0 25 1 21 3 21 3 16 5 16 5 16 5 16 5 9 7 8 7 9 7zM3609 1305l0 5-1 5-5 4-7 5-9 4-11 3-12 4-12 3-13 2-13 2-14 2-14 1-14 1-15 1-13 0-14 0-13 0-13 0-13 0-12-1-12-1-12-1-12-1-13-2-11-1-12-2-11-2-11-3-10-2-11-3-10-3-9-3-9-4-9-4-7-4-7-5-6-5-5-5-3-6 0-5 1-6 7-5 24-3 26 0 21-1 19 0 17-1 15 0 14 0 13-1 13 0 12 0 11 0 12 0 12 0 11 0 12 1 12 0 13 0 13 1 15 0 16 1 15 1 11 3 11 3 11 3 10 3 9 4 8 4 7 5 4 4zM3675 1305l1 7-1 6-7 6-11 6-13 5-14 5-16 5-17 3-18 4-18 2-19 3-18 1-19 1-19 1-19 0-17-1-17 0-17 0-16-1-16-1-15-2-15-1-15-2-15-2-14-2-15-2-13-3-13-3-13-3-12-4-13-3-12-5-11-4-11-5-10-5-10-6-9-6-8-7-6-7-3-8 0-7 8-7 32-3 35-1 28 0 25-1 22 0 19 0 18-1 17 0 16 0 15 0 15 0 15 0 15 0 15 0 15 0 16 0 17 0 18 0 20 1 22 0 21 2 15 3 15 4 14 4 14 5 12 5 11 6 9 5 6 7zM3744 1305l6 8-10 8-10 8-10 8-10 7-21 5-21 6-21 5-21 5-23 4-24 2-25 2-24 2-25 0-23 0-23 0-22-1-21-1-21-1-19-1-20-2-18-2-19-3-19-2-18-2-17-3-17-4-16-4-16-4-15-4-16-5-15-5-15-6-14-6-14-7-13-7-13-8-11-8-9-10-5-9-1-10 9-10 42-3 47 0 38-1 32 0 28 0 25 0 23-1 21 0 20 0 19 0 19 0 18 0 18 0 19 0 19 0 21 0 21 0 23 0 26 0 28 0 22 4 22 4 22 4 17 6 16 6 17 6 16 6 7 8 7 8zM3639 1305l0 6-1 5-7 5-9 5-11 5-13 4-13 4-15 3-15 3-16 2-16 2-16 1-16 1-16 1-15 0-15-1-15 0-14 0-14-1-13-1-13-1-13-1-13-1-13-2-13-2-12-2-12-2-11-3-11-2-11-3-11-4-11-3-10-4-9-4-8-5-8-5-8-5-6-6-4-6-2-7 0-6 7-6 26-3 29 0 24-1 21-1 18 0 17 0 16-1 14 0 14 0 14 0 13-1 13 0 13 0 13 1 14 0 14 0 14 0 16 0 17 1 19 0 18 2 13 3 13 3 12 4 12 4 10 4 9 5 8 5 5 6zM3695 1305l2 7-1 7-8 7-12 6-13 6-16 5-17 5-18 4-19 4-20 2-20 3-20 2-21 1-20 0-20 0-19 0-19 0-18-1-18 0-17-2-17-1-16-2-16-1-17-2-16-2-16-3-14-3-15-3-14-4-14-4-14-4-14-4-13-5-12-6-12-6-12-6-10-7-10-7-7-9-4-8 0-9 8-8 37-3 39 0 33-1 28 0 25 0 22 0 20-1 19 0 17 0 17 0 17 0 16 0 16 0 17 0 16 0 18 1 18 0 20 0 21 1 24 0 23 2 16 4 16 4 15 5 15 5 13 5 12 6 9 6 7 7zM3676 1305l1 7 0 6-8 6-10 6-13 6-14 5-16 4-16 4-18 3-19 3-18 3-19 1-19 1-20 1-18 0-18 0-18 0-17-1-17 0-16-2-16-1-15-1-16-2-16-2-15-2-15-2-14-3-14-3-13-4-13-3-13-4-13-5-12-4-12-5-11-6-10-6-9-7-9-7-6-7-3-8 0-8 9-7 34-3 36-1 31 0 26 0 23-1 20 0 19 0 17 0 17 0 16 0 15 0 15 0 15 0 15 0 16 0 16 0 17 1 18 0 20 0 22 1 21 1 15 4 15 4 14 4 14 5 12 5 11 6 9 5 6 7zM3728 1305l3 8 3 8-14 7-14 7-13 7-14 6-21 5-22 4-21 4-21 5-23 2-23 2-23 2-24 0-22 0-22-1-21 0-20-1-20-1-19-1-18-2-18-2-18-2-18-2-18-3-16-2-16-4-16-4-15-4-15-4-15-4-15-5-14-6-14-6-13-6-12-7-12-8-11-8-8-9-5-9-1-10 9-8 40-4 44 0 37 0 30-1 27 0 24 0 22 0 21-1 19 0 18 0 18 0 18 0 18 0 18 0 18 0 20 0 20 0 22 0 24 1 28 0 20 4 20 4 20 4 20 4 14 6 15 7 14 6 14 7 3 7zM3651 1305l1 6 0 6-7 6-9 5-11 5-13 4-15 4-15 4-16 3-16 2-17 3-18 1-17 1-17 1-17 0-17 0-16-1-15 0-15-1-15-1-14-1-14-1-14-2-14-1-14-2-13-2-13-3-12-3-12-3-11-3-12-4-11-4-11-4-9-5-10-5-8-5-8-6-6-6-5-6-1-7 1-7 7-7 29-2 31-1 27 0 22-1 20 0 18 0 16-1 15 0 15 0 14 0 14 0 13 0 13 0 14 0 14 0 15 0 15 1 16 0 18 0 19 1 19 1 14 3 14 4 13 4 12 4 11 4 10 5 9 6 6 5zM3767 1305l8 9-11 8-10 9-11 8-10 8-22 6-23 6-22 5-22 6-26 4-25 3-27 2-26 2-27 0-26 0-24 0-24-1-23 0-22-2-22-1-21-2-21-3-21-2-20-2-20-3-19-3-19-4-17-4-18-5-17-5-17-5-17-6-17-6-15-7-16-7-15-8-14-9-13-9-10-10-6-11-1-11 10-11 48-3 52 0 42 0 36-1 31 0 28 0 25 0 23 0 22 0 21 0 20 0 20 0 20 0 20 0 21 0 21 0 23 1 25 0 27 0 31 0 23 4 24 4 23 4 18 7 18 7 17 6 18 7 7 8 8 9zM3695 1305l2 7-1 7-8 7-11 6-14 6-15 5-17 5-19 4-19 4-20 3-20 2-20 2-21 1-21 0-20 0-19 0-18-1-18 0-17-1-17-1-17-2-15-2-16-2-16-1-16-3-14-2-14-3-14-4-13-3-13-4-13-4-13-4-12-5-11-5-11-6-10-6-9-7-9-7-6-7-3-8 0-8 8-8 34-2 37-1 31 0 26-1 22 0 21-1 19 0 17 0 17 0 16 0 16 0 15-1 15 0 16 0 16 0 17 1 18 0 19 0 21 0 24 0 23 2 16 4 16 4 16 4 15 5 13 5 13 6 10 7 7 6zM3617 1305l1 5-1 5-5 5-8 5-10 4-11 4-12 3-13 3-14 3-14 2-15 2-14 1-15 1-15 0-14 0-14 0-14 0-13 0-13-1-13-1-12-1-12-1-12-1-12-1-12-2-11-2-11-2-11-3-10-2-10-3-10-3-9-4-9-3-8-4-7-4-7-5-6-5-4-5-3-5-1-6 2-6 7-5 23-2 25-1 21-1 19 0 16-1 15 0 14 0 13-1 12 0 13 0 11 0 12 0 12 0 11 0 13 0 12 0 13 1 14 0 15 0 16 1 17 1 11 3 12 3 12 3 10 4 10 4 8 4 8 4 4 5zM3838 1306l9 10-13 10-12 10-13 10-12 10-27 7-27 6-27 7-27 7-31 4-31 4-31 3-33 1-31 1-31 0-30-1-28-1-27-1-27-1-25-3-25-2-24-3-24-3-23-3-24-3-22-4-21-5-20-5-20-5-20-6-20-6-20-6-19-7-19-8-18-9-18-9-17-10-17-11-12-12-8-13-3-13 11-13 57-4 63 0 50 0 43 0 36 0 33 0 29 0 27 0 26 0 24 0 24 0 23 0 23 0 24 0 24 0 26 0 27 0 30 0 33 0 37 0 28 5 29 4 28 5 21 8 22 8 21 8 21 8 9 10 10 10zM3791 1305l-6 9-6 9-7 9-6 9-22 7-22 7-21 6-22 7-26 4-27 5-27 3-27 2-28 1-28 1-26 0-26-1-24-1-24 0-23-2-22-1-22-3-21-2-21-2-21-3-21-3-19-3-19-4-18-4-18-5-18-5-17-5-18-6-17-6-17-7-16-8-16-8-15-9-14-10-11-10-7-12-3-11 10-11 50-4 54 0 44 0 38-1 32 0 29 0 26 0 24 0 23 0 22 0 21 0 21 0 21 0 21 0 22 0 23 0 24 0 26 0 29 0 33 0 27 4 26 3 20 7 20 7 20 6 19 7 11 8 11 9 11 8zM3775 1305l0 9-1 9-1 9-18 8-19 7-19 7-19 8-25 4-24 5-25 5-27 3-27 2-27 2-27 0-27 0-25 0-24-1-24 0-23-1-23-2-21-2-21-3-22-2-21-2-21-3-19-4-19-4-19-4-17-5-18-5-18-5-18-6-17-6-16-7-16-8-16-8-15-9-14-10-10-10-6-12-2-11 10-11 50-3 54-1 44 0 38 0 32 0 29 0 26 0 24 0 22 0 22 0 21 0 20 0 20 0 21 0 21 0 23 1 23 0 26 0 28 0 31 0 31 2 20 6 20 6 21 6 20 5 13 8 14 8 14 8 14 8zM3797 1305l-1 10-1 9-1 10-20 8-20 7-20 8-20 8-26 5-27 5-26 5-28 3-29 2-28 2-29 0-28 0-27 0-25-1-25-1-24-1-24-2-22-2-23-2-22-3-22-2-22-3-21-4-19-4-20-5-18-5-19-5-19-5-19-6-18-7-18-7-17-8-17-9-16-9-15-11-12-11-7-12-3-13 11-11 53-4 58 0 47 0 40 0 34 0 30 0 28 0 25 0 24 0 23 0 22 0 22 0 22 0 22 0 22 0 24 0 25 0 27 1 30 0 34 0 33 2 21 6 21 6 22 7 21 6 15 8 14 9 14 8 15 8zM3640 1305l1 6-2 5-6 6-10 5-10 4-13 4-14 4-14 3-16 3-16 2-16 2-16 2-16 1-16 0-16 0-15 0-15 0-14-1-14 0-14-1-13-1-13-2-13-1-13-1-13-2-12-2-12-3-11-2-12-3-11-3-11-3-10-4-10-4-10-4-8-5-8-5-8-5-6-6-4-6-2-7 0-6 7-6 27-3 29-1 24 0 21-1 19 0 17-1 15 0 15 0 14 0 14-1 13 0 13 0 13 0 13 0 14 0 14 1 15 0 15 0 17 1 19 0 19 1 13 4 13 3 12 4 12 4 10 4 10 5 7 5 5 5zM3634 1305l1 5-1 6-6 5-9 5-11 5-12 4-13 3-14 4-15 2-15 3-16 2-16 1-16 1-16 1-15 0-15 0-15-1-14 0-14 0-14-1-13-1-13-2-13-1-14-1-13-2-12-2-12-2-12-3-11-3-12-3-11-3-11-4-10-4-10-4-8-5-9-5-7-5-6-6-5-7-2-6 1-7 7-6 28-2 29-1 25-1 21 0 19 0 17-1 16 0 15 0 14 0 14-1 13 0 13 0 13 1 13 0 13 0 14 0 15 0 15 1 17 0 18 1 18 1 13 3 12 4 12 3 12 4 10 5 9 4 7 5 5 6zM3617 1305l1 5-2 5-6 5-8 4-10 4-11 4-13 3-13 3-14 3-14 2-14 1-15 2-14 1-15 0-14 0-13 0-13 0-13-1-12 0-13-1-11-1-12-1-12-1-11-2-12-1-11-2-10-2-11-3-10-2-10-3-9-3-10-3-8-4-8-3-8-5-7-4-5-5-5-5-4-5-1-6 1-5 7-6 22-2 25-1 20-1 19 0 16-1 15 0 13-1 14 0 12 0 12 0 12-1 12 0 12 0 12 0 12 0 13 1 13 0 14 0 15 1 17 0 17 1 12 3 11 3 12 4 10 3 10 4 8 5 7 4 4 5zM3665 1305l1 6-1 7-7 6-10 5-12 5-14 5-15 4-16 4-17 3-18 3-18 2-18 1-18 2-19 0-17 0-17 0-17 0-16-1-16-1-15-1-15-1-15-1-14-2-15-2-14-2-14-2-13-3-13-3-12-3-13-3-12-4-12-4-11-4-11-5-10-5-9-6-9-6-7-7-6-7-2-7 0-7 8-7 31-3 33 0 28-1 24 0 22-1 19 0 17 0 17-1 15 0 15 0 15 0 14 0 14 0 15 0 15 0 15 1 16 0 18 0 19 0 21 1 20 1 15 4 14 4 14 4 13 4 12 5 10 5 9 6 6 6zM3779 1305l-1 9 0 9-1 10-19 7-19 7-19 8-19 7-26 5-25 4-25 5-27 3-27 3-28 1-27 0-27 0-25 0-24-1-24-1-23-1-22-2-22-2-21-2-21-2-20-3-21-3-19-3-19-4-18-5-17-4-18-5-17-6-17-5-17-7-16-6-16-8-15-8-15-9-13-10-11-10-6-11-2-11 10-11 49-3 53-1 44 0 36 0 32 0 28 0 26 0 23 0 23-1 21 0 21 0 20 0 20 0 21 0 21 0 23 0 23 1 26 0 28 0 32 0 31 2 21 5 20 6 21 6 21 6 14 8 14 8 14 8 14 8zM3640 1305l1 6-1 5-6 6-9 5-11 4-13 5-13 3-15 4-15 2-16 3-16 2-17 1-16 1-16 1-16 0-16 0-15-1-14 0-14-1-14-1-13-1-13-1-14-2-13-1-13-2-12-2-12-2-11-3-12-3-11-3-10-3-11-4-10-4-9-4-8-5-8-5-7-5-6-6-4-6-2-7 1-6 7-6 27-2 29-1 24-1 21 0 18-1 17 0 15-1 15 0 14 0 13 0 13 0 13 0 13 0 13 0 13 0 14 0 15 0 15 1 17 0 19 0 18 2 13 3 13 3 13 4 12 4 10 4 10 5 8 5 5 5zM3828 1305l9 11-13 9-12 10-13 10-12 9-27 7-26 7-26 6-27 7-29 4-31 4-30 2-31 2-31 0-30 0-29 0-27-1-27-1-26-1-25-2-24-3-24-2-24-3-23-3-23-3-23-4-21-4-20-5-20-5-20-6-20-6-20-6-20-8-19-7-18-9-19-9-18-10-16-11-13-12-9-13-3-14 11-12 57-4 63 0 51 0 42 0 37 0 33 0 30 0 27 0 26 0 24 0 24 0 23 0 23 0 24 0 24 0 26 0 27 0 29 0 32 0 37 0 28 5 27 5 28 5 20 8 21 8 20 8 21 7 8 10 9 10zM3720 1305l-5 7-5 8-5 7-5 8-17 5-18 5-18 6-17 5-21 4-22 3-22 3-22 2-22 1-23 0-22 0-20 0-21 0-19-1-19-1-18-1-18-2-18-2-17-2-17-2-17-2-17-3-15-3-15-4-15-4-15-4-14-4-14-5-14-5-13-6-13-6-12-7-11-7-11-8-7-9-4-9-1-9 9-9 38-3 43 0 35 0 29-1 26 0 23 0 21-1 20 0 19 0 18 0 17 0 17 0 17 0 18 0 17 0 19 0 20 0 21 1 23 0 26 0 22 3 21 3 16 5 17 6 16 5 16 5 9 7 9 7 8 7z" stroke="#0000ff" stroke-width="3.0" fill="none" stroke-linejoin="round"/>
<path transform="scale(0.5)" d="M3626 1145l-3 6-4 5-7 5-9 4-10 5-11 3-12 4-13 3-13 3-16 2-16 1-16 1-15 1-14 1-14 0-14 0-13 1-14 0-14 0-13-1-14 0-14 0-14-1-15-1-16-1-16-1-18-1-19-2-21-2-21-2-9-5-5-6-2-5 0-6 2-5 3-6 4-5 6-4 7-5 9-4 9-4 10-4 11-4 12-3 12-2 13-3 14-2 13-2 14-2 14-1 15-1 14-1 14 0 15-1 15 0 15 0 15 0 16 1 15 1 16 1 16 1 15 2 15 3 14 3 13 3 13 4 12 4 9 5 7 5 6 5 2 5zM3711 1145l-4 8-7 7-9 7-12 6-13 6-15 6-15 5-17 5-16 5-23 3-25 1-23 1-22 1-21 0-19 1-20 0-19 0-19 0-19 0-19 0-20 0-20-1-20 0-22-1-23-1-25-1-28-2-32-1-37-2-35-3-8-9-1-8 4-9 8-9 7-7 9-8 9-6 9-7 10-6 11-6 12-5 12-6 13-5 15-4 15-5 16-4 17-4 18-3 20-3 19-2 21-2 21-2 21-1 22-1 22-1 23 0 24 0 24 1 24 1 24 2 23 2 23 4 21 4 18 5 16 6 17 6 15 6 11 7 8 7 6 7 2 8z" fill="#ff0000" fill-rule="evenodd" stroke="none"/>
<path transform="scale(0.5)" d="M3748 1145l0 9-13 7-14 7-13 8-14 7-19 5-20 5-19 6-20 5-26 2-29 0-25 1-23 0-22 1-20 0-20 0-20 0-19 0-19 0-20 0-20 0-21 0-21 0-24-1-26 0-28-1-32 0-38-1-46-1-45-3-12-9-3-10 3-10 10-9 9-9 11-9 11-7 12-8 14-6 14-7 15-6 15-5 16-6 17-4 18-5 19-4 20-3 20-3 21-3 22-2 21-2 22-1 22-1 23-1 23-1 24-1 24 0 26 0 26 1 26 2 26 2 26 3 22 5 23 5 22 5 17 7 16 7 17 7 16 7 1 8 0 9zM3754 1145l-4 9-3 8-16 7-16 7-16 7-15 7-22 5-22 4-22 4-22 5-30 0-26 1-24 0-22 1-22 0-20 0-20 0-20 0-20 0-20 0-21 0-21 0-23-1-24 0-26 0-29-1-34 0-39-1-47-1-46-3-11-9-2-11 4-10 10-10 11-9 11-9 12-7 13-8 14-7 15-6 15-6 16-6 17-5 17-4 18-5 19-4 20-3 21-3 21-3 21-2 22-1 21-2 23-1 22-1 23-1 24 0 24-1 26 0 26 1 26 2 27 2 26 3 22 5 23 5 22 5 23 5 14 8 14 8 14 7 14 8-3 8zM3745 1145l1 9-13 7-13 7-14 8-13 7-19 5-20 5-19 5-19 6-27 2-28 0-25 1-23 0-22 0-21 1-19 0-20 0-19 0-19 0-20 0-19 0-21 0-22-1-23 0-25-1-29 0-31-1-38 0-44-1-44-3-12-9-3-10 4-10 9-10 9-8 11-9 11-7 12-7 13-7 14-6 15-6 15-6 16-5 17-4 18-5 18-4 20-3 20-3 20-2 21-3 22-1 21-2 22-1 22-1 23-1 23 0 24-1 25 1 26 0 26 2 26 2 25 3 22 5 23 5 22 4 17 7 16 7 17 7 16 7 1 8 1 9zM3820 1145l0 11-16 8-17 9-17 9-16 9-24 6-24 6-23 7-24 6-33 2-35 0-31 1-28 0-27 0-24 0-24 0-22 0-23 0-23 0-22 0-24 0-24 0-27 0-28 0-31-1-35 0-40 0-48 0-59 0-57-4-13-11-2-13 7-12 14-12 14-11 15-10 15-9 16-8 17-8 17-8 18-7 18-6 19-6 20-6 21-5 21-5 23-4 24-4 25-3 25-2 25-2 26-2 26-2 27-1 28-1 28-1 30-1 30 0 32 1 32 1 32 3 32 3 27 6 27 6 28 6 20 9 21 8 20 9 21 8 0 11 0 10zM3732 1145l-7 8-7 7-7 8-17 6-17 6-17 6-16 6-21 3-21 4-21 4-27 0-24 1-22 0-20 1-20 0-19 0-19 0-18 0-18 0-19 0-19 0-20 0-20 0-23-1-24 0-26-1-30-1-35 0-42-1-41-3-11-9-4-9 2-9 8-9 9-9 9-8 10-7 11-7 12-6 14-6 14-6 14-5 16-5 16-5 17-4 18-4 18-3 20-3 20-2 20-2 21-2 21-1 21-2 21-1 22 0 23-1 23 0 24 0 24 1 25 1 25 3 24 3 24 3 20 6 19 5 20 6 19 5 9 8 9 8 8 8 9 7zM3743 1145l-8 8-7 8-7 8-18 6-17 6-18 6-17 6-22 4-21 4-22 4-27 0-25 1-23 0-21 0-21 1-19 0-19 0-19 0-19 0-19 0-19 0-21-1-21 0-23 0-24-1-28 0-31-1-36-1-44-1-42-3-11-9-4-9 3-10 9-9 9-9 10-8 10-7 12-7 12-7 14-6 14-6 15-5 16-5 17-5 17-4 18-4 19-3 20-3 21-3 20-2 21-2 22-1 21-1 22-1 23-1 23-1 24 0 24 0 26 1 25 1 26 3 25 3 25 3 20 6 21 6 20 5 20 6 9 8 9 8 9 8 9 8zM3787 1145l-12 9-11 8-12 9-12 9-21 6-20 6-21 6-21 6-25 4-26 4-31 0-28 0-25 1-24 0-23 0-21 0-21 0-21 0-21 0-21 0-21 0-23 0-23-1-26 0-27 0-31-1-36 0-41-1-51 0-49-4-12-10-2-11 5-11 11-10 12-10 12-9 13-8 14-8 15-7 15-6 16-7 16-6 17-5 19-5 19-5 19-4 21-4 22-3 22-3 23-2 22-2 24-1 23-2 24-1 25-1 25-1 27 0 27 0 28 0 29 2 28 2 28 3 26 5 26 5 21 7 21 7 21 7 21 7 5 9 6 9 5 9zM3774 1145l-12 9-11 8-11 8-11 8-20 6-20 6-20 6-20 6-25 4-24 3-30 1-27 0-25 0-23 1-22 0-20 0-21 0-20 0-20 0-21 0-21 0-21 0-23 0-25-1-27 0-30-1-35 0-40-1-49 0-47-3-12-10-3-11 5-10 10-11 11-9 12-9 12-8 13-7 15-7 15-7 15-6 16-6 17-5 18-5 19-5 19-4 20-4 22-3 21-2 23-2 22-2 23-2 23-1 23-1 24-1 25-1 26 0 26 0 27 1 28 1 28 2 27 4 25 4 25 5 20 7 20 6 20 7 20 7 5 9 5 9 5 9zM3765 1145l-4 9-4 9-16 7-17 7-16 7-17 7-23 5-22 4-23 5-23 5-30 0-27 0-24 1-23 0-22 0-21 0-21 1-20 0-20 0-21 0-21-1-22 0-23 0-25 0-27-1-31 0-34 0-41-1-50-1-48-3-11-10-3-10 5-11 11-10 11-10 12-9 13-8 13-7 15-7 15-7 16-6 16-6 17-5 18-5 19-5 19-4 21-3 21-4 22-2 22-2 22-2 23-2 23-1 23-1 24-1 25 0 25-1 27 1 27 0 27 2 28 2 27 3 23 5 23 6 23 5 24 5 14 8 14 8 15 8 14 8-4 9zM3711 1145l-6 7-6 8-7 7-15 5-16 6-15 6-15 5-20 4-20 3-19 4-25 1-22 0-21 1-20 0-18 1-19 0-17 0-18 0-18 0-17 0-19 0-18-1-20 0-21-1-23 0-25-1-28-1-32-1-38-1-37-3-11-8-4-8 2-9 7-8 8-8 8-8 9-7 11-6 11-6 13-6 13-5 14-5 14-5 16-4 16-4 17-3 18-3 18-3 19-2 19-2 19-1 19-2 20-1 20-1 20 0 21 0 22-1 22 1 23 0 23 2 22 2 23 2 22 4 18 5 19 5 18 5 18 5 9 7 8 8 9 7 8 7zM3766 1145l-4 9-4 9-16 7-17 7-17 7-16 8-23 4-23 5-23 4-22 5-30 0-27 1-25 0-23 0-22 0-21 1-21 0-20 0-20 0-21 0-21 0-22-1-23 0-26 0-27 0-31-1-35 0-41-1-50 0-48-3-12-10-3-11 5-11 11-10 11-10 12-9 13-8 13-7 15-8 15-6 16-6 16-6 17-6 19-5 18-4 20-4 21-4 21-3 22-3 23-2 22-2 23-1 23-2 24-1 24-1 25 0 26 0 27 0 27 0 28 2 27 2 28 3 23 6 23 5 24 6 23 5 14 8 15 8 14 8 14 8-4 9zM3830 1145l-13 10-14 9-13 10-14 9-23 7-23 7-23 7-23 7-28 4-29 4-35 0-31 0-29 0-26 0-25 0-23 0-23 1-23 0-23 0-23 0-24 0-24 0-27 0-29-1-31 0-36 0-41 0-49 0-60 0-59-3-13-12-1-13 7-12 14-12 15-11 15-11 15-9 16-9 18-8 18-7 18-7 18-7 19-6 21-6 21-5 22-5 23-4 25-4 25-3 25-2 26-2 26-2 26-2 27-1 28-1 28-1 30 0 31 0 32 0 32 2 32 2 32 4 29 5 29 6 23 8 23 8 23 7 23 8 6 11 5 10 6 10zM3838 1145l-6 11-5 10-21 9-20 8-21 9-20 8-28 6-27 5-28 5-27 5-37 0-32 0-30 1-27 0-26 0-24 0-24 0-23 0-23 0-24 0-25 0-25 0-27 0-30 0-33 0-37 0-42-1-51 0-62 0-62-3-13-12-1-13 7-13 15-13 16-11 16-11 16-9 17-9 17-8 19-8 18-7 19-7 20-7 21-6 22-5 22-5 24-4 25-4 26-3 26-3 27-2 27-2 27-2 28-1 29-2 30-1 31 0 32 0 33 0 34 2 33 3 33 3 29 7 28 7 28 6 28 7 17 9 18 10 17 10 17 9-6 11zM3822 1145l-10 10-10 10-10 10-21 7-22 7-22 8-21 7-27 5-27 4-27 5-35 0-31 0-28 0-26 0-24 1-24 0-23 0-22 0-22 0-23 0-24 0-24 0-26 0-29-1-31 0-35 0-40 0-48 0-59 0-58-4-13-11-2-12 7-13 14-12 14-11 15-10 15-9 15-8 17-8 18-8 17-7 18-6 19-7 20-5 21-5 22-5 23-4 24-4 25-3 26-3 25-2 26-2 26-1 27-2 28-1 28-1 30 0 31 0 31 1 32 1 32 3 32 3 31 5 25 7 25 7 26 7 25 7 11 10 11 10 11 10 11 10zM3757 1145l-8 8-8 9-7 8-18 6-18 7-18 6-18 6-23 4-23 4-22 4-29 1-26 0-24 0-22 1-21 0-21 0-19 0-20 0-20 0-19 0-20 0-21 0-23-1-23 0-26-1-28 0-33-1-38-1-45 0-45-3-11-10-3-10 4-10 9-9 10-9 11-9 12-7 12-8 13-6 15-7 14-6 16-5 16-5 17-5 18-4 18-4 20-4 20-3 21-2 21-2 22-2 21-2 22-1 23-1 23-1 24-1 25 0 25 0 26 1 27 1 27 2 26 3 26 4 21 6 21 6 21 6 22 6 9 8 10 8 10 8 9 9zM3803 1145l-9 9-9 10-10 9-20 7-21 7-21 7-20 8-26 4-26 4-26 5-33 0-29 0-27 0-25 0-23 0-23 1-22 0-21-1-21 0-22 0-22 0-24 0-24 0-27 0-29-1-33 0-37 0-44-1-54 0-52-3-13-11-2-12 6-11 12-11 13-10 13-10 14-8 14-8 15-8 17-7 16-6 17-7 18-5 19-6 19-5 21-4 22-4 22-4 24-3 23-2 25-2 24-2 25-1 25-2 26-1 27-1 28 0 29 0 30 0 31 2 30 2 30 4 30 4 24 7 24 6 24 7 25 7 10 9 11 10 11 9 10 9zM3753 1145l-7 8-8 9-7 8-18 6-17 6-18 7-18 6-22 4-22 4-23 4-28 1-26 0-24 1-22 0-21 0-20 0-20 1-20 0-20 0-20 0-20 0-22-1-22 0-24 0-27 0-29-1-34 0-39-1-48-1-46-3-12-9-3-11 4-10 10-10 11-9 11-9 12-8 13-7 14-7 15-6 15-6 16-6 17-5 18-5 18-4 19-4 20-4 21-3 22-2 21-2 22-2 22-1 22-2 23-1 23 0 24-1 25 0 25 0 26 1 27 1 26 3 26 3 25 4 21 5 21 6 21 6 21 6 9 8 9 8 10 9 9 8zM3770 1145l-8 9-8 8-8 9-19 7-18 6-19 7-19 6-23 4-24 4-23 5-31 0-27 0-24 1-23 0-22 0-21 0-21 1-20 0-20 0-21 0-21-1-22 0-23 0-25 0-28 0-30-1-35 0-41-1-50 0-48-4-12-9-3-11 5-11 10-10 12-10 12-9 12-8 13-7 15-8 15-6 16-6 16-6 17-6 18-5 19-4 20-5 21-3 21-3 22-3 23-2 22-2 23-2 23-1 24-1 24-1 25 0 26-1 27 0 27 1 28 2 28 2 27 3 27 4 22 6 22 6 22 7 22 6 10 8 10 9 9 9 10 8zM3846 1145l1 11-18 10-18 9-18 9-18 10-25 6-25 7-25 7-25 6-36 3-37 0-33 0-30 0-28 0-26 0-25 0-24 0-24 0-24 0-24 0-25 0-26 0-28 0-30 0-33 0-38 0-44 0-52 0-64 0-62-3-14-13-1-13 8-14 16-12 16-12 17-11 16-9 17-9 19-9 19-8 19-7 19-7 20-6 21-6 22-6 23-5 25-4 25-4 26-3 27-3 27-2 27-2 28-2 28-2 29-1 30-1 32 0 32-1 34 1 34 2 34 2 34 4 29 6 30 7 29 6 22 9 21 9 22 9 22 9 0 11 0 11zM3786 1145l-12 9-12 8-11 9-12 8-21 7-20 6-21 6-20 6-26 4-25 3-31 1-28 0-26 0-23 1-23 0-21 0-21 0-21 0-21 0-21 0-21 0-22 0-24-1-26 0-27 0-31-1-36 0-41-1-51 0-49-3-12-11-2-11 5-11 11-10 12-10 12-9 13-8 13-8 15-7 16-6 16-7 16-6 17-5 19-5 19-5 19-4 21-4 22-3 22-3 23-2 22-2 24-1 23-2 24-1 25-1 25-1 26 0 28 0 28 1 28 1 29 2 28 4 26 4 26 5 20 7 21 7 21 7 20 7 6 9 5 9 6 9zM3799 1145l1 10-16 9-16 8-15 8-16 9-22 6-23 6-22 6-23 6-31 2-33 0-29 0-27 1-25 0-24 0-22 0-22 0-22 0-22 0-22 0-22 0-24 0-25 0-27 0-30 0-34 0-38-1-46 0-56 0-54-4-13-11-2-11 6-12 13-12 13-10 14-10 14-8 15-9 16-7 17-8 17-6 18-7 18-5 20-6 20-5 21-4 22-4 23-4 24-3 24-2 25-2 24-2 25-1 26-1 26-1 27-1 29-1 29 0 30 1 30 2 30 2 30 4 26 5 26 6 26 6 19 8 20 8 19 8 19 8 1 10 0 9zM3770 1145l-4 9-5 9-17 7-17 7-17 8-16 7-24 4-23 5-23 4-23 5-30 0-27 1-25 0-23 0-22 0-21 0-21 0-20 0-20 0-21 0-21 0-22 0-23 0-24-1-28 0-30 0-34-1-41 0-49-1-48-3-11-10-3-11 4-10 11-10 11-10 12-9 12-8 13-7 14-7 15-7 16-6 16-6 17-5 18-5 18-5 20-4 20-4 22-3 21-3 23-2 22-2 23-2 23-1 24-1 24-1 25-1 26 0 27 0 28 1 28 1 28 2 28 4 23 5 24 6 24 5 23 6 15 8 14 8 15 8 14 8-4 9zM3794 1145l-5 10-5 9-18 8-18 7-18 8-18 8-25 5-25 4-24 5-25 5-32 0-29 1-27 0-24 0-24 0-22 0-22 0-21 0-21 0-22 0-22 0-24 0-25 0-26 0-29 0-33-1-38 0-45 0-54-1-53-3-13-11-2-11 6-12 12-11 13-10 13-10 14-8 15-8 15-8 17-7 17-7 17-6 18-6 19-5 20-5 21-4 21-4 23-4 24-3 24-2 24-2 24-2 25-1 25-1 26-1 27-1 28-1 28 1 30 0 30 2 30 2 30 4 25 5 25 6 25 6 25 6 16 9 15 8 15 9 16 9-5 9zM3784 1145l-5 9-4 10-18 7-18 8-17 7-18 8-24 4-24 5-24 5-24 4-31 1-29 0-25 0-24 0-23 1-22 0-21 0-21 0-21 0-21 0-22 0-23-1-24 0-26 0-28 0-32 0-37-1-43 0-52-1-51-3-13-10-2-12 5-11 12-11 12-9 13-10 13-8 14-8 15-7 16-7 16-7 17-6 18-5 18-6 20-5 20-4 22-4 22-3 23-3 23-2 23-2 24-2 24-1 25-1 25-1 26-1 28 0 28 0 28 0 30 2 29 2 28 4 25 5 25 6 24 6 25 6 15 8 15 8 15 9 15 8-5 10zM3705 1145l-3 7-3 8-13 6-14 6-14 6-13 6-19 4-19 3-19 4-19 4-24 1-22 0-20 1-20 0-18 1-18 0-18 0-17 0-17 0-18 0-18 0-19 0-19-1-21 0-23-1-24 0-28-1-32-1-38-1-38-3-11-8-4-8 2-9 6-8 7-8 9-8 9-7 10-6 12-6 12-6 13-5 14-5 15-5 15-4 16-4 17-4 18-3 19-2 18-2 20-2 19-2 19-1 20-1 20-1 20 0 21-1 22 0 22 1 23 0 23 2 22 2 23 3 19 4 19 5 19 4 19 5 12 6 12 7 12 7 11 6-3 8zM3741 1145l-7 8-7 8-8 8-17 6-17 6-17 6-17 6-22 4-22 4-21 3-28 1-24 1-23 0-21 0-21 0-19 1-19 0-19 0-19 0-19 0-19-1-20 0-21 0-23-1-24 0-27-1-31-1-35 0-43-1-42-3-11-9-3-10 3-9 8-9 9-9 10-8 10-7 12-7 12-6 14-7 14-5 15-6 15-5 17-4 17-4 18-4 19-4 19-2 20-3 21-2 20-2 21-1 21-1 22-1 22-1 23-1 24 0 24 0 25 1 26 1 25 2 25 3 25 4 20 6 20 5 20 6 21 5 9 8 9 8 9 8 9 8zM3808 1145l-10 9-9 10-9 10-21 7-20 7-21 7-21 7-26 5-26 4-26 5-33 0-30 1-28 0-25 0-24 0-23 0-22 0-22 0-22 0-22 0-24 0-24 0-25 0-28 0-30 0-35 0-39 0-47-1-57 0-56-3-13-11-2-13 6-12 14-11 14-11 14-10 15-9 15-8 17-8 17-7 17-7 18-6 19-6 20-6 20-5 22-4 22-4 24-4 24-3 25-2 24-2 26-2 25-1 26-2 27-1 27-1 29 0 29 0 31 1 31 1 30 3 31 3 29 5 25 7 24 7 24 6 25 7 10 10 11 9 11 10 11 9zM3777 1145l-4 9-4 9-17 8-18 7-17 7-17 8-24 4-23 5-24 5-23 4-32 1-27 0-26 0-23 1-23 0-21 0-21 0-21 0-21 0-21 0-21 0-23 0-23-1-26 0-28 0-31-1-36 0-42-1-51 0-49-3-12-10-3-11 5-11 11-11 12-10 13-9 13-8 13-8 15-7 16-7 16-6 16-6 18-5 18-6 19-4 20-5 21-3 22-4 22-2 23-2 23-2 23-2 24-1 24-2 25-1 25 0 27-1 27 1 28 0 29 2 29 2 28 3 24 6 24 5 24 6 24 6 15 8 15 8 15 8 15 9-4 9zM3822 1145l-5 10-5 11-20 8-20 8-19 8-20 8-26 6-27 5-26 5-26 5-36 0-31 0-29 0-26 0-25 0-23 0-23 0-23 0-23 0-23 0-23 0-25 0-26 0-29 0-31 0-35 0-41-1-48 0-59 0-57-3-13-12-1-12 6-13 15-12 14-11 15-10 15-9 16-8 17-8 18-8 18-7 18-6 19-6 20-6 21-5 22-5 22-4 24-4 25-3 25-2 26-2 25-2 26-2 27-1 27-1 29-1 30-1 30 0 32 1 32 1 32 3 32 3 27 7 27 6 28 6 27 6 16 9 17 10 17 9 17 9-5 11zM3734 1145l-10 8-10 7-10 7-10 8-18 5-18 5-17 6-18 5-22 3-22 3-26 1-24 0-21 1-21 0-20 1-18 0-19 0-18 0-18 0-19 0-18-1-20 0-20 0-22-1-24 0-26-1-29-1-34 0-41-1-39-3-11-9-4-9 2-9 8-9 8-8 9-8 10-7 11-7 12-6 13-6 13-5 15-6 15-4 16-5 16-4 18-4 18-3 19-3 20-2 20-2 20-2 20-1 21-1 21-1 22-1 22 0 23-1 23 1 25 0 24 2 24 2 25 3 22 4 22 4 18 6 17 6 18 6 18 6 4 8 5 8 5 8zM3710 1145l-3 8-3 7-14 6-14 6-14 6-14 6-19 4-19 4-19 4-20 4-24 0-23 1-20 1-20 0-19 0-18 0-17 1-18 0-18 0-17 0-18-1-19 0-20 0-21-1-22 0-25-1-28-1-32-1-38-1-38-3-11-8-4-8 2-9 6-8 8-8 8-8 9-7 10-6 12-6 12-6 13-5 14-5 15-5 15-4 17-4 17-4 17-3 19-3 19-2 19-2 19-1 20-1 20-2 20 0 21-1 21 0 22-1 22 1 23 1 23 1 23 2 23 3 20 4 19 5 20 4 20 5 11 7 12 7 12 6 12 7-3 8zM3801 1145l-8 9-9 10-9 9-20 7-20 8-21 7-20 7-26 4-25 5-26 4-33 1-29 0-27 0-26 0-23 1-23 0-22 0-22 0-22 0-22 0-23 0-24 0-25 0-28-1-30 0-33 0-39 0-46-1-56 0-55-3-12-11-2-12 6-12 14-12 13-10 15-10 14-8 15-9 17-7 17-7 17-7 18-6 18-6 20-6 20-5 21-4 22-4 23-3 24-3 24-2 24-2 25-2 25-1 25-2 26-1 27 0 28-1 29 0 29 1 31 1 30 3 30 3 29 5 24 6 24 7 24 6 24 7 10 9 11 10 11 9 11 9zM3792 1145l-9 9-9 9-8 9-20 7-20 7-20 7-20 7-25 5-25 4-25 4-32 1-29 0-26 0-24 0-23 0-22 1-22 0-21 0-21 0-22 0-22-1-23 0-24 0-27 0-28 0-33-1-37 0-43 0-54-1-52-3-12-11-2-11 5-11 12-11 13-10 13-10 14-8 14-8 15-8 17-7 16-6 17-6 18-6 19-5 19-5 21-4 21-4 23-4 23-2 23-3 24-2 24-1 24-2 25-1 26-1 26-1 27 0 29 0 29 1 29 1 30 3 29 3 28 4 24 7 23 6 23 7 24 6 10 9 11 9 10 10 11 9zM3796 1145l-9 9-9 9-9 10-20 7-20 7-20 7-20 7-25 4-26 5-25 4-32 0-29 0-27 1-24 0-24 0-22 0-22 0-21 0-21 0-22 0-22 0-24 0-24 0-27 0-29-1-33 0-37 0-44-1-54 0-53-3-12-11-2-12 6-11 12-11 13-10 13-10 14-8 14-8 16-8 16-7 17-6 17-6 18-6 19-6 20-4 20-5 22-4 23-3 23-3 23-2 24-2 24-2 25-1 25-2 26-1 26 0 28-1 28 0 30 1 30 1 29 3 30 3 29 4 23 7 24 7 24 6 23 7 11 9 10 9 11 9 11 10zM3827 1145l-13 10-14 9-13 10-13 9-23 7-23 7-23 6-23 7-28 4-28 4-35 0-31 1-28 0-26 0-25 0-24 0-22 0-23 0-23 0-23 0-23 0-25 0-26 0-29 0-31 0-36 0-41 0-48 0-60-1-58-3-14-11-1-13 7-13 14-12 14-11 16-10 15-9 16-9 17-8 18-7 18-7 18-7 19-6 20-5 22-6 22-4 23-5 24-3 25-3 25-3 26-2 26-2 26-1 27-2 28-1 28-1 30 0 30 0 32 1 32 1 32 3 31 4 29 5 29 5 23 8 23 8 22 8 23 8 6 10 6 10 5 10zM3732 1145l-3 8-4 8-14 7-15 6-15 7-15 6-20 4-21 5-21 4-20 4-27 1-24 0-23 1-21 0-20 0-19 1-19 0-19 0-19 0-19 0-20 0-20 0-21-1-23 0-25-1-28 0-31-1-37 0-44-1-43-3-11-9-3-10 3-9 9-10 9-9 10-8 11-7 12-7 13-7 14-6 15-6 15-5 16-5 16-5 18-4 18-4 20-3 19-3 21-2 20-2 21-2 21-1 21-1 22-1 22-1 23 0 23 0 24 0 25 1 25 1 25 2 24 3 21 5 21 5 21 5 21 5 13 7 13 7 13 8 13 7-4 8zM3855 1145l-15 10-15 10-14 10-15 10-25 7-24 8-25 7-24 7-31 4-30 4-37 0-33 0-30 0-27 0-26 0-25 0-24 0-23 0-23 0-24 0-25 0-26 0-27 0-30 0-32 0-37 0-43 0-51 0-63 0-62-4-13-12-2-13 8-13 15-13 15-11 16-11 16-9 17-9 18-9 18-7 19-8 19-7 19-6 21-6 22-6 23-5 24-4 25-4 26-3 27-3 27-2 27-3 28-1 28-2 29-1 31-1 31-1 33 0 34 1 34 1 34 3 34 4 31 5 31 6 24 9 25 8 24 8 25 9 5 11 6 11 6 10zM3836 1145l-5 11-5 10-20 9-21 8-20 9-20 8-27 6-27 5-28 5-27 6-37 0-33 0-29 0-27 0-26 0-25 0-24 0-23 0-23 0-24 0-25 0-26 0-27 0-30 0-32 0-37 0-43 0-50-1-62 0-61-3-13-12 0-13 8-13 15-13 16-11 16-11 17-9 16-9 18-8 19-8 18-7 19-7 20-6 21-6 21-5 23-5 23-4 25-4 25-3 26-2 26-3 27-1 27-2 27-2 28-1 29-1 31 0 31 0 33 0 33 2 33 2 33 4 28 6 29 7 28 6 28 6 17 10 18 9 17 10 18 10-5 10zM3838 1145l-5 11-6 10-20 9-21 8-20 9-21 8-27 6-28 5-27 5-28 5-36 1-33 0-29 0-28 0-25 0-25 0-24 0-23 0-23 0-24 0-25 0-25 0-28 0-29 0-33 0-37 0-43 0-50-1-63 0-61-3-13-12-2-13 8-13 15-13 16-11 16-11 16-9 17-9 18-8 18-8 19-7 19-7 19-7 21-5 22-6 23-5 24-4 25-4 25-3 27-3 26-2 27-2 27-2 28-1 29-1 29-1 31-1 32 0 34 1 33 1 34 3 33 4 28 6 28 7 29 6 28 7 17 9 17 10 18 10 17 9-6 11zM3822 1145l-9 10-10 10-9 10-22 7-22 8-21 7-22 7-27 5-27 5-27 4-35 1-31 0-28 0-26 0-25 0-24 0-22 0-23 0-23 0-22 0-24 0-25 0-26 0-28 0-31 0-35-1-41 0-48 0-58 0-58-4-12-11-2-13 7-12 14-12 15-11 15-10 15-9 15-8 17-8 18-8 18-6 18-7 19-6 20-6 21-5 21-5 23-4 24-3 25-3 25-3 25-2 25-2 26-1 27-2 27-1 29-1 29 0 31 0 31 0 32 2 32 2 31 4 31 4 26 7 25 7 25 7 26 7 11 10 11 10 12 10 11 10zM3740 1145l-8 8-7 8-8 8-17 6-17 6-17 6-17 6-22 4-21 3-22 4-27 1-24 0-23 1-21 0-20 0-19 1-19 0-19 0-19 0-19 0-19 0-21-1-21 0-23 0-25-1-27 0-32-1-36-1-44 0-43-3-12-9-4-10 3-9 9-10 9-8 10-9 10-7 12-7 13-7 14-6 14-6 15-5 16-6 17-4 18-5 18-3 19-4 20-3 21-2 21-2 21-2 21-1 22-2 22-1 23 0 23-1 24 0 24 0 26 1 25 2 26 2 25 3 24 4 20 5 20 6 20 6 20 5 9 8 8 8 9 8 9 8zM3831 1145l0 11-17 9-18 9-17 9-17 9-24 6-24 7-25 6-24 7-34 2-36 0-32 0-29 0-26 0-26 1-24 0-23 0-23 0-23 0-23 0-25 0-25 0-27 0-29-1-32 0-36 0-42 0-49 0-62 0-59-3-14-12-1-13 7-13 15-12 15-11 16-11 15-9 17-9 17-8 18-8 19-7 18-6 20-7 20-5 22-6 22-5 24-4 24-4 25-3 26-2 26-3 27-1 27-2 27-2 28-1 29-1 31 0 31 0 33 0 33 2 33 3 32 3 28 6 28 6 28 7 21 8 21 9 21 9 21 8 0 11 0 11zM3856 1145l-14 10-15 10-14 11-15 10-24 7-25 7-24 7-25 7-30 5-31 4-37 0-33 0-30 0-28 0-26 0-25 0-24 0-24 0-24 0-24 0-25 0-26 0-28 0-30 0-33 0-38 0-43 0-52 0-64 0-62-4-13-12-1-13 8-14 16-12 16-12 16-11 17-9 17-9 18-9 19-8 19-7 19-7 20-6 21-6 22-6 23-5 24-4 25-4 27-3 26-3 27-2 27-2 28-2 28-2 29-1 30-1 32 0 32 0 34 0 34 2 35 2 33 4 31 6 31 5 25 9 24 8 25 8 24 9 7 11 6 11 6 10zM3845 1145l-6 11-5 11-21 8-21 9-21 9-21 8-28 5-28 6-28 5-28 5-37 1-33 0-30 0-28 0-26 0-24 0-24 0-24 0-24 0-24 0-25 0-26 0-27 0-31 0-33 0-38 0-43 0-52 0-65 0-63-3-13-13-2-13 8-14 16-12 16-12 16-11 17-9 17-10 18-8 19-8 19-7 19-7 20-7 21-6 23-5 23-6 24-4 26-4 26-3 27-3 27-2 28-2 27-2 29-1 29-2 31-1 31 0 33 0 34 0 35 2 34 3 34 4 28 6 29 7 29 7 28 6 18 10 17 10 17 10 18 10-6 11zM3836 1145l-5 11-6 10-20 9-20 8-20 9-20 8-28 6-27 5-27 5-28 5-36 1-33 0-29 0-28 0-25 0-25 0-24 0-23 0-23 0-24 0-25 0-25 0-28 0-29 0-33 0-37 0-42-1-51 0-62 0-61-3-13-12-1-13 8-13 15-13 16-11 16-11 16-9 17-9 18-8 18-8 19-7 19-7 20-6 20-6 22-5 23-5 23-5 25-3 26-3 26-3 26-2 26-2 27-2 28-1 28-1 30-1 30-1 32 0 33 1 33 1 34 3 33 3 28 7 28 6 28 7 28 6 17 10 18 9 17 10 17 10-5 10zM3815 1145l-5 10-5 10-19 8-19 8-19 9-19 8-26 5-26 5-26 5-26 5-35 0-31 0-28 0-26 1-24 0-24 0-22 0-23 0-23 0-22 0-24 0-25 0-26 0-28 0-31 0-36-1-40 0-48 0-59 0-58-3-12-12-2-12 7-13 14-12 14-11 16-10 15-9 16-8 17-8 17-8 18-7 18-6 19-6 20-6 21-5 22-5 23-4 24-3 25-3 25-3 25-2 26-2 26-1 26-1 27-2 28 0 30-1 30 0 31 1 32 1 31 3 31 4 27 6 27 6 26 6 27 6 16 9 17 9 16 10 16 9-4 10zM3740 1145l-10 8-10 7-10 8-10 7-18 6-18 5-18 6-18 5-22 3-23 4-27 0-24 1-22 0-21 1-20 0-20 0-18 0-19 0-19 0-19 0-19 0-20 0-21-1-23 0-24 0-27-1-31-1-35-1-43 0-41-3-12-9-3-10 3-9 8-9 9-9 10-8 11-7 11-7 13-6 13-6 15-6 14-5 16-5 16-5 18-4 18-4 18-3 20-3 20-2 20-2 21-2 21-1 21-2 21-1 22 0 22-1 24 0 24 0 24 1 25 1 25 3 25 2 22 5 23 4 18 6 18 6 18 6 18 6 5 8 5 8 5 8zM3724 1145l-3 8-4 8-14 6-15 7-14 6-14 6-21 4-20 4-20 4-20 4-26 1-23 1-22 0-21 0-19 1-19 0-19 0-18 0-18 0-19 0-19 0-19 0-21-1-22 0-24-1-26 0-29-1-35-1-41-1-40-3-11-8-3-10 3-9 7-9 9-8 9-8 10-7 11-7 12-6 14-6 13-5 15-6 15-4 16-5 17-4 18-4 18-3 19-2 20-3 19-2 20-1 21-2 20-1 21-1 21 0 22-1 23 0 23 0 24 1 24 1 24 3 24 2 21 5 20 5 21 5 20 4 13 7 13 7 12 7 13 7-3 8zM3781 1145l1 10-15 8-15 8-15 8-14 8-22 6-21 5-22 6-21 6-30 2-31 0-28 1-26 0-24 0-22 0-22 1-21 0-21 0-21 0-21 0-22-1-23 0-24 0-25 0-29 0-31-1-37 0-42-1-52 0-51-3-12-11-2-11 5-11 12-11 12-10 13-9 13-8 14-8 15-7 16-7 16-6 17-6 18-6 18-5 19-5 21-4 21-4 22-3 22-3 23-2 24-2 23-1 24-2 24-1 25-1 26-1 26 0 28 0 28 1 29 1 29 3 28 3 25 5 25 5 24 6 19 7 18 8 19 8 18 7 1 10 0 9zM3838 1145l1 11-18 9-17 9-18 10-17 9-25 6-25 7-25 6-24 7-35 2-37 0-32 1-30 0-27 0-25 0-25 0-24 0-23 0-23 0-24 0-25 0-25 0-27 0-30 0-32-1-37 0-43 0-50 0-63 0-61-3-13-12-1-13 8-13 15-13 15-11 17-11 15-9 17-9 18-8 18-8 19-7 19-7 19-6 21-6 22-6 22-5 24-4 25-4 26-3 26-2 26-3 27-2 27-1 28-2 29-1 29-1 31-1 32 0 33 1 34 1 33 3 33 4 29 6 29 6 28 6 22 9 21 9 21 9 22 9 0 11 0 10zM3775 1145l-4 9-5 9-17 8-17 7-17 7-17 8-24 4-23 5-23 4-24 5-30 0-28 1-25 0-24 0-22 0-22 1-20 0-21 0-21 0-21 0-21 0-23 0-23-1-26 0-28 0-31 0-36-1-43 0-51-1-51-3-12-10-2-11 5-11 11-11 12-10 12-9 13-8 14-8 15-7 16-7 16-6 16-6 18-6 18-5 20-5 20-4 21-4 22-3 22-3 23-2 24-2 23-1 24-2 24-1 25-1 25 0 27-1 27 0 29 1 28 2 28 2 28 3 24 6 24 6 24 5 24 6 15 8 14 8 15 8 15 9-5 9zM3784 1145l-9 9-8 9-8 9-20 7-20 7-19 6-20 7-24 4-24 5-25 4-31 0-28 0-26 1-24 0-23 0-21 0-21 0-21 0-21 0-21 0-21 0-23 0-23-1-26 0-28 0-31-1-35 0-42-1-51 0-49-3-12-11-2-11 5-11 11-10 12-10 13-9 12-8 14-8 15-7 15-7 16-6 17-6 17-5 18-5 19-5 20-4 21-4 21-3 23-3 22-2 23-2 23-2 24-1 24-1 25-1 25-1 27-1 27 0 29 1 28 2 29 2 29 3 27 4 23 6 23 7 23 6 23 6 11 9 10 9 11 9 10 9zM3817 1145l-13 10-13 9-12 9-13 9-22 7-22 7-23 6-22 7-28 4-27 4-34 0-31 0-27 0-26 1-24 0-23 0-23 0-22 0-22 0-23 0-23 0-24-1-25 0-28 0-30 0-34 0-39-1-47 0-56 0-55-4-12-11-2-12 7-12 13-11 14-11 15-10 14-9 15-8 17-7 17-8 17-6 18-7 18-6 20-5 20-5 22-4 22-4 23-4 24-3 24-2 24-2 25-2 25-2 26-1 26-1 28-1 28 0 30 0 30 0 31 2 31 2 30 4 29 5 28 5 22 7 23 8 22 7 23 8 6 10 6 10 6 10zM3722 1145l-9 7-9 8-10 7-9 7-17 5-17 5-17 5-17 6-21 3-21 3-25 1-23 0-21 1-20 0-19 1-19 0-18 0-18 0-18 0-18 0-19 0-19 0-21-1-21 0-24 0-26-1-29-1-34-1-41-1-40-2-11-9-4-9 3-9 7-9 8-8 9-8 10-7 11-7 12-6 13-6 14-5 14-5 16-5 16-5 17-4 17-3 19-4 19-2 19-2 20-2 20-2 20-1 20-1 21-1 21-1 22 0 22 0 23 0 23 1 24 2 24 2 23 3 21 4 21 4 17 5 17 6 17 6 17 6 4 8 5 7 5 8zM3769 1145l-8 9-8 8-8 9-19 6-19 7-18 6-19 7-24 4-23 4-24 4-30 1-26 0-25 0-23 1-22 0-21 0-20 0-20 0-20 0-20 0-21 0-22 0-23-1-25 0-27 0-30-1-34 0-40-1-49 0-48-3-12-10-3-11 4-10 11-11 11-9 11-9 12-8 13-7 15-7 15-7 15-6 16-6 17-5 18-5 18-5 20-4 20-4 22-3 22-3 22-2 22-2 23-1 23-2 24-1 24-1 25 0 26-1 27 0 27 1 28 2 28 2 27 3 27 4 22 6 22 6 22 7 22 6 10 8 9 9 10 9 10 8zM3746 1145l-3 8-4 9-16 7-15 6-16 7-16 7-21 4-22 5-21 4-21 4-29 1-25 0-23 1-22 0-21 0-20 1-20 0-19 0-19 0-20 0-20 0-21 0-23-1-23 0-26 0-29-1-33 0-39-1-46-1-46-3-12-9-3-10 4-10 9-10 11-9 11-9 11-7 13-8 13-7 15-6 15-6 16-6 16-5 18-5 18-4 19-4 20-3 20-3 21-3 22-2 22-2 21-1 22-1 23-1 23-1 24 0 24-1 25 1 26 0 26 2 26 2 26 3 22 5 22 6 22 5 22 5 13 7 14 8 13 8 14 7-4 9zM3746 1145l-10 8-10 8-10 7-10 8-18 6-19 5-18 6-18 5-23 4-23 3-27 1-25 0-23 1-22 0-20 0-20 0-19 1-19 0-19 0-19-1-20 0-21 0-21 0-23-1-25 0-28-1-31 0-37-1-44-1-43-3-11-9-3-10 3-9 9-10 10-9 10-8 11-7 12-7 13-7 14-6 15-6 15-5 16-5 16-5 18-4 18-4 19-3 20-3 20-2 21-2 21-2 21-1 21-1 22-1 22-1 23-1 24 0 24 0 25 1 26 1 25 3 25 2 23 5 23 4 18 6 19 6 18 7 19 6 5 8 5 8 5 8zM3730 1145l-3 8-3 8-15 7-15 6-15 7-14 6-21 4-20 4-21 4-20 5-27 0-24 1-22 0-21 1-20 0-19 0-19 0-19 1-19 0-19 0-19-1-21 0-21 0-23 0-24-1-28 0-31-1-36-1-44-1-43-3-11-8-3-10 3-10 8-9 10-9 10-8 11-7 11-7 13-7 14-6 15-6 15-5 16-5 16-4 18-5 18-3 19-4 20-2 20-3 21-2 20-1 21-2 22-1 21-1 22 0 23-1 23 0 24 0 24 1 25 2 25 2 24 3 21 5 21 5 21 4 20 5 13 7 13 8 13 7 13 7-3 8zM3821 1145l-5 10-5 10-20 9-19 8-20 8-19 8-26 5-27 6-26 5-26 5-36 0-31 0-28 0-27 1-24 0-24 0-23 0-23 0-23 0-23 0-24 0-25 0-26 0-29 0-32 0-36 0-41-1-49 0-60 0-59-3-13-12-2-13 7-12 15-12 15-11 15-11 16-9 16-9 17-8 18-7 18-7 19-7 19-6 21-6 21-5 22-5 23-4 25-3 25-3 25-3 26-2 26-2 26-2 27-1 28-1 28-1 30 0 31 0 31 0 33 2 32 3 31 3 27 6 27 7 27 6 27 6 17 10 16 9 17 9 17 9-5 11zM3858 1145l-14 10-15 11-15 10-15 10-24 7-25 7-25 7-25 8-30 4-30 4-38 0-33 0-30 0-28 0-26 0-25 0-24 0-24 0-24 0-24 0-25 0-26 0-28 0-30 0-34 0-38 0-44 0-52 0-64 0-64-3-14-12-1-14 8-13 16-13 16-12 17-11 16-9 17-10 19-8 19-8 18-7 20-7 20-7 21-6 23-6 23-5 24-4 26-4 26-3 27-3 28-3 27-2 28-1 29-2 30-1 30-1 32-1 33 0 34 1 35 2 34 2 34 4 31 6 32 6 24 8 25 9 24 8 25 8 6 11 5 11 6 11zM3823 1145l-14 10-13 9-13 9-13 10-23 6-23 7-22 7-23 6-28 4-28 4-34 0-31 1-28 0-26 0-24 0-23 0-23 0-22 0-22 0-23 0-23 0-25 0-26 0-28 0-31 0-34 0-41 0-47-1-59 0-57-3-13-11-2-13 7-12 14-12 14-11 14-10 15-9 16-8 16-8 18-8 18-7 18-6 18-6 20-6 21-5 22-5 23-4 24-3 24-3 26-3 25-2 25-2 26-1 27-2 27-1 29-1 29 0 30 0 32 1 31 1 32 3 31 3 29 6 28 5 23 8 22 7 23 8 22 8 6 10 6 10 5 10zM3849 1145l-10 10-11 11-10 10-23 8-23 8-23 8-24 8-28 5-29 5-29 5-37 0-33 0-30 0-28 0-26 0-25 0-24 0-24 0-24 0-24 0-25 0-26 0-28 0-30 0-33 0-38 0-44 0-52 0-64 0-62-3-14-13-1-13 8-14 16-12 16-12 17-11 16-9 17-9 19-9 19-8 19-7 19-7 20-6 21-6 22-6 23-5 25-4 25-4 26-3 27-3 27-2 27-2 28-2 28-2 29-1 30-1 32 0 32-1 34 1 34 2 35 2 33 4 33 5 27 7 27 8 27 8 27 7 12 11 12 10 12 11 12 10zM3781 1145l-9 9-8 9-9 9-19 6-19 7-20 7-19 7-24 4-24 4-25 4-31 1-28 0-25 0-24 0-22 1-21 0-21 0-21 0-21 0-21 0-21 0-22-1-24 0-26 0-27 0-32-1-35 0-42-1-51 0-50-3-12-10-2-11 5-11 11-11 12-10 12-9 13-8 13-8 15-7 16-7 16-6 16-6 17-6 19-5 19-4 20-5 21-3 22-4 22-2 23-3 23-1 23-2 24-2 24-1 25-1 25 0 27-1 27 0 29 1 28 2 29 2 28 3 28 4 22 7 23 6 23 6 23 7 10 8 10 9 10 9 10 9zM3751 1145l1 9-14 7-13 8-14 7-13 7-20 6-20 5-19 5-20 5-27 3-29 0-25 1-24 0-22 0-21 1-20 0-20 0-19 0-19 0-20 0-20 0-21-1-22 0-24 0-26-1-29 0-32-1-39 0-46-1-45-3-11-9-3-10 3-11 10-9 10-9 11-9 11-7 12-8 14-7 14-6 15-6 16-5 16-6 17-4 18-5 19-4 20-3 20-3 21-3 22-2 21-2 22-1 22-1 23-2 23 0 24-1 25 0 25 0 26 1 27 1 26 2 26 4 23 4 23 5 22 5 17 7 17 7 17 7 17 8 0 8 1 9zM3852 1145l-6 11-6 11-21 9-21 9-21 8-22 9-28 5-28 6-29 5-28 6-38 0-34 0-30 0-28 0-27 0-25 0-24 0-24 0-24 0-24 0-26 0-26 0-28 0-31 0-34 0-38 0-45 0-53 0-66 0-64-3-14-13-1-13 8-14 16-13 17-12 17-11 17-10 17-9 19-8 19-8 19-8 20-7 20-7 22-6 22-5 24-6 24-4 26-4 27-3 27-3 28-2 28-3 28-1 29-2 30-1 31-1 32-1 33 0 35 1 35 2 35 2 34 4 29 7 29 7 29 7 30 6 17 11 18 10 17 10 18 10-6 11zM3855 1145l-11 10-11 11-11 11-24 8-23 8-24 8-23 8-29 4-29 5-30 5-37 0-34 0-30 0-28 0-26 0-25 0-24 0-24 0-24 0-24 0-25 0-26 0-28 0-30 0-34 0-38 0-44 0-52 0-65 0-64-3-13-12-2-14 8-13 16-13 16-12 17-11 16-9 17-10 19-8 19-8 19-8 19-7 20-6 21-6 23-6 23-5 25-5 25-4 27-3 27-3 27-2 28-2 28-2 29-1 30-2 31-1 32 0 33 0 34 0 35 2 35 3 34 3 34 5 27 8 27 8 27 8 28 7 11 11 12 11 12 10 12 11zM3622 1145l1 6-7 4-8 5-7 5-8 5-12 3-12 3-12 4-13 3-15 2-17 1-15 1-15 1-14 1-15 1-14 0-13 0-14 0-14 0-14 0-14 0-14-1-15 0-15-1-16-1-17-1-19-1-20-2-23-1-22-3-9-5-5-6-2-6 1-6 2-5 4-6 4-5 7-5 7-4 9-5 10-4 10-4 12-3 12-3 13-3 13-3 14-2 14-2 14-1 14-2 15-1 15 0 14-1 15 0 15 0 15 0 15 0 16 1 16 0 16 2 15 1 16 2 13 3 14 3 14 3 10 5 10 4 11 4 10 5 1 5 1 5zM3585 1145l-2 5-3 4-6 4-6 4-8 3-9 3-10 3-11 3-10 2-12 2-13 1-12 1-12 1-12 1-12 1-12 0-11 0-12 1-12-1-11 0-12 0-12-1-12-1-12 0-12-2-13-1-13-2-13-1-14-2-13-3-8-4-6-4-5-4-2-4-1-4 1-5 2-4 4-4 5-4 6-3 8-4 8-3 10-3 10-3 10-2 12-2 11-2 12-1 12-2 11-1 13 0 12-1 12 0 12-1 12 0 13 0 12 1 13 0 12 1 13 1 12 2 12 2 12 2 12 2 10 3 10 3 9 3 7 4 7 4 4 4 2 4zM3572 1145l-1 4-3 4-4 4-6 4-7 3-8 3-10 3-9 2-11 2-11 2-11 2-12 1-11 1-11 1-11 0-12 1-11 0-11 0-11 0-11-1-11 0-11-1-12-1-11-1-11-1-11-1-10-2-11-2-11-2-9-3-8-3-6-4-5-3-3-4-1-4-1-4 2-3 3-4 4-4 6-3 7-3 8-3 8-3 10-2 9-2 10-2 11-2 11-1 10-1 11-1 11-1 11 0 11-1 11 0 11 0 11 0 11 1 12 0 11 1 11 1 12 1 11 2 11 2 10 2 10 2 9 3 9 3 7 3 6 4 4 4 3 3zM3607 1145l-2 5-3 5-6 4-8 5-9 4-10 3-11 4-12 3-12 2-14 2-15 1-14 2-14 0-13 1-13 1-13 0-13 0-13 0-13 0-13 0-13 0-13-1-13-1-14-1-14-1-14-1-16-2-16-1-18-2-17-3-8-4-5-5-3-5-1-5 1-5 2-5 4-4 5-5 6-4 8-4 8-3 10-4 10-3 11-3 11-2 12-3 13-2 12-1 13-1 13-2 13 0 13-1 13-1 13 0 13 0 14 0 14 0 13 1 14 0 15 2 14 1 13 2 14 2 13 3 12 3 11 3 11 4 9 4 7 4 5 5 3 5zM3623 1145l-4 5-3 6-4 5-11 4-10 4-11 4-10 4-14 3-14 2-14 3-16 1-16 1-15 1-14 1-14 0-14 1-13 0-14 0-14 0-13 0-14-1-14 0-15-1-15-1-15-1-17-1-17-1-19-2-22-2-21-2-8-5-6-6-2-5 1-6 1-5 4-6 4-5 6-4 7-5 8-4 10-4 10-4 11-4 12-3 12-3 13-2 14-2 13-2 14-2 14-1 15-1 14-1 14 0 15-1 15 0 15 0 15 0 16 1 15 1 16 1 16 1 15 2 15 3 13 3 13 4 13 4 12 3 7 5 6 5 6 5 6 5zM3602 1145l-2 5-4 5-5 4-8 4-8 4-10 4-11 3-11 3-12 2-14 2-14 1-14 2-13 0-13 1-13 1-13 0-12 0-13 0-12 0-13 0-13-1-12 0-13-1-13-1-14-1-13-1-15-2-15-2-16-2-15-3-8-4-5-4-3-5-1-4 0-5 1-5 3-4 5-4 6-4 7-4 8-4 9-3 10-3 11-3 11-2 11-2 12-2 12-2 12-1 13-1 12-1 13-1 12 0 13 0 13-1 13 0 13 1 13 0 14 1 14 1 13 1 14 2 13 2 12 3 12 3 11 3 10 3 9 4 7 5 5 4 3 5zM3595 1145l-2 5-4 4-5 5-8 4-8 3-10 4-10 3-11 2-12 3-13 2-13 1-13 1-13 1-12 1-13 0-12 1-12 0-12 0-12 0-12 0-12-1-13 0-12-1-13-1-13-1-13-2-14-1-14-2-15-2-15-3-8-3-6-5-4-4-2-5 0-4 1-5 3-4 4-4 5-4 7-4 8-4 9-3 10-3 10-3 11-2 11-2 12-2 12-2 12-1 13-1 12-1 13-1 12 0 13 0 13 0 13 0 13 0 13 1 13 0 14 2 13 1 13 2 12 2 12 2 11 3 11 3 10 4 8 4 6 4 5 4 2 5zM3609 1145l-2 5-4 5-6 5-8 4-9 4-10 3-12 4-12 3-12 2-14 2-15 1-14 1-14 1-13 1-13 1-13 0-13 0-13 0-13 0-13 0-13 0-13-1-13-1-14 0-14-2-15-1-16-1-16-2-19-2-17-3-9-4-5-5-4-5 0-5 1-5 2-5 3-4 5-5 7-4 7-4 9-4 9-3 11-4 11-3 11-2 13-3 12-2 13-1 13-2 13-1 14-1 13 0 13-1 14 0 14 0 14 0 14 0 14 0 14 1 15 1 14 2 14 2 14 2 13 3 12 3 11 3 11 4 9 4 7 5 5 5 2 4zM3599 1145l-2 5-4 5-6 4-7 4-9 4-10 3-11 3-11 3-12 2-13 2-14 1-13 1-13 1-13 1-12 1-13 0-12 0-12 0-12 0-12 0-12-1-13 0-12-1-13-1-12-1-13-2-14-1-14-2-15-2-14-3-8-4-6-4-3-4-2-5-1-4 1-5 3-4 4-4 5-4 7-4 7-3 9-4 9-3 11-2 10-3 12-2 11-2 12-2 12-1 13-1 12-1 13-1 12 0 13-1 13 0 13 0 13 1 14 0 13 1 14 1 13 1 14 2 13 2 12 3 11 3 11 3 11 3 8 4 7 5 4 4 3 5zM3604 1145l-2 5-3 5-6 4-7 4-9 4-10 4-11 3-12 3-12 3-13 2-15 1-14 1-13 1-13 1-14 0-12 1-13 0-13 0-13 0-13 0-13 0-13-1-13-1-14 0-14-2-15-1-16-1-17-2-18-2-18-2-8-5-6-5-3-5 0-5 1-5 2-5 4-4 5-5 6-4 8-4 9-4 9-3 11-3 11-3 12-3 12-2 12-2 13-2 13-1 13-1 13-1 13-1 14 0 13 0 13 0 14 0 14 0 14 1 13 0 14 2 14 1 14 2 13 2 13 3 11 3 12 3 10 4 8 4 7 4 5 5 3 5zM3588 1145l-1 5-4 4-5 4-7 4-8 4-9 3-10 3-11 2-11 3-12 2-13 1-13 1-12 1-12 1-12 1-12 0-12 0-12 0-12 0-12 0-12 0-12-1-12-1-13-1-12-1-13-1-13-2-14-2-15-2-14-2-8-4-6-4-4-4-2-5-1-4 1-5 3-4 4-4 5-4 7-4 8-3 8-3 10-3 10-3 11-2 11-3 12-1 12-2 12-1 12-1 12-1 12-1 13 0 12 0 12 0 13 0 13 0 12 1 13 1 13 1 13 1 12 2 12 2 12 2 10 3 11 3 9 4 8 3 6 4 5 5 2 4zM3572 1145l-1 4-2 4-5 4-5 4-7 3-9 3-9 3-9 2-11 3-11 2-11 1-12 1-11 1-12 1-11 1-11 0-12 0-11 1-11 0-12-1-11 0-12-1-11-1-12-1-12-1-11-1-12-2-12-2-13-2-11-2-8-4-6-4-4-3-3-5-1-4 0-4 2-4 4-3 5-4 6-4 7-3 9-3 9-3 10-2 10-2 10-2 11-2 11-1 12-1 11-1 11-1 11 0 12 0 11-1 11 0 12 1 11 0 11 1 12 1 11 1 11 1 11 2 11 1 11 3 9 2 10 3 8 3 7 3 6 4 5 4 2 3zM3607 1145l-3 5-4 5-6 4-7 5-9 3-11 4-11 3-11 3-12 3-14 2-15 1-14 1-13 1-14 1-13 0-13 1-12 0-13 0-13 0-12 0-13-1-13 0-14-1-13-1-14-1-15-1-15-2-17-1-18-2-17-3-9-4-5-5-3-5-1-5 0-5 2-5 4-4 5-5 6-4 7-4 9-4 9-3 11-3 11-3 11-3 12-2 13-2 13-2 13-1 13-1 13-1 13-1 14-1 13 0 14 0 13 0 14 0 14 1 15 1 14 1 14 1 14 2 14 3 12 2 12 3 11 4 11 4 8 4 7 4 5 5 3 5zM3613 1145l-2 5-4 5-6 5-9 4-9 4-11 4-11 3-12 3-12 3-15 2-15 1-15 1-14 1-13 1-14 0-13 1-13 0-13 0-13 0-13 0-14 0-13-1-14-1-14 0-15-1-16-2-16-1-18-2-20-1-20-3-9-5-5-5-3-5 0-5 1-6 3-5 4-4 5-5 7-5 8-4 9-4 10-3 10-4 12-3 12-2 13-3 13-2 13-2 14-1 13-1 14-1 14-1 14 0 14-1 14 0 15 0 14 0 15 1 15 1 15 1 14 2 15 2 14 2 13 3 12 3 12 4 11 4 8 4 7 5 5 4 3 5z" stroke="#ff0000" stroke-width="2.6" fill="none" stroke-linejoin="round"/>
<path transform="scale(0.5)" d="M3658 1305l1 6-1 6-7 6-10 5-11 5-14 5-15 4-15 4-17 3-17 2-17 2-18 2-18 1-17 0-18 0-16 0-16 0-16 0-15-1-15-1-15-2-14-1-14-1-14-2-14-2-13-2-13-3-12-3-12-3-12-3-12-4-11-4-11-4-10-5-9-5-9-5-8-6-7-6-5-7-2-7 0-7 8-6 29-3 32-1 27 0 23-1 20 0 18 0 17-1 16 0 15 0 14 0 14 0 14 0 14 0 14 0 14 0 15 0 16 0 17 1 18 0 20 0 20 2 14 3 14 4 14 4 12 4 12 5 10 5 9 5 5 6zM3675 1305l2 7 0 6-5 7-9 6-10 6-13 5-14 5-15 5-17 4-17 4-19 3-20 2-20 2-21 1-21 1-21 0-20-1-19 0-19-1-18-2-18-2-16-2-17-2-16-3-15-2-14-4-13-3-12-4-12-4-11-4-11-4-10-5-11-5-9-5-10-5-9-6-10-6-9-7-7-7-5-8-3-9 5-8 30-3 35-1 29-1 25-1 23-1 21-1 19-1 19 0 17-1 18 0 17-1 17 0 17 0 17 1 18 0 17 1 19 0 19 1 21 1 23 1 21 2 14 4 13 5 13 5 12 5 10 6 9 5 8 6 5 7z" fill="#ff0000" fill-rule="evenodd" stroke="none"/>
<path transform="scale(0.5)" d="M3766 1305l-1 9-1 9 0 9-19 7-18 7-18 7-18 7-25 4-24 5-25 5-25 3-27 2-26 1-27 1-25 0-25-1-23-1-23 0-22-1-22-2-20-2-21-3-20-2-20-2-20-3-19-3-17-4-18-4-17-5-16-5-17-5-17-5-16-6-15-7-15-7-14-8-14-9-13-9-9-10-6-10-2-11 10-10 47-4 51 0 41 0 35 0 30-1 27 0 25 0 23 0 21 0 20 0 20 0 20 0 20 0 20 0 20 0 22 0 22 0 25 0 27 0 31 0 30 2 20 6 19 5 20 6 20 6 14 7 13 8 14 8 13 7zM3833 1306l9 10-12 10-13 9-12 10-13 10-26 7-27 7-27 6-26 7-30 5-31 3-31 3-32 2-31 0-31 0-29-1-28 0-27-1-27-1-25-3-25-2-24-3-24-2-24-3-24-3-23-4-21-5-21-5-20-5-20-6-21-6-20-7-20-7-20-8-18-9-19-9-18-10-17-12-13-12-8-13-4-14 12-12 58-4 64 0 52 0 43 0 38 0 33 0 30 0 28 0 26 0 25 0 23 0 24 0 23 0 24 0 25 0 25 0 28 1 29 0 33 0 37 0 28 5 28 5 28 4 20 8 21 8 21 8 21 8 9 10 8 10zM3826 1306l5 10 5 10-18 9-18 9-18 9-18 9-28 6-28 6-28 6-28 5-30 4-31 3-31 1-31 1-30-1-29 0-27-1-27-1-26-1-25-3-24-2-23-3-24-2-23-3-23-4-21-4-21-4-20-5-19-5-19-6-20-6-19-6-19-7-18-8-18-8-17-9-17-10-16-11-12-11-7-13-3-13 11-12 55-4 61 0 49 0 41 0 36 0 32 0 28 0 27 0 24 0 24 0 23 0 23 0 23 0 23 0 24 0 25 0 26 0 29 0 32 0 36 0 27 5 27 5 26 5 27 5 19 9 19 8 19 8 18 9 5 10zM3737 1305l-5 8-5 8-5 7-5 8-19 6-18 6-19 6-19 5-22 4-23 4-23 3-23 2-24 1-24 0-23 0-22 0-21-1-21 0-20-1-20-2-19-2-18-1-19-2-18-3-18-2-17-3-17-4-16-3-15-5-16-4-15-5-16-5-14-5-14-6-14-7-13-7-12-8-11-8-9-9-5-10-1-10 10-9 41-3 46-1 38 0 31 0 28 0 25-1 22 0 21 0 20 0 19 0 18 0 18 0 18 0 18 0 19 0 20 0 21 0 22 1 25 0 27 0 23 3 23 3 17 6 17 5 17 6 17 6 9 7 9 7 10 8zM3743 1305l-5 8-6 8-5 8-6 8-19 6-19 5-19 6-19 6-23 4-23 3-24 3-24 2-24 1-24 1-23-1-22 0-21-1-21 0-20-1-20-2-18-2-19-2-18-2-18-2-18-2-18-3-16-4-16-4-15-4-16-4-15-5-15-5-15-5-14-6-14-7-13-7-13-8-11-8-9-9-5-10-2-10 9-9 42-3 46-1 37 0 32-1 28 0 25 0 22 0 21-1 20 0 19 0 19 0 18 0 18 0 19 0 19 0 20 0 21 0 23 0 26 1 28 0 23 3 23 3 18 6 17 6 17 5 18 6 9 7 9 8 10 7zM3712 1305l2 7-1 8-8 7-12 7-14 6-17 6-18 5-20 4-20 4-21 3-22 2-21 2-22 1-22 1-21 0-21-1-19 0-19-1-18-1-18-1-17-2-17-2-17-2-16-2-17-2-15-3-15-3-14-4-14-3-14-4-14-5-13-4-13-5-12-6-12-6-11-6-11-7-9-7-7-8-3-9-1-9 9-8 36-3 40 0 32-1 28 0 25 0 22-1 20 0 18 0 18 0 17 0 17-1 16 0 16 0 17 0 17 0 18 0 19 1 21 0 22 0 25 0 25 2 17 4 17 4 17 5 16 5 14 6 13 6 11 7 7 7zM3829 1305l5 11 5 10-19 9-18 9-18 10-18 9-29 5-28 6-28 6-28 6-30 3-31 3-32 1-31 1-30 0-29-1-27-1-27-1-26-1-25-2-24-3-24-2-24-3-23-3-23-3-22-4-21-4-20-5-20-6-19-5-20-6-20-7-19-7-19-7-18-9-18-9-17-10-17-11-12-12-8-13-4-13 12-12 56-4 62 0 50 0 42 0 36 0 33 0 29 0 27 0 25 0 24 0 24 0 23 0 23 0 24 0 24 0 25 0 27 0 29 0 33 0 36 0 27 5 27 5 26 6 27 5 19 8 19 9 19 8 18 9 5 10zM3716 1305l0 8-1 7-1 8-15 6-16 6-16 6-15 6-21 4-21 4-21 4-22 3-23 2-22 1-23 0-22 0-21 0-20-1-20 0-19-1-19-2-18-1-18-2-17-2-18-2-17-3-17-2-15-4-16-3-15-4-14-4-15-5-14-5-14-5-13-6-13-6-12-7-11-7-11-8-7-9-4-9-1-9 9-9 39-3 43 0 36-1 29 0 27 0 23 0 21-1 20 0 19 0 17 0 18 0 17 0 17 0 18 0 17 0 19 0 20 0 21 1 23 0 26 0 26 2 17 5 17 4 17 5 17 5 11 7 12 6 11 7 12 6zM3849 1305l5 11 5 11-20 10-19 9-19 10-20 9-29 6-30 6-29 6-30 6-32 4-32 2-33 2-32 0-32 0-30-1-28-1-28-1-27-1-26-2-25-3-24-3-24-3-24-3-24-3-22-4-22-5-20-5-21-5-20-6-20-6-20-7-20-7-19-8-19-9-19-9-18-10-17-12-14-12-8-13-4-14 11-13 58-4 64 0 52 0 43 0 38 0 33 0 31 0 27 0 27 0 25 0 24 0 24 0 24 0 24-1 26 0 26 0 28 0 31 0 34 0 39 0 28 6 28 5 28 6 28 5 19 9 20 9 20 9 20 9 5 11zM3681 1305l2 7-1 6-7 7-11 6-13 5-15 5-16 5-18 4-18 3-19 3-19 2-20 2-19 1-20 0-19 0-18 0-17-1-17 0-16-1-16-1-16-2-15-2-15-1-15-2-14-2-14-3-14-2-13-4-12-3-13-4-12-3-12-5-11-4-11-5-10-5-9-6-9-6-7-7-6-7-2-7 0-8 8-7 31-3 34 0 29-1 24 0 22-1 19 0 18 0 16-1 16 0 15 0 15 0 15 0 15 0 15 0 15 0 16 0 17 0 19 0 20 0 22 1 22 1 16 4 15 4 15 4 14 5 13 5 11 5 10 6 7 6zM3842 1306l5 10 5 11-18 9-19 10-18 9-19 10-29 6-29 6-29 6-28 6-32 4-32 3-32 1-33 1-31 0-30-1-29-1-28-1-27-1-27-2-25-3-25-2-25-3-25-3-24-3-23-5-22-4-21-5-21-6-21-6-20-6-21-7-21-7-19-8-19-9-19-10-19-11-17-11-13-13-9-13-3-14 12-13 60-4 65 0 54 0 44 0 38 0 34 1 31 0 28 0 27 0 25 0 24 0 24 0 24 0 24 0 25 0 26 0 28 0 30 0 33 0 38 0 27 6 28 5 27 6 28 5 19 9 20 9 19 8 20 9 5 11zM3724 1305l-5 7-5 8-5 7-5 8-18 5-18 6-17 5-18 6-22 4-21 3-23 3-22 2-23 1-23 0-22 0-21 0-20-1-20 0-19-1-19-2-18-1-18-2-17-2-18-2-17-3-16-3-16-3-15-3-15-4-15-5-14-4-15-5-14-5-13-6-12-6-13-7-11-7-11-8-7-9-4-9-1-9 9-9 39-3 43 0 35-1 30 0 26-1 23 0 22 0 20 0 18 0 18 0 18 0 17 0 17 0 18 0 18 0 19 0 20 0 21 0 23 0 27 1 22 3 21 3 17 5 16 5 17 5 16 6 9 7 9 7 9 7zM3715 1305l1 8 0 7-9 7-12 7-15 6-16 6-19 5-19 4-21 4-21 3-22 3-22 1-22 2-22 0-21 0-20 0-20-1-19-1-18-1-18-1-18-2-17-2-16-1-17-2-17-3-15-3-15-3-15-3-14-4-14-4-14-4-13-5-14-5-12-6-12-6-11-6-11-7-10-8-7-8-4-8 0-9 8-8 37-3 40-1 34 0 28-1 25 0 22 0 20-1 19 0 18 0 18 0 16 0 17 0 17 0 17 0 17 0 18 0 19 0 21 0 23 0 25 0 25 2 18 4 17 5 16 4 16 6 14 6 13 6 11 7 7 7zM3683 1305l1 7-1 6-8 7-11 6-13 5-15 5-17 5-17 4-19 3-18 3-19 2-20 2-19 1-20 0-18 0-19 0-17-1-17 0-17-1-16-1-15-1-16-2-15-1-16-2-15-2-14-3-14-2-14-4-13-3-14-4-13-3-13-5-12-4-12-5-11-6-10-6-10-7-9-7-7-7-3-8-1-8 8-8 34-3 37 0 30-1 26 0 23-1 21 0 19 0 18 0 17-1 16 0 15 0 16 0 16 0 15 0 16 1 17 0 18 0 19 0 20 1 23 0 22 2 16 3 15 5 15 4 14 5 12 5 11 6 9 6 6 6zM3809 1305l9 10-12 9-11 10-12 9-12 9-25 7-25 6-25 6-25 7-29 4-29 3-29 3-30 1-30 1-29 0-27-1-26-1-26-1-25-1-24-2-23-2-23-3-22-2-22-3-22-3-21-4-20-4-19-5-19-5-18-5-19-6-19-6-18-7-17-7-17-8-17-9-16-10-15-10-11-11-7-12-2-12 10-12 53-4 58 0 47 0 40 0 34 0 30 0 28 0 25 0 24 0 23 0 22 0 22 0 22 0 22 0 23 0 24 0 25 0 28 0 31 0 34 0 26 4 27 5 26 4 20 8 20 7 20 7 20 8 8 9 9 10zM3742 1305l0 8-1 9 0 8-17 6-17 7-17 7-18 6-22 5-23 4-23 4-24 3-24 2-25 1-25 1-24 0-23-1-22 0-21-1-21-1-20-2-19-2-20-2-19-2-19-2-18-2-18-4-17-3-16-4-16-4-16-5-15-5-16-5-15-6-14-6-14-7-13-7-13-8-11-9-9-9-4-10-2-10 10-9 43-3 47-1 38 0 33 0 28-1 25 0 23 0 22 0 20 0 19 0 19 0 18 0 18 0 19 0 19 0 20 0 22 0 23 0 25 0 28 1 28 1 19 5 18 6 19 5 18 5 13 7 13 7 12 8 13 7zM3771 1305l-1 9 0 9 0 9-19 7-18 7-19 8-18 7-25 5-25 4-25 5-26 3-27 2-27 2-27 0-26 0-25-1-24 0-23-1-23-1-21-2-21-2-21-3-20-2-21-2-20-3-19-4-18-4-17-4-17-4-17-5-16-6-17-5-16-6-15-7-15-7-14-8-14-9-13-9-9-10-6-10-1-11 10-11 46-3 51 0 42 0 35-1 31 0 27 0 24 0 23 0 22 0 20 0 20 0 20 0 20 0 20 0 20 0 22 0 23 0 25 0 27 0 31 0 31 1 20 6 20 6 20 5 21 6 14 8 13 8 14 7 14 8zM3736 1305l-1 8-1 8-1 8-17 7-16 6-17 7-17 6-23 4-22 4-22 4-24 3-23 2-25 1-23 1-24 0-22-1-21 0-21-1-20-1-20-1-19-2-18-2-19-2-18-2-19-3-17-3-17-3-16-4-16-4-15-5-16-4-15-5-15-6-15-6-13-7-14-7-13-8-11-8-9-10-5-9-2-11 9-9 43-3 46 0 38-1 32 0 29 0 25-1 23 0 21 0 20 0 19 0 19 0 18 0 18 0 19 0 19 0 20 0 21 0 23 1 25 0 28 0 28 2 18 5 18 5 18 5 18 6 12 7 12 7 12 7 12 7zM3822 1306l8 9-12 10-12 10-12 9-12 10-26 6-25 7-26 7-26 6-29 5-30 3-31 3-30 1-31 1-30 0-28-1-28-1-26 0-26-2-25-2-24-2-23-3-24-2-23-3-23-3-22-4-21-5-20-5-20-5-19-5-20-6-19-7-19-7-19-8-18-8-18-9-17-10-16-11-12-12-8-12-3-13 12-12 56-4 61 0 50 0 42 0 36 0 32 0 29 0 26 0 25 0 24 0 23 0 23 0 23 0 23 0 23 0 25 0 27 0 28 0 32 0 36 0 27 5 27 5 27 4 21 8 20 8 20 7 21 8 8 10 9 10zM3782 1305l-6 9-5 9-6 9-6 9-21 6-21 7-21 6-21 7-26 4-26 5-26 3-27 2-27 2-28 0-26 0-25-1-25 0-23-1-23-1-22-2-21-2-21-2-21-3-21-2-20-3-20-4-18-3-18-5-18-4-17-5-17-6-17-5-17-7-16-7-16-7-15-8-15-9-13-9-10-11-6-11-2-11 10-11 49-3 53 0 43-1 36 0 32 0 28 0 25 0 24 0 22 0 21 0 21 0 20 0 20 0 21 0 21 0 22 0 24 0 25 0 28 0 32 0 26 4 26 3 19 7 19 6 20 6 19 6 11 9 11 8 11 9zM3821 1305l-7 10-6 10-6 10-7 9-23 8-23 7-24 7-23 7-29 5-28 5-30 3-29 3-31 1-30 1-29 0-28-1-26-1-26-1-25-1-24-2-24-2-23-3-22-2-23-3-22-3-21-4-21-5-19-4-19-5-19-6-19-6-19-6-18-7-18-7-17-8-17-9-17-10-15-10-12-12-8-12-2-13 11-11 53-4 59 0 48 0 41 0 35 0 31 0 28 0 26-1 24 0 23 0 23 0 22 0 22 0 23 0 23 0 25 0 25 0 29 0 31 0 35 1 29 3 28 4 22 7 21 7 22 7 21 7 12 9 12 9 12 10zM3725 1305l3 8 4 8-14 7-13 7-14 6-14 7-21 4-21 5-21 4-21 4-22 3-23 2-24 1-23 1-22 0-22-1-21 0-20-1-20-1-19-1-18-2-18-2-18-2-18-2-18-3-16-2-16-4-16-4-15-4-15-4-15-4-15-5-14-6-14-6-13-6-12-7-12-8-11-8-8-9-4-9-1-9 9-9 40-3 44-1 36 0 31 0 27-1 24 0 22 0 20 0 19 0 19-1 17 0 18 0 18 0 18 0 18 1 19 0 20 0 22 0 24 0 27 0 20 4 20 4 20 4 20 4 14 7 14 6 14 6 15 7 3 8zM3809 1306l8 9-11 9-12 10-11 9-12 9-25 7-25 6-25 7-25 6-28 4-29 4-30 2-30 2-29 0-29 0-28-1-26 0-26-1-25-1-24-2-23-3-23-2-23-3-22-3-22-3-21-4-20-4-19-5-19-5-18-5-19-6-18-6-19-7-17-7-17-8-16-9-16-10-15-10-11-11-7-12-2-12 11-12 53-3 58-1 47 0 39 0 35 0 30 0 27 0 26 0 24 0 22 0 22 0 22 0 22 0 22 0 23 0 23 0 26 0 27 0 31 0 34 0 26 5 27 4 26 5 20 7 20 7 20 8 20 7 8 9 9 10zM3693 1305l1 7-1 7-8 7-11 6-14 6-16 5-17 4-18 4-19 4-19 3-20 2-20 2-21 1-20 0-19 0-19 0-18 0-18-1-17-1-17-1-16-2-16-1-16-2-16-2-15-2-15-2-15-3-13-4-14-3-13-4-14-4-13-4-12-5-12-5-12-6-10-6-10-7-10-7-6-8-4-8 0-8 8-8 35-3 37 0 32-1 27 0 23-1 21 0 20 0 18 0 17 0 16-1 16 0 16 0 16 0 16 0 16 0 17 1 19 0 19 0 21 0 24 1 23 1 16 4 16 4 15 5 15 5 13 5 11 6 10 7 6 6zM3837 1305l-1 11-1 10-1 11-22 9-22 8-22 8-22 9-30 5-29 6-29 5-31 4-32 3-32 1-31 1-31 0-29-1-29-1-27-1-27-1-25-2-25-3-24-2-25-3-24-3-23-3-23-4-21-5-21-5-21-5-20-6-20-6-21-7-20-7-19-8-19-9-19-9-18-10-17-12-13-12-9-13-3-14 11-13 59-4 64 0 52 0 43 0 38 0 33 0 30 0 28 0 26 0 25 1 24 0 24 0 24 0 24 0 25 0 25 0 28 0 30 0 33 0 37 0 37 2 24 7 23 7 24 7 23 6 16 10 17 9 16 9 16 9zM3687 1305l2 7 0 7-8 6-11 6-13 6-15 5-17 5-17 4-19 3-19 3-20 3-20 1-20 1-20 1-20 0-18 0-18-1-18 0-17-1-17-2-16-1-15-2-16-1-15-2-16-2-14-3-14-3-14-3-13-4-12-3-13-4-13-5-11-4-12-6-10-5-10-6-9-6-8-7-6-8-3-7 0-8 9-8 33-2 36-1 30-1 25 0 23 0 20-1 18 0 17 0 17 0 16 0 15 0 15-1 15 0 16 0 15 1 17 0 17 0 19 0 21 0 22 1 23 1 16 4 15 4 16 4 14 5 13 5 12 6 10 6 7 6zM3769 1305l4 9 4 9-15 8-15 8-16 8-15 7-24 5-24 5-24 5-24 5-26 4-27 2-27 1-26 1-26 0-25-1-24 0-23-1-23-1-21-2-21-2-21-2-21-3-20-2-20-3-19-3-19-4-17-5-17-4-17-5-18-5-16-6-17-6-16-7-15-7-15-8-14-9-13-9-10-10-5-11-2-11 10-11 47-3 52 0 43 0 36-1 31 0 27 0 25 0 23 0 22 0 21 0 20 0 20 0 20 0 20 0 21 0 22 0 23 0 25 0 27 1 31 0 23 4 22 5 23 4 23 5 16 7 17 7 16 7 16 8 4 9zM3709 1305l3 8 3 7-12 7-13 6-13 6-13 7-20 4-20 4-20 4-20 4-21 3-22 2-22 1-22 0-22 0-20 0-20 0-19-1-19-1-18-1-17-2-18-2-17-2-17-2-17-2-16-3-15-3-15-3-15-4-14-4-14-5-14-4-14-6-13-5-12-6-12-7-11-7-10-8-7-8-4-9 0-9 8-9 38-3 42 0 34 0 29-1 26 0 22 0 21 0 19-1 19 0 17 0 17 0 17 0 17 0 17 0 17 0 19 0 19 1 21 0 22 0 26 0 19 4 19 4 19 4 19 3 13 6 13 7 14 6 13 6 3 7zM3722 1305l-5 7-5 8-5 7-5 8-17 5-18 6-17 5-18 6-21 3-22 4-22 3-22 2-23 1-23 0-22 0-21 0-20-1-20 0-19-1-19-1-18-2-18-2-17-2-18-2-17-2-17-3-16-4-15-3-15-4-15-4-14-5-15-5-14-5-13-6-13-6-12-7-11-7-11-8-7-9-4-9-1-10 9-8 39-3 43-1 36 0 30 0 26 0 23-1 22 0 20 0 18 0 18 0 18 0 17 0 17 0 18 0 18 0 18 0 20 0 21 0 24 1 26 0 21 3 22 3 16 5 16 5 17 6 16 5 9 7 9 7 9 7zM3755 1305l0 9 0 8-1 9-17 7-18 7-17 7-18 7-24 4-23 5-24 4-25 3-26 2-25 2-26 0-25 0-24 0-24-1-22 0-22-2-21-1-20-2-20-2-20-3-20-2-20-3-18-3-18-4-17-4-16-5-17-4-16-5-16-6-16-6-14-6-15-7-13-8-14-8-12-9-8-10-5-10-2-11 11-10 45-3 49 0 40 0 34 0 30-1 26 0 24 0 22 0 21 0 20 0 19 0 19 0 19 0 19 0 20 0 21 0 22 0 24 0 26 1 29 0 29 1 19 6 20 5 19 5 19 6 13 7 14 8 13 7 13 8zM3681 1305l1 7-1 6-7 7-11 6-13 5-14 5-17 5-17 4-18 3-19 3-19 2-19 2-20 1-19 0-19 0-18 0-18 0-17-1-17-1-16-1-16-1-15-2-15-1-16-2-15-2-14-3-14-3-13-3-13-3-13-4-13-4-12-4-12-5-11-5-11-5-10-6-9-6-8-7-6-8-3-7 0-8 8-8 33-2 36-1 29 0 26-1 22 0 20 0 19-1 17 0 16 0 16 0 15 0 15 0 15 0 15 0 16 0 16 0 17 0 19 1 20 0 22 0 22 2 16 3 15 4 15 5 14 4 12 6 12 5 9 6 6 6zM3734 1305l-5 8-5 7-5 8-6 8-18 6-18 5-19 6-18 6-23 3-22 4-23 3-23 2-24 1-23 0-23 0-22 0-21-1-20-1-20-1-19-1-18-2-18-2-18-2-18-2-18-2-17-3-15-4-16-4-15-4-15-4-15-4-14-5-15-6-13-6-13-6-12-7-12-8-11-8-8-8-4-10-1-9 9-9 40-3 44-1 36 0 30 0 27-1 24 0 22 0 20 0 19 0 18-1 18 0 18 0 18 0 18 0 18 0 19 0 21 0 22 1 24 0 27 0 23 3 23 3 17 5 17 6 16 5 17 6 10 7 9 7 10 8zM3711 1305l0 8-1 7 0 7-16 6-15 6-15 6-16 6-20 4-21 4-20 4-22 3-22 2-23 1-22 0-22 0-20 0-21 0-19-1-19-1-18-1-18-2-18-2-17-2-17-2-17-2-16-3-16-3-15-4-14-4-14-4-15-5-14-4-13-6-13-5-12-6-11-7-11-7-10-8-7-8-3-9-1-9 9-8 38-3 42-1 34 0 29 0 25-1 23 0 21 0 19 0 18 0 17-1 17 0 17 0 17 0 17 0 17 1 18 0 20 0 20 0 23 0 25 0 25 2 17 5 17 4 17 5 17 5 11 6 12 7 11 6 12 7zM3806 1305l5 10 4 10-17 9-17 8-17 9-17 9-27 5-26 6-27 5-26 6-29 3-29 3-30 1-29 0-29 0-27 0-27-1-25-1-25-1-24-2-23-2-22-3-23-2-22-3-22-3-21-4-20-4-20-5-18-5-19-5-19-6-19-6-18-7-17-7-18-8-16-9-17-10-15-10-11-11-7-12-3-13 11-11 53-4 58 0 48 0 40 0 34 0 31 0 27 0 26 0 24-1 23 0 22 0 22 0 22 1 22 0 23 0 24 0 25 0 28 0 30 0 35 0 25 5 25 5 25 5 25 5 18 8 18 8 18 8 18 8 5 10zM3817 1306l5 10 5 10-17 9-18 8-17 9-18 9-27 6-27 6-28 5-27 6-30 3-30 3-31 2-30 0-30 0-28-1-27-1-26-1-25-1-25-2-23-3-23-2-23-3-23-3-22-3-22-4-20-4-19-5-19-5-18-6-19-6-19-6-18-7-18-7-17-8-16-9-16-10-15-10-12-12-7-12-2-12 11-12 53-3 59 0 48-1 40 0 34 0 31 0 28 0 25 0 24 0 24 0 22 0 22 0 22 0 23 0 23 0 24 0 26 0 28 0 31 0 36 0 26 5 25 5 26 5 26 5 19 8 19 8 18 8 19 8 5 10zM3759 1305l0 9-1 8-1 9-18 7-18 7-18 7-18 7-24 4-23 5-24 4-25 3-26 3-26 1-26 1-25-1-24 0-23 0-23-1-22-1-21-2-21-2-20-2-20-2-20-3-20-2-19-4-18-3-17-5-17-4-17-5-17-5-17-5-16-6-15-7-15-7-15-8-14-9-13-9-10-10-5-10-2-11 10-11 47-3 51 0 41 0 35-1 31 0 27 0 25 0 23 0 21 0 21 0 19 0 20 0 20 0 19 0 21 0 21 0 23 1 24 0 27 0 30 0 29 2 20 5 19 6 19 6 20 5 13 8 13 7 13 8 13 7zM3782 1305l-2 9-1 10-1 9-19 7-20 7-19 8-19 7-26 5-25 4-26 5-27 3-27 2-27 2-28 0-26 0-25-1-24 0-24-1-23-1-22-2-21-2-21-2-21-3-21-2-21-3-19-3-19-4-18-5-18-4-18-5-17-5-18-6-17-6-17-7-16-8-16-8-15-9-15-10-11-10-6-12-3-11 10-11 49-4 54 0 45 0 37 0 32-1 29 0 26 0 24 0 23 0 22 0 21 0 21 0 21 0 21 0 22 0 23 0 24 0 26 0 28 0 33 1 31 1 21 6 21 6 20 6 21 6 13 9 14 8 14 8 14 8zM3742 1305l-5 8-5 8-5 8-5 8-19 6-18 6-19 6-19 5-23 4-22 4-24 3-24 2-24 2-25 0-23 0-23 0-22-1-21 0-21-1-20-2-19-2-19-2-19-2-19-2-19-2-18-4-17-3-16-4-16-4-16-5-16-5-16-5-15-6-15-6-13-7-14-7-13-8-11-9-9-9-5-10-1-10 10-10 43-3 48 0 38 0 33-1 29 0 25 0 23 0 22 0 20 0 19 0 19 0 18 0 18 0 19 0 19 0 20 0 21 1 23 0 25 0 28 0 23 3 23 4 17 5 17 6 17 5 18 6 9 8 10 7 10 8zM3701 1305l1 7-1 7-8 7-12 7-14 5-16 6-18 4-19 5-19 3-21 3-20 2-21 2-21 1-20 0-20 0-20 0-18 0-18-1-18-1-17-1-16-2-16-1-16-2-16-2-16-2-15-3-15-3-14-3-13-4-14-3-13-4-14-5-12-5-13-5-11-6-11-6-11-7-9-7-7-8-4-8-1-9 8-8 36-3 38 0 32-1 28 0 24-1 21 0 20 0 18 0 18-1 16 0 17 0 16 0 16 0 17 0 17 0 17 0 19 0 20 1 22 0 24 0 24 2 16 4 17 4 15 5 15 5 14 6 12 6 10 6 6 7zM3821 1305l5 11 5 10-18 9-18 9-18 9-18 9-27 5-28 6-28 6-27 5-30 4-31 2-30 2-31 0-30 0-28-1-27-1-26-1-25-1-25-2-23-3-24-2-22-3-23-3-23-3-21-4-20-4-19-5-19-5-19-6-19-5-19-7-19-7-17-7-18-8-17-9-16-10-16-10-11-12-8-12-3-13 11-11 54-4 59 0 48 0 41-1 35 0 31 0 28 0 26 0 24 0 24 0 23 0 22 0 22 0 23 0 24 0 25 0 26 0 28 0 32 0 36 0 26 5 26 5 27 5 26 5 19 8 18 9 19 8 19 8 4 10zM3735 1305l6 8-9 8-10 7-10 8-9 7-21 5-20 5-20 6-21 5-23 3-23 3-24 2-24 1-24 1-23 0-22-1-21 0-21-1-20-1-20-2-19-1-18-2-19-2-18-2-18-3-18-3-16-4-16-3-16-4-15-5-15-5-16-5-14-5-14-6-14-7-13-7-12-8-11-8-9-9-5-10-1-10 10-9 41-3 46-1 37 0 32 0 28 0 25-1 22 0 21 0 20 0 19 0 18 0 18 0 18 0 18 0 19 0 20 0 21 0 22 0 25 1 28 0 21 4 21 3 22 4 16 6 16 6 16 6 16 6 6 8 7 8zM3742 1305l-5 8-5 8-5 8-5 8-19 6-19 6-18 5-19 6-23 4-23 4-23 3-24 2-25 1-24 1-24 0-22-1-22 0-21-1-21-1-20-1-19-2-19-2-19-2-18-2-19-3-17-3-17-4-16-4-16-4-16-4-16-5-15-5-15-6-14-6-14-7-13-7-13-8-11-9-9-9-4-9-1-11 9-9 43-3 47 0 38-1 32 0 28 0 25 0 23 0 21 0 20-1 19 0 19 0 18 0 18 0 19 0 19 1 20 0 21 0 22 0 25 0 28 0 23 4 23 3 17 5 18 6 17 6 17 5 10 8 10 7 10 8zM3843 1306l5 10 5 11-19 9-18 10-19 9-19 10-29 6-29 6-29 6-29 6-32 3-32 3-32 2-33 0-31 0-30-1-28-1-28-1-27-1-26-2-25-3-25-3-24-2-24-3-24-4-23-4-21-4-21-5-20-6-21-6-20-6-21-7-19-7-20-8-19-9-18-9-18-10-17-12-14-12-8-13-3-14 11-13 59-4 64 0 52 0 44 0 38 0 33 0 30 0 28 0 26 0 25 0 24 0 24 0 24 0 24 0 25 0 26 0 28 0 30 0 34 0 37 0 28 6 27 5 28 6 28 5 19 9 20 9 19 8 20 9 5 11zM3847 1306l9 10-13 10-13 10-13 11-12 10-28 7-28 7-27 7-28 6-31 5-32 4-32 2-33 2-32 0-32 0-29 0-29-1-28-1-27-2-26-2-25-3-25-2-24-3-24-3-24-3-23-5-22-4-20-5-21-6-20-6-20-6-21-7-20-7-19-8-19-8-19-10-18-10-17-12-14-12-8-13-4-14 12-13 58-4 65 0 52 0 44 0 38 0 33 0 31 0 27 0 27 0 25 0 24 0 24 0 24 0 24 0 25 0 27 0 28 0 30 0 34 0 38 0 29 5 29 5 29 5 22 8 21 8 22 8 21 8 10 11 9 10zM3729 1305l6 8-10 7-9 8-10 7-9 7-20 5-20 5-20 5-20 5-23 4-23 2-23 2-24 1-23 1-23 0-21-1-21 0-20-1-20-1-18-2-19-2-18-1-17-2-18-3-17-2-17-3-16-3-15-4-15-4-14-4-15-5-14-5-14-5-14-6-12-6-13-7-11-7-11-9-8-8-4-9-1-10 9-8 39-4 43 0 36 0 30-1 26 0 24 0 22-1 20 0 19 0 18 0 17 0 18 0 18 0 17 0 19 0 19 0 20 0 22 0 25 0 27 0 21 4 21 3 21 4 16 6 15 6 16 6 16 6 7 7 6 8zM3813 1305l5 10 5 11-17 8-18 9-17 9-17 9-27 5-27 6-27 6-27 5-29 4-30 3-31 1-30 1-29-1-28 0-27-1-26-1-25-1-25-2-24-2-23-3-23-2-23-3-23-3-22-4-20-5-20-4-19-6-20-5-19-6-19-6-19-7-18-8-18-8-17-9-17-10-15-11-12-11-8-13-2-12 11-12 55-4 60 0 49 0 41 0 36 0 31 0 29 0 26 0 24 0 24 0 23 0 22 0 22 0 23 0 23 0 25 0 26 0 28 0 31 1 35 0 25 5 26 5 25 5 26 5 18 8 18 8 19 8 18 8 5 10zM3814 1305l-6 10-6 9-6 10-6 10-23 7-23 7-23 7-23 7-28 5-28 5-29 3-30 3-30 1-29 1-29-1-27 0-27-1-25-1-25-1-24-2-23-2-23-3-22-2-23-3-22-3-21-4-19-4-20-5-19-5-18-5-19-6-19-6-18-7-18-7-17-8-17-9-16-10-15-10-12-11-7-12-3-13 11-11 54-4 58 0 47 0 40 0 35-1 30 0 28 0 26 0 24 0 23 0 22 0 22 0 22 0 22 0 23 0 24 0 26 0 28 0 30 1 35 0 28 3 28 4 21 7 21 7 21 7 22 7 11 9 12 9 12 9zM3727 1305l-5 8-5 7-5 8-5 7-18 6-18 5-18 6-18 6-21 3-22 4-22 3-23 2-23 1-24 0-22 0-21 0-21 0-20-1-20-1-19-2-18-1-18-2-18-2-18-2-17-3-17-3-16-3-16-4-15-4-15-4-14-4-15-5-14-6-14-6-13-6-12-7-12-8-10-8-8-8-4-10-1-9 9-9 40-3 44 0 36-1 31 0 26 0 24 0 22-1 20 0 19 0 18 0 18 0 17 0 17 0 18 0 18 0 19 0 20 1 22 0 23 0 27 0 22 3 22 3 16 6 17 5 16 5 17 6 9 7 9 7 9 7zM3766 1305l4 9 3 9-15 8-16 7-15 8-16 8-23 5-24 5-24 4-23 5-26 3-26 3-27 1-26 0-25 0-25 0-23-1-23 0-22-2-22-1-20-2-21-3-20-2-20-2-20-3-19-3-18-4-18-4-17-5-17-4-17-6-17-5-16-6-16-7-15-7-15-8-15-9-13-9-10-10-6-11-2-11 10-10 47-4 52 0 42 0 36 0 31-1 27 0 25 0 23 0 22 0 21 0 20 0 20 0 20 0 20 0 21 0 22 0 23 0 24 0 28 1 31 0 22 4 23 5 22 4 23 5 16 7 16 7 15 8 16 7 4 9zM3840 1306l9 10-13 10-13 10-12 10-13 10-27 7-27 7-27 6-27 7-31 5-31 3-32 3-32 2-32 0-31 0-29-1-29-1-27-1-27-1-25-2-25-3-24-3-24-2-24-3-23-4-22-4-21-4-21-5-20-6-20-6-19-6-20-6-20-7-19-8-18-9-18-9-18-10-16-11-13-12-8-13-3-14 11-12 57-4 63 0 51 0 42 0 37 0 33 0 30 0 27 0 25 0 25 0 24 0 23 0 23 0 24-1 25 0 26 0 27 0 30 0 33 0 37 0 29 5 28 5 29 5 21 8 21 8 22 8 21 8 9 10 9 10zM3740 1305l7 8-10 8-10 8-10 7-9 8-21 5-21 5-20 5-21 6-23 3-24 3-24 2-25 1-24 1-24 0-22-1-22 0-21-1-21-1-19-2-20-2-18-2-19-2-19-2-18-2-17-3-17-4-16-4-16-4-15-4-16-5-15-5-15-6-14-6-13-7-14-7-12-8-11-8-9-10-5-9-1-10 10-10 42-3 46 0 38 0 32-1 28 0 25 0 22 0 21 0 20 0 19-1 19 0 18 0 18 0 19 0 19 0 20 1 21 0 23 0 25 0 28 0 22 4 21 4 22 3 16 6 17 7 16 6 16 6 7 8 7 8zM3743 1305l7 8-10 8-10 8-10 7-10 8-21 5-21 6-21 5-21 5-23 4-24 2-25 2-24 2-25 0-23 0-23 0-22-1-21-1-21-1-20-1-19-2-19-2-19-2-19-2-18-3-18-3-16-4-17-3-16-5-15-4-16-5-16-5-15-6-14-6-14-7-14-7-13-8-11-9-9-9-5-10-2-10 10-10 42-3 48 0 38 0 33-1 28 0 26 0 23 0 21 0 20-1 20 0 18 0 19 0 19 0 18 0 20 0 20 1 21 0 24 0 25 0 28 0 22 4 22 4 22 4 17 6 16 6 16 6 17 7 6 7 7 8zM3749 1305l7 8-11 8-10 8-10 8-10 8-22 5-21 5-21 6-22 5-24 3-24 3-25 2-25 2-24 0-24 0-23 0-23-1-21-1-21-1-20-1-20-2-19-2-19-2-20-2-18-3-19-3-17-4-17-4-16-4-16-4-16-5-17-6-15-5-15-7-15-7-14-7-14-8-12-9-9-10-6-10-2-11 10-9 44-4 49 0 40 0 33-1 30 0 26 0 24 0 22 0 21 0 20 0 19 0 19 0 19 0 19 0 20 0 21 0 22 0 24 0 26 1 29 0 22 4 23 4 22 4 16 6 17 6 17 7 16 6 7 8 6 8zM3827 1305l-1 10-1 11-1 10-22 9-21 8-22 8-21 8-29 6-29 5-28 5-31 4-30 2-31 2-31 0-30 0-29 0-27-1-27-1-26-1-25-2-24-3-24-2-24-3-23-3-23-3-22-4-21-4-20-5-20-6-20-5-20-6-20-7-20-7-18-7-19-9-18-9-18-10-16-11-13-12-8-13-3-13 11-13 57-4 62 0 50 0 43 0 37 0 32 0 29 0 28 0 25 0 24 0 24 0 23 0 23 0 24 0 24 0 25 1 27 0 29 0 32 0 37 0 36 2 23 6 23 7 23 7 23 7 15 9 16 9 16 9 15 9zM3689 1305l2 7-1 7-8 6-11 7-13 5-15 5-17 5-18 4-18 4-20 3-19 2-20 2-20 1-20 0-20 1-19-1-18 0-18 0-17-1-17-1-17-2-16-1-16-2-16-2-16-2-15-3-15-3-14-3-14-3-14-4-13-4-14-5-12-5-12-5-12-6-11-6-10-7-9-7-7-8-3-8 0-9 8-7 36-3 39-1 32 0 27 0 24-1 21 0 19 0 19 0 17 0 16 0 16 0 16 0 16 0 16 0 16 0 17 0 18 0 19 1 20 0 24 0 22 2 16 4 16 4 15 5 14 4 13 6 11 6 10 6 6 6zM3694 1305l2 7-1 7-8 7-11 6-13 6-16 5-17 5-18 4-19 4-19 3-20 2-21 2-20 1-21 1-20 0-19 0-19-1-18 0-18-1-17-1-17-2-16-1-17-2-16-2-16-2-16-3-15-3-14-3-14-4-14-4-13-4-14-4-13-5-12-6-12-6-11-6-10-7-9-7-7-8-3-9 0-8 8-8 36-3 40 0 32-1 28 0 24 0 22-1 19 0 19 0 17 0 17 0 16 0 16 0 16 0 16 0 16 0 18 0 18 1 19 0 21 0 24 1 23 1 16 4 16 4 15 5 15 5 13 5 12 6 10 7 6 6zM3771 1305l-5 9-5 8-6 9-5 9-20 6-21 7-20 6-20 7-25 4-25 4-26 3-26 3-27 1-26 1-26 0-25-1-24 0-23-1-23-1-21-2-22-2-20-2-21-2-21-3-20-3-19-3-19-4-17-4-18-5-17-5-17-5-17-6-17-6-15-7-15-7-15-8-15-9-13-9-9-10-6-11-1-11 10-11 48-3 52 0 43 0 36 0 31-1 27 0 25 0 24 0 21 0 21 0 20 0 20 0 20 0 20 1 20 0 22 0 23 0 24 0 27 0 31 0 25 4 25 3 19 6 19 6 19 6 18 7 11 8 11 8 10 8zM3847 1306l5 10 5 11-19 10-19 9-19 10-19 9-29 6-30 6-29 6-29 6-32 4-33 3-32 1-33 1-31-1-30 0-29-1-28-1-27-1-26-3-25-2-25-3-25-3-24-3-24-3-23-4-22-5-20-5-21-6-20-5-21-7-21-6-20-8-19-8-19-8-19-10-19-10-17-12-14-12-8-14-4-14 12-12 59-4 65 0 52 0 44-1 39 0 33 0 31 0 28 0 26 0 25 0 25 0 24 0 24 0 25 0 25 0 26 0 28 0 31 0 34 0 38 0 28 6 28 5 28 6 27 6 20 8 20 9 20 9 19 9 5 11zM3794 1305l4 10 4 9-17 9-17 8-17 8-17 8-26 6-26 5-25 5-26 5-28 3-28 3-28 1-29 0-27 0-26-1-25 0-24-1-23-1-23-2-22-3-21-2-21-2-21-3-21-3-20-3-19-5-18-4-18-5-17-5-18-5-18-6-17-6-17-7-16-8-16-8-15-9-14-10-11-11-7-11-3-12 10-11 50-3 54-1 45 0 37 0 33 0 29 0 26-1 24 0 23 0 22 0 22 0 21 0 21 0 22 0 22 0 23 0 25 0 27 0 29 0 34 0 24 5 25 5 24 5 25 4 17 8 17 8 17 8 17 7 4 10zM3751 1305l4 9 4 8-15 8-15 7-15 7-15 8-23 4-23 5-23 5-23 4-24 3-25 2-26 1-25 1-24 0-23-1-22-1-22 0-21-1-20-2-20-2-19-2-19-2-19-3-19-2-18-3-17-4-16-4-16-4-16-5-16-5-16-5-15-6-15-6-14-7-13-7-14-8-12-9-9-9-5-10-2-11 10-9 43-4 48 0 39 0 33-1 29 0 25 0 24 0 22-1 20 0 20 0 19 0 19 0 19 0 19 0 20 0 21 0 22 0 24 0 26 0 29 1 22 4 22 4 21 5 22 4 15 7 16 7 15 7 15 6 4 9zM3809 1305l5 10 4 10-17 9-18 9-17 8-18 9-26 5-27 6-27 5-27 6-29 3-29 3-30 1-30 0-28 0-27 0-27-1-25-1-25-1-24-2-22-3-23-2-22-3-23-2-22-4-20-3-20-4-19-5-19-5-19-5-19-6-18-6-19-7-17-7-18-8-16-9-17-10-15-10-12-11-7-12-3-13 10-11 53-4 59 0 47 0 40-1 34 0 31 0 28 0 25 0 24 0 24 0 22 0 22 0 22 0 23 0 23 0 24 0 26 0 28 0 30 0 35 0 26 5 25 5 25 5 26 5 18 8 18 9 18 8 18 8 4 10zM3697 1305l1 7 0 7-8 7-11 6-14 6-16 6-17 4-18 4-19 4-20 3-20 3-21 1-21 2-21 0-20 0-19 0-19-1-18 0-18-1-17-1-17-2-16-2-16-1-16-2-16-3-16-2-14-3-14-4-14-3-13-4-14-4-13-5-13-5-11-5-12-6-10-6-10-7-9-7-7-8-3-8 0-9 8-7 36-3 38-1 32 0 27 0 24-1 21 0 19 0 19 0 17 0 16-1 16 0 16 0 16 0 16 0 16 1 17 0 19 0 19 0 21 0 24 1 23 1 17 4 16 4 15 5 15 5 13 5 13 6 10 6 7 7zM3770 1305l-6 9-6 8-5 9-6 8-21 7-21 6-20 6-21 6-25 4-25 5-25 2-26 3-26 1-26 0-26 0-24 0-23-1-22-1-22-1-21-2-20-2-20-2-19-2-20-3-19-2-19-4-17-3-17-5-16-4-17-5-16-5-17-5-16-6-15-6-14-7-15-8-14-8-12-9-10-10-6-11-2-11 9-9 46-4 49 0 41-1 34 0 30 0 27 0 24-1 23 0 21 0 21 0 19 0 20 0 20 0 20 0 20 0 22 0 23 0 24 0 28 0 30 0 25 4 26 3 18 6 19 6 19 6 19 6 10 9 10 8 11 8zM3783 1305l-6 9-6 9-6 9-6 9-21 6-21 7-21 6-22 7-25 4-26 4-27 4-27 2-27 1-27 1-26 0-25-1-25 0-23-1-23-1-22-2-21-2-21-3-21-2-21-2-20-3-20-3-19-4-18-5-17-4-18-5-18-6-17-5-17-7-17-6-16-8-15-8-15-9-14-10-11-10-6-11-3-12 11-11 49-3 53 0 44-1 37 0 32 0 29 0 26 0 23 0 23 0 22 0 20 0 21 0 21 0 20 0 22 0 22 0 24 0 26 0 28 0 32 1 26 3 26 4 19 6 20 7 19 6 19 6 11 9 11 8 11 9zM3844 1306l5 10 5 11-19 10-19 9-18 9-19 10-29 6-29 6-29 6-29 6-32 4-32 3-32 1-33 1-31 0-30-1-29-1-28-1-27-1-27-2-25-3-25-3-25-2-24-3-25-4-23-4-22-4-21-6-21-5-21-6-21-6-20-7-21-7-20-8-19-9-19-10-19-11-18-11-13-13-9-13-3-14 12-13 60-4 65 0 54 0 44 0 39 0 34 0 31 0 28 0 27 0 25 0 25 0 24 0 24 0 25 0 25 0 26 0 28 1 30 0 34 0 38 0 27 5 28 6 27 5 28 6 19 9 20 8 19 9 20 9 5 11zM3845 1305l-1 11-1 11-1 11-22 8-23 9-23 8-23 9-30 6-30 5-30 6-31 3-32 3-33 1-32 1-31 0-30-1-28-1-28-1-27-1-26-3-25-2-24-3-24-3-25-2-23-4-23-4-21-5-21-5-21-5-20-6-21-6-20-7-20-7-20-8-19-9-19-9-18-10-18-12-13-12-9-14-4-13 12-13 58-4 65 0 52 0 44 0 38 0 34 0 30 0 28 0 26-1 26 0 24 0 24 0 24 0 25 0 25 0 26 0 28 0 31 0 34 0 38 0 37 2 24 7 24 7 24 7 25 7 16 10 16 9 17 10 16 9zM3524 1305l0 3-2 2-3 3-4 2-5 2-6 2-7 2-7 2-7 1-7 1-8 1-7 1-8 1-8 0-7 0-7 1-8 0-7 0-7-1-7 0-7 0-7-1-7 0-8-1-7-1-7-1-6-1-7-1-6-2-6-1-6-2-6-2-4-2-4-3-3-2-2-3-2-3 0-2 1-3 2-3 3-3 5-2 9-2 11-1 9-1 9-1 8 0 8-1 8 0 7-1 8 0 7 0 7 0 7 0 7 0 7 0 7 0 8 0 7 1 8 0 8 1 8 1 8 1 6 1 7 2 6 2 6 2 5 2 4 2 3 3 2 2zM3547 1305l0 3-1 4-3 3-5 3-6 2-8 3-7 2-9 2-9 2-9 1-9 1-10 1-9 1-10 0-9 1-9 0-9 0-9-1-9 0-8 0-8-1-8-1-9-1-8 0-8-2-7-1-8-1-7-2-7-2-6-2-6-2-6-2-5-3-4-2-4-3-2-3-2-3 0-3 1-3 2-3 3-4 5-2 11-2 13-1 11-1 10-1 9 0 9-1 8 0 9-1 8 0 7 0 8 0 8 0 8 0 8 0 8 0 8 0 8 0 9 1 9 0 10 1 10 1 8 1 8 2 8 2 7 2 7 3 5 3 5 3 3 3zM3552 1305l-1 3-1 4-4 3-6 3-7 3-8 2-8 2-9 2-9 2-9 1-10 1-9 1-10 1-9 0-9 0-9 0-9 0-9 0-9 0-8 0-8-1-9-1-8 0-8-1-8-1-8-1-8-2-8-1-7-2-7-2-7-2-7-3-6-2-5-3-4-3-4-3-2-3-2-4-1-3 1-4 3-3 5-4 13-1 14-2 13 0 11-1 11-1 10 0 9-1 9 0 9-1 9 0 8 0 9 0 9 0 8 0 9 0 9 1 9 0 10 0 10 1 11 1 10 1 8 2 8 2 8 2 7 3 6 2 6 3 4 3 3 4zM3602 1305l1 5-1 4-5 5-8 4-8 4-11 3-11 4-12 2-12 3-13 2-14 2-13 1-14 1-14 0-13 1-13 0-13-1-12 0-12 0-12-1-12-1-11-1-12-1-11-1-12-2-11-1-10-2-11-3-10-2-10-3-9-3-9-3-9-4-7-4-7-4-7-4-5-5-4-5-3-5 0-5 1-6 7-5 22-2 24-1 20 0 18-1 16 0 14-1 13 0 13 0 12 0 12 0 11 0 11 0 11 0 11 0 12 0 11 0 13 1 13 0 14 0 15 1 15 1 11 3 10 3 11 3 10 3 8 4 8 4 7 4 4 4zM3651 1305l1 6-1 6-6 6-10 5-11 5-13 4-15 4-15 4-16 3-17 2-17 2-17 2-17 1-17 0-17 0-16 0-16 0-15-1-15 0-14-1-14-2-14-1-14-2-14-1-13-2-13-2-13-3-12-3-11-3-12-3-11-3-11-4-11-4-9-5-9-5-9-5-7-6-7-6-4-6-2-7 1-7 7-6 28-3 31 0 26-1 22 0 19-1 18 0 16 0 15-1 15 0 14 0 14 0 13 0 13 0 14 0 14 0 15 0 15 1 16 0 18 0 20 1 19 1 14 3 13 4 13 4 13 4 11 4 10 5 8 6 6 5zM3496 1305l-1 2-1 2-2 2-3 2-4 1-5 2-4 1-5 1-5 1-6 1-5 1-6 0-5 1-6 0-5 1-6 0-5 0-6 0-6 0-5 0-6 0-5 0-6-1-6 0-5-1-6-1-5-1-6-1-5-1-5-1-4-2-4-1-3-2-3-2-1-2-1-2 0-2 2-2 2-2 3-2 4-1 4-2 5-1 6-2 5-1 6 0 6-1 5-1 6 0 6-1 5 0 6 0 5 0 6 0 6 0 5 0 6 0 5 1 6 0 5 0 6 1 5 1 6 1 5 1 5 1 5 1 4 2 4 1 3 2 2 2 1 2zM3609 1305l0 5-1 5-5 4-8 5-9 4-11 3-11 4-13 2-13 3-13 2-14 2-14 1-14 1-14 0-14 1-13 0-13-1-13 0-12 0-13-1-11-1-12-1-12-1-12-2-11-1-11-2-11-2-10-2-10-3-10-3-10-3-9-3-9-4-8-3-7-5-6-4-6-5-5-5-2-5-1-6 1-5 7-5 23-2 24-1 21-1 18 0 16-1 15 0 13-1 13 0 12 0 12 0 12 0 11 0 11 0 12 0 12 0 12 0 12 1 14 0 14 0 16 1 15 1 12 3 11 3 11 3 10 3 9 4 8 4 7 5 4 4zM3595 1305l1 4-1 5-5 4-8 4-8 4-10 3-11 3-12 3-12 2-13 2-12 2-13 1-13 1-13 0-13 0-12 0-12 0-12 0-11-1-12 0-11-1-10-1-11-1-11-1-11-2-10-1-10-2-9-2-10-3-9-2-9-3-8-3-8-4-7-3-6-4-6-4-5-4-3-5-2-5 0-5 1-5 7-4 19-2 22-1 18-1 16-1 15 0 13-1 13 0 11 0 12 0 11-1 10 0 11 0 11 0 10 0 11 1 12 0 11 0 13 0 13 1 15 0 14 2 11 2 10 3 10 3 10 3 8 3 8 4 6 4 4 5zM3651 1305l1 6-1 6-6 6-10 5-11 5-13 4-14 4-16 4-16 3-17 2-17 2-17 2-17 1-17 0-17 0-16 0-16-1-15 0-15-1-14-1-14-1-14-2-13-1-14-2-13-1-13-3-12-2-11-3-12-3-11-3-11-4-10-4-10-4-10-4-8-5-8-5-7-6-6-5-4-7-2-6 1-7 7-6 27-2 30-1 25-1 21 0 19-1 17 0 16 0 15-1 14 0 13 0 14 0 13 0 13 0 14 0 13 0 15 0 15 0 16 0 18 1 19 0 19 1 14 4 14 3 13 4 13 4 11 4 10 5 9 6 6 5zM3568 1305l0 4-1 4-4 3-6 4-7 3-8 3-9 2-10 3-10 2-11 1-10 2-11 1-12 1-11 0-11 0-10 1-11 0-10-1-10 0-10 0-10-1-10-1-9-1-10-1-9-1-10-2-9-1-8-2-9-2-8-3-8-2-7-3-7-3-6-3-5-3-4-4-4-4-2-4-1-4 1-4 2-4 6-4 17-2 18-1 15-1 14 0 12-1 12 0 11-1 10 0 10 0 9 0 10 0 9 0 9 0 10 0 9 0 10 0 10 1 10 0 11 1 12 0 12 1 9 2 9 3 9 2 8 3 7 3 7 3 5 4 3 3zM3623 1305l1 5-1 5-6 5-8 5-10 4-12 4-12 4-13 3-14 3-15 2-15 2-15 1-15 1-15 1-15 0-14 0-14 0-14-1-13 0-14-1-12-1-13-1-13-1-13-2-12-1-12-2-12-2-11-3-12-3-10-3-11-3-10-3-10-4-9-5-8-4-8-5-7-5-6-6-3-6-1-6 1-6 7-6 26-2 28-1 23-1 20 0 18 0 17-1 15 0 14 0 13 0 13 0 13 0 12 0 12 0 13 0 12 0 14 0 13 1 15 0 15 0 17 1 17 1 12 3 12 4 12 3 11 4 9 4 9 4 7 5 5 5zM3578 1305l1 4-1 4-5 4-6 4-7 3-9 3-10 3-10 3-11 2-12 1-11 2-12 1-12 1-12 1-11 0-12 0-11 0-11 0-11-1-10 0-11-1-10-1-10-1-11-1-10-1-10-2-9-2-9-2-9-2-9-2-8-3-8-3-7-3-7-4-5-3-5-4-4-4-3-4-1-5 0-4 2-5 7-4 18-2 20-1 17-1 14 0 14-1 12 0 12 0 11-1 10 0 10 0 10 0 10 0 10 0 10 0 10 0 10 1 11 0 11 0 12 1 13 1 12 1 10 2 9 2 10 3 8 3 8 3 7 3 5 4 4 4zM3509 1305l0 2-1 3-3 2-3 2-4 2-5 2-5 1-6 2-6 1-6 1-7 1-6 1-7 1-7 0-7 1-7 0-6 0-7 0-7 0-6 0-7-1-7 0-6 0-7-1-7-1-6-1-7-1-6-1-6-2-5-1-6-2-4-2-4-2-3-2-3-3-1-2 0-2 1-3 2-2 3-3 4-2 5-2 8-1 8-1 7-1 8-1 7 0 7-1 6 0 7-1 6 0 7 0 6 0 6 0 6 0 6 0 6 0 7 1 6 0 6 1 6 0 7 1 6 1 6 1 6 1 5 2 5 2 5 1 4 2 3 2 2 3zM3604 1305l1 5-1 4-6 5-7 4-9 4-11 4-11 3-12 3-13 2-13 2-14 2-13 1-14 1-14 0-13 0-13 0-13 0-12 0-12 0-12-1-11-1-12-1-11-1-12-2-11-1-11-2-10-2-10-2-10-3-10-2-9-3-9-3-9-4-8-4-7-4-6-4-5-5-5-5-2-5-1-5 2-5 6-5 22-3 24 0 20-1 17-1 16 0 14-1 13 0 13 0 12 0 11-1 12 0 11 0 11 0 12 1 11 0 12 0 12 0 14 1 14 0 15 1 15 1 11 2 11 3 11 3 10 4 9 4 7 4 7 4 4 4zM3611 1305l1 5-1 5-6 5-7 4-10 4-11 4-12 3-12 3-14 2-13 2-14 2-15 1-14 1-14 1-14 0-13 0-13-1-13 0-12 0-13-1-11-1-12-1-11-2-12-1-11-1-11-2-11-2-10-3-10-2-9-3-10-3-9-3-8-4-8-4-7-4-6-4-5-5-5-5-2-5-1-5 2-6 6-5 22-2 24-1 20 0 17-1 16 0 14-1 14 0 12-1 12 0 12 0 12 0 11 0 11 0 12 0 12 0 12 0 13 1 13 0 15 0 16 1 15 1 12 3 11 3 11 3 11 3 9 4 8 4 7 5 5 4zM3654 1305l1 6-1 6-7 6-10 5-11 5-14 4-15 4-15 4-16 3-17 2-17 2-18 2-17 1-17 0-17 0-16 0-16-1-15 0-15-1-14-1-14-1-14-1-13-2-14-1-13-2-13-2-13-3-12-3-11-3-12-3-11-3-11-4-10-4-10-5-9-5-9-5-7-6-7-6-5-6-2-7 1-7 7-6 28-3 31 0 25-1 22-1 20 0 17 0 17-1 15 0 15 0 14 0 13 0 14-1 14 0 13 0 15 1 14 0 16 0 17 0 18 1 20 0 19 1 14 4 14 3 13 4 13 4 11 5 10 5 8 5 6 6zM3523 1305l-1 3-1 2-3 3-4 2-6 2-5 2-7 2-7 2-7 1-7 1-7 1-8 1-7 1-8 0-7 0-8 0-7 1-7 0-7-1-7 0-7 0-7-1-8 0-7-1-7-1-7-1-7-1-6-1-7-2-6-1-6-2-5-2-5-2-4-3-3-2-2-3-2-3 0-3 1-2 2-3 3-3 5-2 10-2 10-1 9-1 9-1 9 0 8-1 8 0 7-1 7 0 8 0 7 0 7 0 7 0 7 0 7 0 8 1 7 0 7 1 8 0 8 1 8 1 7 1 6 2 6 2 6 2 5 2 4 2 3 3 2 2zM3515 1305l-1 2-1 3-3 2-4 2-5 2-5 2-6 2-7 1-6 1-7 1-7 1-7 1-7 0-7 1-6 0-7 0-7 0-6 0-6 0-7 0-6-1-6 0-6-1-7 0-6-1-6-1-6-1-6-1-5-2-5-1-5-2-5-2-3-1-3-3-3-2-1-2 0-2 1-3 1-2 3-2 3-2 4-2 7-2 7-1 7-1 7-1 7 0 6-1 7-1 6 0 7 0 6-1 7 0 6 0 6 0 7 0 6 0 7 1 7 0 7 0 7 1 7 1 7 1 6 1 6 1 6 2 6 2 4 2 4 2 3 2 2 3zM3654 1305l1 6-1 6-7 6-10 5-11 5-13 4-15 4-15 4-16 3-17 3-17 2-18 1-17 1-17 1-17 0-17 0-16-1-15 0-15-1-15-1-14-1-14-1-14-2-14-1-14-2-13-2-13-3-12-3-12-3-12-3-12-4-11-4-11-4-10-5-9-5-9-5-8-6-7-6-5-7-2-7 1-7 7-6 29-3 32 0 27-1 23 0 20-1 18 0 17 0 15-1 15 0 14 0 14 0 14 0 14 0 14 0 14 0 15 1 15 0 17 0 18 0 20 1 19 1 14 4 14 3 13 4 13 4 11 5 10 5 8 5 6 6zM3545 1305l0 3-1 3-4 3-5 3-6 3-8 2-7 3-9 1-8 2-9 1-9 2-9 1-10 0-9 1-9 0-9 0-8 0-9 0-8 0-9-1-8 0-8-1-8-1-8-1-8-1-8-1-8-1-7-2-7-2-7-1-7-3-6-2-5-2-5-3-4-3-3-3-2-3-1-3 0-4 2-3 2-3 6-3 12-2 13-1 12-1 10-1 10 0 10-1 9 0 8-1 9 0 8 0 8 0 8 0 8 0 8 0 8 0 9 0 8 1 9 0 10 1 10 0 10 1 8 2 7 2 8 2 7 2 6 3 5 3 4 3 3 3z" stroke="#ff0000" stroke-width="2.6" fill="none" stroke-linejoin="round"/>
<path transform="scale(0.5)" d="M3138 1200l-41-3-11-8-3-9 3-10 8-9 8-8 10-8 10-7 11-7 12-6 14-6 14-5 14-6 15-5 17-4 17-4 17-4 19-3 19-3M2964 1205l-1-13 7-13 15-12 15-11 16-11 16-9 16-9 18-8 18-8 19-7 19-7 19-6 21-6M3004 1213l-13-12-1-12 6-12 14-11 13-11 15-10 14-9 15-8 17-8 17-7 17-7 18-6 19-6 19-6M3200 1218l-40-1-47 0-58 0-57-3-12-12-2-12 7-12 14-12 14-11 15-10 14-9 16-8 17-8 17-7 18-7 18-7 18-6 20-5 21-5 21-5 23-4 24-3M3053 1205l-12-10-2-11 4-10 11-11 11-9 11-9 12-8 13-7 15-7 15-7 15-6 16-6 17-5 18-5 18-5M3199 1197l-37-2-36-2-11-8-4-8 2-9 5-8 7-7 8-8 9-6 9-7 12-6 12-5 12-6 14-4 14-5 15-4 16-4 17-3 17-3 18-3M3154 1197l-37-3-10-8-4-8 2-9 6-8 8-8 8-8 9-6 10-7 12-6 12-6 13-5 14-5 15-5 15-4 16-4 17-3 18-3 18-3M3146 1209l-50 0-48-4-12-10-2-10 4-11 11-10 12-10 12-9 12-8 13-7 15-7 15-7 16-6 16-6 17-6 18-5 19-4 19-4 21-4M3275 1201l-25-1-28 0-32-1-39-1-38-3-11-8-3-9 1-9 7-8 8-8 9-8 9-7 10-6 12-6 13-6 13-5 14-5 15-5 15-4 17-4M2991 1215l-13-12-2-12 7-13 14-12 15-11 15-10 15-9 15-8 18-8 17-8 18-7 18-6M3113 1205l-45-3-11-9-2-10 4-11 9-9 11-9 11-9 11-7 13-8 13-6 15-7 15-6 15-5 17-5 17-5 18-4M2974 1218l-13-12-1-14 7-13 15-12 16-11 16-11 16-9 16-9 18-8 18-8 19-7M3268 1216l-30 0-33 0-39 0-46-1-56 0-54-3-13-11-1-12 6-12 13-12 14-10 14-10 15-8 15-9 16-7 17-7 17-7 18-6 18-6 19-6 21-5 21-4M3233 1218l-35 0-40 0-48 0-59 0-58-4-13-11-1-13 6-12 14-12 15-11 15-10 14-9 16-8 17-8 17-8 18-7 18-6 19-6 20-6 21-5 22-5 23-4 24-4M3173 1214l-44-1-54 0-52-3-13-11-2-12 6-11 12-11 13-10 14-10 13-8 15-8 15-8 17-7 16-6 17-6 18-6 19-5M3187 1199l-39-1-38-3-11-8-4-9 3-9 7-8 7-8 9-8 10-7 10-6 12-6 13-6 13-6 14-5 15-4 15-5 17-4 17-3 18-4M3033 1221l-61-3-13-12-1-13 8-13 15-13 15-11 17-11 16-9 16-9 18-8 18-8 19-7 19-7M3061 1192l-3-10 4-10 9-9 10-9 11-9 11-7 12-8 14-6 14-7 15-5 15-6 16-5 18-5 17-4 19-4 20-4M3240 1204l-30-1-36-1-42-1-42-3-11-8-4-10 3-9 8-9 9-9 10-8 10-7 11-7 13-7 13-6 14-5 15-6 15-5 17-4 17-5M3156 1219l-49-1-59 0-58-3-13-12-2-12 7-13 14-12 15-11 15-10 15-9 16-9 17-8 17-7 18-7M3116 1185l-3-8 1-9 6-8 7-7 8-8 9-6 10-7 11-6 12-5 13-5 13-5 14-5 15-4 16-3 17-4 17-3M3255 1209l-29 0-34-1-40 0-47-1-47-3-12-10-2-10 4-11 10-10 11-9 12-9 11-8 13-7 14-7 15-6 16-7 15-5 17-6 18-5M3194 1208l-38-1-48-1-46-3-11-9-3-11 4-10 10-10 11-9 11-9 12-7 13-8 14-7 15-6 15-6 15-6 17-5 17-5 19-4 19-4M3283 1198l-23-1-26-1-30-1-35-1-34-3-11-7-3-8 1-8 5-8 6-8 8-7 8-6 10-6 11-6 11-6 13-5 13-4 14-5 15-4 15-4M3161 1217l-48 0-58 0-56-3-13-12-2-12 6-12 14-12 14-11 15-10 14-9 16-8 16-8 18-7 17-7 18-7 19-6 20-5 21-6 21-4M3233 1219l-35-1-41 0-48 0-59 0-58-3-13-12-1-12 6-13 14-12 15-11 15-10 15-9 15-8 17-8 18-8 17-7 19-6 19-6" stroke="#0000ff" stroke-width="3.0" fill="none" stroke-linejoin="round"/>
<path transform="scale(0.5)" d="M3744 1080l26 7 26 7 11 10 11 10 12 11 11 10-10 10-10 10-9 10-10 10M3658 1097l18 5 17 6 18 6 5 8 5 8 5 8 5 7-10 8-9 7-10 7-10 8-17 5-18 5M3728 1113l17 7 0 8 1 9 1 8 0 9-13 7-13 7M3700 1099l19 6 19 7 5 8 5 8 5 9 5 8-10 8-11 8-11 8-10 8-20 6M3762 1109l15 9 15 8-5 10-4 9-5 9-4 10-18 7-18 8-17 7-18 7M3821 1115l17 9-6 10-5 11-6 10-5 11-20 8-20 8M3648 1089l18 6 18 6 18 6 18 6 5 8 5 8 5 8 5 8-10 8-10 7-10 8-10 7-18 6-18 5-18 6M3714 1074l28 6 27 7 17 9 17 9 16 10 17 9-5 10-5 11-5 10-6 11-19 8M3791 1116l0 10 1 10 0 9 1 10-16 8-15 8-15 9-16 8-22 6-22 6M3758 1100l22 7 5 10 5 9 5 10 6 9-13 9-12 9-13 9-12 9" stroke="#0000ff" stroke-width="2.6" fill="none" stroke-linejoin="round"/>
<path transform="scale(0.5)" d="M3095 1221l-62 0-61-3-14-12-1-13 8-13 15-13 16-11 16-11 16-9 17-9 18-8 18-8 19-7 19-7 19-6 21-6 22-6M3268 1204l-27 0-31-1-35-1-43-1-42-3-11-8-3-10 2-9 8-9 9-9 10-8 10-7 11-7 13-6 14-7 14-5 14-6 16-5 16-4 18-4 18-4M3178 1201l-41-1-40-3-11-8-3-9 3-10 8-9 8-8 10-8 10-7 11-7 13-6 13-6 14-5 15-6 15-4 16-5 17-4M3212 1213l-37 0-44 0-53-1-52-3-13-11-2-11 6-11 12-11 12-10 14-10 13-8 14-8 16-8 16-7 16-6 17-6 18-6 19-5 20-5M3283 1209l-27 0-30 0-33-1-40 0-48-1-47-3-12-10-3-10 4-11 10-10 11-9 11-9 12-8 13-7 14-7 15-7 15-6 16-5 17-6 18-5 18-4 19-4M3128 1214l-55-1-53-3-12-11-2-11 6-12 12-11 13-10 14-10 13-8 15-8 16-8 16-7 17-6M3300 1214l-26 0-29-1-32 0-37 0-44-1-53 0-52-3-12-11-2-11 5-11 12-11 12-10 13-10 14-8 14-8 15-8 17-7 16-6 17-6 18-6 19-5 19-5 21-4 21-4 23-4M3241 1215l-34 0-38 0-45-1-55 0-54-3-12-11-2-12 6-12 13-11 13-10 14-10 14-8 14-9 16-7 17-7 17-7 17-6M3213 1213l-36 0-44-1-53 0-51-3-13-11-2-11 6-12 11-10 13-10 13-10 13-8 14-8 16-8 16-6 16-7 17-6 18-6 18-5 20-5 20-4 22-4 22-3M3246 1193l-27-1-32-2-30-3-10-6-4-8 0-7 4-7 5-7 7-7 7-6 8-6 10-5 11-5 12-5 12-4M3077 1201l-12-9-3-10 4-10 9-10 9-8 11-9 11-7 12-7 14-7 14-6 14-6 16-6M3264 1206l-28-1-31 0-37-1-44-1-43-3-12-9-3-10 3-9 9-10 10-8 10-9 11-7 11-7 14-7 14-6 14-6 15-5 16-5M3299 1215l-27 0-29-1-32 0-37 0-44-1-54 0-52-4-12-10-2-12 5-11 13-11 12-10 14-10 13-8 15-8 15-8 17-7 16-6 17-6 18-6 19-5 20-5 20-5 22-3M3160 1217l-47 0-57 0-57-3-13-12-1-12 6-12 14-12 14-11 15-10 14-9 16-8 16-8 18-7 17-7 18-7 19-6 19-5 21-5 22-5 22-4 24-4 24-3M3265 1218l-31 0-35 0-40 0-48-1-58 0-57-3-13-11-1-13 6-12 14-12 15-11 15-10 14-9 16-8 17-8 17-7 18-7 18-7 19-6 20-5 21-5 22-5 23-4M3200 1218l-40-1-47 0-58 0-57-3-13-12-1-12 6-12 14-12 14-11 15-10 15-9 15-8 17-8 17-7 18-7M3231 1219l-36 0-41 0-49 0-60 0-58-3-13-12-2-13 7-12 15-13 15-11 15-10 15-9 16-9 18-8 17-7 18-7 19-7M3207 1204l-36-1-43-1-43-3-11-9-3-9 3-10 8-9 9-9 11-8 10-7 12-7 13-7 13-6 15-6 15-5 15-5M3085 1224l-64 0-64-4-13-12-1-14 8-13 17-13 16-12 17-11 17-9 17-10 19-8 19-8 19-7M3308 1197l-20-1-22-1-25-1-28-1-33-1-33-3-10-7-4-8 0-7 4-8 6-7 7-7 7-6 9-6 10-6 11-5 12-5M3116 1216l-57 0-56-3-13-11-2-13 7-12 13-11 14-11 15-10 14-9 15-8 17-8 17-7 17-7 18-6 19-6 20-6 20-5 21-5 23-4M3043 1195l-3-11 5-10 10-11 11-9 12-9 12-8 13-7 14-7 15-7 15-6 16-6 17-5M3287 1207l-25 0-28-1-32 0-38-1-45-1-44-3-12-9-3-10 4-10 9-10 10-8 11-9 11-7 12-7 13-7 14-6 15-6 15-6 17-5M3273 1214l-29 0-32 0-38-1-43 0-54-1-52-3-12-10-2-12 5-11 12-11 13-10 14-10 13-8 14-8 16-8 16-7 17-6 17-6 18-6 19-5 20-5 20-4 22-4M3087 1189l-3-9 2-10 8-9 9-8 9-8 10-7 12-7 12-6 13-6 14-5 15-6 15-4 16-5 17-4 17-4 19-3 19-3M3158 1218l-48 0-59 0-57-4-13-11-1-13 6-12 14-12 15-11 15-10 15-9 15-8 17-8 18-8 17-7 18-6 19-6 20-6 21-5 22-5 23-4M3139 1223l-52 0-65 0-63-3-13-12-1-14 8-13 16-13 16-12 17-11 17-9 17-10 18-8 19-8 19-7 19-7 21-7 21-6 22-5 23-5M3316 1204l-22 0-23-1-26-1-30 0-34-1-41-1-39-3-11-9-3-9 2-9 8-9 8-8 9-8 10-7 11-7 12-6 13-6 14-5 14-5 15-5 17-5 16-4 18-3 18-4M3170 1194l-34-3-10-7-4-8 1-8 5-8 6-8 8-7 8-6 9-6 11-6 12-6 12-5 13-4 14-5 15-4 16-3 16-4M3133 1201l-41-3-11-8-4-10 3-9 8-9 9-9 10-8 10-7 11-7 13-6 13-6 14-6 15-5 15-5 17-5 17-4 18-4 19-3 19-3 20-2" stroke="#ff0000" stroke-width="2.2" fill="none" stroke-linejoin="round"/>
<path transform="scale(0.5)" d="M3693 1089l18 8 17 7 18 7 18 7 1 9 1 9 0 9 1 9-14 8-14 8-14 8-14 7-20 6M3613 1088l22 4 17 6 17 6 17 5 17 6 4 8 5 7 5 8 5 7-10 7-9 8-9 7-10 7-17 5M3692 1117l12 6 12 7-3 8-3 7-3 8-3 7-13 6-14 6-14 6-14 7-19 3M3799 1094l12 10 11 10 12 10 11 11-10 10-10 10-10 10-10 10-22 8-23 8-22 7-23 8-27 5-28 5M3750 1079l27 7 26 7 12 11 12 10 11 10 12 10-10 11-10 10-10 10-10 11-23 8-22 7M3775 1086l24 8 24 9 7 10 6 11 6 11 6 10-14 10-14 10-14 10-14 10M3722 1095l18 7 19 8 18 7 0 10 1 9 0 9 1 10-15 8-15 8-14 7-15 8-21 6M3707 1115l13 7 13 7-3 8-4 8-3 8-3 8-15 6-15 7M3740 1120l5 9 5 8 5 8-11 8-10 8-11 8-11 8-19 5-19 6-19 6-18 5M3784 1085l25 8 24 9 6 11 7 10 6 11 6 11-15 10-14 11-15 10-14 10-25 7-25 7-24 7-25 8-30 4M3741 1111l10 9 10 8 10 8-8 9-8 8-7 9-8 9M3822 1103l6 10 6 11 6 11 6 10-14 10-14 10-14 10-14 10-24 7-24 7-24 7" stroke="#ff0000" stroke-width="2.2" fill="none" stroke-linejoin="round"/>
<path transform="scale(0.5)" d="M3016 1211l-12-11-2-12 6-12 13-11 13-10 14-10 13-8 15-9 16-7M3116 1205l-45-3-11-10-3-10 3-10 10-9 10-9 11-9 11-7 12-8 14-6 14-7 15-6 15-5M3059 1216l-56-3-12-11-2-13 7-12 13-11 14-11 15-10 14-9 15-8 17-8 17-7 18-7 17-6 19-6M3045 1219l-59-3-13-12-1-13 7-12 14-13 15-10 15-11 15-9 16-9 18-8 17-7 18-7M3098 1208l-48-3-12-10-3-10 4-11 11-10 11-10 12-9 12-8 13-7 14-8 15-6M3152 1208l-49-1-47-3-12-10-3-10 4-11 10-10 11-9 11-9 12-8 13-7 14-7M2994 1201l-2-12 6-12 13-11 14-11 14-10 15-9 15-8 16-8 17-7M3207 1194l-34-1-34-3-10-7-4-8 0-8 6-7 6-8 7-7 8-6 9-6 10-6 12-5 12-6 13-4M3000 1213l-13-11-2-12 7-12 13-12 14-11 15-10 15-9 15-8 17-8M3163 1195l-35-3-10-7-3-9 1-8 6-8 7-8 8-7 9-6 9-7 11-5 12-6M3032 1185l5-11 11-10 11-10 12-9 13-8 13-7 15-8 16-6 15-6M3110 1206l-46-3-12-10-2-10 3-10 10-10 10-9 12-9 11-7 13-8 14-7 14-6 15-6 16-6" stroke="#fff" stroke-width="1.2" fill="none" stroke-linejoin="round"/>
<path transform="scale(0.5)" d="M3713 1122l4 8 5 8 5 7-10 8-9 7-10 7-9 7-17 5M3811 1115l6 10 6 10 6 10-13 10-13 9-13 10-14 9-23 7M3735 1129l5 8 5 8-11 8-10 8-10 7-10 8M3738 1092l24 7 10 9 11 9 10 9 11 10-9 9-9 9-9 9M3715 1106l18 6 6 8 5 9 5 8 5 8-10 8-11 8-10 8M3677 1132l1 7 1 6 1 7-11 6-10 6-10 6-10 6M3666 1112l11 6 12 7 11 6-2 7-3 7-3 7-3 7-13 6-13 6M3772 1086l21 9 21 9 22 9 0 11 0 10 0 11 0 11-17 9-18 9-17 9-18 10M3727 1094l19 8 18 7 19 8 1 9 0 10 1 9 1 10-15 8-15 8-15 8-15 8-22 6M3675 1102l16 7 15 6 15 7 1 8 0 7 1 8 1 8-13 7-12 7" stroke="#fff" stroke-width="1.2" fill="none" stroke-linejoin="round"/>
<path transform="scale(0.5)" d="M3247 1346l-15-4-14-4-14-5-14-4-14-6-12-5-12-6-12-7-11-7-10-8-7-8-3-9-1-9 9-8M3173 1345l-17-5-18-6-17-6-16-7-16-8-15-8-15-9-14-10-11-10-6-11-2-12M3154 1340l-18-6-17-6-17-7-16-8-16-8-15-9-14-10-11-11-6-11-2-12 10-10M3286 1369l-21-2-19-4-19-4-18-4-17-5-18-5-17-5-17-6-17-7-16-6-16-8-15-8-15-9-14-10-10-10-7-11-2-12 10-10 49-4 53 0 44 0M3264 1335l-12-3-11-4-12-4-11-4-10-5-9-5-9-5-8-6-7-6-5-7-2-7 0-7 8-7 30-2 32-1 26 0 23-1M3282 1371l-21-3-21-3-19-4-18-5-19-5-18-5-18-5-18-6-18-7-17-7-16-8-16-8-16-9-14-10-11-11-7-12-2-12 10-11 51-3 56-1 45 0M3296 1339l-12-2-11-3-12-4-10-3-11-4-10-4-9-4-9-5-8-5-7-5-6-6-4-7-2-6 1-7 7-6 27-2 30-1 24-1 21 0M3232 1335l-13-4-13-4-12-5-12-5-11-6-11-6-9-7-9-7-6-7-4-8 0-9 8-7 35-3 38-1 31 0 26-1M3207 1365l-20-5-20-5-19-6-20-6-19-6-19-7-18-8-18-8-18-9-17-10-16-11-12-12-7-12-3-13 11-12 55-4M3269 1347l-14-3-14-4-14-4-13-4-14-5-12-5-12-5-12-6-10-6-11-7-9-7-6-8-3-8 0-9 8-8 36-2M3276 1353l-15-4-15-3-14-4-15-4-14-5-14-4-14-6-13-5-12-6-12-7-11-7-10-8-8-8-4-9-1-10 9-8 38-3 42 0 35-1 29 0 26 0M3280 1372l-22-3-20-3-20-5-18-4-19-5-18-5-18-6-19-6-17-6-18-8-16-7-17-9-15-9-15-11-11-11-7-11-3-12 11-12 51-3 57-1 46 0M3247 1328l-11-4-10-4-10-5-9-5-8-5-7-6-7-6-4-6-2-7 1-6 7-7 28-2 31-1M3221 1331l-13-4-12-5-11-5-11-6-10-6-10-7-9-7-6-7-3-8 0-8 9-8 34-2 37-1 30 0 26-1 23 0M3293 1355l-16-3-15-3-15-3-14-4-14-4-14-5-14-5-14-5-12-5-12-6-12-7-10-7-10-8-7-8-4-9 0-9 8-8 38-3 41 0 34-1 29 0M3261 1358l-17-4-17-4-16-4-16-5-16-4-16-6-15-5-14-7-14-7-14-7-13-8-12-9-8-9-5-10-2-11 10-9 43-3 48-1 39 0M3307 1359l-17-3-16-3-16-3-15-3-15-4-15-5-14-4-15-5-14-5-13-6-12-6-12-7-12-7-10-8-8-9-4-9-1-9 9-9 39-3 43 0 35-1 30 0 26 0M3274 1353l-15-3-16-4-14-4-15-4-14-4-15-5-14-5-13-6-12-6-12-7-12-7-10-8-7-9-5-9 0-9 9-9 39-3 42 0M3241 1340l-13-4-14-4-13-5-13-5-12-5-12-6-11-6-10-7-9-7-7-8-3-8-1-9 9-8 35-3 39 0M3149 1349l-20-6-19-6-19-7-19-8-18-8-18-9-17-10-17-11-12-12-8-12-4-13M3152 1349l-19-6-19-7-19-6-18-8-17-8-18-9-16-10-16-10-12-12-8-12-3-13 11-12 55-4 59 0 49 0 41 0 35 0M3294 1355l-16-3-16-3-14-4-15-3-14-5-14-4-14-5-14-5-12-5-12-6-12-7-11-7-9-8-8-8-3-9-1-9 9-8 38-3M3209 1339l-15-4-15-5-14-6-14-6-13-6-13-7-12-8-11-8-9-9-4-9-1-10 9-9 40-3 44 0 37-1M3213 1332l-14-4-12-5-12-6-12-6-10-6-11-7-9-7-6-8-4-8 0-9 9-8 35-3 39 0 33-1 27 0 24 0M3216 1345l-15-4-16-5-16-5-15-6-14-6-14-7-14-7-13-8-11-9-9-9-6-10-1-10 9-9 43-3 47-1 38 0 32 0 29-1 25 0M3200 1334l-15-5-13-5-14-6-12-6-12-7-12-7-10-8-7-9-4-9-1-9 9-9 39-3" stroke="#0000ff" stroke-width="3.0" fill="none" stroke-linejoin="round"/>
<path transform="scale(0.5)" d="M3751 1279l7 9 8 9 7 8 8 9-11 9-10 8-11 8M3631 1270l15 4 13 6 12 6 10 6 7 6 3 7 2 7 0 7-8 7M3758 1279l14 9 15 8-1 9-1 9-1 10 0 9-20 8-19 7-20 8-19 7M3642 1260l15 6 16 5 15 6 16 6 6 7 7 8 6 7 6 8-9 7-9 7-9 8M3636 1253l22 4 21 5 16 6 15 7 15 7 15 7 4 8 3 8 4 9 4 8-15 7M3626 1263l16 5 15 5 13 6 13 6 10 6 6 7 4 7 1 7-1 7-8 7M3666 1279l12 6 10 6 7 7 4 7 2 7-1 7-8 7-11 7-14 5M3690 1240l27 5 21 7 20 8 21 8 20 8 9 10 9 10 8 9 9 10-12 10-13 10-12 9-12 10-26 7-27 6-26 7M3637 1261l17 5 17 5 12 7 11 6 11 7 12 6-1 8-1 8-1 7-1 8-16 6-16 6-15 6-16 6-21 4M3726 1254l19 8 20 7 20 8 8 9 9 10 8 9 8 10-11 9-12 10-12 9-12 9-25 7-25 6" stroke="#0000ff" stroke-width="2.6" fill="none" stroke-linejoin="round"/>
<path transform="scale(0.5)" d="M3290 1356l-16-3-16-3-15-3-15-4-15-5-14-4-15-5-14-5-13-6-13-6-12-7-11-7-11-8-7-9-5-9-1-9 9-9 40-3M3220 1372l-22-5-21-5-20-5-20-6-21-6-20-7-20-7-20-8-19-9-19-9-18-10-17-12-13-12-9-13-4-14M3275 1353l-16-3-15-4-15-4-14-4-15-4-14-5-14-5-13-6-12-6-12-7-11-7-10-8-8-9-4-9 0-9 9-8 39-3 42-1 35 0 29 0 26-1 23 0M3249 1345l-15-4-14-4-14-4-14-5-14-5-13-5-12-6-12-7-11-7-10-8-7-8-4-9-1-9 9-8M3334 1346l-13-2-13-2-12-3-12-2-11-3-12-3-11-4-11-4-10-4-10-4-9-5-8-5-8-6-6-5-5-7-1-6 0-7 7-6 28-3 30-1 25 0M3214 1363l-19-5-19-5-19-5-19-6-19-6-18-7-18-7-17-8-17-9-17-10-15-10-12-11-8-13-3-12 11-12 53-4M3239 1365l-20-4-18-4-19-5-18-5-19-6-18-6-18-6-17-8-17-7-17-9-16-9-15-11-11-11-8-11-2-13 10-11 52-4 57 0 46 0 39 0 34 0 30 0 27 0M3260 1336l-12-3-12-4-11-4-11-5-11-4-9-5-9-6-8-6-8-6-5-7-2-7 1-8 8-6 30-3M3264 1335l-12-3-12-4-11-4-11-4-10-5-9-5-9-5-8-6-7-6-4-7-2-7 0-7 8-6 29-3 32-1 27 0 22-1 21 0 18-1M3218 1352l-17-4-16-5-17-5-17-5-16-6-16-7-15-7-15-8-14-9-13-9-10-10-6-10-2-12M3286 1349l-14-3-14-3-14-4-14-3-13-4-13-5-13-5-12-5-11-6-11-6-10-7-9-7-6-8-4-8 0-8 8-8 35-3 39-1 31 0M3337 1353l-15-1-15-2-15-3-13-3-14-3-13-3-12-4-13-4-12-4-12-5-11-5-11-5-10-6-9-6-8-7-6-7-2-8 0-8M3145 1350l-20-6-20-7-19-7-18-7-18-9-18-9-18-10-16-11-12-12-8-13-3-13 11-12 56-4 62 0 50 0M3253 1327l-11-4-10-4-9-4-9-5-8-5-7-5-6-6-5-6-1-7 0-6 8-7 26-2 30-1 24 0 21-1 19 0M3299 1376l-22-2-22-3-20-4-20-5-19-4-19-5-18-6-19-5-19-6-18-7-17-7-17-8-17-9-16-9-15-11-11-11-8-12-2-12M3225 1370l-20-5-20-5-20-5-20-5-19-6-20-7-19-7-19-7-18-9-18-9-17-10-17-11-12-12-8-13-4-13 12-12 56-4 61 0 50 0 42 0 37 0 32 0M3263 1367l-20-3-19-4-18-5-18-4-17-6-18-5-18-6-17-6-16-7-16-8-15-8-15-9-14-10-11-10-6-12-2-11 10-11M3249 1333l-12-4-12-4-11-5-10-4-10-5-9-6-8-6-7-6-5-7-2-7 0-8 8-6 30-3 34-1 27 0 23 0M3263 1349l-15-4-15-3-14-4-14-5-14-5-14-5-13-5-12-6-11-7-11-7-10-8-7-8-4-9 0-9 9-8 37-3 42-1 34 0 29 0 25 0 23-1M3210 1354l-18-4-17-5-18-6-17-5-17-7-16-6-16-8-15-8-15-9-14-10-10-10-7-11-2-12 11-10 48-4 54 0 44 0 36 0 32 0 29-1 25 0M3296 1354l-16-3-15-3-15-3-15-4-14-4-14-4-14-5-14-5-13-5-12-6-12-7-11-7-10-8-7-8-4-9-1-9 8-8 38-3 41-1M3248 1327l-11-3-10-5-10-4-9-5-8-5-8-6-6-6-4-6-2-7 1-6 7-7 28-2 30-1 26 0 21-1M3242 1376l-23-4-21-5-21-5-20-5-20-6-21-6-20-7-20-7-19-8-19-9-18-9-18-10-17-12-13-12-8-13-3-14 11-12 58-4 64 0 52 0M3227 1336l-14-4-13-5-13-4-12-6-12-6-11-6-11-7-10-7-7-8-3-9-1-8 8-8M3249 1373l-22-4-20-4-20-5-19-5-20-6-19-6-19-6-19-7-18-8-18-8-18-9-17-10-15-11-13-11-7-13-3-13 11-12 55-4M3264 1357l-16-4-17-4-15-4-16-4-16-5-15-5-15-6-14-6-14-7-13-7-13-8-11-8-9-10-5-9-1-11 9-9 43-3 46 0 38-1M3184 1361l-20-6-20-5-20-6-19-7-20-7-18-7-18-9-19-9-17-10-16-11-13-12-8-13-3-13 11-12 56-4 62 0 50 0 42 0 37-1 32 0M3291 1367l-20-3-19-3-18-4-17-4-17-5-17-5-17-5-17-5-16-6-16-7-15-7-15-8-14-9-13-9-10-10-6-11-2-11 10-10 47-3 51-1 42 0 36 0 30 0 28 0M3200 1367l-21-5-20-6-19-5-20-7-20-6-20-7-19-8-18-9-18-9-18-10-16-11-13-13-8-12-3-14 11-12 58-4 63 0 51 0 42 0 37 0 33 0 30 0M3325 1360l-17-2-17-2-16-3-16-3-15-4-15-4-14-4-15-4-14-5-14-5-13-6-12-6-12-7-12-7-10-8-8-9-4-9-1-9 9-9 39-3" stroke="#ff0000" stroke-width="2.2" fill="none" stroke-linejoin="round"/>
<path transform="scale(0.5)" d="M3768 1258l16 9 16 9 16 9 16 10-1 10 0 11-1 10-1 11-21 8-22 8-22 9-22 8-29 6M3591 1255l16 4 16 4 16 5 15 5 14 6 12 6 10 6 7 7 4 7 2 7-1 7-8 7-11 7-14 6-16 5-17 5-18 4M3748 1271l17 8 17 8 4 9 4 9 5 10 4 9-17 9-16 8-17 8-16 8-26 6-25 5-25 5M3684 1270l17 5 9 8 10 7 9 8 9 7-5 8-5 8-6 7-5 8-18 6-19 6-19 6-18 5-23 4M3740 1262l18 8 18 8 17 8 5 10 5 9 4 10 5 10-17 8-17 9-17 9M3700 1259l18 6 18 7 18 7 7 9 8 9 7 8 8 9-11 9-11 8-11 9M3615 1249l22 3 22 4 17 7 16 6 17 6 16 6 7 8 7 8 7 8 6 8-10 8-10 8-10 8-10 7-21 6-21 5-21 5-21 6M3675 1278l12 6 11 7 7 7 4 7 2 7-1 8-8 7M3770 1268l12 9 12 10 12 9 12 9-6 10-6 10-6 9-7 10-23 7-23 8-23 7-24 7M3673 1232l23 6 23 7 24 7 23 6 16 9 16 10 16 9 16 9-1 10-1 11 0 10-1 10-22 9M3660 1235l22 7 22 6 22 6 22 7 15 8 16 9 15 9 15 8-1 10-1 10-1 10 0 10-21 8M3709 1246l20 8 20 7 20 8 19 7 8 10 9 10 8 9 8 10-12 9-12 10" stroke="#ff0000" stroke-width="2.2" fill="none" stroke-linejoin="round"/>
<path transform="scale(0.5)" d="M3189 1359l-19-5-20-5-19-6-19-6-19-7-18-8-17-8-17-9-17-10-16-11-12-11-8-12-3-13 11-12 55-4 60 0M3258 1343l-14-4-13-3-14-5-13-4-12-5-12-5-11-6-11-6-10-7-9-7-6-8-3-8M3227 1343l-15-4-15-5-14-5-14-5-13-6-13-6-12-7-12-7-10-8-8-9-4-9-1-10 9-8 40-3M3229 1330l-12-4-12-5-11-5-10-5-10-6-9-6-7-7-6-7-2-8 0-7 8-8M3206 1321l-11-5-10-5-10-6-8-6-8-7-6-7-3-8 1-7 8-7 31-3 35-1M3178 1344l-17-5-17-6-16-6-16-7-15-7-15-8-15-9-13-9-10-10-6-11-2-12M3178 1330l-15-6-13-6-13-6-13-7-11-8-11-8-8-9-4-9-1-10 9-8 40-4M3246 1323l-10-4-9-4-8-5-8-5-7-5-5-6-4-6-1-6 1-6 8-6M3134 1334l-17-6-17-7-16-8-15-8-16-9-14-10-11-11M3187 1360l-20-5-19-6-20-6-20-6-19-7-18-8-18-8-18-9-17-10-16-11-12-12-8-12-3-13 11-12M3179 1337l-16-6-15-5-15-7-14-7-14-7-14-8-12-9-9-9M3258 1331l-12-3-11-4-10-4-10-5-9-5-9-5-7-6-7-6-5-6-2-7 1-7 7-6 29-3 30 0" stroke="#fff" stroke-width="1.2" fill="none" stroke-linejoin="round"/>
<path transform="scale(0.5)" d="M3743 1271l11 8 11 9 11 8 11 9-6 9-6 9-5 9-6 9-22 7-21 6M3758 1260l19 8 18 9 19 8 5 10 5 10 5 11 4 10-18 9-18 9-18 9M3693 1277l11 6 12 7 12 7-1 8 0 8-1 8-1 8-16 6-17 6M3681 1278l11 6 11 7 12 7-1 7-1 8-1 7-1 8-16 6-16 5-15 6M3713 1257l19 7 19 7 19 7 8 9 8 9 8 9 8 10-12 9-11 8-11 9-12 9-24 6M3645 1274l13 6 11 6 10 6 7 6 3 7 2 7-1 7-8 6-11 7-13 5M3688 1269l17 6 10 7 9 8 10 7 10 8-6 8-5 8M3655 1273l13 6 12 6 10 6 7 7 4 7 2 7-1 7-8 7-12 7-14 6-16 5M3654 1287l9 6 6 6 3 6 1 6-1 7-7 6-11 6-12 5M3602 1274l12 5 11 4 10 5 9 6 5 5 3 6 2 6-1 6-7 6-10 5" stroke="#fff" stroke-width="1.2" fill="none" stroke-linejoin="round"/>
<path transform="scale(0.5)" d="M3522 1305l-1 3-1 2-3 3-4 2-5 2-6 2-6 2-7 2-7 1-7 1-8 1-7 1-8 0-7 1-7 0-8 0-7 0-7 0-7 0-7 0-7-1-7 0-7-1-7 0-7-1-6-1-7-1-6-2-6-1-6-2-6-2-5-2-4-2-3-2-3-2-2-3-1-3 1-2 1-3 2-2 3-3 5-2 9-2 9-1 9-1 8 0 8-1 7-1 7 0 7-1 7 0 7 0 7 0 7 0 7 0 7 0 7 0 7 0 7 1 7 0 7 1 8 0 8 1 7 2 6 1 6 2 6 2 5 2 4 2 4 3 2 2zM3610 1305l1 5-1 5-5 4-8 5-9 4-11 4-11 3-13 3-13 2-14 3-14 1-14 2-14 1-14 0-14 0-14 0-13 0-13 0-13-1-12 0-12-1-12-2-12-1-12-1-11-2-12-1-10-3-11-2-10-3-10-2-9-4-9-3-9-3-8-4-7-5-6-4-6-5-4-5-3-5 0-6 2-5 7-5 22-2 25-1 20-1 18 0 16-1 15 0 13 0 13-1 12 0 12 0 12 0 11 0 11 0 12 0 11 0 13 0 12 1 14 0 14 1 16 0 15 1 12 3 11 3 11 3 10 3 9 4 9 4 7 5 4 4zM3630 1305l1 5-1 6-6 5-9 5-10 4-12 4-13 4-14 3-14 3-16 2-15 2-15 1-16 1-16 1-15 0-15 0-14-1-14 0-14-1-13-1-13-1-12-1-13-1-13-2-12-1-12-2-11-3-11-2-11-3-11-3-10-3-10-4-9-4-9-4-8-4-7-5-6-5-6-6-3-5-1-6 1-7 7-5 25-2 27-1 23-1 19 0 18-1 16 0 14-1 14 0 13 0 13 0 13 0 12 0 12 0 13 0 13 0 13 0 14 0 15 1 16 0 17 0 18 2 12 3 13 3 12 3 11 4 10 4 9 5 8 5 5 5zM3612 1305l1 5-2 5-6 4-8 5-10 4-11 3-12 4-13 2-13 3-14 2-14 1-14 2-14 0-14 1-14 0-13 0-13-1-12 0-12-1-12 0-11-1-12-1-11-2-11-1-11-1-11-2-10-2-10-2-9-3-10-3-9-2-9-4-8-3-8-4-7-4-6-4-6-5-4-4-3-6-1-5 1-5 7-5 21-2 23-1 19-1 18-1 15 0 14-1 14 0 12-1 12 0 12 0 12 0 11 0 11 0 12 0 12 0 12 0 13 0 14 0 15 1 16 0 16 1 12 3 11 3 11 3 11 4 9 4 8 4 7 4 4 5zM3556 1305l0 3-1 4-4 3-6 3-7 3-7 3-9 2-9 2-9 2-10 2-10 1-10 1-10 0-10 1-10 0-9 0-10 0-9 0-9 0-9-1-9 0-9-1-8-1-9-1-9-1-8-1-8-2-8-1-8-2-7-2-7-3-7-2-6-3-5-3-5-3-3-3-3-3-2-4 0-4 1-3 3-4 5-3 14-2 15-1 13-1 12-1 11 0 11-1 9 0 10-1 9 0 9 0 8 0 9 0 9 0 8 0 9 0 9 0 9 1 10 0 10 1 11 0 11 1 9 2 8 2 8 3 7 2 7 3 6 3 4 3 3 4zM3595 1305l1 5-1 4-5 4-7 4-9 4-10 3-11 3-11 3-13 2-12 2-13 2-13 1-13 1-13 0-13 0-12 0-12 0-12 0-11 0-12-1-11-1-10-1-11-1-11-1-11-2-10-1-10-2-9-3-9-2-9-2-9-3-9-3-7-4-7-3-7-4-5-4-5-4-3-5-2-5 0-5 1-5 7-4 19-2 22-1 18-1 16 0 14-1 14 0 12-1 12 0 11 0 11 0 10-1 11 0 11 0 10 0 11 1 12 0 11 0 13 0 13 1 15 0 14 2 11 2 10 3 10 3 10 3 8 3 8 4 6 4 4 5zM3551 1305l0 3-2 4-3 3-6 3-6 3-8 2-8 2-8 2-9 2-10 2-9 1-10 1-10 0-9 1-10 0-9 0-9 0-9 0-9 0-8-1-9 0-8-1-9-1-8-1-9-1-8-1-8-1-7-2-8-2-7-2-7-2-6-2-6-3-5-3-4-3-3-3-2-3-2-4 0-3 2-4 2-3 6-3 13-2 14-1 12-1 12-1 10 0 10-1 9 0 9-1 9 0 8 0 9 0 8 0 8 0 9 0 8 0 9 0 9 1 9 0 10 1 10 0 11 1 8 2 8 2 8 2 7 3 6 2 6 3 4 3 3 4zM3602 1305l0 5-1 4-5 5-8 4-8 4-11 3-11 3-12 3-12 3-13 2-13 1-14 2-13 1-14 0-13 0-13 0-13 0-12 0-12 0-12-1-12-1-11-1-12-1-12-1-11-1-11-2-11-2-11-3-10-2-10-3-9-3-10-3-9-4-8-3-7-5-6-4-6-5-5-5-3-5 0-6 1-5 7-5 23-2 24-1 21-1 18 0 16-1 15 0 13 0 13-1 12 0 12 0 12 0 11 0 11 0 12 0 11 1 12 0 12 0 13 1 14 0 15 1 15 1 11 3 11 3 10 3 10 3 8 4 8 4 6 4 4 4zM3568 1305l0 4-1 4-4 3-6 4-8 3-8 3-10 2-10 2-10 2-11 2-10 1-11 1-11 1-11 0-11 0-10 0-10 0-10 0-10-1-9 0-9-1-9-1-9-1-9-1-9-1-9-1-8-2-8-2-8-2-8-2-7-2-7-3-6-2-6-3-4-4-4-3-3-4-2-3-1-4 1-4 2-4 6-3 15-2 16-1 14-1 12-1 12-1 10 0 10-1 10 0 10 0 9 0 9-1 9 0 9 0 9 0 10 0 9 1 10 0 11 0 11 1 12 0 12 1 9 2 9 3 9 2 8 3 8 3 6 3 5 4 3 3z" stroke="#0000ff" stroke-width="2.6" fill="none" stroke-linejoin="round"/>
<path transform="scale(0.5)" d="M3602 1305l0 5-1 4-5 5-8 4-9 4-10 3-11 3-12 3-13 2-13 2-14 2-13 1-14 1-13 0-13 0-13 0-12 0-12 0-12-1-11-1-11-1-11-1-11-1-10-1-11-2-10-1-10-2-9-3-9-2-9-3-8-2-9-3-7-4-7-3-6-4-5-4-5-4-3-5-2-4 0-5 1-5 7-5 19-2 21-1 18-1 15 0 15-1 13 0 12-1 12 0 11 0 11-1 10 0 11 0 11 0 11 0 11 0 11 0 12 1 13 0 14 0 15 1 15 1 11 2 11 3 10 3 10 3 9 4 8 4 7 4 4 4zM3586 1305l1 4-1 5-5 4-7 3-8 4-9 3-11 3-11 3-11 2-12 2-12 1-13 1-12 1-12 1-13 0-11 0-12 0-11-1-11 0-11-1-10-1-11 0-10-1-10-2-11-1-10-2-9-1-9-2-9-3-9-2-8-3-8-3-8-3-6-3-6-4-5-4-4-4-3-4-2-5 0-5 3-4 6-5 18-2 20 0 17-1 15-1 14 0 13-1 11 0 12-1 10 0 11 0 10 0 10 0 10 0 10 0 11 0 10 0 12 1 11 0 13 1 14 0 13 1 10 3 10 2 10 3 9 3 8 3 7 4 6 4 4 4zM3556 1305l0 4-1 3-4 3-5 4-7 2-7 3-9 3-8 2-10 1-10 2-10 1-10 1-10 1-10 1-10 0-10 0-10 0-9 0-9-1-9 0-9-1-9-1-9 0-9-1-9-1-8-2-8-1-8-2-8-2-7-2-7-2-7-3-5-3-6-3-4-3-3-3-3-3-1-4 0-4 1-3 3-4 6-3 14-2 15-1 13-1 12 0 11-1 10 0 9-1 9 0 9 0 9-1 9 0 8 0 8 0 9 0 9 1 9 0 9 0 9 1 10 0 11 1 11 1 8 2 9 2 8 2 7 2 7 3 6 3 5 3 3 4zM3621 1305l1 5-1 5-5 5-9 5-9 4-12 4-12 4-13 3-14 2-15 3-14 1-15 2-15 1-16 0-14 0-15 0-13 0-14 0-13-1-13 0-13-2-12-1-13-1-12-1-12-2-12-2-11-2-11-3-11-2-10-3-10-4-10-3-9-4-9-4-7-4-7-5-6-5-6-5-3-6 0-6 1-6 7-5 24-3 27 0 22-1 19 0 17-1 16 0 14 0 14-1 13 0 12 0 12 0 12 0 12 0 12 0 12 0 13 0 13 1 15 0 15 1 17 0 16 1 12 3 12 3 12 4 11 3 9 4 9 4 7 5 5 5zM3612 1305l1 5-2 5-6 4-8 5-10 4-11 3-12 4-13 2-13 3-14 2-14 2-14 1-14 1-14 0-13 0-14 0-12 0-13 0-12-1-12-1-12 0-12-1-11-2-12-1-12-1-11-2-11-2-10-2-10-3-11-3-9-3-10-3-9-3-8-4-8-4-7-5-6-5-6-5-3-5-1-6 1-6 6-5 23-3 25 0 22-1 18-1 17 0 15-1 14 0 13 0 13-1 12 0 12 0 12 0 12 0 12 0 12 1 13 0 13 0 14 1 15 0 16 1 16 1 12 3 11 3 11 3 10 4 9 4 8 4 6 4 4 5zM3592 1305l0 4-1 5-5 4-7 4-8 4-10 3-10 3-12 3-12 2-12 2-13 1-12 1-13 1-13 1-12 0-13 0-11 0-12-1-11 0-11-1-11-1-11 0-11-1-10-2-11-1-10-2-10-2-9-2-9-2-9-3-9-2-8-3-8-4-7-3-6-4-5-4-5-4-3-5-2-4 0-5 2-5 6-5 20-2 21-1 18 0 15-1 15 0 13-1 12 0 11-1 11 0 11 0 11 0 10 0 10 0 11 0 11 0 11 0 11 1 12 0 13 1 15 0 14 1 10 3 10 2 10 3 10 3 8 4 7 3 6 4 5 5zM3606 1305l1 5-1 5-6 4-7 4-10 4-10 4-12 3-12 3-13 2-13 2-14 2-14 1-14 1-14 0-13 1-13-1-13 0-12 0-12 0-12-1-11-1-12-1-11-1-11-2-12-1-10-2-11-2-10-2-9-3-10-2-9-3-9-4-8-3-8-4-7-4-6-4-5-5-4-4-3-6 0-5 1-5 7-5 21-2 23-1 20-1 17 0 15-1 15 0 13-1 12 0 12 0 12 0 11-1 11 0 11 0 11 1 12 0 12 0 12 0 14 1 14 0 15 0 16 2 11 2 11 3 11 3 10 4 9 3 8 4 7 5 4 4zM3601 1305l1 5-2 4-5 5-7 4-9 4-10 3-12 3-11 3-13 2-13 2-13 2-14 1-13 1-14 1-13 0-12 0-13 0-12-1-12 0-12-1-11-1-11-1-11-1-12-1-11-2-10-1-10-2-10-3-10-2-10-3-9-3-9-3-8-3-7-4-7-4-6-4-5-5-4-4-3-5 0-6 2-5 6-5 21-2 23-1 20 0 17-1 15 0 14-1 13 0 12 0 12-1 11 0 11 0 11 0 11 0 11 0 11 0 12 1 12 0 13 0 14 1 15 0 15 2 11 2 11 3 10 3 10 3 8 4 8 4 7 4 4 4z" stroke="#ff0000" stroke-width="2.2" fill="none" stroke-linejoin="round"/>
<path transform="scale(0.5)" d="M3577 1118l11 4 8 4 7 5 5 5 3 4 0 5-3 5-4 5-6 5-8 4-9 4-10 4-12 3-12 3-12 3M3544 1114l11 3 11 3 10 4 9 3 6 5 5 4 3 5 0 4-1 5-4 5-6 4-7 4-9 4-10 3-10 3-12 3M3540 1124l8 3 7 4 6 3 4 4 2 4 1 3-1 4-3 4-4 4-6 3-7 3-8 3-9 3-9 2-10 3M3560 1126l7 3 6 4 5 4 2 4 1 4-2 5-3 4-5 4-6 3-8 4-9 3-9 3-11 2-10 3" stroke="#0000ff" stroke-width="2.4" fill="none" stroke-linejoin="round"/>
<path transform="scale(0.5)" d="M3580 1118l11 4 9 4 7 4 5 5 3 5 0 5-2 5-5 5-6 5-8 4-10 4M3586 1117l11 4 11 4 4 5 4 5 3 5 4 5-6 5-5 5-6 5-6 5M3565 1120l10 4 8 4 6 4 5 4 2 5 0 4-2 5-4 4-6 5-7 4-9 3-9 4M3605 1120l6 5 6 5 7 5 6 5-4 5-4 5-3 6-4 5-11 4-11 4M3579 1118l11 4 8 4 7 5 5 4 3 5 0 5-3 5-4 5-6 5-8 4-9 4-11 4-11 3M3609 1125l4 5 4 5 4 5 4 5-6 5-6 5-5 5-6 5" stroke="#fff" stroke-width="1.4" fill="none" stroke-linejoin="round"/>
<path transform="scale(0.5)" d="M3207 1167l-2-6 0-5 2-5 3-6 4-5 6-4 7-5 8-4 9-4M3264 1170l-8-4-7-4-4-4-2-4-1-4 0-5 2-4 4-4 5-4M3196 1174l-5-6-2-6 1-5 3-6 4-6 5-5 6-5 8-5 9-4 10-4 10-4 12-4M3208 1161l0-5 1-6 3-5 4-5 5-4 7-5 8-4M3220 1160l-1-5 1-5 2-5 4-4 5-5 6-4 7-4M3281 1172l-12-3-8-3-6-4-4-4-2-4-1-4 0-5 2-4 4-4 5-3 6-4 7-3 9-3 9-3" stroke="#fff" stroke-width="1.4" fill="none" stroke-linejoin="round"/>
<path d="M1307.8 610.4C1312.6 610 1327.3 609.1 1336.8 608.1C1346.3 607.1 1355.5 606.5 1364.9 604.4C1374.2 602.2 1383.6 599.2 1392.9 595.2C1402.3 591.2 1411.7 584.9 1421 580.2C1430.4 575.5 1439.7 571.1 1449.1 567C1458.4 562.8 1466.2 559.5 1477.2 555.5C1488.1 551.6 1499 547.6 1514.6 543.2C1530.2 538.8 1552 532.7 1570.7 529C1589.5 525.2 1603.7 523.2 1626.9 520.5C1650.1 517.9 1696.1 514.5 1710 513.2" stroke="#ff0000" stroke-width="1.2" fill="none" stroke-linejoin="round" />
<path d="M1710 513.2L1774.9 512.1L1849.7 514.4L1905.9 521.8L1943.3 530.3L1971.4 540.6L1986.4 551.8L1991 560.2L1986.4 576.1L1977 585.5L1958.3 596.7L1924.6 610.7L1887.2 622L1859.1 628.5" stroke="#ff0000" stroke-width="1.2" fill="none" stroke-linejoin="round" />
<path transform="scale(0.5)" d="M3421 1306l-1 1-1 0-1 0-2 0-1 0-1 0-2 0-1 0-1 0-1-1-1 0 0-1 1 0 1-1 2 0 1 0 2 0 2 0 1 0 2 0 1 1 1 0 1 0 1 1-1 0 0 1-1 0-1 0-2 1-2 0-2 0-2 0-2 0-2-1-2 0-1 0-1-1 0-1 1 0 1-1 1 0 2 0 3-1 2 0 2 0 3 1 2 0 2 0 2 1 1 0 0 1-1 1-1 1-2 0-2 0-3 1-3 0-3 0-3 0-3-1-2 0-2-1-1 0 0-1 0-1 1-1 1 0 3-1 2 0 4-1 3 0 4 0 3 1 3 0 3 0 2 1 1 1 1 1 0 1-1 1-2 0-3 1-3 0-4 1-4 0-4 0-4 0-4-1-3 0-3-1-2-1 0-1 0-1 1-1 3-1 3-1 4-1 4 0 5 0 5 0 5 0 4 1 4 1 3 0 2 2 1 1 0 1-2 1-2 1-4 1-5 1-5 1-6 0-6 0-6-1-5 0-5-1-3-1-3-2-1-1 1-2 1-1 4-1 4-2 6 0 6-1 7 0 7 0 7 0 6 1 6 1 4 2 3 1 1 2 0 2-2 1-4 2-6 1-6 1-8 1-8 0-8 0-9 0-7-1-7-2-5-1-3-2-2-2 1-2 2-2 5-2 6-2 8-1 9-1 10 0 10 0 10 1 9 1 8 1 6 2 4 2 2 3-1 2-3 3-6 2-7 2-10 1-10 1-12 1-12 0-12-1-10-2-10-1-7-3-5-2-2-3 1-3 4-3 6-3 9-2 11-2 13-1 14 0 14 0 14 1 13 1 11 2 9 3 5 3 3 4-1 3-4 4-8 3-11 3-13 2-15 1-17 1-17-1-16-1-16-1-13-3-10-3-7-4-3-4" stroke="#0000ff" stroke-width="2.2" fill="none" stroke-linejoin="round"/>
<path transform="scale(0.5)" d="M3419 1306l-1 0 0 1-1 0-1 0-1 0-1 0-1 0-1 0-1-1-1 0 0-1 1 0 1 0 1 0 1 0 1 0 1 0 1 0 1 0 1 0 1 0 1 1-1 0 0 1-1 0-1 0-2 0-1 0-1 0-2 0-1 0-1 0-1-1-1 0 0-1 1 0 2-1 1 0 1 0 2 0 2 0 1 0 2 1 1 0 1 0 1 1 0 1-1 0-2 0-1 1-2 0-2 0-2 0-2 0-2-1-1 0-2 0 0-1-1 0 0-1 1 0 1-1 2 0 2 0 2-1 2 0 2 0 3 1 2 0 2 0 1 1 1 0 1 1 0 1-1 0-2 1-1 0-3 0-2 1-3 0-3 0-3-1-2 0-3-1-1 0-1-1-1 0 0-1 1-1 2 0 2-1 3 0 3-1 3 0 4 0 3 1 3 0 3 1 2 0 1 1 1 1 0 1-2 1-1 1-3 0-3 1-4 0-4 0-4 0-4-1-4 0-3-1-3-1-1-1-1-1 0-1 2-1 2 0 3-1 4-1 4 0 5 0 5 0 5 0 4 1 4 1 3 1 2 1 1 1 0 1-2 2-3 1-3 1-5 0-5 1-6 0-6 0-6-1-5-1-5-1-3-1-3-1-1-2 1-1 2-2 3-1 4-1 6-1 6 0 7 0 7 0 7 1 6 0 6 2 4 1 3 2 1 1 0 2-2 2-4 1-6 2-6 1-8 0-8 0-9 0-8-1-7-1-7-1-5-2-4-2-1-2 1-2 2-2 5-2 6-1 8-1 9-1 10 0 10 0 10 1 9 1 8 2 6 2 4 2 2 3-1 2-3 3-5 2-8 2-10 1-10 1-12 0-12-1-12-1-11-1-9-2-8-3-5-2-2-3 1-3 4-3 6-3 10-2 11-1 13-1 14-1 15 1 14 1 13 2 11 2 9 3 6 4 2 3-1 4-4 3-8 3-11 3-14 2-15 1-17 0-18 0-17-2-15-2-13-3-11-4-7-4-3-4" stroke="#ff0000" stroke-width="2.2" fill="none" stroke-linejoin="round"/>
</g>
<g font-size="48" fill="#262626">
<text x="1290.3" y="756.6" text-anchor="middle">0</text>
<text x="1455.8" y="756.6" text-anchor="middle">10</text>
<text x="1621.4" y="756.6" text-anchor="middle">20</text>
<text x="1786.9" y="756.6" text-anchor="middle">30</text>
<text x="1952.5" y="756.6" text-anchor="middle">40</text>
<text x="2118" y="756.6" text-anchor="middle">50</text>
<text x="1277" y="697.1" text-anchor="end">-10</text>
<text x="1277" y="663.4" text-anchor="end">-5</text>
<text x="1277" y="629.7" text-anchor="end">0</text>
<text x="1277" y="596" text-anchor="end">5</text>
<text x="1277" y="562.4" text-anchor="end">10</text>
</g>
<g id="ax-e">
<rect x="198.3" y="874.4" width="829.2" height="208.5" fill="#fff"/>
<path d="M225.9 1082.9V874.4M253.6 1082.9V874.4M281.2 1082.9V874.4M308.9 1082.9V874.4M336.5 1082.9V874.4M364.1 1082.9V874.4M391.8 1082.9V874.4M419.4 1082.9V874.4M447.1 1082.9V874.4M474.7 1082.9V874.4M502.3 1082.9V874.4M530 1082.9V874.4M557.6 1082.9V874.4M585.3 1082.9V874.4M612.9 1082.9V874.4M640.5 1082.9V874.4M668.2 1082.9V874.4M695.8 1082.9V874.4M723.5 1082.9V874.4M751.1 1082.9V874.4M778.7 1082.9V874.4M806.4 1082.9V874.4M834 1082.9V874.4M861.7 1082.9V874.4M889.3 1082.9V874.4M916.9 1082.9V874.4M944.6 1082.9V874.4M972.2 1082.9V874.4M999.9 1082.9V874.4M198.3 1080.6H1027.5M198.3 1072.8H1027.5M198.3 1064.9H1027.5M198.3 1057.1H1027.5M198.3 1049.3H1027.5M198.3 1041.5H1027.5M198.3 1033.6H1027.5M198.3 1025.8H1027.5M198.3 1018H1027.5M198.3 1010.1H1027.5M198.3 1002.3H1027.5M198.3 994.5H1027.5M198.3 986.7H1027.5M198.3 978.9H1027.5M198.3 971H1027.5M198.3 963.2H1027.5M198.3 955.4H1027.5M198.3 947.5H1027.5M198.3 939.7H1027.5M198.3 931.9H1027.5M198.3 924.1H1027.5M198.3 916.2H1027.5M198.3 908.4H1027.5M198.3 900.6H1027.5M198.3 892.8H1027.5M198.3 885H1027.5M198.3 877.1H1027.5" stroke="#c6c6c6" stroke-width="1" stroke-dasharray="1.2 2.9" fill="none"/>
<path d="M198.3 874.4H1027.5V1082.9H198.3ZM336.5 1082.9v-8.5M336.5 874.4v8.5M474.7 1082.9v-8.5M474.7 874.4v8.5M612.9 1082.9v-8.5M612.9 874.4v8.5M751.1 1082.9v-8.5M751.1 874.4v8.5M889.3 1082.9v-8.5M889.3 874.4v8.5M198.3 1072.8h8.5M1027.5 1072.8h-8.5M198.3 1033.6h8.5M1027.5 1033.6h-8.5M198.3 994.5h8.5M1027.5 994.5h-8.5M198.3 955.4h8.5M1027.5 955.4h-8.5M198.3 916.2h8.5M1027.5 916.2h-8.5" stroke="#262626" stroke-width="1.15" fill="none" stroke-opacity="0.8"/>
</g>
<g clip-path="url(#cp-e)">
<path transform="scale(0.5)" d="M1301 2040l-14-8-15-8-17-7-20-6-21-5-23-4-23-3-24-3-24-3-18-1-14-1-14-2-14 0-13-1-13-1-12 0-11-1-11-1-11 0-10-1-10 0-9-1-9-1-9-1-9-1-8-1-8-1-8-2-8-1-7-2-8-3-7-3-7-3-8-3-6-5-6-5-6-5-3-7-2-8 1-9 6-9 11-11 19-12 26-13 36-13 45-12 53-12 57-9 81-5 83 0 67 4 48 9 29 13 13 16 1 17-5 17-10 16-12 15-15 13-16 12-19 10-22 8-27 8-30 5-32 5-34 5-34 6-31 6-24 6-14 5-11 4-9 4-8 4-8 2-7 3-8 2-6 3-6 2-5 3-3 4-2 4 1 3 2 5 3 4 6 4 9 4 9 3 11 4 11 4 13 3 13 3 18 3 25 2 28 2 28 1 21-3 12-5 4-6-2-7-6-6-9-6-7-5-7-4-7-5-9-4-8-3-10-4-10-3-12-3-13-2-13-2-13-2-10-2-10-2-10-1-10 0-11 0-10 0-11 1-10 1-9 2-10 2-8 3-7 3-6 4-4 4-3 5 0 5 3 5 5 6 9 6 11 6 14 5 16 5 17 5 19 5 20 5 27 4 38 3 41 3 37-1 28-4 15-8 5-9-4-9-9-9-11-8-10-7-9-6-10-7-11-5-12-5-14-5-14-4-16-4-17-3-18-2-19-3-12-2-12-2-12-1-13 0-12-1-13 0-12 1-12 1-11 1-11 2-11 2-11 2-9 3-9 4-9 4-7 4-5 6-3 6-1 6 2 7 7 8 10 8 16 9 19 8 24 8 26 7 29 8 32 7 44 5 57 4 56 1 44-4 31-8 18-10 4-12-5-13-11-12-13-11-12-10-12-9-14-8-14-8-17-6-18-6-20-5-21-4-22-4-23-2-23-3-17-2-14-1-13-1-14-1-13 0-12-1-12 0-12 0-10 0-11 0-10 0-10 0-9 0-9 1-9 0-8 0-8 0-7 1-7 0-7 1-7 1-7 1-6 0-6 2-7 1-6 1-6 2-6 2-5 3-6 2-6 4-6 4-6 4-5 6-4 6-3 7-1 8 3 10 8 11 15 12 22 14 32 15 44 14 53 14 62 13 67 8 100 5 86-2 66-7 42-13 22-16 6-19-3-20-9-18-12-18-13-16-15-14-18-11-22-10-29-9-34-6-36-6-39-6-38-8-33-8-25-8-14-6-8-7-4-5-2-4-2-3-3-2-3-2-3-1-2-1-2-2 0-2 0-2 3-2 3-1 4-2 3-1 4-2 5-1 4-1 5-2 5-1 8 0 10 0 9-1 11 0 11 0 7 2 0 2-4 3-5 3-2 2-3 2-4 1-4 2-3 1-3 2-5 1-5 1-4 2-6 1-6 1-5 2-5 0-5 1-5 0-6 0-5 0-7 0-6-1-5-1-5-1-4-2-3-2-1-3 1-2 2-3 4-3 6-2 5-3 7-2 7-2 8-2 7-2 9-2 11-1 16-1 16-1 17-1 15 1 11 3 3 4-4 4-6 4-4 3-5 4-6 2-5 3-5 2-6 3-6 2-8 2-7 2-9 2-9 2-8 1-7 1-7 1-8 0-7 0-8 0-7-1-8 0-8-2-6-1-6-2-5-3-3-3-2-3 1-4 2-4 5-4 8-3 7-4 9-3 11-3 10-3 12-3 12-3 18-2 23-2 24-1 24 0 20 2 13 4 4 5-4 6-7 6-7 5-6 5-8 4-7 4-8 3-8 4-9 3-11 2-11 3-11 2-13 2-12 2-9 2-9 1-10 0-9 0-10 0-10-1-9-1-10-1-8-2-8-2-7-3-6-4-4-3-3-5 0-4 2-5 6-5 8-6 10-5 12-4 15-5 15-4 16-4 18-4 23-3 33-3 35-2 32 0 27 3 16 6 5 8-3 8-8 8-9 7-9 6-10 6-9 5-10 5-11 5-12 4-14 3-14 3-16 3-16 3-17 2-11 2-12 1-11 1-12 0-12 0-11 0-12-1-11-1-11-2-10-2-10-2-9-3-8-4-7-4-6-5-3-5-1-6 2-6 5-7 9-6 13-7 16-7 19-6 22-7 23-6 26-5 32-5 47-4 48-2 43 2 32 5 20 8 7 10-3 10-9 11-11 9-11 9-12 8-11 7-13 7-14 6-16 5-18 5-18 3-20 4-20 3-21 2-16 2-13 2-14 1-13 1-12 0-13 0-12 0-12-1-11-1-11-1-11-1-10-2-10-1-10-3-10-2-9-3-9-3-9-4-7-5-7-5-5-6-4-6-1-8 3-8 8-9 13-10 20-10 26-10 32-9 36-10 41-8 44-7 71-5 67 0 51 4 38 8 24 11 12 13 3 14-7 14-12 13-13 12-13 11-15 11-16 8-19 8-21 6-24 5-25 5-27 3-26 3-27 3-23 2-16 1-15 2-15 2-13 1-14 1-12 2-13 1-11 2-12 1-11 2-11 3-10 2-10 3-10 3-9 4-8 4-7 5-6 6-4 6-2 7 2 8 7 9 11 9 18 9 22 10 28 9 31 9 35 8 39 8 55 6 66 3 57-2 43-6 29-9 17-12 6-13-5-14-11-13-13-13-13-11-13-10-15-9-17-8-19-7-20-5-23-5-24-4-25-3-25-3-26-2-17-2-15-1-14-1-14-1-13-1-13-1-12-1-12-1-11-1-11-2-10-1-11-1-10-2-9-2-10-2-9-2-9-3-8-3-9-4-7-4-7-5-6-6-5-6-2-7 1-8 5-10 10-10 17-10 25-11 32-11 37-10 43-10 47-9 67-6 74-1 61 3 46 7 30 11 17 13 5 15-3 15-8 14-13 14-13 12-15 11-17 10-19 8-23 7-24 6-27 4-28 4-29 4-28 2-28 3-18 3-15 3-15 2-13 2-13 2-13 2-12 2-11 2-12 3-10 2-10 3-10 4-8 3-7 5-6 5-3 6-1 6 2 7 5 7 9 7 14 8 17 8 21 7 23 7 26 7 28 6 35 6 52 4 53 2 46-2 34-6 19-10 7-11-3-12-10-11-13-10-12-10-11-8-13-8-13-8-15-6-17-6-18-5-20-4-20-3-22-3-22-3-17-2-14-2-13-1-13-1-13 0-13 0-12 0-11 0-12 0-10 1-11 1-10 0-10 1-9 2-9 1-9 2-9 1-9 3-8 2-8 3-8 3-8 4-7 5-7 5-5 6-4 6-1 8 2 9 6 10 12 11 19 12 28 12 36 12 42 11 48 11 53 8 80 5 74-1 59-5 43-9 26-13 11-15 2-16-5-16-10-15-12-15-15-12-16-11-19-10-21-8-25-6-27-6-29-5-30-3-31-4-30-4-25-4-16-3-14-3-13-3-13-2-11-3-11-2-11-3-10-2-10-3-9-3-7-4-7-4-5-5-2-5-1-5 3-6 6-6 9-7 13-6 14-6 18-5 20-6 21-5 23-5 31-4 42-3 43-2 38 2 29 4 16 8 5 9-5 10-9 9-10 9-11 7-11 8-11 6-12 6-13 6-15 4-16 4-18 4-18 3-19 3-20 2-12 2-13 2-13 1-13 0-12 0-13 0-12 0-12-1-11-1-12-2-10-2-11-2-10-3-10-3-9-3-8-5-7-4-5-6-4-6 0-7 2-8 7-8 12-8 17-9 22-9 26-8 29-8 33-7 36-7 53-5 62-4 55 2 41 5 28 9 16 11 4 12-6 13-11 12-13 12-13 10-13 9-14 9-16 7-18 7-20 5-22 5-23 4-23 3-24 3-24 2-16 1-14 2-14 1-14 0-13 1-12 1-12 0-12 1-11 0-10 1-10 0-10 1-9 1-9 0-9 1-8 1-8 1-8 2-8 1-8 2-7 2-8 2-7 3-7 3-7 3-7 4-6 5-6 6-4 6-2 8 0 8 4 10 10 11 16 12 24 13 34 14 43 13 51 12 57 10 73 7 87 2 72-3 54-8 34-13 17-15 5-18-4-18-9-17-12-16-13-14-16-12-18-11-22-9-25-7-30-7-33-5-33-4-35-6-32-6-27-5-16-5-12-4-10-4-9-4-8-3-8-2-7-3-7-2-7-3-5-3-4-3-2-4 0-4 1-4 5-4 7-5 8-4 10-3 11-4 12-3 12-4 14-3 17-2 25-2 28-2 27 0 23 1 15 4 6 6-2 7-7 6-7 6-7 5-9 5-8 4-8 4-8 4-11 4-11 3-12 2-13 3-14 3-13 2-10 1-10 1-10 1-11 0-10 0-10-1-10-1-10-1-10-2-9-2-8-2-7-4-6-3-4-5-2-4 0-6 4-5 6-6 10-5 11-6 14-5 16-5 18-5 19-4 20-5 30-3 38-3 38-1 34 1 25 5 14 7 2 9-5 8-9 9-10 7-9 7-10 6-11 6-11 5-12 5-14 4-15 4-16 4-17 3-18 2-17 2-12 2-12 1-12 1-12 0-13 0-12 0-11-1-12-1-11-1-11-2-11-3-9-3-9-3-9-4-6-4-6-5-3-6-1-6 2-7 7-8 10-7 15-8 18-7 23-8 24-7 28-6 30-7 41-4 54-4 52-1 43 3 31 7 17 10 5 11-5 11-10 12-12 10-12 9-12 9-13 8-14 7-16 6-18 5-19 5-21 4-21 3-22 3-23 3-15 2-14 1-13 1-13 0-13 1-12 0-12 0-12 0-11-1-11 0-10-1-10-1-9 0-10-2-9-1-9-1-8-2-9-2-8-2-8-3-8-3-8-3-7-4-7-5-6-5-5-7-2-7 0-8 4-9 8-10 15-12 22-11 32-12 40-12 46-11 51-10 65-7 82-2 70 2 53 7 35 11 20 14 6 15-2 16-7 16-11 15-14 13-15 12-18 11-20 9-23 7-26 6-29 5-31 5-31 4-32 4-29 5-18 4-15 4-13 3-11 3-11 3-10 2-10 3-10 2-9 3-8 3-7 3-6 4-4 5-2 4 0 6 3 5 5 6 9 5 11 6 14 5 15 5 16 5 19 5 20 5 27 3 37 3 39 3 36-1 26-5 14-7 4-9-4-9-9-8-11-8-10-7-9-6-10-6-11-6-11-5-13-4-15-4-16-3-16-3-18-3-17-2-12-3-12-1-12-1-13-1-12 0-12 0-12 1-12 1-11 1-11 2-11 2-10 2-10 4-8 3-8 5-6 4-4 6-2 6 0 7 5 7 8 8 12 8 18 8 20 8 24 7 27 7 29 7 32 7 52 4 56 3 50-1 38-5 25-9 11-11-1-13-9-12-12-11-12-10-12-9-13-9-13-8-15-6-17-6-19-6-20-4-21-4-22-3-22-3-21-2-14-2-13-1-14-1-13 0-13-1-12 0-12 0-11 0-11 1-10 0-10 0-10 1-9 0-9 1-8 1-9 1-8 1-8 1-8 2-7 1-8 2-7 3-7 3-8 3-7 4-6 4-6 5-5 6-4 7-2 8 2 8 6 11 11 11 19 12 27 14 37 13 45 13 54 12 58 9 83 5 82 0 67-5 47-9 28-14 12-16 2-18-6-17-10-17-13-15-14-14-17-12-19-10-22-8-27-7-31-6-33-5-34-5-34-5-30-6-24-5-14-5-12-4-9-4-9-3-8-3-8-3-8-2-7-2-6-3-5-3-4-4-1-4 0-4 2-4 6-4 7-5 9-4 10-4 12-3 12-3 13-4 14-3 20-2 27-3 28-1 27 0 22 3 13 4 4 7-4 7-8 6-7 6-7 5-9 4-8 5-8 4-9 4-11 3-12 3-12 3-14 3-14 2-13 2-10 1-10 1-10 1-11 0-10 0-11-1-10-1-10-1-10-2-9-3-8-2-7-4-5-4-4-4-2-5 1-5 4-6 7-5 10-6 12-6 14-5 17-5 18-5 20-5 21-4 33-3 39-3 38-1 34 2 24 5 12 8 1 9-6 9-9 8-10 7-10 7-10 6-11 6-11 6-13 5-14 4-16 3-17 4-17 3-18 2-16 3-12 1-13 1-12 1-12 1-13-1-12 0-12-1-11-1-11-1-11-2-11-3-10-3-9-3-8-4-7-4-6-5-3-6-2-6 2-7 6-8 10-7 15-8 18-8 22-7 26-8 27-6 31-7 40-5 55-4 54-1 45 3 32 7 18 9 7 11-4 12-10 12-12 10-12 10-12 9-13 8-14 7-16 6-18 6-20 5-21 4-21 3-23 3-22 3-17 2-14 1-13 1-14 1-13 0-12 0-12 0-11 0-12 0-10 0-10-1-10 0-10-1-9-1-9-1-8-1-9-1-8-1-8-2-8-2-8-2-7-3-8-3-7-3-7-4-7-5-6-5-4-6-3-7 0-9 4-9 8-10 15-12 22-12 32-13 40-12 49-12 54-10 66-7 86-3 74 3 56 6 37 11 20 15 6 16-2 17-8 16-11 16-13 14-16 12-17 11-21 9-24 7-28 7-31 5-32 5-34 4-32 6-29 6-18 5-12 4-11 4-10 4-9 3-8 3-8 2-8 2-7 3-6 3-5 3-3 4-1 4 0 4 3 5 4 4 7 5 10 4 11 4 11 4 13 4 14 4 16 4 21 2 29 3 32 2 28-1 22-3 11-6 3-7-3-7-8-7-9-6-8-5-7-6-9-4-9-5-9-4-11-3-12-4-13-3-14-2-14-2-14-2-10-2-11-2-10-1-11 0-11 0-12 0-10 1-11 1-10 2-10 2-9 3-8 3-7 4-5 4-3 5-1 5 1 6 5 6 7 7 11 6 15 6 16 6 19 6 20 5 22 6 25 5 40 3 44 3 43 1 33-4 21-7 9-9-2-10-8-10-11-9-11-8-10-8-10-7-12-6-12-6-14-5-16-4-16-4-18-4-19-3-19-2-16-3-13-2-13-1-13-1-12 0-13-1-12 1-12 0-12 1-11 1-12 2-10 2-11 2-9 3-10 3-9 4-8 4-7 5-6 6-3 6-1 7 3 8 7 9 12 9 17 9 23 9 26 9 31 8 34 8 37 8 55 5 64 4 56-2 41-7 28-9 16-12 5-13-6-13-12-13-13-12-13-10-13-10-15-9-16-8-18-6-21-6-22-5-23-4-25-3-24-3-25-1-16-2-15-1-14-2-13-1-13 0-13-1-12-1-11-1-12-1-10 0-11-1-10-1-9-1-9-2-10-1-8-2-9-2-9-2-8-3-8-3-8-4-8-4-6-4-6-6-5-6-3-7 0-8 4-9 9-10 14-12 23-11 31-12 39-11 46-11 50-10 64-7 81-2 68 2 53 7 35 11 19 13 7 15-2 16-7 16-11 15-13 13-16 12-17 10-20 9-23 7-26 6-28 5-30 5-30 3-32 5-29 4-19 4-15 3-13 3-12 3-11 3-11 2-11 3-10 2-10 3-8 3-8 3-7 4-5 4-3 5-1 5 2 6 4 6 7 6 11 6 14 6 15 5 18 6 18 5 21 5 23 5 39 3 42 3 40 0 32-3 20-7 8-9-1-9-8-10-11-8-11-8-9-7-10-6-11-6-12-6-14-5-14-4-16-4-18-3-18-3-18-3-15-2-13-2-12-1-13-1-13-1-12 0-12 1-12 0-12 1-11 2-11 2-11 2-10 2-10 3-9 4-8 4-7 5-5 6-3 6-1 7 3 7 7 8 11 9 17 8 21 9 24 8 28 8 32 8 34 7 49 5 61 4 55-1 42-5 29-9 17-10 3-13-6-13-12-12-13-11-12-11-13-9-13-8-16-8-17-6-19-6-21-5-22-4-23-3-24-3-23-2-16-2-15-1-13-1-14-1-13-1-12 0-12 0-11-1-11 0-11 0-10-1-10 0-9 0-9-1-8 0-8-1-8 0-8-1-7 0-7-1-7-1-7-1-6-1-6-2-7-1-6-2-6-2-6-3-7-3-6-3-6-4-5-5-5-6-4-6-2-8 0-8 5-10 9-11 17-13 26-13 35-14 47-14 55-13 63-11 79-6 95-3 78 4 57 8 34 14 16 16 3 18-5 19-10 18-12 16-14 15-16 13-19 11-24 9-29 8-34 6-36 6-40 7-37 8-30 8-23 9-9 7-6 6-3 5-1 4-2 3-2 1-3 2-2 1-2 1 0 2 0 2 1 1 1 2 1 1 3 2 4 1 3 2 4 1 4 1 5 2 5 1 8 0 9 0 11 2 10 0 6-2 2-2 0-3 0-2-3-2-5-2-2-2-2-1-3-2-4-1-3-1-3-2-4-1-5-1-6-1-5-1-4-1-5-2-5 0-5-1-6 0-5 0-7 0-6 0-6 1-5 1-3 2-3 2-1 3 1 3 2 2 2 3 4 3 6 3 7 2 7 2 7 2 8 3 8 2 11 2 16 0 18 2 18 1 15-2 9-3 2-4 0-4-4-4-6-4-6-3-4-3-4-3-6-2-6-3-6-2-7-3-8-1-8-2-9-1-9-2-7-2-7-1-8-1-7 0-8 0-9 0-8 1-8 1-7 1-7 2-5 3-4 3-3 3 0 4 1 4 3 4 5 4 7 4 9 4 11 3 10 4 12 3 13 3 14 4 22 1 26 3 29 1 24-1 17-3 8-6 1-6-4-7-7-6-9-5-7-5-6-4-8-4-9-4-9-4-9-3-11-3-12-3-13-2-14-2-11-2-9-1-10-2-11 0-10 0-10 0-11 0-10 1-10 1-9 2-9 3-8 3-6 3-5 4-3 5-1 5 1 5 4 6 7 5 10 6 13 6 15 5 16 5 18 5 19 5 22 4 34 3 40 3 39 1 32-2 21-6 9-9-1-9-7-9-10-8-10-7-10-7-9-7-11-5-11-6-13-4-14-5-15-3-16-4-18-2-18-3-14-2-12-2-13-2-12 0-13-1-12 0-12 0-12 1-12 1-11 2-11 1-11 3-9 3-10 3-8 4-7 4-6 5-4 6-2 6 2 8 5 7 9 8 14 8 19 8 22 8 25 8 27 7 31 7 37 6 56 4 56 2 48-2 35-7 21-10 8-11-3-13-10-12-13-11-12-10-12-9-13-9-14-7-16-7-17-6-20-5-20-4-22-4-22-3-23-3-19-2-14-1-14-1-13-1-13 0-13-1-12 0-11 0-11 0-11 0-10 0-10 1-10 0-9 0-8 1-9 0-8 1-8 1-7 0-8 1-7 2-7 1-7 2-6 1-7 3-7 2-7 3-6 4-7 4-6 4-5 6-4 6-3 8 0 8 4 10 9 11 15 12 24 13 33 14 43 14 53 14 59 11 71 7 93 3 78-2 59-8 37-13 19-16 6-18-4-18-9-18-12-17-13-15-16-13-18-11-22-9-26-8-32-7-34-5-36-6-37-6-32-7-27-6-14-6-11-5-7-5-6-4-6-3-5-2-6-2-5-2-5-3-3-2-2-3 0-3 1-3 3-3 6-3 6-3 6-3 8-3 8-2 9-2 9-3 11-2 17 0 19-2 19-1 19 1 14 2 7 4-1 5-5 5-6 4-5 4-6 3-7 3-6 3-6 3-7 3-8 2-9 2-9 2-11 2-10 2-8 1-8 1-8 1-8 0-8 0-9-1-8 0-8-1-8-2-7-2-6-2-5-3-3-4-2-4 1-4 3-4 6-4 8-4 9-4 10-4 12-4 13-3 13-3 15-4 21-2 27-2 28-1 27 0 20 3 12 5 2 7-5 7-7 6-7 5-8 5-8 5-9 4-8 4-9 4-11 4-12 2-12 3-14 3-14 2-12 2-10 1-11 1-10 1-10 0-11-1-10 0-10-1-10-2-10-2-9-2-8-3-6-3-6-4-3-5-1-5 1-5 4-6 8-5 10-6 13-6 14-5 18-5 18-5 19-4 22-5 35-2 39-3 38-1 32 3 22 6 10 7 0 9-8 9-9 8-9 8-11 6-10 6-10 6-12 6-13 4-14 4-16 4-17 3-17 3-19 3-14 2-12 1-13 1-12 1-13 0-12 0-12 0-12-1-11-1-11-2-11-2-10-2-10-3-9-4-8-4-7-4-5-6-3-5-1-7 3-7 7-7 11-8 15-8 19-8 23-7 26-7 28-7 31-6 45-5 55-3 52-1 42 4 29 8 16 10 4 11-6 12-10 11-12 10-12 10-13 8-13 8-14 7-17 7-18 5-20 4-21 4-22 4-22 3-22 2-15 2-14 1-13 1-14 0-12 1-13 0-12 0-11 0-11 0-11-1-10 0-10-1-9-1-9 0-9-1-9-1-8-2-8-1-8-2-8-2-8-3-8-2-7-4-7-4-7-4-6-5-5-6-4-7-1-7 2-9 6-10 12-11 19-12 28-13 37-12 45-12 52-11 56-8 83-5 79 1 63 5 45 9 26 13 11 15 1 17-6 17-10 15-12 15-15 13-16 11-20 10-22 8-26 7-30 6-31 4-33 5-33 5-30 5-24 5-14 5-12 4-10 4-9 3-9 3-9 2-8 3-8 2-7 3-6 3-4 4-3 4 0 4 1 5 4 4 5 5 9 5 10 4 12 5 13 4 14 4 15 4 18 3 27 3 32 2 32 2 28-2 18-5 8-7 0-7-6-8-9-7-9-6-8-5-8-5-9-5-10-5-10-4-12-3-12-4-14-2-15-3-16-2-12-2-11-2-11-1-11-1-11 0-11 0-12 0-11 1-11 2-10 2-10 2-9 3-8 3-7 4-5 5-3 5-1 5 2 6 5 7 8 6 12 7 15 6 17 7 20 6 21 5 24 6 27 5 44 4 46 3 43-1 34-4 20-8 8-9-3-11-8-10-12-9-11-9-11-8-10-7-12-6-13-6-15-5-16-5-18-4-18-3-20-3-20-3-16-2-13-2-13-2-13-1-13 0-12 0-12 0-12 1-12 0-11 2-11 1-10 2-11 2-10 3-9 2-10 4-8 4-8 4-7 5-6 6-4 6-1 7 3 9 7 9 13 9 19 10 24 9 29 10 33 9 37 8 41 8 63 5 66 3 54-4 40-7 26-10 14-13 5-13-7-14-12-14-13-12-13-11-14-10-15-9-17-8-20-6-22-6-24-4-24-4-26-3-26-3-25-2-15-1-15-2-15-1-13-1-13-1-13-1-12-1-12-2-11-1-11-1-11-2-10-2-10-2-10-2-10-3-9-3-8-3-9-4-7-5-7-5-5-6-3-6-1-8 3-9 8-9 14-10 21-10 28-11 33-10 38-9 43-9 49-7 74-4 66 1 52 5 36 8 23 12 10 13 2 14-7 15-11 13-13 13-14 11-15 10-18 9-19 7-23 7-25 5-26 4-27 3-28 3-27 3-23 2-16 2-15 2-14 2-14 2-13 1-13 2-12 1-12 2-11 2-11 3-11 2-10 3-9 4-9 4-8 4-6 5-5 6-2 7 1 7 5 8 9 8 14 9 19 9 23 8 27 8 30 8 33 8 38 6 60 5 60 2 50-3 34-8 23-10 11-11-2-13-10-13-13-12-12-11-13-10-13-9-14-8-17-7-18-6-21-5-21-4-23-4-24-3-23-3-21-2-14-1-15-1-13-1-13-1-13 0-12-1-12 0-11-1-11 0-10-1-10 0-9 0-10-1-8 0-9-1-8-1-8 0-7-1-8-1-7-2-7-1-7-1-6-2-7-3-7-2-7-3-6-3-7-4-6-5-5-5-4-7-3-7 0-8 4-10 8-11 16-12 23-12 33-14 43-14 52-12 59-11 70-7 93-3 79 2 60 7 38 12 19 16 6 17-4 18-9 18-11 16-14 15-15 13-18 11-22 9-27 8-31 7-34 5-36 6-38 7-32 7-26 8-14 6-9 6-6 5-5 4-4 3-5 2-4 2-4 2-4 2-2 2-1 3 0 2 1 3 2 2 3 3 5 3 6 2 6 2 7 2 7 2 8 3 9 2 14 0 17 2 18 1 15-1 10-3 3-3 0-4-2-4-5-4-7-3-3-3-4-3-6-2-6-3-5-2-7-2-7-2-8-2-9-1-8-2-7-1-7-2-7 0-8-1-7 0-8 0-8 1-8 1-7 1-7 2-5 2-5 3-2 3-1 4 1 3 3 4 4 4 7 4 9 4 9 3 11 4 11 3 12 3 13 3 20 2 25 2 27 2 25 0 18-4 8-5 2-6-3-6-7-6-9-5-6-5-7-4-7-4-8-4-9-3-9-4-10-3-12-2-12-2-14-2-11-2-9-2-10-1-9-1-11 0-10 0-10 1-10 0-10 2-9 2-8 2-8 3-6 3-5 4-3 4-1 5 2 5 4 6 6 6 10 5 13 5 14 5 16 5 17 5 19 5 21 4 34 3 38 3 37 1 31-3 20-6 9-8-1-9-7-8-10-8-10-7-9-7-10-6-10-5-11-6-12-4-14-4-15-4-16-3-17-3-17-2-14-3-12-2-12-1-12-1-13 0-12 0-12 0-12 1-11 1-12 2-10 2-11 2-9 3-9 4-8 4-7 4-4 6-3 6 0 6 3 7 7 8 11 8 16 7 19 8 23 7 25 7 28 7 30 7 45 5 54 4 53 0 42-4 28-8 15-10 2-12-7-12-11-11-13-11-12-9-12-9-12-8-15-7-16-6-18-5-19-5-21-4-21-3-22-3-23-3-14-2-14-1-13-1-13 0-13-1-12 0-12 0-12 0-11 1-10 0-10 1-10 0-9 1-10 1-9 1-8 1-9 1-8 2-8 2-8 2-8 3-7 3-8 3-7 4-7 5-6 5-4 7-3 7 0 8 3 9 8 11 15 12 21 12 31 13 40 13 47 12 54 10 63 7 85 3 73-2 57-7 37-11 21-14 7-16-2-17-7-17-11-16-13-14-16-13-17-10-20-9-23-8-28-7-30-5-31-4-33-5-32-5-29-4-20-5-14-4-12-3-12-3-10-3-9-3-10-2-8-3-9-3-7-3-6-3-5-4-3-4-1-5 2-5 4-5 8-5 10-5 11-5 13-5 15-4 16-4 18-4 19-4 33-2 34-3 33 0 29 2 19 6 8 7-2 8-8 8-8 7-9 6-9 6-10 6-9 5-11 5-12 4-13 3-15 4-15 3-16 2-17 3-12 2-12 1-11 1-12 0-12 0-11 0-12-1-11-1-11-1-11-2-10-3-9-2-8-4-7-4-6-4-4-5-2-6 1-6 5-7 8-7 12-7 15-6 18-7 22-6 23-6 25-6 28-5 45-4 49-2 44 0 36 4 22 8 10 9-1 11-8 10-10 10-11 9-12 8-12 7-12 7-14 6-15 6-18 4-18 4-19 4-21 3-20 3-18 2-13 2-13 1-14 1-12 0-13 0-12 0-12-1-11 0-11-1-11-2-11-1-10-2-10-2-10-3-9-2-9-4-9-3-8-5-7-5-5-5-4-7-2-7 2-8 7-9 12-10 19-10 25-10 31-9 35-10 39-8 43-8 67-5 68-2 55 4 41 7 26 11 14 12 5 14-5 14-11 13-13 13-14 11-14 10-16 10-18 7-21 7-23 5-25 5-26 3-27 3-26 3-26 2-16 2-15 2-15 1-13 2-14 1-13 1-12 2-12 1-11 2-12 2-10 2-11 2-10 3-10 3-9 4-8 4-8 4-6 6-5 6-2 7 1 8 5 8 10 9 16 10 21 9 26 10 31 9 34 8 38 8 48 7 67 4 61 0 46-6 33-9 20-11 9-13-2-13-10-14-13-13-13-11-13-10-14-10-16-8-19-7-20-6-23-5-23-4-25-4-25-2-26-3-20-1-15-2-14-1-14-1-13-1-13-1-13-1-12-1-11-2-11-1-11-1-10-1-10-2-10-2-9-2-10-2-9-3-8-3-9-4-8-4-7-5-5-5-5-7-2-7 1-8 4-9 10-10 17-11 24-11 31-10 37-10 43-10 46-9 65-6 74-2 61 3 47 7 31 11 17 12 6 15-3 15-8 14-12 14-14 12-14 11-17 10-19 8-22 7-25 6-26 5-28 4-28 3-28 3-28 3-19 2-15 3-15 2-14 2-13 2-12 2-12 2-12 2-11 2-11 3-11 3-9 3-9 4-8 4-6 5-4 5-2 7 1 6 4 8 8 7 13 8 16 8 21 7 23 7 26 7 28 7 31 6 51 5 54 3 50-1 38-5 24-9 10-11 0-12-9-12-12-11-13-10-11-9-12-8-14-8-14-6-17-6-18-5-20-5-21-4-21-3-22-3-20-2-14-2-14-1-13-1-13 0-13 0-12 0-12 0-11 0-11 0-10 1-10 0-10 1-10 1-9 1-9 1-8 2-9 1-8 2-8 2-8 3-8 3-8 3-7 4-7 5-6 5-5 6-3 7 0 8 2 9 8 11 13 11 21 12 29 13 39 12 45 12 52 11 58 8 85 3 74-1 58-6 40-10 23-14 9-16 0-17-7-17-11-15-13-15-14-12-17-11-20-10-23-7-26-7-29-5-31-5-32-4-32-4-30-5-21-4-15-4-13-4-12-3-11-3-10-2-10-3-9-2-9-3-8-3-7-3-6-4-4-4-2-5 1-5 3-5 6-6 10-5 10-5 14-5 15-5 17-5 18-4 19-4 29-3 36-3 36-1 33 1 24 4 14 7 2 8-5 9-9 8-9 7-10 6-10 6-10 6-10 5-12 5-14 4-15 3-15 4-17 3-17 2-16 2-11 2-12 1-12 1-12 0-12 0-12 0-12-1-11-1-11-2-11-2-10-3-9-3-9-3-7-4-6-5-4-5-2-6 0-6 5-7 8-8 13-7 16-7 19-7 23-7 24-6 28-6 29-6 49-4 52-3 47 1 36 5 23 8 11 10-1 11-8 11-11 10-12 10-12 8-12 8-13 7-14 7-16 6-18 4-20 5-20 3-21 3-22 3-18 2-14 2-13 1-14 1-12 0-13 0-12 0-12 0-11-1-11 0-11-1-10-1-10-2-10-1-10-2-9-2-9-2-9-3-8-3-9-4-7-4-7-5-6-5-5-6-2-8 1-8 4-9 10-10 17-11 24-11 31-10 38-11 43-10 47-9 65-6 75-1 63 3 47 7 31 10 17 13 6 15-2 15-8 14-13 14-13 13-15 11-17 10-19 8-23 7-24 6-27 4-28 4-29 4-29 3-28 3-18 3-15 2-15 3-13 2-13 2-13 2-12 2-11 2-11 2-11 3-10 3-9 4-8 4-7 4-5 5-4 6 0 6 2 7 6 7 10 7 14 8 18 7 20 7 23 7 26 7 28 6 37 5 51 4 52 2 44-2 31-7 18-9 5-12-5-11-10-11-13-10-11-10-12-8-12-8-13-7-15-6-17-5-18-5-20-4-21-4-21-3-22-2-15-3-14-1-13-1-13-1-13 0-13 0-12 0-11 0-11 1-11 0-11 1-10 1-9 1-10 2-9 1-9 2-9 3-9 2-9 3-8 3-8 4-7 5-6 5-5 6-4 7 0 8 2 9 7 10 13 11 21 11 29 12 36 11 42 11 47 11 53 7 80 4 70-1 55-5 39-10 23-13 11-15 0-15-6-16-10-15-13-14-14-12-16-11-19-9-22-7-24-7-27-5-28-4-30-4-29-3-29-4-24-3-16-3-14-3-14-2-13-2-12-2-12-3-11-2-11-2-10-3-10-3-9-4-8-4-6-4-4-5-3-6 1-6 3-6 8-7 11-7 14-7 17-6 21-6 22-7 25-5 27-6 41-4 48-3 46 0 38 3 25 7 13 9 2 10-7 11-10 10-11 9-12 8-11 7-12 7-14 7-15 5-17 5-18 4-19 4-20 3-20 3-20 2-13 2-13 1-13 1-13 1-13 0-12 0-12-1-12 0-11-1-11-2-10-1-11-2-10-2-10-2-9-3-9-3-9-4-8-4-7-5-6-6-4-6-2-7 1-8 7-9 11-9 18-10 24-10 30-10 34-9 39-9 42-8 62-5 70-3 56 4 43 6 28 10 16 12 6 14-4 14-10 13-13 13-13 12-15 10-15 9-18 8-20 7-23 5-25 5-26 4-26 3-27 2-26 3-16 1-16 2-14 2-14 1-14 1-13 2-12 1-12 1-12 2-11 2-11 2-10 2-10 3-10 3-9 3-9 4-8 5-7 5-5 6-4 6 0 8 3 8 9 9 13 10 20 9 25 10 29 9 34 9 37 8 40 8 67 5 65 1 51-4 37-8 25-10 12-13 3-14-8-13-12-14-13-11-13-11-14-10-16-9-18-7-19-7-22-5-24-5-25-3-25-3-26-2-23-2-16-2-14-1-15-2-13-1-13-1-13-1-12-1-12-1-11-1-11-2-10-1-10-2-10-2-10-2-9-3-9-2-9-4-9-4-7-4-7-5-6-6-4-6-1-8 2-8 6-9 12-10 19-11 26-10 32-10 38-10 42-10 46-7 72-6 69 0 57 4 41 8 27 11 13 13 4 14-4 15-11 14-12 13-14 12-15 10-17 9-19 8-23 7-24 5-26 5-28 3-28 3-27 3-26 3-17 2-15 2-14 2-14 2-13 2-13 1-12 2-12 2-12 2-11 3-10 2-10 3-10 4-8 4-7 5-5 5-4 6-1 7 2 7 7 8 10 8 15 9 20 8 24 8 26 7 29 8 32 7 44 5 58 4 56 1 44-4 31-8 18-10 6-12-6-13-11-12-13-11-12-10-12-9-13-9-15-7-17-7-18-5-20-5-21-4-23-4-22-3-24-2-16-2-14-1-14-1-14-1-13-1-12 0-12 0-11 0-11 0-11 0-10 0-10 0-9 0-9 0-8 0-9 0-7 0-8 1-7 0-7 0-7 1-6 1-6 0-6 1-6 1-6 1-6 1-5 2-6 1-5 2-6 3-5 2-6 3-6 4-5 5-5 5-4 6-3 7-1 8 2 9 7 11 12 12 21 14 31 15 42 15 52 14 62 14 67 10 98 5 93 0 72-6 47-12 26-17 9-18-2-20-9-20-11-18-13-17-15-14-17-13-22-10-28-9-35-7-37-6-40-7-40-8-34-9-26-8-14-7-6-7-3-6 0-5 1-3-1-1-2-1-2-1-1-1-1-1 0-1 0-1 2-1 3-1 2-1 2-1 3-1 2 0 3-1 2-1 3 0 4 0 5 0 4 0 7-1 6 0 5 1-1 2-4 1-4 2-1 1-1 1-3 0-2 1-1 1-2 1-2 0-3 1-2 1-3 1-3 1-3 1-3 0-3 1-4 0-4 0-5 1-4 0-5-1-5 0-3-1-3-2-1-2 0-1 2-2 3-2 5-2 3-2 4-2 6-1 5-1 5-1 5-2 6 0 10 0 10-2 10 0 12 0 9 1 5 2-2 3-5 3-4 3-3 2-3 1-4 2-4 2-3 2-4 1-5 1-5 1-5 2-6 2-6 1-5 1-5 0-6 1-5 0-6 0-6 0-6-1-7 0-5-2-5-1-3-2-2-3-1-2 1-3 3-3 5-3 7-3 5-2 7-2 8-2 8-2 8-3 9-1 14-1 17-2 17 0 17 0 14 1 8 4 1 4-5 4-6 4-5 4-5 3-6 3-5 2-5 3-7 2-7 2-8 2-8 2-9 2-10 2-7 1-7 1-8 1-7 0-8 0-8 0-8-1-7-1-8-1-7-2-5-3-5-2-2-4-1-3 1-4 3-4 6-4 8-4 8-3 9-4 12-3 11-3 12-3 13-3 21-1 24-2 25-1 24 0 19 3 10 5 1 6-5 6-7 6-7 5-7 4-8 4-7 4-8 4-9 3-10 3-11 3-11 3-13 2-13 2-11 2-9 1-10 1-9 0-10 0-10 0-10-1-9-1-10-2-9-2-8-2-6-3-6-4-4-4-2-4 0-5 3-5 6-5 9-6 10-5 13-5 15-4 16-4 17-5 19-4 26-3 35-3 35-1 33 1 25 4 14 6 4 8-5 8-8 8-9 7-9 6-10 6-10 6-10 5-11 4-13 4-15 4-15 3-16 3-17 3-15 2-12 2-12 1-11 0-12 1-12 0-12-1-11-1-12-1-11-1-10-3-10-2-9-3-9-4-7-4-5-5-4-5-1-6 1-6 5-7 9-7 13-7 16-7 20-7 22-6 24-6 27-6 30-5 49-4 50-2 44 1 34 5 21 8 8 10-2 11-9 11-11 10-12 9-12 8-11 7-13 7-15 7-16 5-18 5-19 4-20 3-20 3-22 3-16 2-14 1-13 2-13 0-13 1-12 0-13-1-11 0-12-1-11-1-10-1-11-1-10-2-10-2-9-2-10-2-9-3-9-4-8-4-7-4-7-5-5-6-4-7-1-7 2-9 8-9 13-10 20-10 27-11 33-10 38-9 43-9 46-8 75-4 67 0 53 5 39 8 24 11 12 13 2 15-5 14-12 14-13 13-14 11-15 10-17 9-19 8-23 6-24 5-27 5-27 3-28 3-27 3-24 2-16 2-15 2-15 2-13 2-14 2-12 1-13 2-11 2-12 2-11 2-11 3-10 3-9 3-9 4-7 5-6 5-5 6-1 7 1 7 5 8 10 8 14 9 19 8 23 8 27 8 29 8 33 8 40 6 59 4 59 2 48-3 34-8 22-10 9-12-3-13-10-12-13-12-13-10-12-10-13-9-15-8-16-7-19-6-20-5-21-4-23-4-23-3-24-2-19-2-15-2-14-1-13 0-13-1-13-1-12 0-12 0-11-1-11 0-10 0-10-1-9 0-9 0-9 0-8-1-8 0-7-1-8 0-7-1-7 0-6-1-7-1-6-1-6-1-6-2-6-1-6-2-6-3-6-2-6-3-6-4-6-4-5-5-5-6-3-7-1-8 2-9 6-10 12-12 19-13 29-14 40-14 50-14 59-12 65-10 92-6 92 0 73 5 49 10 29 15 10 18 0 19-8 18-11 18-12 16-15 14-16 13-21 10-26 9-33 7-36 7-38 5-40 8-35 9-27 9-17 9-7 7-3 6 0 5 0 3-1 2-1 1-2 1-1 1-1 1 0 1 1 2 0 1 1 1 1 1 3 1 2 1 3 1 2 1 3 1 3 1 5-1 6 0 7 1 7 1 5-1 2-1-1-2 0-2 0-1-3-1-3-1-1-1-1-1-3-1-2-1-2-1-2-1-3-1-4 0-3 0-3-2-3-1-4-1-4-1-4 0-5-1-5 0-6 0-5 1-4 1-3 1-2 2-1 2 0 2 2 2 2 2 3 2 4 2 6 2 5 2 5 2 7 2 6 1 8 2 12 0 14 1 15 1 11-1 7-2 2-3 0-4-3-3-4-3-5-2-3-2-4-3-4-2-5-1-5-2-5-2-6-2-6-1-7-1-7-1-6-2-6-1-6-1-6 0-7 0-7 0-8 0-6 1-7 1-5 2-5 2-2 3-2 3 1 3 1 3 4 4 5 3 6 3 9 3 8 3 9 3 10 3 11 3 13 2 20 1 22 2 23 1 18-2 11-4 4-5-1-5-5-5-7-5-7-4-5-4-6-3-7-3-7-4-8-2-8-3-10-2-10-2-11-2-11-2-8-2-9-1-8-1-9 0-10 0-9 0-9 1-9 1-9 1-7 2-7 3-6 3-4 4-2 4 0 4 2 5 5 5 6 5 9 4 12 5 12 4 14 4 15 4 16 4 19 4 31 2 33 3 32 0 26-3 16-5 5-7-2-8-6-7-10-7-9-6-8-6-8-5-9-5-10-4-11-4-12-4-14-3-14-3-16-2-16-3-10-2-11-1-12-1-11-1-12 0-11 0-11 1-11 1-11 1-11 2-9 2-9 3-8 4-7 4-5 5-3 5-1 5 2 7 5 6 9 7 12 7 16 6 18 7 20 6 22 6 25 6 29 5 45 3 48 3 43-1 32-5 20-8 7-10-3-11-10-10-12-9-11-9-10-8-12-7-12-7-13-5-15-6-17-4-18-4-19-4-19-3-21-2-15-3-14-2-13-1-13-1-13 0-12 0-12 0-12 0-12 1-11 2-10 1-11 2-10 2-10 2-10 3-9 3-9 3-8 4-8 5-6 6-5 6-2 7 0 8 5 8 10 10 17 10 22 10 28 9 32 10 37 9 40 9 53 6 70 4 61-2 46-6 32-9 20-12 8-13-1-14-10-14-13-13-13-12-14-11-14-10-17-8-20-7-21-6-24-5-25-4-26-3-26-3-26-2-20-2-15-2-15-1-14-1-13-2-13-1-13-1-12-2-12-1-11-2-11-1-10-3-11-2-10-2-9-3-9-4-9-4-8-4-6-5-6-6-3-7-1-7 4-9 8-9 14-9 20-10 26-10 31-9 35-9 39-8 44-7 70-5 65 0 51 4 37 8 23 11 12 13 2 13-7 14-12 13-13 12-14 11-14 10-17 8-18 8-21 6-23 5-24 5-26 3-27 3-26 2-23 2-15 2-15 1-14 2-14 1-13 1-13 2-12 1-12 1-11 2-11 1-11 2-10 3-10 2-10 3-9 3-9 4-8 4-7 5-6 5-5 7-2 7 1 8 6 9 11 9 17 10 23 10 29 10 33 10 38 9 41 8 58 6 70 3 58-2 44-7 30-10 17-12 7-14-2-14-11-14-13-13-13-11-14-11-15-9-18-8-19-7-22-6-24-5-26-4-26-3-26-3-26-2-18-2-16-1-14-2-14-1-14-1-13-2-12-1-12-1-12-2-11-1-11-2-10-2-11-3-9-3-10-3-9-3-8-5-8-4-6-6-5-6-2-7 1-7 5-9 10-9 17-10 22-9 27-10 33-9 36-9 40-7 54-6 68-4 60 2 46 5 31 9 19 12 8 13-2 13-10 14-12 12-13 12-14 10-15 10-17 8-19 7-21 6-24 4-25 4-25 4-27 2-25 2-19 2-16 2-14 1-14 2-14 1-13 1-12 1-12 1-12 2-11 1-11 2-10 2-10 2-10 2-10 3-9 3-9 4-8 4-7 5-6 5-5 7-3 7 1 8 4 9 11 9 16 10 23 11 29 10 33 10 38 9 42 9 57 6 71 3 60-2 47-6 32-10 18-12 8-14-1-14-10-14-12-14-14-12-13-11-16-9-17-9-20-7-22-6-25-5-26-3-26-4-27-2-26-3-20-2-15-1-15-2-14-2-14-1-13-1-13-2-12-1-12-2-11-2-11-2-10-2-11-3-9-3-10-4-8-4-8-4-6-6-5-5-2-7 0-8 5-8 10-9 15-9 20-9 26-9 30-9 34-8 37-8 46-6 65-4 61 0 47 5 34 8 20 11 10 12-1 13-10 13-12 12-13 11-13 11-14 9-16 8-18 7-21 6-22 5-23 4-25 4-24 2-26 3-20 1-15 2-14 1-14 1-13 1-13 1-12 1-12 1-12 1-11 1-10 1-10 1-10 1-10 2-9 2-10 2-9 2-8 3-9 3-8 3-8 5-7 4-6 6-5 6-2 7 0 8 3 9 9 11 14 11 23 11 31 12 37 11 43 11 48 9" stroke="#00ff00" stroke-width="2.7" fill="none" stroke-linejoin="round"/>
<path d="M204.6 993C208.1 992.6 217.8 991.6 226.1 990.6C234.3 989.6 245.7 988.6 254.1 986.8C262.6 985.1 269.7 983.1 276.6 980.3C283.5 977.5 289.1 973.9 295.3 970C301.6 966.1 306.9 961.6 314 956.9C321.2 952.2 329.6 947.1 338.4 941.9C347.1 936.8 355.5 931.3 366.4 926C377.4 920.7 391.4 914.8 403.9 910.1C416.4 905.4 428.8 901.5 441.3 897.9C453.8 894.4 463.1 891.6 478.7 888.6C494.3 885.6 516.2 882.2 534.9 880.2C553.6 878.1 577.2 877.1 591 876.4C604.9 875.7 608.9 875.9 618 875.9C627.1 875.9 634.6 875.9 645.4 876.4C656.2 877 670.4 877.8 682.9 879.2C695.3 880.6 709.4 883 720.3 884.8C731.2 886.7 737.5 887 748.4 890.5C759.3 893.9 774.9 900.4 785.8 905.4C796.7 910.4 806.5 914.8 813.9 920.4C821.2 926 826.7 933.7 829.8 939.1C832.9 944.6 832.9 948.2 832.6 953.2C832.3 958.1 831 963.3 827.9 969.1C824.8 974.8 820.9 981.2 813.9 987.8C806.9 994.3 795.2 1002.1 785.8 1008.4C776.4 1014.6 767.4 1019.9 757.7 1025.2C748.1 1030.5 737.1 1035.7 727.8 1040.2C718.4 1044.7 710.6 1048.6 701.6 1052.4C692.5 1056.1 678.2 1060.9 673.5 1062.6" stroke="#00ff00" stroke-width="1.3" fill="none" stroke-linejoin="round" />
<path transform="scale(0.5)" d="M1120 1987l-6 1-5 0-5 1-5 0-4 0-5 1-4 0-4 0-4 0-4 0-3 1-4 0-3 0-3 0-4 1-3 0-2 1-3 0-3 1-3 0-2 1-3 1-3 1-2 1-3 2-2 1-3 2-2 3-1 2-1 3 0 4 2 3 3 5 6 5 10 5 13 5 17 5 20 4 22 4 32 2 35 1 29-2 19-3 12-5 5-6 0-7-3-7-4-7-5-6-6-6-6-5-8-4-9-4-12-3-13-2-14-2-15-3-14-3-11-2-7-3-4-2-4-2-2-1-3-2-2-1-3 0-2-1-2-1-1-1-1-2-1-1 0-1 1-2 2-1 2-1 2-2 3-1 4-2 5-1 5-1 6 0 8 0 7 0 7 0 7 1 4 1 0 2 0 2 0 1-1 2-2 2-2 1-3 2-3 1-3 1-4 1-4 1-4 0-4 1-4 1-4 1-3 0-3 1-3 0-4 0-3 0-3 0-4-1-3-1-3 0-2-1-2-2-2-1 0-2-1-1 1-2 2-2 3-2 3-2 3-2 5-1 6-2 6-2 7-1 10-1 11 0 12 0 10 0 8 2 3 2-1 3 0 2-2 3-4 2-3 2-2 2-4 2-3 2-4 2-5 1-6 1-5 1-6 1-6 1-4 1-4 1-4 0-4 0-4 0-5 0-4 0-4-1-3-1-4-1-3-1-3-1-2-2-2-1-2-2 0-2 0-3 2-2 3-2 4-3 5-2 6-3 7-2 8-3 9-2 13-1 17-1 16 0 15 0 11 2 5 3 1 4-1 4-3 3-4 3-4 3-4 3-4 3-4 3-5 2-7 2-6 1-7 2-8 1-7 1-7 1-5 1-5 1-4 0-5 0-5 0-4 0-5 0-4-1-4 0-4-1-4-1-4-1-4-1-3-1-4-2-2-1-3-3-2-2-1-2 0-3 2-3 2-4 5-3 6-4 9-3 10-4 12-3 14-3 16-2 26-2 24 0 19 1 14 3 8 4 3 5-2 5-4 5-5 5-5 4-4 4-5 4-6 3-7 3-7 3-9 2-9 2-10 1-9 1-10 1-7 1-6 1-5 0-5 1-5 0-5 0-4 1-5 0-4 1-4 0-4 1-4 0-3 1-4 0-3 1-4 1-3 1-3 2-4 1-2 2-3 2-2 2-2 2-1 3 0 3 1 4 4 4 5 4 9 4 11 5 14 4 16 4 19 3 26 3 31 0 25-1 18-3 12-4 6-5 2-6-2-6-5-6-5-5-5-5-5-5-7-4-8-3-9-3-10-2-11-2-12-2-12-2-12-1-10-1-6-2-5-1-6-1-4-1-5-1-4-1-4-1-4-1-4-1-3-2-3-1-3-2-2-2-1-2-1-2 1-3 2-2 3-3 4-2 5-3 7-3 8-2 9-3 10-2 14-1 19-1 18-1 15 1 11 3 5 3 0 4-2 4-3 4-5 3-4 3-3 3-5 3-4 3-6 2-7 2-7 2-7 2-8 1-8 1-7 1-5 1-5 0-5 1-4 0-5 0-4 0-5 0-4-1-4 0-4-1-4 0-4-1-4-1-3-1-4-1-3-2-3-1-3-2-3-2-2-3 0-3 0-3 1-3 4-4 5-3 8-4 10-4 12-4 14-4 16-3 22-2 28-1 24 1 18 2 12 3 7 5 2 5-2 6-5 5-5 5-5 5-5 4-6 4-6 3-8 3-9 3-9 2-11 1-11 2-10 1-11 1-5 0-6 1-6 1-5 1-5 0-5 1-4 1-5 0-4 1-4 1-4 1-4 1-4 2-3 1-3 2-3 2-2 2-2 2 0 3 0 3 2 3 4 4 6 3 8 4 9 4 12 3 13 3 15 3 23 2 25 0 22-1 15-2 11-4 4-4 1-5-3-5-5-5-4-5-5-4-5-4-6-3-7-3-7-3-9-2-9-2-9-2-10-1-10-1-8-1-6 0-5-1-5 0-5-1-5 0-5 0-4-1-4 0-5-1-3 0-4-1-4 0-4-1-3-1-3 0-4-1-3-2-3-1-3-1-3-2-3-2-2-2-1-3-1-3 0-3 2-4 4-4 7-4 9-5 12-4 15-4 17-4 19-3 30-2 30 0 23 1 17 3 10 5 5 5 0 6-2 6-5 6-6 6-5 5-5 4-7 4-9 3-9 3-11 2-11 2-12 2-12 1-12 2-9 1-6 1-5 1-5 1-5 1-5 1-4 1-5 1-4 1-3 2-3 1-3 2-3 2-1 2-1 2-1 2 1 3 3 3 4 2 5 3 6 3 7 3 9 2 10 3 11 1 19 1 19 1 16-1 12-2 8-3 3-3 0-4-3-4-3-4-4-3-4-3-5-3-5-3-6-3-6-2-7-2-8-1-8-2-8-1-8-1-5 0-5-1-5 0-5 0-4 0-5 0-4 0-5 0-4 1-4 0-4 1-4 1-4 1-3 1-4 1-3 2-3 2-3 2-2 2-1 3-1 2 1 4 3 3 4 4 6 3 9 4 10 4 13 4 15 3 16 2 27 2 25 0 21-1 14-3 9-4 5-5-1-5-4-6-4-5-5-4-5-5-5-4-7-3-7-3-8-3-9-2-9-2-11-1-10-1-10-1-8-1-5-1-6 0-5-1-5 0-5-1-4 0-5-1-4 0-4-1-4-1-4-1-4-1-4-1-3-1-4-1-3-2-3-2-3-2-2-2-1-3 0-3 1-3 3-4 5-3 7-4 10-4 11-4 14-4 16-3 19-3 28-1 26 0 19 2 14 3 8 5 4 5-2 5-4 6-6 5-4 5-5 4-6 4-6 4-8 3-8 2-10 2-10 2-11 1-11 2-10 1-7 0-6 1-5 1-6 1-5 0-5 1-4 1-5 0-4 1-4 1-4 1-4 1-4 2-3 1-3 2-3 2-2 2-2 2 0 3 0 3 2 3 4 4 6 3 7 4 10 3 11 4 13 3 15 3 23 1 25 1 21-1 16-2 10-4 4-4 1-5-3-5-4-5-5-5-5-4-5-4-6-3-7-3-7-3-8-2-9-2-10-1-9-1-10-1-8-1-6-1-5 0-5-1-5 0-5-1-5 0-4 0-4-1-4 0-4 0-4-1-4 0-3-1-4-1-3 0-3-1-3-1-4-1-3-1-3-2-2-2-3-2-2-2-2-2-1-3 1-4 1-3 4-5 6-4 10-4 12-5 15-4 17-5 20-3 30-2 30 0 25 1 18 4 11 4 5 6 1 6-3 6-4 6-5 6-6 5-5 4-8 4-8 4-10 3-11 2-12 2-12 2-13 1-12 2-9 1-6 1-5 1-5 2-5 1-4 1-5 1-3 1-4 1-3 2-3 1-3 2-2 2-1 2 0 2 1 2 2 3 3 3 4 2 5 3 7 2 8 3 9 2 9 2 16 0 17 1 15 0 13-1 9-3 4-3 0-3-2-4-3-3-3-4-4-3-4-3-5-2-5-3-6-2-6-2-7-1-8-2-7-1-8-1-6 0-5-1-4 0-5 0-5 0-4 0-5 0-4 1-4 0-4 1-4 1-4 1-4 1-3 2-3 2-3 1-2 3-1 2-1 3 1 3 2 3 4 3 5 3 8 4 9 3 10 3 13 3 13 3 22 1 23 1 20-1 16-2 9-4 5-4 0-4-3-5-4-5-4-4-5-4-5-4-6-3-6-3-7-2-8-3-9-1-9-2-9-1-9-1-8-1-5 0-5-1-5 0-5-1-5 0-4 0-5 0-4 0-4 0-4 0-3-1-4 0-3 0-3 0-3 0-3 0-3 0-3-1-2 0-3 0-2 0-3-1-2 0-2-1-3 0-2-1-2-1-2-1-2-1-3-1-2-2-2-2-2-2-2-2-1-3 0-3 1-4 3-4 5-5 8-5 12-6 16-5 20-6 24-4 26-3 41-2 34 1 26 3 16 4 7 7 1 7-2 7-4 8-5 7-5 6-6 5-8 5-9 4-13 4-14 2-15 3-16 3-14 2-12 3-10 2-4 2-3 2-3 2-2 1-2 1-2 1-2 1-1 1-1 1-1 1 0 1 1 2 1 1 2 1 1 1 3 1 3 1 4 1 4 1 4 1 7 0 6 0 5-1 5 0 4-1 2-1 0-2 1-1-1-1-1-2-2-1-3-1-2-2-3-1-4 0-3-1-4-1-3 0-4-1-3-1-3 0-3 0-2 0-3 0-3 1-2 0-3 1-2 0-2 1-2 1-1 1 0 2 0 1 1 2 2 1 3 1 2 2 3 1 4 1 4 2 4 1 6 0 8 0 8 0 7 0 7 0 5-1 3-2-1-2-2-2-1-2-2-1-2-2-2-1-4-2-2-1-4-1-4-1-4-1-5-1-5-1-3 0-4-1-3 0-3 0-3 1-4 0-3 0-3 1-2 1-3 1-2 1-1 1-1 2-1 1 0 2 2 2 3 2 2 1 4 2 4 2 5 1 5 2 6 1 8 0 11 1 10 0 9-1 8 0 5-2 2-2-2-3-1-2-2-2-3-2-3-2-3-2-4-2-4-2-4-1-5-1-6-1-5-1-7-1-3-1-4 0-4 0-4 0-4 0-3 1-4 0-4 1-3 1-3 1-2 1-3 2-1 1-1 2-1 2 1 2 2 2 3 2 4 2 4 3 6 2 6 2 7 2 8 1 13 1 13 0 13 0 11-1 9-1 4-3 1-3-2-3-2-3-3-3-3-2-4-3-4-2-5-2-5-2-5-2-7-1-6-1-7-1-7-1-5-1-4 0-5 0-4 0-4 0-5 0-4 1-4 0-4 1-3 1-4 1-3 2-3 1-2 2-1 2-1 2 0 3 1 2 3 3 4 3 5 3 6 2 8 3 9 3 10 2 13 1 18 1 18 1 16-1 11-2 7-3 3-4-1-4-3-4-3-3-4-4-5-3-4-3-5-2-6-3-7-2-7-2-7-1-8-2-8-1-8-1-5 0-5-1-5 0-5 0-4 0-5 0-4 0-4 1-5 0-4 1-4 1-4 1-3 1-4 1-3 1-4 2-3 2-2 2-2 2-1 3 0 3 2 3 3 4 5 3 7 4 10 4 11 3 13 4 16 3 20 2 27 1 23-1 18-2 12-3 7-4 2-5-2-5-4-6-5-4-5-5-5-4-6-4-6-3-8-3-8-2-9-2-10-2-10-1-10-1-10-1-6-1-6-1-5 0-5-1-5 0-5-1-4 0-5-1-4 0-4-1-4 0-4-1-3-1-4-1-3-1-4-2-3-1-3-2-3-2-2-2-2-3 0-3 1-3 2-4 4-3 7-4 9-4 11-4 14-4 15-4 18-3 28-2 27 0 22 2 16 3 9 4 5 5 0 6-4 5-5 6-5 5-5 4-5 5-6 3-8 4-8 2-10 2-11 2-11 2-10 1-11 1-9 1-6 1-5 1-6 0-5 1-5 1-5 1-4 1-4 1-5 1-4 1-3 1-4 1-3 2-3 2-2 2-2 2 0 3 0 3 2 3 3 3 5 3 7 4 8 3 11 3 12 3 13 3 19 2 24 1 21-1 16-2 11-3 6-4 1-4-2-5-4-5" stroke="#f00000" stroke-width="2.3" fill="none" stroke-linejoin="round"/>
<path d="M204.6 993C208.1 992.6 217.8 991.7 226.1 990.8C234.3 989.8 245.7 988.8 254.1 987.2C262.6 985.6 269.7 983.6 276.6 981.2C283.5 978.8 289.1 976.1 295.3 972.8C301.6 969.5 306.9 965.9 314 961.6C321.2 957.2 329.6 951.6 338.4 946.6C347.1 941.6 355.5 937.1 366.4 931.6C377.4 926.2 391.4 919 403.9 913.9C416.4 908.7 428.8 904.7 441.3 900.8C453.8 896.9 463.1 893.8 478.7 890.5C494.3 887.1 516.2 883.2 534.9 880.7C553.6 878.3 577.2 876.8 591 875.9C604.9 874.9 605.8 875.5 618 875.1C630.2 874.7 647.1 873.4 664.1 873.6C681.2 873.8 701.6 874.4 720.3 876.4C739 878.4 759.3 882.5 776.4 885.8C793.6 889.1 810.8 892.6 823.2 896.1C835.7 899.5 841 901.7 851.3 906.4C861.6 911 875.6 917.4 885 924.1C894.4 930.9 902.5 939.1 907.5 946.6C912.4 954.1 914.8 961.6 914.9 969.1C915.1 976.6 911.2 984 908.4 991.5C905.6 999 902.9 1006.5 898.1 1014C893.3 1021.5 885.6 1028.6 879.4 1036.4C873.1 1044.2 864.7 1055 860.7 1060.8C856.6 1066.5 855.5 1068.3 855.1 1071.1C854.6 1073.9 855.4 1076.1 857.9 1077.6C860.4 1079.2 864.9 1080.6 870 1080.4C875.2 1080.3 881.9 1079.3 888.7 1076.7C895.6 1074 904.3 1070 911.2 1064.5C918.1 1059.1 925.4 1050.8 929.9 1043.9C934.4 1037.1 937.7 1029.9 938.3 1023.3C939 1016.8 935.8 1009.9 933.7 1004.6C931.5 999.3 928.4 995.6 925.2 991.5C922.1 987.5 919.2 983.1 914.9 980.3C910.7 977.5 905.3 975 900 974.7C894.7 974.4 889.5 975.6 883.1 978.4C876.7 981.2 868.5 986.5 861.6 991.5C854.7 996.5 849.9 1002.8 842 1008.4C834 1014 820.1 1022 813.9 1025.2C807.6 1028.4 807.6 1028 804.5 1027.6C801.4 1027.3 799.8 1027.5 795.2 1023.3C790.5 1019.2 784.2 1009 776.4 1002.8C768.6 996.5 756.2 990 748.4 985.9C740.6 981.9 735.3 980 729.7 978.4C724 976.8 720 975.9 714.7 976.2C709.4 976.5 704.7 977.7 697.8 980.3C691 982.9 682.2 988.4 673.5 991.5C664.8 994.6 653.9 997.4 645.4 999C637 1000.6 629.2 1001.1 623 1001.3C616.7 1001.4 613 1000.9 608 999.9C603 999 595.5 996 593 995.3" stroke="#ff0000" stroke-width="1.25" fill="none" stroke-linejoin="round" />
</g>
<g font-size="48" fill="#262626">
<text x="198.3" y="1140" text-anchor="middle">0</text>
<text x="336.5" y="1140" text-anchor="middle">10</text>
<text x="474.7" y="1140" text-anchor="middle">20</text>
<text x="612.9" y="1140" text-anchor="middle">30</text>
<text x="751.1" y="1140" text-anchor="middle">40</text>
<text x="889.3" y="1140" text-anchor="middle">50</text>
<text x="1027.5" y="1140" text-anchor="middle">60</text>
<text x="185.5" y="1090.8" text-anchor="end">-10</text>
<text x="185.5" y="1051.6" text-anchor="end">-5</text>
<text x="185.5" y="1012.5" text-anchor="end">0</text>
<text x="185.5" y="973.4" text-anchor="end">5</text>
<text x="185.5" y="934.2" text-anchor="end">10</text>
</g>
<g id="ax-f">
<rect x="1290.3" y="875.2" width="827.7" height="205.6" fill="#fff"/>
<path d="M1317.9 1080.8V875.2M1345.5 1080.8V875.2M1373.1 1080.8V875.2M1400.7 1080.8V875.2M1428.2 1080.8V875.2M1455.8 1080.8V875.2M1483.4 1080.8V875.2M1511 1080.8V875.2M1538.6 1080.8V875.2M1566.2 1080.8V875.2M1593.8 1080.8V875.2M1621.4 1080.8V875.2M1649 1080.8V875.2M1676.6 1080.8V875.2M1704.2 1080.8V875.2M1731.7 1080.8V875.2M1759.3 1080.8V875.2M1786.9 1080.8V875.2M1814.5 1080.8V875.2M1842.1 1080.8V875.2M1869.7 1080.8V875.2M1897.3 1080.8V875.2M1924.9 1080.8V875.2M1952.5 1080.8V875.2M1980.1 1080.8V875.2M2007.6 1080.8V875.2M2035.2 1080.8V875.2M2062.8 1080.8V875.2M2090.4 1080.8V875.2M1290.3 1076.7H2118M1290.3 1069.1H2118M1290.3 1061.5H2118M1290.3 1053.9H2118M1290.3 1046.3H2118M1290.3 1038.7H2118M1290.3 1031H2118M1290.3 1023.4H2118M1290.3 1015.8H2118M1290.3 1008.2H2118M1290.3 1000.6H2118M1290.3 993H2118M1290.3 985.4H2118M1290.3 977.8H2118M1290.3 970.2H2118M1290.3 962.6H2118M1290.3 955H2118M1290.3 947.3H2118M1290.3 939.7H2118M1290.3 932.1H2118M1290.3 924.5H2118M1290.3 916.9H2118M1290.3 909.3H2118M1290.3 901.7H2118M1290.3 894.1H2118M1290.3 886.5H2118M1290.3 878.9H2118" stroke="#c6c6c6" stroke-width="1" stroke-dasharray="1.2 2.9" fill="none"/>
<path d="M1290.3 875.2H2118V1080.8H1290.3ZM1428.2 1080.8v-8.5M1428.2 875.2v8.5M1566.2 1080.8v-8.5M1566.2 875.2v8.5M1704.2 1080.8v-8.5M1704.2 875.2v8.5M1842.1 1080.8v-8.5M1842.1 875.2v8.5M1980.1 1080.8v-8.5M1980.1 875.2v8.5M1290.3 1069.1h8.5M2118 1069.1h-8.5M1290.3 1031h8.5M2118 1031h-8.5M1290.3 993h8.5M2118 993h-8.5M1290.3 955h8.5M2118 955h-8.5M1290.3 916.9h8.5M2118 916.9h-8.5" stroke="#262626" stroke-width="1.15" fill="none" stroke-opacity="0.8"/>
</g>
<g clip-path="url(#cp-f)">
<ellipse cx="1656.3" cy="980" rx="33.8" ry="11.6" transform="rotate(-7 1656.3 980)" fill="none" stroke="#00ff00" stroke-width="1.3"/>
<ellipse cx="1656.3" cy="980" rx="32.6" ry="10.7" transform="rotate(-7 1656.3 980)" fill="none" stroke="#00ff00" stroke-width="1.3"/>
<ellipse cx="1656.3" cy="981.2" rx="21.9" ry="9.2" transform="rotate(-7 1656.3 981.2)" fill="none" stroke="#00ff00" stroke-width="1.3"/>
<ellipse cx="1656.3" cy="981.2" rx="20.7" ry="8.3" transform="rotate(-7 1656.3 981.2)" fill="none" stroke="#00ff00" stroke-width="1.3"/>
<ellipse cx="1656" cy="1005.3" rx="35.8" ry="12.6" transform="rotate(5 1656 1005.3)" fill="none" stroke="#00ff00" stroke-width="1.3"/>
<ellipse cx="1656" cy="1005.3" rx="34.6" ry="11.7" transform="rotate(5 1656 1005.3)" fill="none" stroke="#00ff00" stroke-width="1.3"/>
<ellipse cx="1656.3" cy="1004.6" rx="28.0" ry="10.6" transform="rotate(5 1656.3 1004.6)" fill="none" stroke="#00ff00" stroke-width="1.3"/>
<ellipse cx="1656.3" cy="1004.6" rx="26.8" ry="9.7" transform="rotate(5 1656.3 1004.6)" fill="none" stroke="#00ff00" stroke-width="1.3"/>
<path d="M1296.6 991.2C1301.7 990.7 1317.6 989.9 1327.4 988.7C1337.3 987.5 1346.1 986.4 1355.5 984C1364.9 981.7 1375.8 978 1383.6 974.7C1391.4 971.4 1394.5 968.9 1402.3 964.4C1410.1 959.9 1421 952.8 1430.4 947.5C1439.7 942.2 1447.5 937.9 1458.4 932.6C1469.4 927.3 1483.4 920.6 1495.9 915.7C1508.4 910.9 1520.8 907.3 1533.3 903.6C1545.8 899.8 1555.1 896.7 1570.7 893.3C1586.3 889.8 1611.3 885.4 1626.9 883C1642.5 880.6 1650.5 880 1664.3 878.9C1678.2 877.7 1696.2 876.5 1710 875.9C1723.7 875.2 1732.9 875 1746.8 875.1C1760.7 875.2 1777.4 875.5 1793.6 876.6C1809.8 877.7 1828.5 879.4 1844.1 881.5C1859.7 883.6 1873.7 886.2 1887.2 889.1C1900.6 892.1 1913.7 895.5 1924.6 898.9C1935.5 902.2 1944.6 905.9 1952.7 909.2C1960.8 912.5 1965.5 914.5 1973.3 918.5C1981.1 922.6 1992 927.9 1999.5 933.5C2006.9 939.1 2014.4 945.7 2018.2 952.2C2021.9 958.8 2023.6 966.4 2021.9 972.8C2020.2 979.2 2011.6 984.4 2007.9 990.6C2004.1 996.8 2003.4 1003.5 1999.5 1010.2C1995.6 1016.9 1989.8 1023.7 1984.5 1030.8C1979.2 1038 1971.9 1047.4 1967.6 1053.3C1963.4 1059.2 1960.6 1063 1959.2 1066.4C1957.8 1069.8 1958.1 1071.9 1959.2 1073.9C1960.3 1075.8 1962.2 1077.2 1965.8 1078C1969.4 1078.8 1974.5 1079.6 1980.7 1078.6C1987 1077.6 1995.4 1075.3 2003.2 1072C2011 1068.7 2020.7 1064.2 2027.5 1058.9C2034.4 1053.6 2040.3 1046.4 2044.4 1040.2C2048.4 1033.9 2050.9 1027.4 2051.9 1021.5C2052.8 1015.5 2051.6 1009.8 2050 1004.6C2048.4 999.5 2045.9 995 2042.5 990.6C2039.1 986.2 2034.1 980.8 2029.4 978.4C2024.7 976.1 2020.7 974.5 2014.4 976.6C2008.2 978.6 1997 986.8 1992 990.6C1987 994.3 1987.9 995.4 1984.5 999C1981.1 1002.6 1976.7 1007.9 1971.4 1012.1C1966.1 1016.3 1957.5 1021.5 1952.7 1024.3C1947.8 1027.1 1944.9 1028.5 1942.4 1029C1939.9 1029.4 1939.7 1029.3 1937.7 1027.1C1935.7 1024.9 1934 1020.2 1930.2 1015.9C1926.5 1011.5 1920.8 1005.9 1915.2 1000.9C1909.6 995.9 1902.8 990.3 1896.5 985.9C1890.3 981.5 1883.4 977.1 1877.8 974.7C1872.2 972.2 1868.1 971 1862.8 971.3C1857.5 971.6 1852.8 973.5 1846 976.6C1839.1 979.6 1829.8 985.6 1821.7 989.7C1813.5 993.7 1804.5 998.6 1797.3 1000.9C1790.1 1003.1 1787 1003.8 1778.6 1003.1C1770.2 1002.5 1756.8 999.4 1746.8 997.1C1736.8 994.9 1726.5 991.2 1718.7 989.7C1710.9 988.1 1706.2 988.1 1700 987.8C1693.8 987.5 1689.1 987.3 1681.3 987.8C1673.5 988.3 1657.9 990.1 1653.2 990.6" stroke="#00ff00" stroke-width="1.3" fill="none" stroke-linejoin="round" />
<path transform="scale(0.5)" d="M3314 1969l-1 0 0 1-1 0-1 0-1 0-1 0 0-1 1-1 1 0 1 0 1 0 1 0 1 0 0 1-1 1-1 0-1 1-2 0-1 0-1 0-1-1 1-1 1-1 2-1 2 0 2 0 1 0 1 1 0 1-1 1-2 1-2 1-2 0-2 0-2 0-1-1 0-1 1-2 2-1 3-1 2 0 3 0 2 0 1 1 0 2-1 1-3 2-3 1-3 0-3 1-3-1-1-1 0-2 2-2 2-2 4-1 4-1 4 0 3 1 2 1 0 2-2 3-4 2-4 2-5 1-5 0-4-1-2-2 0-3 3-3 4-2 6-2 6-2 6 0 4 1 3 3" stroke="#ff0000" stroke-width="1.8" fill="none" stroke-linejoin="round"/>
<path d="M2016.3 990.6C2015.1 993.6 2012.6 1001.7 2008.8 1008.4C2005.1 1015.1 1999.1 1023 1993.8 1030.8C1988.5 1038.6 1980.9 1048.9 1977 1055.2C1973.1 1061.4 1971.2 1064.8 1970.4 1068.3C1969.7 1071.7 1970.6 1073.7 1972.3 1075.7C1974 1077.8 1976.8 1079.5 1980.7 1080.4C1984.6 1081.4 1989.5 1082.3 1995.7 1081.4C2002 1080.4 2009.8 1078.2 2018.2 1074.8C2026.6 1071.4 2038.4 1066.2 2046.2 1060.8C2054 1055.3 2060.3 1048.6 2065 1042.1C2069.6 1035.5 2072.9 1027.7 2074.3 1021.5C2075.7 1015.2 2074.5 1009.8 2073.4 1004.6C2072.3 999.5 2070.7 995.9 2067.8 990.6C2064.8 985.3 2057.6 975.8 2055.6 972.8" stroke="#ff0000" stroke-width="1.25" fill="none" stroke-linejoin="round" />
<path d="M1296.6 991.3C1301.7 990.9 1317.6 990.1 1327.4 988.9C1337.3 987.7 1346.1 986.6 1355.5 984.2C1364.9 981.9 1375.8 978.1 1383.6 974.9C1391.4 971.6 1394.5 969.1 1402.3 964.6C1410.1 960.1 1421 953 1430.4 947.7C1439.7 942.4 1447.5 938.1 1458.4 932.8C1469.4 927.5 1483.4 920.7 1495.9 915.9C1508.4 911.1 1520.8 907.5 1533.3 903.7C1545.8 900 1555.1 896.9 1570.7 893.5C1586.3 890 1611.3 885.6 1626.9 883.2C1642.5 880.8 1650.5 880.2 1664.3 879C1678.2 877.9 1696.2 876.7 1710 876C1723.7 875.4 1732.9 874.9 1746.8 874.9C1760.7 875 1777.4 875.2 1793.6 876.2C1809.8 877.2 1828.5 878.9 1844.1 880.9C1859.7 882.9 1873.7 885.6 1887.2 888.4C1900.6 891.2 1913.7 894.5 1924.6 897.8C1935.5 901 1944.6 904.8 1952.7 907.9C1960.8 911 1963.9 912.6 1973.3 916.3C1982.6 919.9 1998.2 924.4 2008.8 929.8C2019.4 935.1 2030.7 941.3 2036.9 948.5C2043.1 955.7 2046.9 965.8 2046.2 972.8C2045.6 979.8 2036.9 985.9 2033.1 990.6C2029.4 995.3 2027.8 996.7 2023.8 1000.9C2019.7 1005.1 2013.8 1011 2008.8 1015.9C2003.8 1020.7 1997.4 1027 1993.8 1029.9C1990.3 1032.8 1988.9 1032.9 1987.3 1033.1C1985.7 1033.2 1985.9 1033.4 1984.5 1030.8C1983.1 1028.3 1981.4 1022.1 1978.9 1017.7C1976.4 1013.4 1973.9 1009.6 1969.5 1004.6C1965.1 999.6 1958.6 993.2 1952.7 987.8C1946.7 982.3 1939.3 975.3 1934 971.9C1928.6 968.4 1924.6 967.5 1920.8 967.2C1917.1 966.9 1915.2 967.5 1911.5 970C1907.7 972.5 1903.1 978.3 1898.4 982.2C1893.7 986.1 1889 990 1883.4 993.4C1877.8 996.8 1870.6 1000.4 1864.7 1002.8C1858.8 1005.1 1853.5 1007.3 1847.9 1007.4C1842.2 1007.6 1836.9 1005.7 1831 1003.7C1825.1 1001.7 1818.5 997.9 1812.3 995.3C1806.1 992.6 1799.5 989.5 1793.6 987.8C1787.7 986.1 1782 985.2 1776.7 985C1771.4 984.7 1768.3 985 1761.8 986.3C1755.2 987.5 1745.2 990.8 1737.4 992.5C1729.6 994.1 1721.2 995.7 1715 996.2C1708.7 996.7 1707.2 995.8 1700 995.3C1692.8 994.7 1681.3 993.6 1671.9 993C1662.6 992.5 1648.5 992.1 1643.9 991.9" stroke="#ff0000" stroke-width="1.25" fill="none" stroke-linejoin="round" />
</g>
<g font-size="48" fill="#262626">
<text x="1290.3" y="1137.6" text-anchor="middle">0</text>
<text x="1428.2" y="1137.6" text-anchor="middle">10</text>
<text x="1566.2" y="1137.6" text-anchor="middle">20</text>
<text x="1704.2" y="1137.6" text-anchor="middle">30</text>
<text x="1842.1" y="1137.6" text-anchor="middle">40</text>
<text x="1980.1" y="1137.6" text-anchor="middle">50</text>
<text x="2118" y="1137.6" text-anchor="middle">60</text>
<text x="1277" y="1087.1" text-anchor="end">-10</text>
<text x="1277" y="1049" text-anchor="end">-5</text>
<text x="1277" y="1011" text-anchor="end">0</text>
<text x="1277" y="973" text-anchor="end">5</text>
<text x="1277" y="934.9" text-anchor="end">10</text>
</g>
<text x="199.8" y="112.2" font-size="57.8" fill="#262626">×</text>
<text x="236.5" y="105.2" font-size="48" fill="#262626">10</text>
<text x="284.2" y="82.4" font-size="38.4" fill="#262626">172</text>
<text x="888.3" y="434.8" font-size="57.8" fill="#262626">×</text>
<text x="925" y="427.8" font-size="48" fill="#262626">10</text>
<text x="972.7" y="405" font-size="38.4" fill="#262626">172</text>
<text x="607" y="98" font-size="53" fill="#000" text-anchor="middle">(a)</text>
<text x="1697.5" y="97.2" font-size="53" fill="#000" text-anchor="middle">(b)</text>
<text x="607" y="494.8" font-size="53" fill="#000" text-anchor="middle">(c)</text>
<text x="1698.5" y="494.9" font-size="53" fill="#000" text-anchor="middle">(d)</text>
<text x="607.1" y="857" font-size="53" fill="#000" text-anchor="middle">(e)</text>
<text x="1714.5" y="863.7" font-size="53" fill="#000" text-anchor="middle">(f)</text>
<text transform="translate(578 379.2) scale(1.02 0.95)" font-size="62" font-style="italic" fill="#262626">m</text>
<text x="624.8" y="409.2" font-size="49.5" font-style="italic" fill="#262626">5</text>
<text transform="translate(1667.8 413.3) scale(1.02 0.95)" font-size="62" font-style="italic" fill="#262626">m</text>
<text x="1714.6" y="443.3" font-size="49.5" font-style="italic" fill="#262626">5</text>
<text transform="translate(577.2 773.6) scale(1.02 0.95)" font-size="62" font-style="italic" fill="#262626">m</text>
<text x="624" y="803.6" font-size="49.5" font-style="italic" fill="#262626">5</text>
<text transform="translate(1669 777.6) scale(1.02 0.95)" font-size="62" font-style="italic" fill="#262626">m</text>
<text x="1715.8" y="807.6" font-size="49.5" font-style="italic" fill="#262626">5</text>
<text transform="translate(527.4 1161) scale(1.02 0.95)" font-size="62" font-style="italic" fill="#262626">m</text>
<text x="574.2" y="1191" font-size="49.5" font-style="italic" fill="#262626">5</text>
<text transform="translate(1621.4 1157.6) scale(1.02 0.95)" font-size="62" font-style="italic" fill="#262626">m</text>
<text x="1668.2" y="1187.6" font-size="49.5" font-style="italic" fill="#262626">5</text>
<g transform="translate(113.9 243.5) rotate(-90)" font-style="italic" fill="#262626"><text transform="scale(1.02 0.95)" font-size="62">m</text><text x="46" y="30" font-size="49.5">4</text></g>
<g transform="translate(1181.5 244.1) rotate(-90)" font-style="italic" fill="#262626"><text transform="scale(1.02 0.95)" font-size="62">m</text><text x="46" y="30" font-size="49.5">4</text></g>
<g transform="translate(73.5 639.4) rotate(-90)" font-style="italic" fill="#262626"><text transform="scale(1.02 0.95)" font-size="62">m</text><text x="46" y="30" font-size="49.5">4</text></g>
<g transform="translate(1166 641.5) rotate(-90)" font-style="italic" fill="#262626"><text transform="scale(1.02 0.95)" font-size="62">m</text><text x="46" y="30" font-size="49.5">4</text></g>
<g transform="translate(73.5 1014) rotate(-90)" font-style="italic" fill="#262626"><text transform="scale(1.02 0.95)" font-size="62">m</text><text x="46" y="30" font-size="49.5">4</text></g>
<g transform="translate(1166 1014) rotate(-90)" font-style="italic" fill="#262626"><text transform="scale(1.02 0.95)" font-size="62">m</text><text x="46" y="30" font-size="49.5">4</text></g>
<rect x="889.5" y="131.4" width="206.2" height="115.9" fill="#fff" stroke="#262626" stroke-width="1.1"/>
<path d="M896.1 161.4h64.2" stroke="#0000ff" stroke-width="1.2" fill="none"/>
<text x="965.5" y="167" font-size="34.5" font-weight="bold" fill="#000">q<tspan font-size="28" dy="16.5">l</tspan><tspan dy="-16.5"> = 0.65</tspan></text>
<path d="M896.1 217.4h64.2" stroke="#ff0000" stroke-width="1.2" fill="none"/>
<text x="965.5" y="222" font-size="34.5" font-weight="bold" fill="#000">q<tspan font-size="28" dy="16.5">l</tspan><tspan dy="-16.5"> = 0.72</tspan></text>
<rect x="1958.7" y="132.7" width="204.9" height="115.5" fill="#fff" stroke="#262626" stroke-width="1.1"/>
<path d="M1965.3 162.1h64.2" stroke="#0000ff" stroke-width="1.2" fill="none"/>
<text x="2034.7" y="167.9" font-size="34.5" font-weight="normal" fill="#000">q<tspan font-size="28" dy="16.5">l</tspan><tspan dy="-16.5"> = 0.73</tspan></text>
<path d="M1965.3 218.7h64.2" stroke="#ff0000" stroke-width="1.2" fill="none"/>
<text x="2034.7" y="222.5" font-size="34.5" font-weight="normal" fill="#000">q<tspan font-size="28" dy="16.5">l</tspan><tspan dy="-16.5"> = 0.78</tspan></text>
<rect x="850.4" y="511.6" width="207.3" height="115.7" fill="#fff" stroke="#262626" stroke-width="1.1"/>
<path d="M857 541.5h64.2" stroke="#0000ff" stroke-width="1.2" fill="none"/>
<text x="926.4" y="547.5" font-size="34.5" font-weight="bold" fill="#000">q<tspan font-size="28" dy="16.5">l</tspan><tspan dy="-16.5"> = 0.79</tspan></text>
<path d="M857 597.4h64.2" stroke="#ff0000" stroke-width="1.2" fill="none"/>
<text x="926.4" y="602.1" font-size="34.5" font-weight="bold" fill="#000">q<tspan font-size="28" dy="16.5">l</tspan><tspan dy="-16.5"> = 0.9</tspan></text>
<rect x="1992.7" y="508.2" width="206.8" height="117.2" fill="#fff" stroke="#262626" stroke-width="1.1"/>
<path d="M1999.3 539.6h64.2" stroke="#0000ff" stroke-width="1.2" fill="none"/>
<text x="2068.7" y="545.6" font-size="34.5" font-weight="bold" fill="#000">q<tspan font-size="28" dy="16.5">l</tspan><tspan dy="-16.5"> = 0.91</tspan></text>
<path d="M1999.3 595.4h64.2" stroke="#ff0000" stroke-width="1.2" fill="none"/>
<text x="2068.7" y="599.8" font-size="34.5" font-weight="bold" fill="#000">q<tspan font-size="28" dy="16.5">l</tspan><tspan dy="-16.5"> = 1</tspan></text>
<rect x="851.4" y="875.2" width="206.3" height="115.7" fill="#fff" stroke="#262626" stroke-width="1.1"/>
<path d="M858 905.6h64.2" stroke="#00ff00" stroke-width="1.2" fill="none"/>
<text x="927.4" y="911.1" font-size="34.5" font-weight="bold" fill="#000">q<tspan font-size="28" dy="16.5">l</tspan><tspan dy="-16.5"> = 1.1</tspan></text>
<path d="M858 961h64.2" stroke="#ff0000" stroke-width="1.2" fill="none"/>
<text x="927.4" y="965.7" font-size="34.5" font-weight="bold" fill="#000">q<tspan font-size="28" dy="16.5">l</tspan><tspan dy="-16.5"> = 1.29</tspan></text>
<rect x="1973.5" y="874.2" width="206.9" height="115.5" fill="#fff" stroke="#262626" stroke-width="1.1"/>
<path d="M1980.1 904.6h64.2" stroke="#00ff00" stroke-width="1.2" fill="none"/>
<text x="2049.5" y="909.9" font-size="34.5" font-weight="bold" fill="#000">q<tspan font-size="28" dy="16.5">l</tspan><tspan dy="-16.5"> = 1.3</tspan></text>
<path d="M1980.1 960.2h64.2" stroke="#ff0000" stroke-width="1.2" fill="none"/>
<text x="2049.5" y="964.5" font-size="34.5" font-weight="bold" fill="#000">q<tspan font-size="28" dy="16.5">l</tspan><tspan dy="-16.5"> = 1.31</tspan></text>
</svg>
</body></html>
